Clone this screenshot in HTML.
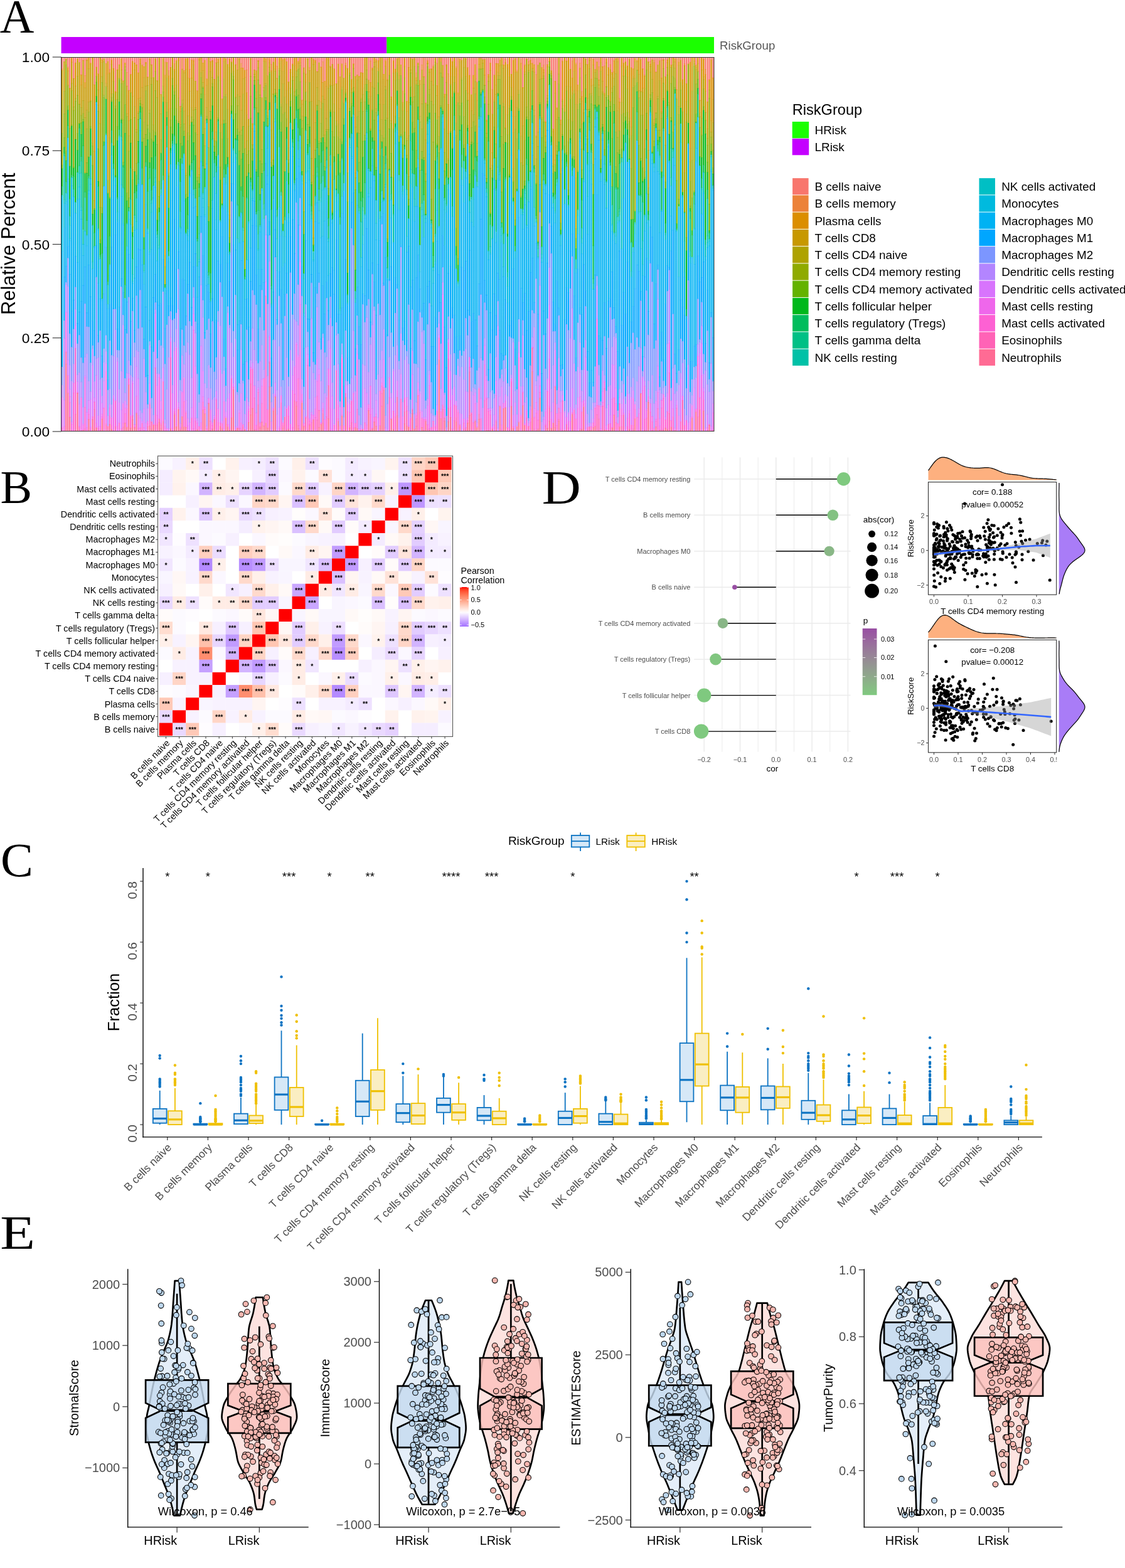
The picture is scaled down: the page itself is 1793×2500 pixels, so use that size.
<!DOCTYPE html>
<html><head><meta charset="utf-8"><title>Immune infiltration figure</title>
<style>html,body{margin:0;padding:0;background:#fff;} svg{display:block;}</style></head>
<body><svg width="1793" height="2500" viewBox="0 0 1793 2500" font-family="'Liberation Sans', Arial, Helvetica, sans-serif">
<rect width="1793" height="2500" fill="#fff"/>
<text transform="translate(-0.32 51.6) scale(1 1)" font-size="75.5" font-family="'Liberation Serif', 'Times New Roman', serif" fill="#000">A</text>
<rect x="97.6" y="59" width="518.68" height="26" fill="#C400FF"/>
<rect x="616.28" y="59" width="521.72" height="26" fill="#1BFF00"/>
<text x="1147" y="79.3" font-size="18.7" text-anchor="start" fill="#555">RiskGroup</text>
<path stroke="#F8766D" stroke-width="2.27" fill="none" d="M99 91.0v18.9M102.25 91.0v7.7M105.25 91.0v3.7M108.25 91.0v16.2M111.25 91.0v49.9M114.25 91.0v1.6M117.25 91.0v34.3M120.25 91.0v9.3M123.5 91.0v3.6M126.5 91.0v8.7M129.5 91.0v28.4M132.5 91.0v5.5M135.5 91.0v29.6M138.5 91.0v2.8M141.5 91.0v1.8M144.5 91.0v10.1M147.75 91.0v1.3M150.75 91.0v44.4M153.75 91.0v16.3M156.75 91.0v27.1M162.75 91.0v4.7M165.75 91.0v2.7M169 91.0v10.4M172 91.0v7.3M175 91.0v19.5M178 91.0v5.0M181 91.0v18.4M184 91.0v55.1M187 91.0v20.2M190 91.0v12.3M193.25 91.0v3.0M196.25 91.0v38.1M199.25 91.0v9.5M202.25 91.0v24.7M205.25 91.0v53.2M208.25 91.0v27.9M211.25 91.0v7.1M214.5 91.0v9.7M217.5 91.0v12.7M220.5 91.0v25.3M223.5 91.0v3.3M226.5 91.0v13.0M229.5 91.0v15.7M232.5 91.0v8.5M235.5 91.0v32.0M238.75 91.0v2.7M241.75 91.0v12.2M244.75 91.0v32.8M247.75 91.0v3.1M250.75 91.0v37.9M253.75 91.0v1.6M256.75 91.0v59.9M260 91.0v1.5M263 91.0v8.1M266 91.0v8.5M269 91.0v21.5M272 91.0v16.7M278 91.0v10.6M281 91.0v5.8M284.25 91.0v1.8M287.25 91.0v78.5M290.25 91.0v2.7M293.25 91.0v21.6M296.25 91.0v3.1M299.25 91.0v2.5M302.25 91.0v19.9M305.5 91.0v4.8M308.5 91.0v4.6M311.5 91.0v38.6M314.5 91.0v54.2M317.5 91.0v2.1M323.5 91.0v9.5M326.5 91.0v5.3M329.75 91.0v35.0M335.75 91.0v6.6M338.75 91.0v5.7M341.75 91.0v35.3M344.75 91.0v1.0M347.75 91.0v3.9M351 91.0v1.2M354 91.0v66.9M360 91.0v2.9M363 91.0v11.8M366 91.0v3.6M369 91.0v8.2M372 91.0v1.3M375.25 91.0v12.4M381.25 91.0v2.8M384.25 91.0v10.3M387.25 91.0v17.5M390.25 91.0v21.3M393.25 91.0v20.7M396.25 91.0v99.2M399.5 91.0v2.7M402.5 91.0v106.3M405.5 91.0v20.9M408.5 91.0v22.0M411.5 91.0v5.9M414.5 91.0v43.8M417.5 91.0v64.5M423.75 91.0v2.8M426.75 91.0v2.0M429.75 91.0v2.3M432.75 91.0v11.9M435.75 91.0v7.8M438.75 91.0v1.1M441.75 91.0v14.6M448 91.0v1.1M451 91.0v3.8M454 91.0v2.6M457 91.0v7.6M460 91.0v39.5M463 91.0v19.5M466.25 91.0v11.2M475.25 91.0v7.1M481.25 91.0v68.9M484.25 91.0v17.2M487.25 91.0v2.2M490.5 91.0v3.1M493.5 91.0v17.1M496.5 91.0v1.1M499.5 91.0v4.1M502.5 91.0v5.7M505.5 91.0v23.4M508.5 91.0v8.7M511.75 91.0v15.7M514.75 91.0v7.7M517.75 91.0v38.5M526.75 91.0v14.7M529.75 91.0v11.9M532.75 91.0v19.0M536 91.0v42.7M539 91.0v11.2M542 91.0v31.7M545 91.0v11.1M548 91.0v33.9M551 91.0v9.9M554 91.0v18.3M557.25 91.0v1.1M560.25 91.0v35.8M563.25 91.0v11.0M566.25 91.0v31.2M569.25 91.0v28.9M572.25 91.0v30.9M575.25 91.0v24.9M578.25 91.0v25.3M587.5 91.0v36.9M590.5 91.0v6.4M593.5 91.0v17.9M599.5 91.0v4.3M602.75 91.0v5.9M605.75 91.0v1.3M611.75 91.0v27.5M614.75 91.0v5.0M617.75 91.0v3.2M620.75 91.0v1.2M623.75 91.0v63.5M627 91.0v6.1M630 91.0v19.3M633 91.0v2.7M636 91.0v1.3M639 91.0v12.3M642 91.0v54.3M645 91.0v1.9M648.25 91.0v70.5M651.25 91.0v1.0M657.25 91.0v3.6M663.25 91.0v25.3M666.25 91.0v9.4M669.25 91.0v37.4M672.5 91.0v12.6M675.5 91.0v2.0M678.5 91.0v73.3M681.5 91.0v5.4M684.5 91.0v18.8M687.5 91.0v18.9M690.5 91.0v13.3M696.75 91.0v10.2M702.75 91.0v1.2M705.75 91.0v13.2M708.75 91.0v59.3M711.75 91.0v12.4M714.75 91.0v26.5M718 91.0v2.4M721 91.0v7.4M727 91.0v15.4M730 91.0v1.2M733 91.0v3.7M736 91.0v5.4M739.25 91.0v1.8M742.25 91.0v2.6M745.25 91.0v17.0M748.25 91.0v29.3M751.25 91.0v59.8M754.25 91.0v29.3M757.25 91.0v11.5M760.25 91.0v39.9M763.5 91.0v2.1M766.5 91.0v2.2M769.5 91.0v4.4M772.5 91.0v3.8M775.5 91.0v100.6M778.5 91.0v28.2M781.5 91.0v9.8M784.75 91.0v52.2M787.75 91.0v29.1M790.75 91.0v10.4M793.75 91.0v10.7M796.75 91.0v5.1M799.75 91.0v2.1M802.75 91.0v12.6M805.75 91.0v3.9M809 91.0v11.8M812 91.0v1.1M815 91.0v27.4M818 91.0v5.3M821 91.0v2.4M824 91.0v21.2M830.25 91.0v4.0M833.25 91.0v48.5M836.25 91.0v12.4M839.25 91.0v3.4M842.25 91.0v7.2M845.25 91.0v5.4M848.25 91.0v10.0M851.25 91.0v12.4M854.5 91.0v28.2M857.5 91.0v13.1M860.5 91.0v9.2M863.5 91.0v16.7M866.5 91.0v13.1M869.5 91.0v102.3M872.5 91.0v12.4M875.75 91.0v1.1M878.75 91.0v21.8M881.75 91.0v115.1M884.75 91.0v38.6M887.75 91.0v81.1M890.75 91.0v1.0M893.75 91.0v100.4M896.75 91.0v5.8M900 91.0v1.4M903 91.0v6.4M909 91.0v19.6M912 91.0v6.2M915 91.0v2.0M918 91.0v9.7M921 91.0v44.3M924.25 91.0v9.5M927.25 91.0v55.0M933.25 91.0v3.5M936.25 91.0v11.9M939.25 91.0v1.3M945.5 91.0v3.9M948.5 91.0v19.8M951.5 91.0v8.2M954.5 91.0v15.6M960.5 91.0v15.7M963.5 91.0v14.3M966.5 91.0v3.3M969.75 91.0v17.0M972.75 91.0v11.8M975.75 91.0v24.6M978.75 91.0v5.0M981.75 91.0v2.5M987.75 91.0v66.2M991 91.0v2.4M994 91.0v9.9M997 91.0v7.7M1000 91.0v14.3M1003 91.0v3.9M1006 91.0v17.1M1009 91.0v18.5M1012 91.0v2.3M1015.25 91.0v4.8M1018.25 91.0v1.2M1021.25 91.0v4.0M1024.25 91.0v18.5M1027.25 91.0v28.6M1030.25 91.0v0.9M1033.25 91.0v7.9M1036.5 91.0v7.2M1039.5 91.0v4.6M1042.5 91.0v5.6M1045.5 91.0v24.0M1048.5 91.0v12.7M1051.5 91.0v6.0M1054.5 91.0v5.2M1057.5 91.0v4.4M1060.75 91.0v31.3M1063.75 91.0v4.7M1069.75 91.0v12.8M1075.75 91.0v3.0M1078.75 91.0v3.3M1082 91.0v2.4M1085 91.0v5.4M1088 91.0v36.0M1091 91.0v10.6M1094 91.0v42.4M1097 91.0v11.2M1100 91.0v8.0M1103 91.0v1.5M1106.25 91.0v1.2M1109.25 91.0v13.0M1112.25 91.0v1.8M1115.25 91.0v69.0M1121.25 91.0v3.7M1124.25 91.0v19.6M1127.5 91.0v71.5M1130.5 91.0v36.4M1133.5 91.0v4.8M1136.5 91.0v33.2"/>
<path stroke="#EC8239" stroke-width="2.27" fill="none" d="M99 109.3v2.7M108.25 106.6v2.2M117.25 124.7v1.0M120.25 99.7v1.4M129.5 118.8v1.2M135.5 120.0v11.8M138.5 93.2v3.1M175 109.9v6.2M187 110.6v1.0M202.25 115.1v22.1M205.25 143.6v1.3M238.75 93.1v1.1M241.75 102.6v1.3M253.75 92.0v1.5M260 91.9v1.8M263 98.5v21.4M269 111.9v8.8M278 101.0v9.9M287.25 168.9v1.0M290.25 93.1v17.2M302.25 110.3v15.0M308.5 95.0v2.4M335.75 97.0v1.4M344.75 91.4v9.0M360 93.3v0.9M378.25 91.1v20.4M384.25 100.7v8.0M393.25 111.1v37.0M414.5 134.2v1.1M426.75 92.4v28.4M429.75 92.7v3.1M432.75 102.3v10.7M441.75 105.0v20.0M445 91.0v1.8M460 129.9v1.2M469.25 91.0v2.7M478.25 91.0v2.0M481.25 159.3v1.0M487.25 92.6v25.8M493.5 107.5v5.4M502.5 96.1v1.2M511.75 106.1v1.4M514.75 98.1v33.6M526.75 105.1v2.0M551 100.3v4.4M557.25 91.5v2.2M590.5 96.8v34.8M614.75 95.4v2.4M617.75 93.6v33.5M620.75 91.6v0.9M642 144.7v18.7M648.25 160.9v1.2M651.25 91.4v16.3M654.25 91.0v2.4M660.25 91.1v1.0M663.25 115.7v8.1M672.5 103.0v9.1M675.5 92.4v30.0M678.5 163.7v1.3M681.5 95.8v2.2M687.5 109.3v1.4M690.5 103.7v3.2M693.75 91.0v2.6M696.75 100.6v36.3M714.75 116.9v49.6M727 105.8v3.2M730 91.6v56.4M760.25 130.3v1.4M763.5 92.5v1.0M784.75 142.6v39.5M805.75 94.3v5.7M824 111.6v2.8M830.25 94.4v6.8M836.25 102.8v2.2M839.25 93.8v1.1M842.25 97.6v5.6M854.5 118.6v98.2M866.5 103.5v8.0M869.5 192.7v2.1M896.75 96.2v2.2M912 96.6v28.1M918 100.1v2.9M924.25 99.9v9.1M927.25 145.4v8.7M942.25 91.3v35.0M954.5 106.0v21.8M963.5 104.7v44.1M972.75 102.2v8.8M975.75 115.0v1.2M978.75 95.4v2.0M984.75 91.3v2.8M987.75 156.6v6.6M1009 108.9v1.2M1024.25 108.9v1.5M1027.25 119.0v2.7M1036.5 97.6v4.9M1042.5 96.0v4.0M1054.5 95.6v29.0M1060.75 121.7v1.3M1078.75 93.7v49.2M1082 92.8v6.6M1091 101.0v3.9M1100 98.4v1.2M1121.25 94.1v1.2M1124.25 110.0v9.0M1136.5 123.6v1.6"/>
<path stroke="#DB8E00" stroke-width="2.27" fill="none" d="M99 111.4v1.8M108.25 108.3v5.1M111.25 140.3v1.2M114.25 92.2v7.2M120.25 100.6v36.8M123.5 94.0v3.6M129.5 119.4v16.7M132.5 95.9v1.2M135.5 131.2v9.0M138.5 95.7v1.0M141.5 92.3v17.8M144.5 100.5v2.3M147.75 91.7v1.5M150.75 134.8v107.3M156.75 117.5v25.9M159.75 91.0v1.7M162.75 95.1v5.0M169 100.8v32.1M172 97.7v20.6M175 115.5v2.1M178 95.5v7.4M181 108.8v5.0M184 145.6v2.1M187 111.0v1.4M193.25 93.4v18.3M196.25 128.5v1.6M199.25 99.9v2.6M202.25 136.7v1.4M205.25 144.3v48.3M208.25 118.3v1.5M211.25 97.5v56.6M214.5 100.1v11.5M217.5 103.1v103.8M220.5 115.7v42.4M223.5 93.7v8.4M226.5 103.4v36.1M229.5 106.1v17.7M232.5 98.9v2.5M235.5 122.4v1.6M238.75 93.7v2.4M247.75 93.5v1.3M250.75 128.3v1.2M256.75 150.3v0.9M263 119.4v135.4M266 98.9v2.0M269 120.2v54.2M272 107.1v51.9M275 91.3v1.4M278 110.3v3.7M281 96.2v2.6M284.25 92.2v4.8M287.25 169.3v8.7M290.25 109.8v1.3M293.25 112.0v4.4M296.25 93.5v17.0M299.25 92.9v31.7M302.25 124.7v21.0M305.5 95.3v29.7M308.5 96.8v7.0M314.5 144.6v69.9M317.5 92.5v3.2M320.5 91.0v2.0M323.5 99.9v12.7M326.5 96.0v54.8M329.75 125.4v10.9M332.75 91.3v2.0M335.75 97.9v16.5M338.75 96.1v2.4M341.75 125.9v1.2M347.75 94.3v5.7M351 91.6v37.5M354 157.3v1.8M357 91.1v7.1M366 94.0v13.5M381.25 93.2v1.0M384.25 108.1v68.1M387.25 108.0v17.7M390.25 111.8v12.2M393.25 147.5v35.3M402.5 196.7v9.2M408.5 112.4v34.4M411.5 96.3v1.7M420.75 91.1v6.4M423.75 93.2v5.8M429.75 95.2v5.0M432.75 112.4v2.4M438.75 91.5v18.7M441.75 124.4v1.0M445 92.2v8.8M448 91.5v6.1M451 94.2v19.7M454 93.0v10.8M457 98.0v46.3M460 130.5v1.2M463 109.9v6.0M466.25 101.7v2.9M469.25 93.1v11.7M472.25 91.1v21.5M475.25 97.5v3.7M478.25 92.4v7.9M481.25 159.7v6.7M487.25 117.8v13.5M490.5 93.5v1.4M496.5 91.6v1.8M499.5 94.5v8.7M502.5 96.7v3.3M505.5 113.8v1.1M511.75 107.0v55.6M514.75 131.1v0.9M517.75 128.9v29.8M520.75 91.0v46.6M523.75 91.1v5.0M526.75 106.5v1.0M532.75 109.4v26.0M536 133.1v1.0M539 101.7v29.3M542 122.1v51.3M545 101.6v18.5M551 104.1v4.9M554 108.7v54.8M557.25 93.1v2.1M560.25 126.2v15.8M563.25 101.4v1.9M566.25 121.6v81.4M572.25 121.3v1.9M575.25 115.3v1.6M578.25 116.0v24.8M581.5 91.2v12.6M584.5 91.2v2.0M590.5 131.0v22.8M593.5 108.3v3.1M596.5 91.3v8.3M599.5 94.7v4.0M602.75 96.3v12.4M605.75 91.7v5.6M611.75 117.9v9.2M614.75 97.3v8.7M617.75 126.5v2.2M620.75 91.9v3.1M623.75 154.0v5.0M627 96.5v20.1M630 109.7v5.4M633 93.1v2.2M636 91.7v28.7M642 162.8v2.0M645 92.4v13.8M648.25 161.4v16.6M651.25 107.0v56.9M654.25 92.8v1.0M660.25 91.5v3.8M663.25 123.2v5.7M669.25 127.8v7.3M675.5 121.8v1.1M681.5 97.4v3.8M684.5 109.4v6.0M690.5 106.3v29.8M693.75 93.0v1.3M696.75 136.2v16.7M699.75 91.0v1.3M702.75 91.6v7.4M708.75 149.8v5.2M711.75 102.8v2.5M714.75 165.9v47.3M718 92.8v29.3M721 97.8v7.7M724 91.0v6.8M727 108.4v59.3M730 147.5v2.6M733 94.1v5.0M742.25 93.0v1.6M745.25 107.4v41.2M748.25 119.7v111.2M754.25 119.7v21.2M757.25 102.2v23.6M760.25 131.2v29.1M763.5 92.8v10.3M772.5 94.2v26.0M775.5 191.0v2.5M778.5 118.6v3.9M781.5 100.2v12.9M790.75 100.8v35.3M793.75 101.1v14.2M796.75 95.5v9.7M799.75 92.5v4.3M802.75 103.1v6.3M805.75 99.4v5.6M809 102.2v6.8M812 91.5v31.1M818 95.7v115.9M821 92.9v22.6M824 113.8v2.5M830.25 100.6v9.2M833.25 138.9v1.6M836.25 104.4v10.7M839.25 94.3v1.1M842.25 102.7v1.3M845.25 95.8v6.1M848.25 100.4v8.6M851.25 102.8v12.6M854.5 216.2v2.3M863.5 107.2v18.7M866.5 110.8v4.7M869.5 194.2v1.9M872.5 102.8v3.8M875.75 91.5v6.4M881.75 205.5v4.8M884.75 129.0v20.1M887.75 171.5v2.2M893.75 190.8v8.1M896.75 97.7v61.3M900 91.8v77.1M903 96.8v1.6M906 91.1v21.7M912 124.1v22.7M915 92.4v21.1M918 102.4v64.2M921 135.0v10.2M924.25 108.3v2.0M927.25 153.6v7.7M930.25 91.0v1.9M933.25 93.9v1.2M936.25 102.4v54.7M939.25 91.7v5.0M942.25 125.7v11.6M945.5 94.3v9.7M951.5 98.6v13.5M954.5 127.1v8.8M957.5 91.0v8.8M960.5 106.1v23.5M963.5 148.2v3.8M966.5 93.7v6.7M969.75 107.5v12.4M975.75 115.6v3.4M978.75 96.8v18.1M981.75 92.9v2.1M984.75 93.5v5.1M987.75 162.6v10.2M991 92.8v12.7M994 100.3v20.9M1000 104.7v17.9M1006 107.5v95.4M1009 109.5v11.3M1012 92.7v6.1M1015.25 95.4v3.5M1018.25 91.6v27.0M1021.25 94.4v51.2M1024.25 109.7v31.2M1027.25 121.1v20.7M1033.25 98.3v1.6M1036.5 102.0v4.2M1042.5 99.4v91.7M1045.5 114.4v1.2M1054.5 124.0v54.9M1057.5 94.8v1.4M1060.75 122.4v12.4M1063.75 95.1v5.2M1066.75 91.1v1.5M1069.75 103.2v4.3M1072.75 91.4v2.5M1075.75 93.4v5.8M1078.75 142.3v1.2M1082 98.8v5.6M1088 126.4v9.4M1091 104.3v1.0M1094 133.1v28.4M1100 99.0v137.5M1103 91.9v13.9M1106.25 91.6v5.9M1109.25 103.4v4.2M1112.25 92.2v9.4M1115.25 159.4v1.5M1118.25 91.1v20.6M1121.25 94.7v28.3M1124.25 118.4v27.6M1127.5 161.9v43.7M1130.5 126.8v3.0M1133.5 95.2v97.3M1136.5 124.6v34.4"/>
<path stroke="#C79800" stroke-width="2.27" fill="none" d="M99 112.6v47.4M102.25 98.1v47.4M105.25 94.1v1.6M108.25 112.7v23.5M111.25 140.9v63.5M114.25 98.8v34.4M117.25 125.1v45.6M120.25 136.8v20.4M123.5 96.9v25.2M126.5 99.2v67.2M129.5 135.4v36.1M132.5 96.6v64.1M135.5 139.7v48.0M138.5 96.0v80.0M141.5 109.5v53.5M144.5 102.2v58.9M147.75 92.6v135.2M150.75 241.6v78.7M153.75 106.7v15.0M156.75 142.8v25.2M159.75 92.1v105.4M162.75 99.5v22.9M165.75 93.2v5.5M169 132.3v5.6M172 117.7v169.6M175 117.1v103.1M178 102.3v47.4M181 113.2v17.0M184 147.1v12.2M187 111.8v35.7M190 102.7v21.9M193.25 111.1v16.3M196.25 129.4v3.4M199.25 101.9v4.8M202.25 137.4v44.0M205.25 192.0v25.0M208.25 119.2v28.6M211.25 153.6v117.3M214.5 111.0v58.8M217.5 206.3v4.9M220.5 157.4v20.9M223.5 101.5v54.7M226.5 138.9v28.3M229.5 123.2v71.6M232.5 100.8v36.6M235.5 123.4v13.5M238.75 95.5v80.0M241.75 103.3v21.3M244.75 123.3v75.9M247.75 94.2v20.0M250.75 128.9v27.0M253.75 92.9v195.8M256.75 150.7v31.1M260 93.2v44.0M263 254.2v153.1M266 100.3v24.3M269 173.8v101.7M272 158.4v14.7M275 92.1v13.2M278 113.4v27.1M281 98.2v37.9M284.25 96.4v59.9M287.25 177.4v21.1M290.25 110.4v49.6M293.25 115.7v61.5M296.25 109.9v166.3M299.25 124.0v61.2M302.25 145.0v55.2M305.5 124.3v47.5M308.5 103.2v72.8M311.5 129.0v42.5M314.5 213.9v68.6M317.5 95.1v173.2M320.5 92.5v23.3M323.5 112.0v19.9M326.5 150.2v55.2M329.75 135.7v35.8M332.75 92.7v142.1M335.75 113.8v63.8M338.75 97.8v26.1M341.75 126.4v95.6M344.75 99.8v110.7M347.75 99.3v21.4M351 128.6v70.7M354 158.6v39.5M357 97.6v27.2M360 93.6v56.9M363 102.2v72.3M366 106.9v236.3M369 98.6v2.5M372 91.7v21.9M375.25 102.8v52.3M378.25 110.9v40.4M381.25 93.6v60.6M384.25 175.6v32.1M387.25 125.0v25.3M390.25 123.4v113.3M393.25 182.2v42.4M396.25 189.7v11.5M399.5 93.1v29.1M402.5 205.4v25.8M405.5 111.3v7.4M408.5 146.2v11.0M411.5 97.3v11.0M414.5 135.0v16.7M417.5 155.2v69.6M420.75 97.0v42.8M423.75 98.5v34.9M426.75 120.2v59.1M429.75 99.7v7.7M432.75 114.2v93.1M435.75 98.4v51.2M438.75 109.7v4.2M441.75 124.8v23.9M445 100.4v9.3M448 97.0v68.8M451 113.3v20.6M454 103.2v51.9M457 143.8v22.4M460 131.1v104.5M463 115.3v25.2M466.25 104.0v18.7M469.25 104.2v42.2M472.25 112.0v2.0M475.25 100.6v9.2M478.25 99.8v5.3M481.25 165.8v19.5M484.25 107.7v8.8M487.25 130.8v16.2M490.5 94.3v94.5M493.5 112.2v19.6M496.5 92.8v69.3M499.5 102.6v177.2M502.5 99.4v96.1M505.5 114.3v25.7M508.5 99.4v61.2M511.75 162.0v11.6M514.75 131.5v21.9M517.75 158.1v57.3M520.75 137.0v52.2M523.75 95.5v45.1M526.75 106.9v28.8M529.75 102.3v34.6M532.75 134.7v31.4M536 133.5v59.6M539 130.4v67.7M542 172.8v38.2M545 119.5v19.6M548 124.3v39.7M551 108.4v34.5M554 162.9v112.5M557.25 94.6v22.4M560.25 141.4v6.3M563.25 102.8v6.6M566.25 202.4v73.8M569.25 119.3v8.8M572.25 122.6v55.5M575.25 116.4v40.8M578.25 140.2v11.1M581.5 103.2v31.5M584.5 92.6v19.5M587.5 127.6v19.1M590.5 153.2v52.2M593.5 110.8v28.2M596.5 99.0v8.0M599.5 98.1v75.4M602.75 108.2v5.5M605.75 96.8v69.6M608.75 91.2v99.4M611.75 126.5v40.6M614.75 105.4v32.9M617.75 128.1v60.9M620.75 94.4v25.9M623.75 158.4v34.3M627 116.0v88.6M630 114.5v13.8M633 94.6v9.5M636 119.8v6.8M639 102.9v17.7M642 164.2v13.0M645 105.6v18.7M648.25 177.5v43.6M651.25 163.3v53.3M654.25 93.2v18.7M657.25 94.1v60.7M660.25 94.7v11.6M663.25 128.3v5.8M666.25 99.9v2.8M669.25 134.5v51.0M672.5 111.6v54.1M678.5 164.5v58.8M681.5 100.6v1.1M684.5 114.7v27.9M687.5 110.1v19.5M690.5 135.5v31.8M693.75 93.7v5.7M696.75 152.3v38.3M699.75 91.8v94.6M705.75 103.7v19.3M708.75 154.4v51.8M711.75 104.7v27.3M714.75 212.5v40.8M718 121.6v13.1M721 105.0v49.8M724 97.2v25.3M727 167.1v29.2M730 149.5v14.1M733 98.5v54.3M736 95.8v28.7M739.25 92.3v15.8M742.25 94.0v28.1M745.25 148.0v12.0M748.25 230.3v3.1M751.25 150.5v26.1M754.25 140.3v42.6M757.25 125.2v5.2M760.25 159.7v68.8M763.5 102.5v7.1M766.5 92.6v16.7M769.5 94.8v6.4M772.5 119.6v15.9M775.5 192.9v19.8M778.5 121.9v7.6M781.5 112.5v155.8M784.75 181.7v62.0M787.75 119.5v40.3M790.75 135.6v15.1M793.75 114.7v6.4M796.75 104.6v16.0M799.75 96.2v7.8M802.75 108.8v56.0M805.75 104.4v99.8M809 108.5v74.6M812 122.0v46.6M815 117.9v21.7M818 211.0v57.5M821 114.9v71.2M824 115.7v55.7M827 91.0v53.0M830.25 109.2v108.1M833.25 139.9v60.5M836.25 114.5v4.1M839.25 94.8v1.0M842.25 103.4v9.0M845.25 101.3v72.6M848.25 108.4v1.7M851.25 114.8v61.4M854.5 217.9v35.7M857.5 103.5v107.1M860.5 99.7v2.3M863.5 125.3v62.8M866.5 114.9v6.5M869.5 195.5v21.7M872.5 106.0v46.6M875.75 97.3v1.2M878.75 112.3v5.1M881.75 209.7v51.1M884.75 148.5v106.9M887.75 173.1v17.6M890.75 91.4v26.9M893.75 198.3v39.5M896.75 158.4v3.0M900 168.3v9.7M903 97.8v39.7M906 112.2v78.7M909 110.0v28.9M912 146.2v5.6M915 112.9v31.4M918 165.9v118.2M921 144.6v21.2M924.25 109.7v14.6M927.25 160.7v36.9M930.25 92.3v82.8M933.25 94.5v8.7M936.25 156.5v18.4M939.25 96.1v13.3M942.25 136.6v12.6M945.5 103.4v32.5M948.5 110.2v5.9M954.5 135.3v5.5M957.5 99.2v14.5M960.5 129.0v18.2M963.5 151.4v57.1M966.5 99.8v38.7M969.75 119.3v33.1M972.75 110.7v51.2M975.75 118.4v22.2M978.75 114.3v11.0M981.75 94.4v23.3M984.75 97.9v79.2M987.75 172.2v36.9M991 104.8v58.6M994 120.6v1.1M997 98.2v9.9M1000 122.0v20.1M1003 94.3v94.1M1006 202.3v14.0M1009 120.2v5.2M1012 98.1v27.0M1015.25 98.2v13.7M1018.25 118.0v26.9M1021.25 145.0v1.7M1024.25 140.3v7.0M1027.25 141.2v96.6M1030.25 91.3v6.5M1033.25 99.3v140.6M1036.5 105.6v9.7M1039.5 95.0v32.1M1042.5 190.5v6.0M1045.5 115.0v65.0M1048.5 103.2v50.8M1051.5 96.4v32.3M1054.5 178.3v2.3M1057.5 95.6v13.9M1060.75 134.2v37.6M1063.75 99.6v8.1M1066.75 92.0v71.9M1069.75 107.0v1.1M1072.75 93.4v10.6M1075.75 98.6v10.0M1078.75 142.9v14.3M1082 103.8v65.9M1085 95.8v35.0M1088 135.2v41.7M1091 104.7v171.0M1094 160.9v20.6M1097 101.6v1.1M1100 235.9v22.3M1103 105.2v40.1M1106.25 96.9v5.2M1109.25 107.0v4.2M1112.25 101.0v13.1M1115.25 160.3v19.5M1118.25 111.1v77.5M1121.25 122.4v4.8M1124.25 145.4v33.9M1127.5 205.0v15.5M1130.5 129.2v14.4M1133.5 191.9v19.0M1136.5 158.4v37.6"/>
<path stroke="#AEA200" stroke-width="2.27" fill="none" d="M99 159.4v53.2M102.25 145.0v36.6M105.25 95.0v9.0M108.25 135.6v1.6M114.25 132.6v12.5M117.25 170.1v6.3M120.25 156.5v5.2M123.5 121.6v30.9M126.5 165.8v1.0M129.5 170.9v13.4M132.5 160.1v21.2M135.5 187.1v88.6M138.5 175.5v30.1M141.5 162.4v16.7M144.5 160.5v1.7M147.75 227.2v6.0M150.75 319.6v12.6M156.75 167.4v10.0M159.75 196.8v133.7M162.75 121.8v9.7M165.75 98.1v53.9M169 137.3v1.7M172 286.7v1.1M175 219.6v95.2M178 149.1v6.3M181 129.6v20.4M184 158.7v10.5M187 146.9v11.8M190 124.0v1.9M193.25 126.7v6.9M196.25 132.3v59.0M199.25 106.1v5.3M202.25 180.8v5.4M205.25 216.4v24.8M208.25 147.2v1.1M211.25 270.3v16.8M214.5 169.2v18.7M217.5 210.6v50.5M220.5 177.7v3.0M223.5 155.7v4.9M226.5 166.6v4.4M229.5 194.2v26.9M232.5 136.8v8.0M235.5 136.3v63.6M238.75 174.9v6.0M241.75 124.1v10.8M244.75 198.7v9.1M247.75 113.6v31.1M250.75 155.3v75.6M256.75 181.1v42.0M260 136.7v10.0M263 406.7v18.7M266 124.1v39.8M269 275.0v1.8M272 172.5v18.9M275 104.7v20.5M278 139.9v6.3M281 135.5v37.8M284.25 155.7v38.0M287.25 197.9v5.2M290.25 159.4v6.4M293.25 176.7v21.2M296.25 275.7v4.2M299.25 184.6v27.5M302.25 199.6v17.4M305.5 171.2v15.4M308.5 175.4v15.6M311.5 170.9v4.0M317.5 267.8v11.0M320.5 115.2v8.6M323.5 131.3v8.0M326.5 204.8v27.8M329.75 170.9v14.7M332.75 234.2v1.3M335.75 176.9v1.0M338.75 123.3v9.9M341.75 221.5v3.0M344.75 209.9v14.6M347.75 120.2v3.1M351 198.6v13.1M354 197.5v24.0M357 124.2v29.9M360 149.9v4.7M363 173.8v47.3M366 342.6v7.6M369 100.6v16.4M372 113.0v8.5M375.25 154.5v1.7M378.25 150.7v18.2M381.25 153.6v57.3M384.25 207.1v9.0M387.25 149.8v51.9M393.25 223.9v22.6M396.25 200.7v39.9M399.5 121.6v32.5M405.5 118.1v4.6M408.5 156.6v15.6M411.5 107.8v20.1M414.5 151.1v4.4M417.5 224.2v14.5M420.75 139.1v6.0M423.75 132.7v3.9M426.75 178.7v6.4M429.75 106.7v9.2M432.75 206.7v52.7M435.75 149.0v1.7M438.75 113.2v29.5M441.75 148.1v7.5M445 109.1v3.6M448 165.2v5.5M451 133.3v48.9M454 154.6v24.8M457 165.6v23.2M460 234.9v19.7M463 139.9v9.9M466.25 122.1v6.8M469.25 145.8v7.1M472.25 113.4v9.5M475.25 109.2v1.9M478.25 104.5v26.4M481.25 184.7v7.7M484.25 115.9v70.4M490.5 188.2v10.5M496.5 161.5v91.4M499.5 279.3v100.6M502.5 194.9v27.4M505.5 139.3v28.6M508.5 160.0v65.3M511.75 173.0v23.6M514.75 152.7v12.5M517.75 214.7v12.7M520.75 188.6v18.3M523.75 140.1v66.6M526.75 135.1v2.6M529.75 136.3v73.3M532.75 165.5v13.6M536 192.5v8.7M539 197.4v20.4M542 210.4v11.3M545 138.5v4.8M548 163.4v1.9M551 142.4v5.1M557.25 116.3v3.9M560.25 147.1v18.2M563.25 108.7v30.8M566.25 275.6v8.3M569.25 127.5v58.3M572.25 177.5v35.4M575.25 156.6v2.6M578.25 150.6v27.3M581.5 134.2v28.9M584.5 111.5v14.9M587.5 146.0v11.8M590.5 204.8v1.8M593.5 138.4v36.4M596.5 106.3v34.2M599.5 172.9v6.6M605.75 165.7v42.5M608.75 189.9v26.2M611.75 166.5v53.8M614.75 137.6v5.7M617.75 188.3v65.8M623.75 192.1v4.9M627 204.0v2.6M630 127.7v57.6M633 103.5v12.3M636 126.1v61.4M642 176.6v39.2M645 123.7v25.8M648.25 220.5v3.9M651.25 216.0v65.5M654.25 111.3v5.1M657.25 154.2v8.3M660.25 105.8v48.5M663.25 133.5v1.9M666.25 102.1v4.3M669.25 184.9v10.0M672.5 165.1v40.9M675.5 122.5v12.5M678.5 222.7v54.7M681.5 101.0v5.9M684.5 142.0v8.8M687.5 129.0v32.5M690.5 166.7v60.1M693.75 98.8v5.3M699.75 185.8v32.3M702.75 98.7v17.7M705.75 122.4v1.7M708.75 205.6v37.8M711.75 131.3v19.9M714.75 252.7v2.8M718 134.1v2.9M721 154.2v1.0M724 122.0v9.9M727 195.7v20.4M730 163.0v1.3M733 152.2v16.4M736 123.9v3.8M739.25 107.5v78.3M742.25 121.5v23.1M745.25 159.4v1.5M751.25 176.0v27.6M754.25 182.4v12.0M757.25 129.8v20.3M760.25 227.9v14.0M763.5 108.9v2.3M766.5 108.8v1.9M769.5 100.5v9.0M772.5 134.9v1.8M775.5 212.1v7.9M778.5 129.0v37.4M781.5 267.8v1.2M784.75 243.1v21.0M787.75 159.3v3.8M790.75 150.1v79.7M793.75 120.5v6.4M796.75 120.1v6.6M799.75 103.4v114.3M802.75 164.2v6.1M805.75 203.6v1.8M809 182.5v32.6M812 168.0v4.6M815 139.1v15.1M818 267.9v20.7M821 185.4v20.7M824 170.7v50.6M827 143.5v7.3M830.25 216.7v43.2M833.25 199.9v64.0M836.25 118.0v105.8M839.25 95.2v75.3M842.25 111.7v3.9M845.25 173.4v4.8M848.25 109.5v4.7M851.25 175.6v9.5M854.5 253.0v27.3M857.5 210.0v23.9M860.5 101.4v25.7M863.5 187.6v2.7M866.5 120.8v4.3M869.5 216.6v10.4M872.5 152.0v4.5M875.75 97.9v1.1M878.75 116.7v3.7M881.75 260.3v4.9M884.75 254.8v8.3M887.75 190.1v42.4M890.75 117.7v16.1M893.75 237.2v40.1M896.75 160.8v12.5M900 177.4v2.0M903 136.9v8.4M906 190.3v36.1M909 138.3v19.5M912 151.2v42.9M915 143.7v6.2M918 283.6v81.3M921 165.2v9.4M924.25 123.7v34.0M927.25 197.0v40.6M930.25 174.5v5.7M933.25 102.6v17.0M936.25 174.3v11.6M939.25 108.9v41.1M942.25 148.7v4.1M945.5 135.4v32.3M948.5 115.6v9.5M951.5 111.7v13.7M954.5 140.2v13.5M957.5 113.2v92.0M960.5 146.6v3.4M966.5 137.8v1.2M972.75 161.3v1.7M975.75 140.0v7.9M978.75 124.6v13.0M981.75 117.1v93.4M984.75 176.6v42.8M991 162.8v20.2M994 121.1v59.5M997 107.5v4.5M1000 141.5v37.9M1003 187.8v5.8M1006 215.7v52.8M1009 124.8v14.8M1012 124.6v12.5M1015.25 111.3v1.4M1018.25 144.3v11.9M1021.25 146.1v38.0M1024.25 146.8v37.3M1027.25 237.1v36.6M1030.25 97.3v14.8M1033.25 239.3v60.8M1036.5 114.7v36.7M1039.5 126.5v21.5M1042.5 195.9v4.0M1045.5 179.4v1.3M1048.5 153.5v4.5M1051.5 128.2v79.7M1054.5 180.0v9.1M1057.5 108.9v23.6M1060.75 171.2v60.7M1063.75 107.1v12.8M1066.75 163.3v4.8M1069.75 107.5v26.0M1072.75 103.3v18.5M1075.75 108.0v16.8M1078.75 156.6v1.8M1082 169.1v13.4M1085 130.2v13.4M1088 176.4v2.6M1091 275.1v28.8M1094 180.9v13.6M1097 102.1v2.2M1100 257.6v31.4M1103 144.7v110.8M1106.25 101.5v4.5M1109.25 110.6v23.6M1112.25 113.5v1.4M1115.25 179.2v7.2M1118.25 188.0v27.5M1121.25 126.6v15.4M1124.25 178.7v0.9M1127.5 219.9v12.1M1130.5 143.0v14.2M1133.5 210.3v8.3M1136.5 195.4v44.2"/>
<path stroke="#8FAA00" stroke-width="2.27" fill="none" d="M99 212.1v51.4M102.25 181.0v38.6M105.25 103.5v137.3M108.25 136.7v32.1M111.25 204.0v61.2M114.25 144.5v55.1M117.25 175.8v90.9M120.25 161.1v61.2M123.5 151.8v61.0M126.5 166.2v31.0M129.5 183.7v12.5M132.5 180.7v9.9M135.5 275.0v1.6M138.5 205.0v54.8M141.5 178.5v71.8M144.5 161.6v40.2M147.75 232.6v31.6M153.75 121.3v10.1M156.75 176.9v60.8M159.75 329.9v52.4M162.75 131.0v199.8M165.75 151.4v4.0M169 138.4v19.5M172 287.2v20.7M175 314.1v1.1M178 154.7v5.9M181 149.4v83.0M184 168.6v5.3M187 158.1v43.8M190 125.3v2.6M193.25 133.0v57.1M196.25 190.7v68.5M199.25 110.9v56.1M202.25 185.6v122.5M205.25 240.7v75.2M208.25 147.8v43.1M211.25 286.5v75.6M214.5 187.3v86.5M217.5 260.5v19.3M220.5 180.1v10.6M223.5 159.9v5.3M226.5 170.4v1.9M229.5 220.5v158.1M232.5 144.3v70.7M235.5 199.3v6.8M238.75 180.3v31.5M241.75 134.3v87.8M244.75 207.2v17.4M247.75 144.1v66.7M250.75 230.3v103.5M253.75 288.3v25.4M256.75 222.6v21.2M260 146.1v9.0M263 424.8v28.7M266 163.2v15.4M269 276.2v4.7M272 190.8v11.9M275 124.6v11.9M278 145.6v6.2M281 172.7v19.2M284.25 193.1v3.8M287.25 202.5v26.7M290.25 165.2v6.6M293.25 197.2v12.0M296.25 279.3v30.5M299.25 211.5v13.0M302.25 216.5v46.0M305.5 186.0v8.7M308.5 190.5v9.1M311.5 174.3v37.5M314.5 282.0v6.9M317.5 278.1v4.7M320.5 123.2v27.0M323.5 138.6v2.3M326.5 232.0v37.2M329.75 184.9v4.5M332.75 235.0v95.0M335.75 177.3v12.9M338.75 132.7v5.8M341.75 223.9v9.5M344.75 223.9v2.4M347.75 122.6v65.2M351 211.1v55.3M354 220.9v103.8M357 153.6v38.4M360 154.0v42.9M363 220.5v30.5M366 349.6v29.3M369 116.4v52.6M372 120.9v6.5M375.25 155.6v26.0M378.25 168.3v37.7M381.25 210.2v31.0M384.25 215.5v38.7M387.25 201.1v1.0M390.25 236.3v193.3M393.25 245.9v35.3M396.25 239.9v22.6M399.5 153.5v35.6M402.5 230.6v7.3M405.5 122.1v6.6M408.5 171.6v99.4M411.5 127.3v52.4M414.5 154.9v101.7M417.5 238.0v23.4M420.75 144.6v49.9M423.75 136.1v19.5M426.75 184.6v4.0M429.75 115.3v2.4M432.75 258.7v7.8M435.75 150.1v105.3M438.75 142.1v6.9M441.75 155.0v19.0M445 112.1v9.3M448 170.1v24.7M451 181.6v175.5M454 178.8v94.7M457 188.2v14.4M460 254.0v6.3M463 149.2v12.4M466.25 128.2v78.5M469.25 152.4v36.8M472.25 122.3v20.5M475.25 110.4v41.1M478.25 130.3v41.5M481.25 191.8v13.2M484.25 185.7v152.2M487.25 146.4v14.9M490.5 198.1v24.5M493.5 131.2v31.8M496.5 252.3v38.2M499.5 379.3v11.1M502.5 221.7v18.2M505.5 167.3v1.7M508.5 224.7v3.9M511.75 196.0v25.2M514.75 164.6v54.9M517.75 226.9v39.0M520.75 206.3v3.8M523.75 206.1v94.3M526.75 137.1v39.0M529.75 209.0v127.9M532.75 178.5v39.9M536 200.6v80.3M539 217.2v28.7M542 221.1v36.5M545 142.7v83.1M548 164.7v24.6M551 146.8v3.1M554 275.0v46.9M557.25 119.6v53.0M560.25 164.7v4.1M563.25 139.0v6.7M566.25 283.3v19.3M569.25 185.2v26.5M572.25 212.3v46.9M575.25 158.6v4.8M578.25 177.3v48.1M581.5 162.5v53.6M584.5 125.8v9.0M587.5 157.2v10.3M590.5 206.0v2.3M593.5 174.2v2.8M596.5 139.9v51.7M599.5 178.9v88.5M602.75 113.2v19.1M605.75 207.6v40.2M608.75 215.6v10.0M611.75 219.8v30.4M614.75 142.8v48.9M617.75 253.5v127.6M620.75 119.8v86.2M623.75 196.5v48.2M627 206.0v76.8M630 184.7v12.1M633 115.3v29.7M636 186.9v30.3M639 120.0v94.6M642 215.2v15.4M645 148.9v61.6M648.25 223.8v24.1M651.25 280.9v37.4M654.25 115.8v23.0M657.25 161.9v32.9M660.25 153.7v51.4M663.25 134.9v105.3M666.25 105.8v30.9M669.25 194.3v77.7M672.5 205.4v36.5M675.5 134.4v117.3M678.5 276.8v12.6M681.5 106.4v61.1M684.5 150.2v30.0M687.5 161.0v157.1M690.5 226.1v160.0M693.75 103.5v77.0M696.75 190.2v39.9M699.75 217.5v26.1M702.75 115.8v53.3M705.75 123.5v51.2M708.75 242.8v29.9M711.75 150.6v110.4M714.75 254.9v29.3M718 136.4v73.6M721 154.6v81.6M724 131.3v15.3M727 215.5v148.4M730 163.7v248.7M733 168.1v16.9M736 127.0v37.4M739.25 185.2v45.6M742.25 143.9v103.8M745.25 160.3v40.0M748.25 233.0v45.7M751.25 203.0v23.7M754.25 193.7v34.6M757.25 149.4v51.3M760.25 241.3v7.7M763.5 110.7v18.6M766.5 110.1v37.8M769.5 109.0v33.6M772.5 136.1v18.9M775.5 219.4v65.3M778.5 165.7v18.3M781.5 268.3v71.7M784.75 263.5v8.0M787.75 162.4v40.2M790.75 229.1v22.5M793.75 126.3v22.4M796.75 126.0v41.5M799.75 217.1v89.3M802.75 169.7v60.6M805.75 204.8v22.4M809 214.5v13.8M812 172.0v106.3M815 153.5v6.2M818 287.9v3.0M821 205.6v144.9M824 220.7v32.6M827 150.1v23.5M830.25 259.3v53.9M833.25 263.2v38.2M836.25 223.2v65.3M839.25 169.9v17.0M842.25 115.0v76.0M845.25 177.6v94.2M848.25 113.6v30.9M851.25 184.6v79.1M854.5 279.8v12.9M857.5 233.3v151.8M860.5 126.5v37.3M863.5 189.7v30.3M866.5 124.5v70.5M869.5 226.4v8.1M872.5 155.9v6.3M875.75 98.4v8.8M878.75 119.9v6.1M881.75 264.5v12.5M884.75 262.5v11.3M887.75 232.0v8.6M890.75 133.2v54.2M893.75 276.7v79.4M896.75 172.7v42.3M900 178.8v54.2M903 144.6v98.8M906 225.8v77.1M909 157.2v51.0M912 193.5v56.3M915 149.3v100.3M918 364.2v16.0M921 173.9v97.9M924.25 157.1v8.6M927.25 237.0v34.2M930.25 179.6v14.4M933.25 118.9v23.2M936.25 185.3v36.6M939.25 149.4v25.0M942.25 152.2v13.3M945.5 167.1v95.4M948.5 124.5v15.0M951.5 124.7v45.1M954.5 153.2v14.0M957.5 204.6v50.2M960.5 149.5v49.1M963.5 208.1v30.9M966.5 138.4v17.2M969.75 151.9v7.8M972.75 162.5v7.2M975.75 147.2v73.8M978.75 137.0v29.6M981.75 209.9v56.1M984.75 218.8v24.7M987.75 208.6v30.7M991 182.5v55.2M994 180.0v15.5M997 111.4v75.4M1000 178.8v19.1M1003 193.1v28.0M1006 267.9v81.8M1009 139.0v32.9M1012 136.5v199.6M1015.25 112.1v19.6M1018.25 155.6v76.5M1021.25 183.4v69.2M1024.25 183.5v84.3M1027.25 273.2v9.9M1030.25 111.5v69.4M1033.25 299.5v10.0M1036.5 150.8v6.8M1039.5 147.4v94.2M1042.5 199.3v25.9M1045.5 180.1v9.2M1048.5 157.3v50.5M1051.5 207.3v11.2M1054.5 188.4v85.1M1057.5 132.0v25.4M1060.75 231.3v59.0M1063.75 119.3v25.0M1066.75 167.4v46.6M1069.75 132.8v54.9M1072.75 121.2v89.8M1075.75 124.2v15.7M1078.75 157.9v130.3M1082 181.9v135.8M1085 143.0v29.5M1088 178.3v128.4M1091 303.3v34.6M1094 193.9v184.6M1097 103.7v92.9M1100 288.4v39.9M1103 255.0v60.9M1106.25 105.4v199.2M1109.25 133.6v48.2M1112.25 114.4v12.0M1115.25 185.8v17.6M1118.25 214.8v2.0M1121.25 141.4v28.9M1124.25 179.1v13.2M1127.5 231.4v27.1M1130.5 156.5v169.1M1133.5 218.0v12.0M1136.5 239.1v28.7"/>
<path stroke="#64B200" stroke-width="2.27" fill="none" d="M99 262.8v6.3M102.25 218.9v16.2M105.25 240.2v16.2M108.25 168.2v7.8M114.25 199.1v2.4M117.25 266.1v2.5M120.25 221.7v1.0M123.5 212.2v27.9M126.5 196.5v1.6M129.5 195.6v19.0M132.5 190.0v4.3M138.5 259.1v17.3M141.5 249.7v1.3M144.5 201.2v4.6M147.75 263.6v78.0M150.75 331.9v3.3M153.75 130.8v23.3M156.75 237.1v52.6M159.75 381.7v7.0M162.75 330.2v10.7M165.75 154.9v71.4M169 157.4v1.1M172 307.3v1.9M175 314.7v2.1M178 160.0v3.1M181 231.8v1.2M184 173.3v107.0M187 201.3v23.3M190 127.4v35.1M193.25 189.5v2.1M196.25 258.5v5.5M199.25 166.4v46.1M202.25 307.5v12.8M205.25 315.3v15.8M208.25 190.3v38.1M211.25 361.4v9.4M214.5 273.2v0.9M217.5 279.2v16.9M220.5 190.1v35.6M223.5 164.6v5.2M226.5 171.7v54.9M232.5 214.3v19.1M235.5 205.5v17.7M238.75 211.2v48.4M241.75 221.4v30.1M244.75 224.0v2.9M247.75 210.2v6.6M250.75 333.2v18.1M253.75 313.1v18.8M256.75 243.2v1.9M260 154.6v8.5M263 452.9v1.0M266 178.1v9.5M269 280.3v51.5M272 202.1v34.5M275 135.9v78.0M278 151.1v34.0M281 191.2v38.2M287.25 228.6v25.0M290.25 171.2v61.9M293.25 208.7v8.9M296.25 309.2v7.8M299.25 224.0v90.7M302.25 261.9v2.6M305.5 194.1v2.0M308.5 199.0v28.9M311.5 211.2v37.1M314.5 288.3v57.1M317.5 282.3v10.9M320.5 149.6v8.3M323.5 140.3v74.4M326.5 268.5v1.1M329.75 188.8v2.1M332.75 329.4v24.0M335.75 189.6v1.8M338.75 137.9v31.2M341.75 232.8v9.9M344.75 225.7v23.8M347.75 187.3v3.7M351 265.8v21.5M354 324.1v1.4M357 191.3v6.4M360 196.3v66.0M363 250.4v1.1M366 378.3v9.9M369 168.3v9.0M372 126.8v64.5M375.25 181.0v40.4M378.25 205.4v10.5M381.25 240.6v23.4M384.25 253.6v44.2M387.25 201.5v43.4M390.25 429.0v1.1M393.25 280.6v1.4M396.25 261.9v13.9M399.5 188.5v95.5M402.5 237.3v19.5M405.5 128.1v7.9M408.5 270.4v4.1M411.5 179.1v2.1M414.5 256.0v54.4M417.5 260.8v16.1M423.75 154.9v6.0M426.75 188.0v13.0M429.75 117.2v46.9M435.75 254.8v9.4M438.75 148.5v3.9M445 120.8v22.1M448 194.2v16.5M451 356.5v1.5M454 272.9v1.3M457 202.0v1.8M460 259.7v16.7M463 161.0v9.5M466.25 206.1v1.6M469.25 188.6v1.9M472.25 142.2v12.1M475.25 150.9v23.5M478.25 171.3v19.1M481.25 204.4v69.1M484.25 337.3v36.8M487.25 160.7v25.8M490.5 222.0v8.7M493.5 162.4v40.1M496.5 289.9v5.0M499.5 389.7v2.3M502.5 239.3v13.8M505.5 168.4v8.7M508.5 228.0v20.3M511.75 220.6v7.0M517.75 265.2v7.3M520.75 209.4v25.7M523.75 299.7v12.3M526.75 175.5v3.6M529.75 336.4v3.7M532.75 217.8v32.5M536 280.3v20.9M539 245.3v1.0M542 257.1v19.1M545 225.2v5.1M548 188.7v10.7M551 149.3v7.2M554 321.4v114.1M557.25 172.0v5.6M560.25 168.2v18.8M563.25 145.1v3.0M566.25 302.0v128.9M569.25 211.1v1.9M572.25 258.5v33.1M575.25 162.8v143.6M578.25 224.8v26.0M581.5 215.5v9.3M584.5 134.2v11.6M590.5 207.7v1.5M593.5 176.4v43.6M596.5 191.1v33.9M599.5 266.8v4.9M602.75 131.7v19.5M605.75 247.3v30.4M608.75 225.0v2.1M611.75 249.6v66.6M614.75 191.1v42.9M617.75 380.5v6.0M620.75 205.3v64.9M623.75 244.1v38.8M627 282.2v44.6M630 196.2v1.7M636 216.6v10.3M639 214.0v3.2M642 230.0v22.4M645 209.9v21.6M648.25 247.3v5.8M651.25 317.6v10.7M654.25 138.2v17.2M657.25 194.2v18.5M660.25 204.5v7.3M663.25 239.5v28.3M666.25 136.1v34.3M669.25 271.3v59.7M672.5 241.3v13.0M675.5 251.0v5.0M678.5 288.8v52.7M681.5 166.8v20.2M687.5 317.5v33.4M690.5 385.5v1.8M693.75 179.9v76.6M696.75 229.5v2.8M699.75 243.0v42.4M702.75 168.5v3.8M705.75 174.2v3.5M708.75 272.1v23.1M711.75 260.4v1.4M718 209.3v3.0M721 235.6v1.9M724 146.0v3.2M727 363.4v29.6M730 411.7v11.4M733 184.4v23.1M736 163.8v35.3M739.25 230.2v6.7M742.25 247.2v3.0M745.25 199.7v4.8M748.25 278.1v15.1M751.25 226.1v4.8M754.25 227.7v43.3M757.25 200.2v10.4M760.25 248.4v1.1M763.5 128.7v1.2M766.5 147.2v3.0M769.5 142.0v2.3M772.5 154.4v11.7M775.5 284.1v6.7M781.5 339.4v2.1M784.75 270.9v13.3M787.75 202.1v6.2M790.75 251.0v36.6M793.75 148.1v1.7M799.75 305.8v49.5M802.75 229.7v38.9M805.75 226.6v1.1M809 227.7v145.7M812 277.6v3.2M818 290.3v25.8M821 349.9v10.4M824 252.8v48.7M827 173.0v4.4M830.25 312.5v3.0M836.25 287.9v8.7M839.25 186.3v4.5M842.25 190.4v28.1M845.25 271.2v1.9M848.25 143.9v24.6M851.25 263.0v2.1M854.5 292.1v2.4M857.5 384.6v1.7M860.5 163.3v3.9M863.5 219.4v142.2M866.5 194.4v58.2M869.5 234.0v10.0M872.5 161.6v4.7M875.75 106.6v12.3M878.75 125.3v92.8M881.75 276.5v31.7M884.75 273.2v1.4M887.75 240.0v7.4M890.75 186.7v39.7M893.75 355.5v11.6M896.75 214.5v3.2M900 232.5v12.3M903 242.9v4.4M906 302.3v9.9M909 207.6v13.4M912 249.2v3.9M915 249.0v6.0M918 379.7v16.9M921 271.3v3.6M924.25 165.1v40.8M927.25 270.6v14.1M930.25 193.4v2.1M933.25 141.5v14.7M936.25 221.3v22.3M939.25 173.8v3.8M942.25 164.9v65.3M945.5 261.9v48.4M948.5 138.9v28.7M951.5 169.2v1.7M954.5 166.6v1.8M957.5 254.2v14.6M960.5 198.0v4.9M963.5 238.5v10.3M966.5 155.0v16.4M969.75 159.0v51.7M972.75 169.0v10.0M975.75 220.5v77.4M978.75 166.0v11.9M981.75 265.4v11.5M984.75 242.9v56.4M987.75 238.7v7.7M991 237.0v15.1M994 194.9v20.4M997 186.1v6.9M1000 197.3v9.5M1003 220.5v33.0M1006 349.1v1.5M1009 171.3v178.6M1012 335.4v2.1M1015.25 131.2v15.3M1018.25 231.5v60.2M1021.25 252.1v5.0M1024.25 267.2v22.2M1027.25 282.5v3.6M1030.25 180.3v26.9M1033.25 308.9v28.2M1036.5 156.9v3.7M1039.5 240.9v2.8M1042.5 224.6v9.5M1045.5 188.7v8.8M1048.5 207.2v17.0M1051.5 217.9v1.3M1054.5 273.0v2.3M1057.5 156.8v4.2M1060.75 289.7v11.1M1063.75 143.7v2.5M1066.75 213.5v1.4M1069.75 187.1v5.5M1072.75 210.4v26.3M1075.75 139.3v3.8M1078.75 287.5v69.5M1082 317.1v8.8M1091 337.3v1.5M1094 378.0v21.8M1100 327.7v4.8M1103 315.3v52.7M1106.25 304.0v3.4M1109.25 181.2v13.4M1112.25 125.8v15.4M1115.25 202.8v47.3M1118.25 216.2v35.4M1121.25 169.7v6.5M1124.25 191.6v22.3M1127.5 257.9v17.1M1130.5 325.0v43.2M1133.5 229.4v12.5M1136.5 267.2v10.5"/>
<path stroke="#00B81B" stroke-width="2.27" fill="none" d="M99 268.5v29.0M102.25 234.5v10.5M105.25 255.8v34.4M108.25 175.5v25.6M111.25 264.8v52.7M114.25 200.9v78.9M117.25 268.0v13.4M120.25 222.1v100.2M123.5 239.5v35.4M126.5 197.5v7.0M129.5 214.0v36.0M132.5 193.7v39.2M135.5 276.2v30.2M138.5 275.8v76.2M141.5 250.4v30.3M144.5 205.2v43.1M147.75 341.0v17.5M150.75 334.7v37.0M153.75 153.5v9.8M156.75 289.1v8.5M159.75 388.1v18.5M162.75 340.2v64.2M165.75 225.7v6.7M169 157.9v55.2M172 308.6v141.0M175 316.2v61.0M178 162.5v46.3M181 232.4v29.0M184 279.7v2.2M187 224.0v90.9M190 161.9v45.4M193.25 191.0v5.6M196.25 263.4v3.7M199.25 211.9v242.7M202.25 319.7v35.9M205.25 330.5v1.4M208.25 227.8v40.7M211.25 370.3v7.4M214.5 273.5v34.6M217.5 295.5v9.8M220.5 225.1v34.6M223.5 169.2v10.0M226.5 226.0v42.8M229.5 378.2v19.2M232.5 232.8v25.8M235.5 222.6v82.9M238.75 259.1v9.0M241.75 251.0v52.6M244.75 226.3v42.7M247.75 216.1v33.2M250.75 350.7v17.7M253.75 331.3v7.5M256.75 244.5v11.0M260 162.5v118.3M263 453.3v4.6M266 187.0v13.9M269 331.2v69.8M272 236.0v4.0M275 213.3v11.8M278 184.5v31.7M281 228.8v33.7M284.25 196.2v62.5M287.25 253.0v37.1M290.25 232.4v19.1M293.25 217.0v28.2M296.25 316.4v54.1M299.25 314.1v29.1M302.25 263.9v16.2M305.5 195.6v64.3M308.5 227.3v27.9M311.5 247.7v53.2M314.5 344.8v35.9M317.5 292.6v6.9M320.5 157.2v25.3M323.5 214.1v50.8M326.5 269.0v29.7M329.75 190.3v1.4M332.75 352.8v81.6M335.75 190.8v245.3M338.75 168.5v41.7M341.75 242.1v12.4M344.75 248.9v15.6M347.75 190.4v3.4M351 286.7v64.5M354 324.9v2.6M357 197.1v73.6M360 261.7v16.5M363 250.8v11.2M366 387.6v13.6M369 176.7v4.7M372 190.6v46.0M375.25 220.8v1.9M378.25 215.3v8.6M381.25 263.4v81.7M384.25 297.2v7.6M387.25 244.2v69.5M390.25 429.5v11.7M393.25 281.3v33.7M396.25 275.2v1.4M399.5 283.4v3.0M402.5 256.3v45.3M405.5 135.4v36.9M408.5 273.8v63.9M411.5 180.5v101.2M414.5 309.8v9.5M417.5 276.3v24.2M420.75 194.1v78.6M423.75 160.3v14.6M426.75 200.4v2.3M429.75 163.4v11.8M432.75 265.9v68.6M435.75 263.6v17.3M438.75 151.7v3.0M441.75 173.5v160.9M445 142.3v64.6M448 210.1v96.1M451 357.3v10.7M454 273.5v72.7M457 203.1v18.4M460 275.8v18.8M463 169.9v26.0M466.25 207.1v15.0M469.25 189.9v97.3M472.25 153.8v22.6M475.25 173.8v30.9M478.25 189.8v26.4M481.25 272.9v6.1M484.25 373.5v63.0M487.25 185.9v21.9M490.5 230.1v14.0M493.5 201.9v26.7M496.5 294.2v34.4M499.5 391.4v8.9M502.5 252.4v59.9M505.5 176.5v59.6M508.5 247.7v54.2M511.75 227.0v32.6M514.75 219.0v21.7M517.75 271.9v26.6M520.75 234.5v3.0M523.75 311.4v37.0M526.75 178.4v8.1M529.75 339.5v3.7M532.75 249.6v8.8M536 300.7v2.8M539 245.7v34.2M542 275.6v71.3M545 229.7v22.5M548 198.8v80.5M551 156.0v4.2M554 434.9v34.3M557.25 177.0v43.1M560.25 186.4v26.3M563.25 147.4v23.4M566.25 430.3v34.4M569.25 212.4v22.3M572.25 291.1v16.9M575.25 305.8v15.1M578.25 250.2v65.3M581.5 224.2v67.8M584.5 145.2v29.4M587.5 166.9v102.0M590.5 208.7v64.7M593.5 219.4v6.6M596.5 224.4v54.7M599.5 271.1v48.2M602.75 150.5v26.8M605.75 277.0v60.0M608.75 226.5v10.3M611.75 315.6v2.1M614.75 233.4v14.7M617.75 385.9v23.7M620.75 269.6v1.2M623.75 282.3v1.5M627 326.2v2.6M630 197.3v5.0M633 144.4v22.5M636 226.3v53.2M642 251.8v44.6M645 230.9v3.4M648.25 252.5v25.1M651.25 327.8v20.8M654.25 154.8v13.1M657.25 212.2v27.9M660.25 211.2v67.1M663.25 267.3v29.4M666.25 169.9v21.0M669.25 330.4v60.7M672.5 253.7v18.3M675.5 255.4v55.5M678.5 340.9v2.9M681.5 186.4v7.4M684.5 179.8v10.3M687.5 350.3v1.8M690.5 386.7v21.4M693.75 256.0v45.6M696.75 231.7v3.7M699.75 284.8v16.6M702.75 171.6v1.6M705.75 177.1v5.7M708.75 294.7v20.9M711.75 261.1v20.4M714.75 283.6v2.8M718 211.7v70.9M721 236.9v34.3M724 148.6v36.3M727 392.4v15.0M730 422.5v26.6M733 206.9v2.2M736 198.5v48.8M739.25 236.3v20.3M742.25 249.6v20.2M745.25 203.9v5.5M748.25 292.6v21.2M751.25 230.2v84.0M754.25 270.4v29.7M757.25 210.0v41.2M760.25 248.9v8.9M763.5 129.4v56.2M766.5 149.6v2.8M772.5 165.4v86.9M775.5 290.3v2.0M778.5 183.6v41.8M781.5 340.9v4.4M784.75 283.5v77.4M787.75 207.7v45.4M790.75 287.0v13.4M793.75 149.2v4.3M796.75 166.9v68.2M799.75 354.7v1.3M802.75 268.1v104.2M805.75 227.1v55.2M809 372.7v4.9M812 280.2v1.8M815 159.2v18.1M818 315.5v5.6M821 359.7v32.9M824 300.9v4.2M827 176.8v35.9M830.25 314.9v17.7M833.25 300.9v31.9M836.25 296.0v4.8M839.25 190.2v63.6M842.25 217.9v69.8M845.25 272.4v2.1M848.25 167.9v7.9M851.25 264.5v4.5M854.5 294.0v50.0M857.5 385.7v2.0M860.5 166.6v18.5M863.5 361.1v32.6M866.5 252.0v26.1M869.5 243.3v50.2M872.5 165.7v4.1M875.75 118.3v16.8M878.75 217.5v9.0M881.75 307.6v5.3M884.75 273.9v36.9M887.75 246.8v38.4M890.75 225.8v15.8M893.75 366.6v7.4M896.75 217.1v21.5M900 244.2v57.9M903 246.7v11.7M906 311.6v7.0M909 220.4v3.1M912 252.6v12.7M915 254.5v13.3M918 396.0v17.1M921 274.2v59.7M924.25 205.3v5.7M927.25 284.1v35.3M930.25 194.9v45.2M933.25 155.5v9.3M936.25 243.0v0.9M939.25 177.0v10.5M942.25 229.5v10.1M945.5 309.7v82.5M948.5 167.0v5.4M951.5 170.4v7.8M954.5 167.8v40.3M957.5 268.1v7.7M960.5 202.4v6.9M966.5 170.8v117.4M969.75 210.2v13.3M972.75 178.5v80.4M978.75 177.3v19.7M981.75 276.2v22.7M984.75 298.7v3.4M987.75 245.8v15.5M991 251.6v1.2M994 214.7v26.2M997 192.5v12.6M1000 206.2v9.3M1003 252.9v2.1M1006 350.0v36.4M1009 349.3v44.9M1012 337.0v17.6M1015.25 145.8v33.2M1018.25 291.1v20.3M1021.25 256.4v54.3M1024.25 288.8v2.8M1027.25 285.5v56.5M1030.25 206.6v17.0M1033.25 336.5v5.9M1036.5 160.0v10.2M1039.5 243.1v1.6M1042.5 233.5v26.9M1045.5 196.9v7.1M1048.5 223.6v7.6M1051.5 218.6v7.8M1054.5 274.6v9.0M1057.5 160.4v44.4M1060.75 300.2v56.0M1063.75 145.6v23.5M1066.75 214.3v41.6M1069.75 192.1v2.5M1072.75 236.1v1.5M1075.75 142.5v7.3M1078.75 356.5v8.0M1082 325.3v4.3M1085 172.1v25.6M1088 306.2v5.6M1091 338.2v1.2M1094 399.2v94.1M1097 196.1v32.6M1100 332.0v5.7M1103 367.4v8.1M1106.25 306.8v5.0M1109.25 194.1v2.4M1112.25 140.6v10.1M1115.25 249.5v14.9M1118.25 251.1v33.4M1121.25 175.7v88.1M1124.25 213.3v169.5M1127.5 274.4v28.1M1130.5 367.6v4.0M1133.5 241.3v5.8M1136.5 277.1v18.0"/>
<path stroke="#00BD5C" stroke-width="2.27" fill="none" d="M99 296.9v14.8M102.25 244.4v4.5M105.25 289.6v18.9M108.25 200.4v19.7M111.25 316.9v28.1M114.25 279.2v4.1M117.25 280.8v21.4M120.25 321.7v1.3M123.5 274.3v1.0M126.5 203.9v61.0M129.5 249.4v8.4M132.5 232.3v134.2M135.5 305.8v9.5M138.5 351.5v23.2M141.5 280.1v4.4M147.75 357.9v2.2M150.75 371.0v21.4M156.75 297.0v67.9M159.75 406.0v3.6M162.75 403.8v72.6M165.75 231.8v65.2M169 212.5v3.1M172 449.0v5.9M175 376.6v45.3M178 208.2v20.2M181 260.8v8.5M184 281.3v2.3M187 314.3v3.8M190 206.7v9.6M193.25 196.0v22.4M196.25 266.5v33.2M199.25 454.0v21.8M202.25 354.9v2.6M205.25 331.3v5.9M208.25 267.9v50.7M211.25 377.1v35.6M214.5 307.5v35.8M217.5 304.7v12.0M220.5 259.1v27.2M223.5 178.6v11.0M226.5 268.2v26.3M229.5 396.8v25.3M232.5 257.9v6.8M235.5 304.9v58.9M238.75 267.5v16.9M241.75 303.0v16.6M244.75 268.5v28.2M247.75 248.7v21.7M250.75 367.8v6.8M256.75 254.9v47.1M260 280.2v7.5M263 457.3v2.2M266 200.3v35.1M269 400.4v7.8M272 239.4v4.7M275 224.5v5.3M278 215.7v3.1M281 261.9v8.1M287.25 289.4v48.0M290.25 250.9v10.1M296.25 370.0v1.7M299.25 342.5v22.9M302.25 279.5v1.0M305.5 259.3v12.0M308.5 254.6v48.2M311.5 300.3v16.2M314.5 380.1v5.0M317.5 298.9v15.0M320.5 181.9v4.1M323.5 264.3v43.8M329.75 191.1v5.5M332.75 433.8v5.6M335.75 435.5v31.6M338.75 209.6v13.6M341.75 254.0v6.3M344.75 263.9v11.2M347.75 193.2v54.0M351 350.6v1.0M357 270.1v13.5M363 261.4v5.1M366 400.6v1.8M369 180.8v1.9M372 236.0v2.2M375.25 222.2v1.7M378.25 223.2v103.5M381.25 344.4v1.1M384.25 304.2v35.0M387.25 313.1v50.3M390.25 440.6v4.6M393.25 314.4v2.3M396.25 276.0v76.2M399.5 285.8v4.6M402.5 301.0v1.3M405.5 171.6v3.5M408.5 337.1v4.0M411.5 281.1v54.6M414.5 318.8v40.1M420.75 272.1v53.5M423.75 174.4v27.7M429.75 174.6v1.1M432.75 333.9v122.2M438.75 154.1v10.2M441.75 333.7v11.0M445 206.3v28.8M448 305.6v1.5M451 367.5v1.5M454 345.6v6.1M457 220.9v34.7M460 293.9v46.8M463 195.3v1.5M466.25 221.5v4.8M469.25 286.6v5.7M472.25 175.7v12.6M475.25 204.2v21.0M481.25 278.4v1.6M487.25 207.2v1.9M490.5 243.5v3.7M493.5 227.9v6.9M496.5 328.0v9.1M499.5 399.7v1.9M505.5 235.5v31.1M508.5 301.3v18.1M511.75 259.0v33.9M514.75 240.1v40.9M520.75 236.9v19.2M523.75 347.8v12.6M526.75 185.9v61.8M529.75 342.6v7.4M532.75 257.8v29.1M539 279.3v29.9M542 346.3v12.0M545 251.7v2.4M548 278.6v14.1M551 159.6v3.1M554 468.6v2.4M560.25 212.1v2.0M563.25 170.2v13.0M569.25 234.1v37.4M572.25 307.4v24.1M575.25 320.3v34.0M578.25 314.9v15.7M581.5 291.4v49.1M584.5 174.0v3.9M587.5 268.3v1.5M593.5 225.4v12.3M596.5 278.5v2.1M602.75 176.8v7.1M608.75 236.1v68.8M611.75 317.1v2.5M614.75 247.5v13.7M617.75 408.9v18.3M620.75 270.2v1.3M623.75 283.2v26.3M627 328.2v13.1M630 201.7v3.3M633 166.3v3.0M639 216.9v1.4M645 233.8v5.0M648.25 277.1v25.7M657.25 239.5v37.5M663.25 296.0v1.3M666.25 190.2v1.3M672.5 271.3v53.4M675.5 310.2v10.4M681.5 193.2v4.2M687.5 351.5v5.1M690.5 407.6v18.2M693.75 300.9v72.3M696.75 234.8v15.8M699.75 300.8v60.0M702.75 172.7v63.7M708.75 315.0v1.0M711.75 280.9v3.0M714.75 285.8v7.9M721 270.6v59.1M724 184.3v23.6M727 406.8v21.6M733 208.5v16.2M736 246.6v20.6M739.25 256.0v1.3M742.25 269.3v5.0M745.25 208.8v20.9M748.25 313.2v7.0M757.25 250.6v23.0M760.25 257.2v32.7M763.5 184.9v4.7M766.5 151.8v19.9M769.5 144.0v2.7M772.5 251.8v3.9M775.5 291.7v9.0M778.5 224.8v175.0M781.5 344.6v14.1M790.75 299.8v4.2M796.75 234.5v40.3M799.75 355.4v7.5M802.75 371.6v1.8M805.75 281.7v4.0M812 281.4v2.3M818 320.5v1.1M821 392.0v9.1M827 212.1v26.5M830.25 332.0v1.3M833.25 332.2v1.5M836.25 300.2v1.8M839.25 253.2v9.5M842.25 287.1v2.2M848.25 175.2v21.3M851.25 268.3v6.9M854.5 343.4v5.7M857.5 387.0v4.8M860.5 184.5v5.1M866.5 277.4v9.6M872.5 169.2v2.4M875.75 134.5v1.2M878.75 226.0v5.8M881.75 312.3v2.2M884.75 310.2v7.3M887.75 284.6v1.5M896.75 238.0v2.2M903 257.8v3.5M906 318.0v8.6M909 223.0v6.0M912 264.6v8.2M915 267.2v1.3M918 412.5v1.9M921 333.3v2.5M927.25 318.8v45.4M933.25 164.3v10.6M936.25 243.3v18.5M939.25 186.9v9.2M942.25 239.0v4.7M945.5 391.6v53.1M948.5 171.8v2.6M954.5 207.5v3.7M960.5 208.7v4.3M966.5 287.6v2.6M972.75 258.2v6.1M975.75 297.5v29.8M978.75 196.3v174.8M981.75 298.4v3.7M984.75 301.5v44.5M987.75 260.7v72.2M997 204.4v23.5M1000 215.0v43.6M1006 385.8v1.3M1009 393.6v1.1M1015.25 178.5v45.9M1018.25 310.8v1.2M1021.25 310.1v2.7M1024.25 291.0v32.1M1027.25 341.4v1.9M1030.25 223.1v30.0M1033.25 341.8v9.6M1036.5 169.6v8.9M1048.5 230.6v7.2M1051.5 225.8v22.3M1054.5 283.0v51.5M1057.5 204.2v1.0M1060.75 355.7v15.9M1063.75 168.5v2.9M1066.75 255.2v1.3M1069.75 193.9v43.1M1072.75 236.9v2.2M1078.75 363.9v3.4M1094 492.7v11.4M1097 228.1v1.2M1100 337.1v12.2M1103 374.9v35.1M1106.25 311.2v14.5M1112.25 150.2v37.0M1115.25 263.8v0.9M1118.25 283.9v16.2M1121.25 263.2v11.7M1127.5 301.9v15.2M1130.5 370.9v10.1M1136.5 294.6v1.1"/>
<path stroke="#00C085" stroke-width="2.27" fill="none" d="M129.5 257.2v19.1M159.75 409.0v3.7M181 268.7v1.2M190 215.7v1.0M211.25 412.1v1.7M214.5 342.7v1.3M220.5 285.6v7.2M223.5 189.0v1.1M232.5 264.2v1.3M235.5 363.2v2.4M238.75 283.8v1.6M253.75 338.2v15.5M272 243.5v19.0M278 218.2v12.4M287.25 336.9v25.5M296.25 371.1v1.9M302.25 279.9v1.8M335.75 466.5v11.1M354 326.9v1.7M360 277.7v5.6M366 401.7v1.0M372 237.6v2.9M375.25 223.2v21.7M378.25 326.1v2.1M393.25 316.1v98.4M396.25 351.6v1.8M402.5 301.7v2.8M405.5 174.5v25.1M408.5 340.5v1.8M411.5 335.1v38.7M420.75 324.9v9.1M432.75 455.4v5.5M441.75 344.1v2.5M448 306.5v6.0M466.25 225.7v2.4M475.25 224.5v14.8M496.5 336.5v6.1M502.5 311.9v1.8M505.5 266.0v9.3M517.75 298.1v2.7M523.75 359.9v20.1M545 253.5v3.1M557.25 219.6v2.3M569.25 270.9v2.0M572.25 330.8v6.2M575.25 353.6v1.0M581.5 339.8v2.7M584.5 177.3v34.8M614.75 260.6v9.5M617.75 426.6v1.3M623.75 308.9v9.5M627 340.7v2.6M630 204.4v6.7M639 217.7v2.3M654.25 167.4v58.4M690.5 425.1v1.3M696.75 250.0v4.2M708.75 315.4v4.2M711.75 283.3v42.0M718 282.1v1.1M730 448.6v3.0M757.25 273.0v5.8M763.5 189.1v1.4M784.75 360.3v2.2M790.75 303.4v64.2M793.75 153.0v21.1M796.75 274.2v4.5M802.75 372.8v16.5M809 377.1v57.7M833.25 333.1v1.2M836.25 301.4v2.8M839.25 262.1v56.4M857.5 391.2v5.3M863.5 393.2v1.0M866.5 286.4v1.9M872.5 171.0v1.7M878.75 231.2v0.9M887.75 285.6v6.2M900 301.7v1.5M903 260.7v5.2M906 325.9v1.5M909 228.3v17.9M912 272.3v8.4M930.25 239.4v47.0M933.25 174.2v1.4M936.25 261.3v1.9M939.25 195.5v11.7M945.5 444.1v8.2M948.5 173.8v16.0M969.75 222.8v7.0M987.75 332.3v5.5M991 252.3v6.6M1006 386.5v1.7M1012 353.9v2.4M1021.25 312.2v1.3M1048.5 237.2v4.6M1057.5 204.6v4.5M1063.75 170.8v15.4M1069.75 236.5v46.9M1072.75 238.5v3.1M1088 311.2v1.0M1091 338.9v1.5M1100 348.7v52.7M1106.25 325.0v38.6M1124.25 382.2v7.7M1136.5 295.1v2.0"/>
<path stroke="#00C1A7" stroke-width="2.27" fill="none" d="M102.25 248.3v70.7M111.25 344.5v15.1M114.25 282.7v1.0M117.25 301.8v11.8M123.5 274.8v42.7M126.5 264.3v12.7M129.5 275.7v55.1M132.5 366.2v23.7M135.5 315.0v53.7M138.5 374.1v2.2M141.5 283.9v19.4M144.5 247.6v37.8M147.75 359.4v58.9M150.75 391.9v0.9M159.75 412.1v1.5M162.75 475.9v1.1M172 454.3v31.2M178 227.8v20.2M181 269.3v10.0M184 283.2v1.1M187 317.6v20.9M190 216.1v3.0M193.25 217.9v5.5M196.25 299.1v2.3M202.25 357.0v36.1M208.25 318.0v40.7M211.25 413.2v24.5M214.5 343.4v4.1M217.5 316.2v37.8M220.5 292.3v1.2M223.5 189.5v1.1M229.5 421.5v10.5M232.5 264.9v1.1M238.75 284.8v113.0M241.75 319.0v5.7M247.75 269.9v14.1M250.75 373.9v5.0M253.75 353.2v38.2M256.75 301.5v7.3M269 407.6v2.0M275 229.3v4.0M278 229.9v1.4M284.25 258.3v5.9M287.25 361.7v1.5M293.25 244.7v3.1M299.25 364.9v4.4M302.25 281.1v1.8M314.5 384.5v40.5M317.5 313.3v60.0M323.5 307.4v2.7M326.5 298.3v2.8M332.75 438.8v3.9M335.75 477.0v3.6M338.75 222.6v97.3M341.75 259.7v23.2M344.75 274.4v34.5M347.75 246.6v2.2M351 351.0v2.9M354 328.0v3.4M357 283.0v1.0M360 282.7v9.3M363 265.9v2.2M366 402.1v3.8M369 182.2v5.8M375.25 244.3v1.1M378.25 327.6v53.1M381.25 344.9v2.0M384.25 338.6v1.0M387.25 362.8v5.2M390.25 444.7v1.4M393.25 413.9v1.2M399.5 289.9v6.6M411.5 373.2v24.2M414.5 358.3v3.2M420.75 333.5v15.4M426.75 202.1v35.0M429.75 175.1v23.0M432.75 460.3v24.3M438.75 163.7v26.5M441.75 346.0v35.2M457 255.0v34.8M463 196.2v9.9M466.25 227.5v7.2M469.25 291.7v3.2M472.25 187.8v3.4M478.25 215.8v1.2M484.25 436.1v9.2M487.25 208.5v65.9M493.5 234.2v34.4M496.5 342.0v7.2M502.5 313.1v11.4M505.5 274.8v6.4M508.5 318.7v1.2M511.75 292.3v23.2M514.75 280.6v8.6M520.75 255.4v12.3M523.75 379.4v1.8M526.75 247.1v17.7M529.75 349.5v0.9M532.75 286.3v17.5M536 303.1v10.2M542 357.7v134.8M545 255.9v57.6M551 162.1v2.7M554 470.6v11.6M557.25 221.3v10.7M560.25 213.5v6.8M566.25 464.3v12.2M569.25 272.3v1.0M575.25 354.0v56.6M578.25 330.0v6.4M584.5 211.5v0.9M587.5 269.3v2.9M599.5 318.9v1.0M602.75 183.2v1.2M605.75 336.8v12.3M611.75 319.0v1.9M614.75 269.5v25.4M617.75 427.3v16.5M620.75 270.9v2.1M627 342.7v43.7M630 210.5v19.4M633 168.9v39.1M636 278.9v9.6M639 219.4v1.1M642 295.8v9.9M648.25 302.1v9.0M651.25 348.1v1.1M654.25 225.2v45.6M657.25 276.3v0.9M660.25 277.8v40.1M663.25 296.8v1.2M666.25 191.0v63.1M672.5 324.1v10.8M675.5 320.3v22.9M681.5 196.8v17.6M684.5 189.7v0.9M687.5 356.2v1.5M690.5 425.9v1.0M693.75 372.6v4.6M696.75 253.6v6.7M699.75 360.2v1.2M702.75 235.8v1.7M705.75 182.2v4.8M711.75 324.6v4.2M718 282.5v1.8M721 329.1v17.1M724 207.3v1.4M727 427.8v1.7M730 451.0v1.1M736 266.7v20.3M739.25 256.9v12.2M745.25 229.0v1.1M748.25 319.6v1.9M751.25 313.9v4.6M757.25 278.2v2.3M760.25 289.4v8.3M766.5 171.2v15.2M769.5 146.1v1.5M775.5 300.1v7.6M778.5 399.2v1.8M781.5 358.3v35.4M784.75 362.0v18.3M787.75 252.4v33.9M790.75 367.0v3.5M793.75 173.5v30.3M796.75 278.1v9.6M799.75 362.3v3.4M805.75 285.2v1.9M809 434.2v8.6M815 176.8v9.1M818 321.0v1.9M824 304.5v1.2M827 238.0v1.9M833.25 333.7v5.2M836.25 303.6v5.1M839.25 317.9v41.2M842.25 288.7v3.5M845.25 273.9v1.2M851.25 274.7v56.7M854.5 348.5v5.1M857.5 396.0v13.9M863.5 393.6v12.0M869.5 293.0v1.9M872.5 172.1v3.7M875.75 135.1v7.9M881.75 313.9v10.9M884.75 317.0v19.6M890.75 241.1v1.2M893.75 373.5v2.0M896.75 239.6v15.9M900 302.6v23.0M912 280.1v1.2M918 413.9v15.2M921 335.2v9.3M924.25 210.4v10.0M927.25 363.6v17.0M933.25 175.0v42.9M939.25 206.5v2.6M942.25 243.1v17.9M945.5 451.7v9.7M948.5 189.3v1.3M951.5 177.6v1.4M954.5 210.6v2.9M960.5 212.3v1.8M963.5 248.3v14.0M966.5 289.6v1.5M975.75 326.7v31.3M978.75 370.6v2.0M981.75 301.5v69.4M984.75 345.4v0.9M987.75 337.1v5.9M994 240.3v2.7M1006 387.6v45.8M1012 355.7v2.0M1018.25 311.5v26.2M1021.25 312.9v25.1M1024.25 322.6v61.8M1027.25 342.7v0.9M1030.25 252.5v56.9M1036.5 177.9v2.4M1039.5 244.2v1.0M1042.5 259.8v2.0M1045.5 203.4v1.4M1051.5 247.4v3.1M1054.5 334.0v3.1M1057.5 208.5v71.7M1060.75 371.0v4.1M1063.75 185.5v3.5M1066.75 255.9v2.3M1069.75 282.8v13.9M1072.75 241.0v10.8M1075.75 149.3v50.1M1085 197.2v30.7M1088 311.6v2.3M1091 339.9v45.8M1100 400.8v8.4M1103 409.4v1.2M1106.25 363.1v2.0M1109.25 196.1v40.6M1118.25 299.4v3.3M1121.25 274.3v1.6M1124.25 389.4v8.9M1127.5 316.5v59.9M1130.5 380.5v1.5M1133.5 246.6v3.6M1136.5 296.5v3.9"/>
<path stroke="#00BFC4" stroke-width="2.27" fill="none" d="M99 311.1v3.7M102.25 318.4v6.2M105.25 307.8v13.8M111.25 359.0v21.5M117.25 313.1v1.5M120.25 322.4v17.2M123.5 316.9v2.7M126.5 276.5v21.9M129.5 330.2v5.5M132.5 389.3v0.9M135.5 368.2v1.0M141.5 302.7v2.4M147.75 417.8v11.3M150.75 392.2v1.2M156.75 364.3v2.6M169 215.1v1.2M175 421.6v2.7M178 247.4v1.4M181 278.7v9.9M187 337.8v13.2M193.25 222.8v72.4M196.25 300.8v55.8M211.25 437.1v11.9M214.5 346.9v20.8M217.5 353.4v12.0M229.5 431.4v3.4M232.5 265.4v1.4M235.5 365.0v4.8M238.75 397.2v5.1M241.75 324.1v15.2M247.75 283.4v7.4M250.75 378.3v37.5M253.75 390.8v4.9M256.75 308.2v3.5M260 287.3v1.2M263 458.9v1.1M272 262.0v8.1M278 230.7v13.6M281 269.5v1.1M287.25 362.6v2.1M290.25 260.4v1.7M299.25 368.6v7.6M302.25 282.4v26.2M308.5 302.2v8.4M317.5 372.7v40.9M320.5 185.5v71.8M323.5 309.5v7.4M326.5 300.5v42.8M329.75 196.0v65.9M332.75 442.0v11.3M344.75 308.4v42.2M360 291.4v2.8M363 267.4v70.8M369 187.3v2.1M372 240.0v19.6M375.25 244.8v6.6M381.25 346.3v41.3M384.25 339.0v1.4M387.25 367.3v18.1M396.25 352.9v2.0M399.5 295.8v55.0M402.5 303.9v12.7M411.5 396.8v3.3M417.5 300.2v1.2M426.75 236.6v43.7M429.75 197.5v2.5M432.75 484.0v2.7M435.75 280.3v38.3M438.75 189.6v4.7M441.75 380.6v28.8M445 234.5v96.2M451 368.3v1.3M454 351.2v26.7M460 340.2v7.7M466.25 234.1v0.9M469.25 294.3v8.8M472.25 190.6v6.4M475.25 238.9v15.0M481.25 279.4v9.3M484.25 444.7v54.8M487.25 273.9v2.7M490.5 246.6v26.0M493.5 268.0v19.3M499.5 401.4v13.3M502.5 323.9v3.3M505.5 280.6v1.9M508.5 319.3v17.0M511.75 314.9v7.4M514.75 288.6v14.8M517.75 300.2v2.0M520.75 267.1v2.7M523.75 380.5v5.4M532.75 303.2v43.6M536 312.8v9.5M539 308.6v1.4M542 491.9v4.2M545 312.9v1.0M548 292.2v12.6M551 164.2v61.8M554 481.7v2.7M557.25 231.4v3.5M560.25 219.7v30.2M563.25 182.6v5.4M566.25 475.9v7.2M569.25 272.7v1.5M572.25 336.4v3.5M575.25 410.0v1.2M578.25 335.8v39.5M581.5 341.9v1.9M587.5 271.6v36.9M590.5 272.7v1.2M593.5 237.3v27.3M599.5 319.2v37.2M602.75 183.8v1.4M608.75 304.3v5.7M611.75 320.3v1.4M614.75 294.3v4.4M620.75 272.3v6.6M623.75 317.8v1.7M630 229.3v50.0M636 287.9v46.4M642 305.1v5.9M645 238.2v10.4M648.25 310.6v66.7M654.25 270.1v23.6M657.25 276.6v23.2M660.25 317.3v12.1M663.25 297.4v31.1M675.5 342.6v36.1M678.5 343.6v5.1M681.5 213.7v13.5M684.5 190.0v4.7M687.5 357.1v6.8M690.5 426.3v5.4M693.75 376.6v40.3M696.75 259.7v34.0M708.75 319.0v16.1M714.75 293.1v2.0M718 283.8v17.5M730 451.6v3.2M742.25 273.6v9.9M748.25 320.8v18.2M754.25 299.8v18.5M763.5 189.9v13.2M769.5 147.0v1.2M772.5 255.2v5.9M781.5 393.1v10.4M784.75 379.7v1.2M787.75 285.8v1.8M793.75 203.2v63.7M799.75 365.1v10.4M802.75 388.7v37.2M805.75 286.4v3.4M809 442.2v14.9M815 185.3v62.9M818 322.3v5.5M833.25 338.2v4.7M836.25 308.1v8.0M839.25 358.5v1.4M842.25 291.5v30.4M845.25 274.5v23.0M848.25 195.9v33.3M854.5 353.0v2.2M857.5 409.2v1.3M860.5 189.0v2.0M863.5 405.0v6.9M866.5 287.7v6.4M869.5 294.3v2.1M872.5 175.2v32.5M884.75 336.0v4.1M887.75 291.4v3.3M890.75 241.7v7.4M893.75 374.9v1.2M896.75 254.9v14.1M903 265.3v1.2M906 326.8v2.4M921 343.9v29.6M924.25 219.9v6.1M927.25 380.0v8.2M930.25 286.1v3.1M933.25 217.3v4.9M936.25 262.7v51.3M942.25 260.4v25.1M945.5 460.8v1.0M948.5 190.0v13.0M954.5 212.9v2.7M957.5 275.2v1.4M960.5 213.5v7.9M963.5 261.7v24.7M966.5 290.4v41.8M975.75 357.3v2.4M978.75 372.0v1.8M981.75 370.3v6.7M984.75 345.7v7.1M987.75 342.5v9.6M991 258.4v138.8M994 242.4v73.9M997 227.3v1.4M1003 254.6v5.7M1006 432.8v8.2M1012 357.1v16.2M1015.25 224.1v1.0M1018.25 337.1v2.5M1024.25 383.8v38.5M1027.25 343.0v3.0M1036.5 179.7v2.0M1039.5 244.6v10.7M1042.5 261.2v5.8M1045.5 204.1v3.3M1051.5 249.9v27.8M1057.5 279.6v2.6M1060.75 374.5v8.2M1072.75 251.1v1.0M1075.75 198.8v8.4M1078.75 366.7v2.6M1085 227.2v25.8M1088 313.3v1.9M1091 385.1v49.4M1094 503.7v1.0M1097 228.7v1.8M1100 408.6v0.9M1106.25 364.5v1.5M1109.25 236.1v20.9M1112.25 186.8v1.0M1115.25 264.1v3.6M1118.25 302.1v39.1M1121.25 275.3v31.3M1124.25 397.7v11.5M1127.5 375.8v11.4M1130.5 381.4v3.3M1133.5 249.6v21.0"/>
<path stroke="#00BADE" stroke-width="2.27" fill="none" d="M99 314.3v86.6M102.25 324.1v39.7M105.25 321.0v5.7M108.25 219.7v66.2M111.25 379.8v4.5M114.25 283.1v13.3M120.25 339.1v1.5M123.5 318.9v99.6M126.5 297.8v20.3M129.5 335.1v14.9M132.5 389.7v18.1M138.5 376.0v16.3M141.5 304.4v4.8M144.5 284.8v9.4M147.75 428.5v1.3M150.75 392.8v2.4M153.75 162.8v3.7M156.75 366.3v85.8M159.75 413.2v1.0M162.75 476.3v3.3M165.75 296.4v1.7M169 215.8v11.9M172 485.0v7.4M175 423.7v16.2M178 248.3v70.6M181 288.0v17.7M184 283.7v12.9M187 350.4v4.4M190 218.5v3.1M193.25 294.6v18.9M196.25 356.0v3.2M202.25 392.5v6.0M205.25 336.8v13.4M208.25 358.1v13.2M211.25 448.4v4.0M214.5 367.1v76.8M220.5 292.9v2.5M223.5 190.2v18.3M226.5 293.9v1.0M229.5 434.3v19.5M232.5 266.2v60.6M235.5 369.3v2.9M238.75 401.7v3.8M241.75 338.7v59.5M244.75 296.1v19.8M247.75 290.1v8.6M250.75 415.2v1.2M253.75 395.1v2.2M260 287.9v5.3M263 459.4v9.5M266 235.0v13.0M269 409.3v8.8M272 269.5v50.6M275 232.9v6.8M281 270.0v27.7M287.25 364.1v7.5M290.25 261.5v9.6M293.25 247.2v73.5M296.25 372.6v2.0M299.25 375.7v8.6M305.5 270.8v1.9M308.5 310.0v21.6M311.5 316.1v13.3M314.5 424.4v49.9M317.5 413.1v4.8M320.5 256.7v1.8M323.5 316.3v14.7M326.5 342.6v3.0M329.75 261.3v96.5M332.75 452.7v1.3M335.75 480.1v2.2M338.75 319.3v13.8M344.75 349.9v17.2M347.75 248.2v19.0M351 353.4v1.6M354 331.0v1.4M357 283.5v10.2M360 293.6v35.4M363 337.6v5.7M366 405.3v2.0M369 188.8v0.9M372 259.0v34.9M375.25 250.8v3.1M378.25 380.0v138.2M384.25 339.8v2.6M387.25 384.9v1.2M390.25 445.5v32.6M396.25 354.3v2.8M399.5 350.3v45.3M402.5 316.0v4.2M405.5 199.0v10.5M408.5 342.0v18.6M411.5 399.6v30.2M414.5 360.8v9.4M417.5 300.8v2.9M426.75 279.7v14.2M429.75 199.3v16.4M432.75 486.1v3.3M438.75 193.7v1.4M441.75 408.8v23.1M445 330.1v1.6M448 311.9v64.6M451 369.0v56.8M454 377.3v42.6M457 289.2v13.8M460 347.3v7.9M463 205.5v34.3M466.25 234.4v15.7M469.25 302.5v2.1M472.25 196.4v2.6M475.25 253.3v12.1M478.25 216.5v19.8M481.25 288.1v5.9M484.25 498.9v5.9M487.25 276.0v15.7M490.5 272.0v2.3M493.5 286.7v39.8M496.5 348.8v4.0M499.5 414.1v2.9M502.5 326.6v27.5M508.5 335.7v20.5M511.75 321.7v57.7M514.75 302.8v74.5M517.75 301.7v51.2M520.75 269.2v28.2M523.75 385.3v54.1M526.75 264.2v13.8M529.75 349.9v6.0M532.75 346.3v85.0M536 321.7v15.7M539 309.5v26.6M542 495.5v6.5M545 313.4v27.5M548 304.2v1.6M551 225.4v16.7M554 483.8v3.0M557.25 234.3v1.4M560.25 249.3v3.6M569.25 273.5v54.1M572.25 339.4v1.1M575.25 410.6v15.4M578.25 374.7v15.6M581.5 343.2v5.6M584.5 211.9v9.2M587.5 307.9v6.3M590.5 273.3v26.3M593.5 264.1v15.0M596.5 280.1v8.3M599.5 355.8v27.1M602.75 184.6v9.0M605.75 348.7v3.8M608.75 309.4v13.7M611.75 321.2v19.8M614.75 298.1v0.9M617.75 443.2v3.2M620.75 278.4v42.0M623.75 318.9v29.2M627 386.1v2.4M630 278.7v2.3M633 207.5v4.0M636 333.6v2.0M639 219.9v24.9M642 310.5v5.3M645 247.9v54.5M648.25 376.6v25.8M654.25 293.2v164.3M660.25 328.8v24.7M663.25 327.9v1.8M666.25 253.5v14.1M669.25 390.5v43.6M672.5 334.4v10.1M678.5 348.1v7.2M681.5 226.7v2.4M684.5 194.1v52.1M687.5 363.4v124.9M690.5 431.1v21.1M693.75 416.4v5.2M696.75 293.2v42.9M699.75 360.8v1.9M702.75 236.9v2.0M705.75 186.4v9.6M708.75 334.5v57.3M711.75 328.2v11.6M714.75 294.5v8.1M718 300.7v9.4M721 345.6v21.0M724 208.1v11.9M730 454.2v3.9M733 224.3v40.2M736 286.4v9.5M739.25 268.5v55.3M742.25 282.9v2.4M745.25 229.7v1.8M748.25 338.4v1.7M751.25 318.2v36.6M754.25 317.8v43.8M757.25 279.9v1.1M760.25 297.0v1.4M766.5 185.8v22.0M769.5 147.6v2.5M772.5 260.4v19.5M775.5 307.3v6.9M778.5 400.5v13.9M781.5 402.9v3.1M784.75 380.3v2.0M787.75 286.9v15.0M790.75 370.2v17.2M793.75 266.3v19.8M796.75 287.1v158.9M799.75 374.9v12.9M802.75 425.3v16.1M805.75 289.2v12.4M809 456.5v26.7M812 283.3v40.8M815 247.6v36.2M818 327.3v15.0M821 400.5v11.8M824 305.0v2.0M827 239.3v1.1M830.25 332.9v9.6M833.25 342.3v23.7M836.25 315.4v11.3M839.25 359.3v4.1M842.25 321.4v1.0M845.25 296.9v5.3M848.25 228.6v18.8M851.25 330.8v30.1M857.5 409.9v2.7M860.5 190.5v15.1M863.5 411.4v7.1M866.5 293.5v9.0M869.5 295.8v13.5M872.5 207.1v1.4M875.75 142.5v53.9M878.75 231.8v16.8M881.75 324.3v7.4M884.75 339.5v16.5M887.75 294.2v1.9M890.75 248.5v7.0M893.75 375.4v16.8M896.75 268.4v3.0M900 325.0v1.3M903 265.9v27.8M906 328.7v1.9M909 245.8v2.8M915 268.0v1.4M918 428.5v7.4M924.25 225.4v13.0M927.25 387.6v17.6M930.25 288.6v1.8M933.25 221.6v8.6M936.25 313.4v60.1M939.25 208.6v64.0M942.25 284.9v9.3M948.5 202.3v51.6M951.5 178.5v9.8M954.5 215.0v8.8M957.5 276.0v13.6M960.5 220.9v2.9M963.5 285.8v9.3M966.5 331.6v1.2M969.75 229.5v4.9M972.75 263.7v41.4M975.75 359.1v10.4M978.75 373.2v10.6M981.75 376.4v12.5M984.75 352.2v3.8M987.75 351.5v1.9M991 396.6v1.4M994 315.7v1.8M997 228.1v6.2M1003 259.7v8.8M1006 440.4v2.6M1009 394.5v8.2M1012 372.7v12.2M1015.25 224.5v3.0M1018.25 338.9v3.8M1021.25 337.4v59.3M1024.25 421.7v18.3M1027.25 345.4v23.5M1030.25 308.8v47.2M1033.25 350.8v64.9M1036.5 181.2v2.2M1039.5 254.7v6.5M1042.5 266.4v7.9M1045.5 206.8v2.0M1048.5 241.2v32.5M1051.5 277.1v94.2M1054.5 336.5v1.0M1063.75 188.4v1.5M1066.75 257.6v2.1M1069.75 296.1v48.8M1075.75 206.6v57.6M1078.75 368.7v1.1M1082 329.5v112.4M1085 252.4v3.3M1088 314.6v16.2M1091 433.9v8.6M1094 504.1v4.4M1100 408.9v11.4M1103 410.0v2.4M1106.25 365.4v56.3M1109.25 256.4v2.2M1112.25 187.2v19.6M1115.25 267.1v3.2M1118.25 340.7v2.1M1121.25 306.0v3.1M1124.25 408.6v6.0M1127.5 386.6v8.6M1130.5 384.1v8.3M1133.5 270.0v3.4M1136.5 299.8v3.7"/>
<path stroke="#00B2F3" stroke-width="2.27" fill="none" d="M99 400.3v141.6M102.25 363.2v79.0M105.25 326.2v98.4M108.25 285.3v107.5M111.25 383.8v54.0M114.25 295.8v200.4M117.25 314.0v164.8M120.25 339.9v69.3M123.5 417.9v98.3M126.5 317.5v180.5M129.5 349.3v131.7M132.5 407.1v48.3M135.5 368.5v57.1M138.5 391.7v107.5M141.5 308.7v114.4M144.5 293.6v179.8M147.75 429.2v82.6M150.75 394.6v132.7M153.75 165.9v226.3M156.75 451.5v83.6M159.75 413.6v63.5M162.75 479.0v88.7M165.75 297.4v171.2M169 227.1v167.3M172 491.8v114.3M175 439.3v45.5M178 318.3v75.9M181 305.1v186.6M184 296.0v78.5M187 354.2v170.5M190 221.1v268.6M193.25 312.9v131.5M196.25 358.6v107.9M199.25 475.5v50.2M202.25 397.9v84.0M205.25 349.6v55.9M208.25 370.7v141.9M211.25 451.8v23.7M214.5 443.3v83.8M217.5 364.9v60.6M220.5 294.8v102.4M223.5 207.9v191.0M226.5 294.3v128.8M229.5 453.2v88.0M232.5 326.2v163.6M235.5 371.6v227.4M238.75 404.9v106.3M241.75 397.6v155.8M244.75 315.3v159.5M247.75 298.1v139.4M250.75 415.8v66.2M253.75 396.7v90.5M256.75 311.0v172.8M260 292.6v121.0M263 468.3v55.4M266 247.5v216.5M269 417.5v70.4M272 319.5v155.9M275 239.0v248.2M278 243.9v106.2M281 297.2v132.1M284.25 263.7v137.8M287.25 371.0v153.1M290.25 270.5v174.2M293.25 320.1v126.9M296.25 374.0v130.3M299.25 383.7v69.9M302.25 308.0v110.4M305.5 272.1v218.3M308.5 331.0v95.1M311.5 328.9v75.8M314.5 473.7v43.1M317.5 417.2v24.2M320.5 257.9v87.5M323.5 330.4v77.4M326.5 345.0v185.7M329.75 357.3v98.1M332.75 453.4v12.4M335.75 481.7v50.9M338.75 332.5v143.9M341.75 282.3v231.8M344.75 366.5v144.6M347.75 266.6v149.8M351 354.3v67.7M354 331.8v46.3M357 293.1v247.9M360 328.4v259.9M363 342.7v77.4M366 406.7v42.4M369 189.2v103.5M372 293.3v97.8M375.25 253.3v145.4M378.25 517.6v40.7M381.25 387.0v125.0M384.25 341.7v74.2M387.25 385.4v195.8M390.25 477.5v99.6M393.25 414.6v62.3M396.25 356.5v165.1M399.5 394.9v54.3M402.5 319.6v40.4M405.5 208.8v112.4M408.5 360.0v78.8M411.5 429.2v95.6M414.5 369.7v86.4M417.5 303.0v126.5M420.75 348.7v102.0M423.75 201.5v59.7M426.75 293.3v81.3M429.75 215.2v138.8M432.75 488.8v82.4M435.75 318.2v147.3M438.75 194.5v171.9M441.75 431.4v78.3M445 331.2v102.5M448 376.0v86.0M451 425.2v82.6M454 419.4v50.4M457 302.4v133.3M460 354.6v172.1M463 239.2v138.3M466.25 249.6v100.8M469.25 304.0v100.4M472.25 198.4v86.8M475.25 264.8v94.5M478.25 235.7v39.9M481.25 293.4v131.4M484.25 504.2v51.9M487.25 291.1v93.0M490.5 273.8v235.0M493.5 325.9v183.5M496.5 352.2v85.7M499.5 416.4v146.5M502.5 353.5v105.3M505.5 282.0v41.4M508.5 355.6v80.4M511.75 378.8v162.1M514.75 376.6v79.4M517.75 352.3v148.8M520.75 296.8v152.9M523.75 438.8v56.6M526.75 277.4v159.1M529.75 355.3v71.7M532.75 430.7v38.7M536 336.8v46.3M539 335.5v165.6M542 501.3v78.3M545 340.2v150.3M548 305.2v310.8M551 241.5v172.2M554 486.2v83.6M557.25 235.0v131.8M560.25 252.3v70.7M563.25 187.5v120.6M566.25 482.8v74.1M569.25 327.1v130.9M572.25 339.9v181.4M575.25 425.4v124.1M578.25 389.7v79.4M581.5 348.2v123.4M584.5 220.4v144.1M587.5 313.6v116.9M590.5 299.1v214.7M593.5 278.5v140.8M596.5 287.8v162.0M599.5 382.3v120.3M602.75 193.0v228.6M605.75 351.9v31.6M608.75 322.5v23.0M611.75 340.4v111.5M614.75 298.4v112.1M617.75 445.8v88.5M620.75 319.7v125.8M623.75 347.5v77.9M627 387.8v143.0M630 280.5v162.0M633 210.9v243.3M636 335.0v175.6M639 244.2v146.6M642 315.2v208.0M645 301.9v210.5M648.25 401.8v141.5M651.25 348.9v44.0M654.25 456.9v98.6M657.25 299.2v147.9M660.25 353.0v190.4M663.25 329.1v114.1M666.25 266.9v140.1M669.25 433.6v27.6M672.5 344.0v150.8M675.5 378.3v105.1M678.5 354.7v219.4M681.5 228.4v228.6M684.5 245.7v202.8M687.5 487.6v65.0M690.5 451.6v100.9M693.75 421.0v84.8M696.75 335.5v49.0M699.75 362.1v76.1M702.75 238.2v244.7M705.75 195.4v180.3M708.75 391.2v130.3M711.75 339.2v247.2M714.75 302.0v134.2M718 309.5v115.1M721 366.0v125.1M724 219.3v283.2M727 428.9v108.4M730 457.5v100.9M733 263.9v272.1M736 295.3v131.1M739.25 323.2v108.4M742.25 284.7v132.0M745.25 230.9v264.0M748.25 339.5v59.9M751.25 354.1v158.7M754.25 361.0v139.0M757.25 280.4v230.0M760.25 297.9v253.8M763.5 202.6v250.5M766.5 207.2v142.7M769.5 149.5v127.3M772.5 279.4v167.9M775.5 313.6v157.1M778.5 413.8v175.6M781.5 405.4v93.3M784.75 381.6v144.6M787.75 301.3v167.6M790.75 386.7v116.6M793.75 285.5v150.4M796.75 445.4v81.6M799.75 387.2v177.0M802.75 440.8v126.4M805.75 301.0v176.9M809 482.6v107.4M812 323.5v195.7M815 283.1v228.5M818 341.7v87.2M821 411.7v144.9M824 306.5v311.2M827 239.8v106.7M830.25 341.9v118.0M833.25 365.3v117.2M836.25 326.1v141.9M839.25 362.8v164.4M842.25 321.8v174.7M845.25 301.6v133.0M848.25 246.9v164.7M851.25 360.3v122.1M854.5 354.8v33.5M857.5 412.0v89.3M860.5 205.0v89.7M863.5 417.8v177.9M866.5 301.9v194.3M869.5 308.6v224.1M872.5 207.9v211.7M875.75 195.8v115.2M878.75 248.0v112.5M881.75 331.1v150.9M884.75 355.4v161.4M887.75 295.5v152.3M890.75 255.0v236.3M893.75 391.6v191.6M896.75 270.8v311.2M900 325.7v184.5M903 293.0v166.0M906 330.0v136.7M909 248.0v152.4M912 280.8v92.6M915 268.8v202.7M918 435.3v135.9M921 372.9v56.6M924.25 237.8v253.3M927.25 404.6v97.5M930.25 289.8v132.4M933.25 229.6v234.2M936.25 372.9v187.8M939.25 272.0v339.0M942.25 293.6v297.5M945.5 461.3v148.8M948.5 253.3v185.4M951.5 187.6v123.1M954.5 223.1v312.8M957.5 289.1v250.2M960.5 223.1v319.9M963.5 294.4v188.4M966.5 332.2v223.7M969.75 233.8v246.5M972.75 304.5v171.3M975.75 369.0v64.7M978.75 383.2v107.7M981.75 388.2v132.4M984.75 355.4v205.1M987.75 352.8v47.6M991 397.4v121.5M994 317.0v149.4M997 233.7v267.4M1000 258.0v160.2M1003 267.9v288.6M1006 442.4v71.0M1009 402.1v86.6M1012 384.4v76.0M1015.25 226.9v195.8M1018.25 342.2v90.4M1021.25 396.1v69.1M1024.25 439.4v129.5M1027.25 368.3v73.1M1030.25 355.3v56.9M1033.25 415.2v81.7M1036.5 182.7v179.5M1039.5 260.6v117.7M1042.5 273.8v243.3M1045.5 208.2v244.6M1048.5 273.1v149.7M1051.5 370.7v230.6M1054.5 336.9v192.9M1057.5 281.8v292.0M1060.75 382.2v102.6M1063.75 189.3v234.7M1066.75 259.1v167.5M1069.75 344.3v56.0M1072.75 251.9v115.5M1075.75 263.6v301.4M1078.75 369.2v226.3M1082 441.3v116.6M1085 255.1v223.3M1088 330.2v159.9M1091 441.8v60.9M1094 507.9v79.3M1097 230.1v137.7M1100 419.7v155.0M1103 411.8v164.5M1106.25 421.1v131.2M1109.25 257.9v291.5M1112.25 206.2v202.1M1115.25 269.6v180.0M1118.25 342.2v100.5M1121.25 308.5v109.2M1124.25 413.9v133.6M1127.5 394.6v68.2M1130.5 391.8v186.8M1133.5 272.8v225.7M1136.5 302.9v235.6"/>
<path stroke="#00A6FF" stroke-width="2.27" fill="none" d="M99 541.3v44.2M102.25 441.6v70.0M105.25 424.0v26.6M108.25 392.3v19.7M111.25 437.1v95.3M114.25 495.7v58.3M117.25 478.1v46.8M120.25 408.6v49.5M123.5 515.6v32.6M126.5 497.3v37.1M129.5 480.5v89.9M132.5 454.8v124.1M135.5 425.0v59.5M138.5 498.6v22.5M141.5 422.5v99.1M144.5 472.8v105.9M147.75 511.2v40.1M150.75 526.7v41.3M153.75 391.6v50.6M156.75 534.5v11.8M159.75 476.5v51.0M162.75 567.1v35.7M165.75 468.0v88.2M169 393.7v141.2M172 605.5v16.7M175 484.3v59.5M178 393.6v173.3M181 491.1v2.4M184 374.0v119.2M187 524.1v34.7M190 489.0v69.9M193.25 443.8v13.9M196.25 465.9v36.8M199.25 525.1v78.5M202.25 481.3v50.7M205.25 404.9v69.1M208.25 512.0v70.9M211.25 474.9v21.4M214.5 526.5v20.0M217.5 424.9v46.8M220.5 396.7v127.6M223.5 398.3v64.5M226.5 422.4v99.9M229.5 540.5v16.5M232.5 489.1v112.3M235.5 598.3v46.8M238.75 510.6v34.0M241.75 552.8v82.3M244.75 474.1v87.1M247.75 436.9v45.9M250.75 481.4v90.3M253.75 486.6v56.1M256.75 483.2v68.2M260 413.0v52.6M263 523.1v57.8M266 463.4v55.0M269 487.3v17.2M272 474.8v22.1M275 486.7v24.2M278 349.5v159.1M281 428.7v70.6M284.25 400.9v28.5M287.25 523.5v82.8M290.25 444.2v81.9M293.25 446.5v104.9M296.25 503.6v16.0M299.25 453.0v15.8M302.25 417.7v94.8M305.5 489.8v30.1M308.5 425.5v32.6M311.5 404.1v108.9M314.5 516.2v80.3M317.5 440.9v188.2M320.5 344.7v27.0M323.5 407.2v71.7M326.5 530.1v10.5M329.75 454.8v71.5M332.75 465.2v43.6M335.75 532.0v54.5M338.75 475.8v37.0M341.75 513.5v79.6M344.75 510.6v59.4M347.75 415.7v80.6M351 421.5v29.2M354 377.5v96.4M357 540.4v29.1M360 587.6v28.1M363 419.6v69.5M366 448.5v70.3M369 292.0v29.7M372 390.5v137.8M375.25 398.1v72.7M378.25 557.7v67.9M381.25 511.4v100.3M384.25 415.3v102.2M387.25 580.6v26.8M390.25 576.5v62.9M393.25 476.4v49.8M396.25 521.0v84.4M399.5 448.6v96.2M402.5 359.4v103.6M405.5 320.6v150.2M408.5 438.2v47.9M411.5 524.2v55.2M414.5 455.5v50.5M417.5 428.9v33.8M420.75 450.1v76.9M423.75 260.5v83.4M426.75 374.0v111.1M429.75 353.4v22.3M432.75 570.7v46.2M435.75 464.9v77.3M438.75 365.8v44.7M441.75 509.1v9.1M445 433.1v39.4M448 461.4v54.7M451 507.2v99.5M454 469.1v35.2M457 435.1v33.7M460 526.1v75.4M463 376.9v58.2M466.25 349.7v152.3M469.25 403.8v64.7M472.25 284.6v38.8M475.25 358.6v95.6M478.25 275.1v40.9M481.25 424.3v48.2M484.25 555.5v61.5M487.25 383.5v102.3M490.5 508.1v21.3M493.5 508.8v75.8M496.5 437.3v14.0M499.5 562.3v15.2M502.5 458.2v123.5M505.5 322.8v145.8M508.5 435.4v15.7M511.75 540.3v17.4M514.75 455.4v77.0M517.75 500.5v61.9M520.75 449.2v26.6M523.75 494.8v23.8M526.75 435.9v37.6M529.75 426.4v93.8M532.75 468.7v114.2M536 382.4v132.2M539 500.4v32.2M542 579.0v61.6M545 489.9v58.1M548 615.4v34.2M551 413.1v114.4M554 569.2v39.0M557.25 366.2v246.3M560.25 322.4v42.1M563.25 307.5v83.9M566.25 556.3v42.6M569.25 457.4v46.1M572.25 520.7v52.7M575.25 548.9v101.3M578.25 468.5v17.3M581.5 471.0v42.9M584.5 363.9v123.7M587.5 429.9v47.4M590.5 513.1v24.9M593.5 418.7v18.7M596.5 449.2v39.9M599.5 502.1v103.5M602.75 421.0v63.7M605.75 382.9v119.6M608.75 344.9v13.1M611.75 451.2v4.7M614.75 409.9v208.5M617.75 533.7v3.0M620.75 444.9v3.3M623.75 424.8v106.0M627 530.3v23.0M630 441.9v57.8M633 453.6v7.2M636 510.0v66.0M639 390.2v4.3M642 522.6v21.2M645 511.8v38.7M648.25 542.7v17.5M651.25 392.2v93.8M654.25 554.9v82.6M657.25 446.5v47.7M660.25 542.8v37.3M663.25 442.6v138.1M666.25 406.5v106.8M669.25 460.6v37.7M672.5 494.2v12.3M675.5 482.9v44.0M678.5 573.5v65.5M681.5 456.4v61.0M684.5 447.9v35.8M687.5 552.0v57.8M690.5 552.0v100.4M693.75 505.2v157.0M696.75 383.9v138.6M699.75 437.6v60.1M702.75 482.3v66.1M705.75 375.2v51.6M708.75 520.9v105.6M711.75 585.8v77.8M714.75 435.6v69.4M718 424.0v100.0M721 490.5v17.5M724 501.9v61.7M727 536.7v61.6M730 557.8v15.0M733 535.4v24.0M736 425.8v141.7M739.25 431.0v128.9M742.25 416.1v91.6M745.25 494.3v40.7M748.25 398.8v105.1M751.25 512.2v74.1M754.25 499.4v73.2M757.25 509.8v103.1M760.25 551.0v40.1M763.5 452.6v50.7M766.5 349.3v120.8M769.5 276.3v298.6M772.5 446.7v36.1M775.5 470.1v24.8M778.5 588.7v18.8M781.5 498.1v65.7M784.75 525.7v97.1M787.75 468.3v159.9M790.75 502.7v32.8M793.75 435.3v45.1M796.75 526.4v77.2M799.75 563.6v25.8M802.75 566.6v8.3M805.75 477.4v89.6M809 589.5v22.2M812 518.6v18.4M815 511.1v28.1M818 428.2v112.0M821 556.0v27.0M824 617.1v4.2M827 345.9v163.8M830.25 459.3v110.7M833.25 482.0v29.0M836.25 467.4v121.7M839.25 526.6v75.9M842.25 495.9v171.1M845.25 434.0v149.2M848.25 411.0v84.1M851.25 481.8v18.1M854.5 387.7v57.0M857.5 500.8v98.2M860.5 294.1v44.6M863.5 595.1v61.5M866.5 495.6v38.9M869.5 532.1v56.1M872.5 419.0v89.1M875.75 310.4v46.4M878.75 359.9v44.5M881.75 481.4v47.3M884.75 516.3v12.3M887.75 447.2v175.4M890.75 490.7v12.8M893.75 582.6v17.7M896.75 581.4v7.6M900 509.6v130.1M903 458.4v59.3M906 466.1v60.8M909 399.8v60.7M912 372.8v36.7M915 470.9v71.4M918 570.5v22.2M921 428.8v86.1M924.25 490.4v11.5M927.25 501.6v88.7M930.25 421.6v133.0M933.25 463.2v25.6M936.25 560.1v31.5M939.25 610.4v22.1M942.25 590.4v43.5M945.5 609.6v6.9M948.5 438.0v146.4M951.5 310.2v130.3M954.5 535.4v46.8M957.5 538.7v101.6M960.5 542.4v24.4M963.5 482.3v54.0M966.5 555.3v67.9M969.75 479.8v59.3M972.75 475.2v15.2M975.75 433.1v76.6M978.75 490.3v18.2M981.75 520.1v11.7M984.75 559.9v95.2M987.75 399.7v184.9M991 518.2v89.7M994 465.8v122.5M997 500.5v131.9M1000 417.6v135.7M1003 555.8v23.6M1006 512.8v34.5M1009 488.1v42.9M1012 459.8v97.8M1015.25 422.0v116.7M1018.25 431.9v121.9M1021.25 464.6v15.3M1024.25 568.3v23.9M1027.25 440.8v111.5M1030.25 411.7v52.1M1033.25 496.3v38.1M1036.5 361.7v58.5M1039.5 377.7v72.1M1042.5 516.5v39.8M1045.5 452.2v90.9M1048.5 422.2v8.0M1051.5 600.7v16.6M1054.5 529.2v47.4M1057.5 573.2v34.2M1060.75 484.2v131.3M1063.75 423.4v41.2M1066.75 426.0v5.0M1069.75 399.7v219.2M1072.75 366.7v134.3M1075.75 564.4v17.5M1078.75 594.8v16.1M1082 557.2v34.6M1085 477.8v62.9M1088 489.5v55.2M1091 502.1v71.5M1094 586.6v33.2M1097 367.2v80.4M1100 574.2v51.4M1103 575.7v29.7M1106.25 551.7v33.9M1109.25 548.9v35.1M1112.25 407.7v69.3M1115.25 449.0v92.7M1118.25 442.1v39.9M1121.25 417.1v147.8M1124.25 547.0v30.9M1127.5 462.2v65.4M1130.5 577.9v27.3M1133.5 497.9v8.0M1136.5 537.9v70.4"/>
<path stroke="#7C96FF" stroke-width="2.27" fill="none" d="M99 584.9v29.6M102.25 511.0v28.9M105.25 449.9v4.2M108.25 411.3v46.0M111.25 531.8v50.7M114.25 553.3v54.7M117.25 524.4v56.1M120.25 457.5v36.0M123.5 547.7v50.2M126.5 533.9v60.6M129.5 569.7v39.7M132.5 578.3v71.4M135.5 483.9v86.1M138.5 520.4v43.9M141.5 521.0v87.0M144.5 578.1v46.6M147.75 550.7v6.1M150.75 567.4v41.4M153.75 441.5v130.8M156.75 545.8v24.9M159.75 526.9v78.3M162.75 602.2v29.6M165.75 555.7v22.3M169 534.4v26.5M172 621.7v41.7M175 543.1v77.4M178 566.3v79.5M181 492.9v75.6M184 492.6v34.2M187 558.2v12.6M190 558.4v62.9M193.25 457.1v135.2M196.25 502.1v16.5M199.25 603.0v23.9M202.25 531.4v64.0M205.25 473.4v101.9M208.25 582.3v16.4M211.25 495.7v105.9M214.5 546.0v23.5M217.5 471.2v87.3M220.5 523.6v37.3M223.5 462.2v192.4M226.5 521.7v136.8M229.5 556.5v15.7M232.5 600.9v24.7M235.5 644.6v6.7M238.75 544.0v6.6M241.75 634.5v16.8M244.75 560.7v101.4M247.75 482.2v11.8M250.75 571.1v25.0M253.75 542.1v54.2M256.75 550.8v53.2M260 465.0v90.1M263 580.3v89.3M266 517.8v103.7M269 503.9v66.3M272 496.3v13.5M275 510.3v104.1M278 508.0v37.8M281 498.7v26.3M284.25 428.8v65.0M287.25 605.8v17.1M290.25 525.5v41.7M293.25 550.7v30.7M296.25 519.1v43.0M299.25 468.2v78.2M302.25 512.0v54.0M305.5 519.3v83.4M308.5 457.5v17.2M311.5 512.5v18.9M314.5 595.8v71.1M317.5 628.5v13.6M320.5 371.2v83.9M323.5 478.3v28.5M326.5 540.0v71.6M329.75 525.7v93.4M332.75 508.2v74.6M335.75 586.0v33.6M338.75 512.1v125.1M341.75 592.5v41.2M344.75 569.4v35.8M347.75 495.7v17.6M351 450.1v69.9M354 473.3v123.3M357 568.8v23.0M360 615.1v25.6M363 488.5v10.9M366 518.1v5.4M369 321.1v225.8M372 527.7v42.1M375.25 470.2v70.6M378.25 625.0v4.5M381.25 611.1v30.7M384.25 516.9v41.3M387.25 606.8v4.8M390.25 638.8v21.8M393.25 525.6v51.8M396.25 604.8v36.3M399.5 544.2v30.5M402.5 462.4v61.3M405.5 470.2v87.9M408.5 485.4v89.9M411.5 578.8v28.6M414.5 505.4v71.1M417.5 462.1v88.5M420.75 526.4v63.7M423.75 343.3v32.0M426.75 484.5v115.2M429.75 375.2v42.1M432.75 616.3v25.1M435.75 541.6v86.4M438.75 409.9v132.9M441.75 517.6v104.8M445 471.8v80.8M448 515.5v101.8M451 606.1v64.0M454 503.8v144.4M457 468.2v102.9M460 600.8v16.0M463 434.5v124.0M466.25 501.5v73.6M469.25 468.0v41.5M472.25 322.7v190.2M475.25 453.7v65.4M478.25 315.4v44.5M481.25 471.8v133.3M484.25 616.4v36.9M487.25 485.3v69.3M490.5 528.8v24.1M493.5 584.0v52.3M496.5 450.7v57.5M499.5 576.8v18.1M502.5 581.1v24.1M505.5 467.9v22.2M508.5 450.5v95.5M511.75 557.1v50.8M514.75 531.8v7.2M517.75 561.8v65.6M520.75 475.2v94.3M523.75 518.0v25.2M526.75 472.9v34.9M529.75 519.7v90.8M532.75 582.3v70.0M536 514.1v21.2M539 532.0v49.4M542 640.0v9.5M545 547.4v18.2M548 649.0v16.9M551 526.9v81.0M554 607.6v6.8M557.25 611.9v24.9M560.25 363.9v239.4M563.25 390.8v137.2M566.25 598.3v26.0M569.25 502.9v47.0M572.25 572.8v89.6M575.25 649.5v28.4M578.25 485.3v95.9M581.5 513.4v69.8M584.5 487.1v19.6M587.5 476.8v116.8M590.5 537.5v12.2M593.5 436.8v81.6M596.5 488.5v6.8M599.5 605.0v23.4M602.75 484.1v113.3M605.75 501.9v72.6M608.75 357.4v202.2M611.75 455.3v70.5M614.75 617.9v45.1M617.75 536.1v108.3M620.75 447.5v122.1M623.75 530.2v96.9M627 552.7v35.9M630 499.1v67.8M633 460.3v90.8M636 575.4v14.1M639 393.9v138.5M642 543.2v98.5M645 549.9v24.4M648.25 559.6v8.8M651.25 485.4v95.3M654.25 636.9v22.8M657.25 493.6v65.9M660.25 579.5v80.9M663.25 580.0v61.9M666.25 512.7v73.8M669.25 497.7v126.4M672.5 505.9v23.5M675.5 526.3v22.0M678.5 638.3v13.4M681.5 516.9v119.3M684.5 483.0v108.2M687.5 609.2v50.1M690.5 651.7v10.8M693.75 661.6v2.8M696.75 521.9v59.9M699.75 497.1v19.0M702.75 547.8v72.5M705.75 426.2v24.5M708.75 625.9v3.5M711.75 663.1v18.4M714.75 504.4v36.7M718 523.5v41.9M721 507.4v113.3M724 563.0v34.5M727 597.7v41.3M730 572.2v11.7M733 558.7v41.9M736 566.9v18.7M739.25 559.4v46.4M742.25 507.1v49.7M745.25 534.5v90.7M748.25 503.3v66.1M751.25 585.7v38.9M754.25 572.0v46.5M757.25 612.4v8.3M760.25 590.5v51.6M763.5 502.7v83.8M766.5 469.5v101.4M769.5 574.3v76.5M772.5 482.1v57.4M775.5 494.2v105.0M778.5 606.9v28.0M781.5 563.2v62.4M784.75 622.2v29.6M787.75 627.6v8.2M790.75 534.9v34.7M793.75 479.7v40.5M796.75 603.0v2.4M799.75 588.8v9.0M802.75 574.3v34.4M805.75 566.4v21.3M809 611.1v21.1M812 536.4v79.9M815 538.6v59.4M818 539.7v6.7M821 582.4v41.6M824 620.7v40.7M827 509.0v36.3M830.25 569.4v47.4M833.25 510.4v24.7M836.25 588.5v53.7M839.25 601.9v31.7M842.25 666.3v4.9M845.25 582.6v65.4M848.25 494.5v43.7M851.25 499.2v22.7M854.5 444.1v163.9M857.5 598.3v2.6M860.5 338.1v117.3M863.5 656.0v17.1M866.5 533.9v130.7M869.5 587.6v33.8M872.5 507.5v96.0M875.75 356.2v70.8M878.75 403.7v216.8M881.75 528.1v54.6M884.75 528.0v18.6M887.75 622.1v22.4M890.75 502.8v68.4M893.75 599.7v24.0M896.75 588.4v34.9M900 639.1v16.6M903 517.1v105.7M906 526.3v131.0M909 459.9v80.1M912 408.8v83.4M915 541.7v38.6M918 592.1v53.3M921 514.4v71.1M924.25 501.3v45.1M927.25 589.7v34.0M930.25 553.9v36.2M933.25 488.2v54.3M936.25 591.0v69.8M939.25 631.9v42.6M942.25 633.3v20.4M945.5 615.9v26.5M948.5 583.9v58.2M951.5 439.9v15.7M954.5 581.6v17.2M957.5 639.7v6.3M960.5 566.3v25.0M963.5 535.7v62.9M966.5 622.6v28.3M969.75 538.4v78.7M972.75 489.8v124.8M975.75 509.1v44.4M978.75 507.9v29.1M981.75 531.1v8.7M984.75 654.5v10.9M987.75 584.0v36.5M991 607.3v19.3M994 587.6v25.3M997 631.8v13.0M1000 552.7v47.6M1003 578.8v49.3M1006 546.7v71.0M1009 530.4v72.6M1012 557.0v83.5M1015.25 538.1v70.5M1018.25 553.2v31.2M1021.25 479.3v76.1M1024.25 591.6v8.6M1027.25 551.7v19.1M1030.25 463.2v177.8M1033.25 533.8v73.6M1036.5 419.5v216.5M1039.5 449.2v149.4M1042.5 555.6v88.1M1045.5 542.6v80.7M1048.5 429.6v48.1M1051.5 616.7v5.5M1054.5 576.0v51.8M1057.5 606.8v11.8M1060.75 614.9v18.1M1063.75 464.0v84.7M1066.75 430.4v32.1M1069.75 618.3v20.4M1072.75 500.5v86.9M1075.75 581.3v46.9M1078.75 610.4v13.8M1082 591.3v23.0M1085 540.1v55.3M1088 544.1v35.2M1091 573.0v79.8M1094 619.2v43.4M1097 447.0v135.2M1100 625.0v18.9M1103 604.8v26.3M1106.25 585.0v20.2M1109.25 583.4v19.4M1112.25 476.5v73.1M1115.25 541.1v5.2M1118.25 481.4v38.9M1121.25 564.3v32.3M1124.25 577.3v13.9M1127.5 527.0v86.3M1130.5 604.6v20.4M1133.5 505.4v74.4M1136.5 607.7v16.4"/>
<path stroke="#B385FF" stroke-width="2.27" fill="none" d="M99 613.9v20.1M102.25 539.3v99.1M105.25 453.5v44.6M108.25 456.7v117.6M111.25 582.0v38.9M114.25 607.4v65.8M117.25 579.9v30.7M120.25 492.9v26.4M123.5 597.3v11.7M126.5 593.9v50.7M129.5 608.8v25.3M132.5 649.2v26.4M135.5 569.4v30.3M138.5 563.8v93.9M141.5 607.4v31.5M144.5 624.1v13.2M147.75 556.2v26.4M150.75 608.2v26.2M153.75 571.8v27.1M156.75 570.0v93.0M159.75 604.6v16.3M162.75 631.2v11.8M165.75 577.4v30.7M169 560.3v19.9M172 662.8v16.9M175 620.0v25.3M178 645.2v20.6M181 567.8v63.0M184 526.2v112.7M187 570.2v7.0M190 620.7v21.6M193.25 591.7v62.5M196.25 518.0v124.9M199.25 626.3v13.2M202.25 594.8v51.3M205.25 574.7v21.4M208.25 598.1v63.5M211.25 601.0v6.9M214.5 568.9v108.4M217.5 557.9v27.1M220.5 560.3v43.9M223.5 654.0v12.7M226.5 657.9v13.7M229.5 571.6v80.7M232.5 625.0v49.6M235.5 650.6v20.7M238.75 550.0v61.4M241.75 650.8v21.3M244.75 661.5v14.6M247.75 493.4v6.7M250.75 595.5v19.4M253.75 595.7v1.8M256.75 603.3v36.2M260 554.5v32.5M263 668.9v6.6M266 620.8v62.4M269 569.7v114.0M272 509.1v29.8M275 613.8v13.8M278 545.1v15.2M281 524.4v28.6M284.25 493.2v148.7M287.25 622.3v53.1M290.25 566.6v58.3M293.25 580.8v21.8M296.25 561.4v77.2M299.25 545.9v121.5M302.25 565.4v108.6M305.5 602.1v48.3M308.5 474.1v26.4M311.5 530.8v53.5M314.5 666.4v4.4M317.5 641.5v38.1M320.5 454.4v97.8M323.5 506.2v85.3M326.5 611.0v37.5M329.75 618.5v61.2M332.75 582.3v52.9M335.75 619.0v33.6M338.75 636.7v36.9M341.75 633.1v29.9M344.75 604.6v19.5M347.75 512.7v139.2M351 519.4v70.8M354 596.0v75.4M357 591.2v26.6M360 640.2v16.7M363 498.8v137.1M366 523.0v104.6M369 546.3v52.8M372 569.2v42.6M375.25 540.2v140.5M378.25 628.9v50.7M381.25 641.2v13.1M384.25 557.6v69.9M387.25 611.0v65.5M390.25 660.0v21.6M393.25 576.8v57.9M396.25 640.5v7.1M399.5 574.1v11.3M402.5 523.1v55.9M405.5 557.5v57.6M408.5 574.8v84.1M411.5 606.8v11.5M414.5 575.9v98.3M417.5 550.0v55.2M420.75 589.5v14.1M423.75 374.7v75.2M426.75 599.1v53.9M429.75 416.6v118.9M432.75 640.8v31.8M435.75 627.3v22.2M438.75 542.2v68.3M441.75 621.8v40.0M445 552.1v98.2M448 616.6v13.9M451 669.5v4.5M454 647.6v16.7M457 570.5v79.9M460 616.2v31.0M463 557.9v118.4M466.25 574.5v24.6M469.25 508.9v74.7M472.25 512.3v34.2M475.25 518.5v48.1M478.25 359.3v58.4M481.25 604.5v16.3M484.25 652.7v22.2M487.25 553.9v109.7M490.5 552.3v13.1M493.5 635.7v31.5M496.5 507.6v150.0M499.5 594.4v66.9M502.5 604.6v29.0M505.5 489.5v83.3M508.5 545.5v43.6M511.75 607.2v66.7M514.75 538.4v104.2M517.75 626.7v42.2M520.75 568.8v63.0M523.75 542.6v45.4M526.75 507.2v48.5M529.75 609.9v22.4M532.75 651.7v24.4M536 534.7v54.8M539 580.8v57.7M542 648.9v30.0M545 565.0v4.9M548 665.3v13.4M551 607.3v7.0M554 613.7v27.7M557.25 636.2v8.4M560.25 602.6v36.1M563.25 527.3v98.8M566.25 623.7v51.3M569.25 549.3v15.2M572.25 661.8v22.1M575.25 677.3v4.5M578.25 580.6v103.4M581.5 582.6v36.9M584.5 506.0v121.0M587.5 593.0v52.0M590.5 549.1v66.7M593.5 517.7v133.9M596.5 494.6v170.6M599.5 627.8v10.6M602.75 596.8v69.7M605.75 573.9v49.6M608.75 559.1v43.7M611.75 525.2v48.7M614.75 662.4v19.8M617.75 643.7v42.1M620.75 569.1v32.7M623.75 626.5v8.5M627 588.0v4.2M630 566.3v76.3M633 550.5v57.1M636 588.9v77.3M639 531.8v65.4M642 641.1v23.2M645 573.7v48.3M648.25 567.8v65.8M651.25 580.1v75.3M654.25 659.1v6.5M657.25 558.9v38.8M660.25 659.8v23.5M663.25 641.3v17.6M666.25 585.9v24.4M669.25 623.5v4.1M672.5 528.8v127.2M675.5 547.7v118.1M678.5 651.2v14.1M681.5 635.6v10.9M684.5 590.6v7.2M687.5 658.7v22.6M690.5 661.9v9.3M693.75 663.8v13.2M696.75 581.1v64.6M699.75 515.4v18.9M702.75 619.7v33.2M705.75 450.0v20.0M708.75 628.9v20.8M711.75 680.9v5.7M714.75 540.4v1.9M718 564.8v27.3M721 620.1v10.7M724 596.9v20.3M727 638.4v1.7M730 583.3v70.5M733 600.1v59.4M736 585.0v75.5M739.25 605.2v62.9M742.25 556.2v68.3M745.25 624.6v41.9M748.25 568.9v1.0M751.25 624.0v34.1M754.25 617.9v12.7M757.25 620.1v6.5M760.25 641.5v32.7M763.5 585.8v32.2M766.5 570.3v65.1M769.5 650.2v37.8M772.5 539.0v12.3M775.5 598.6v7.8M778.5 634.3v17.6M781.5 625.0v25.9M784.75 651.2v28.9M787.75 635.3v26.7M790.75 569.0v38.5M793.75 519.6v163.4M796.75 604.8v27.8M799.75 597.2v19.9M802.75 608.1v34.5M805.75 587.1v42.4M809 631.6v49.9M812 615.7v33.9M815 597.4v6.1M818 545.8v116.2M821 623.5v18.7M824 660.8v18.5M827 544.7v18.5M830.25 616.2v45.1M833.25 534.4v81.7M836.25 641.6v33.4M839.25 633.0v20.5M842.25 670.6v4.4M845.25 647.4v6.1M848.25 537.6v16.0M851.25 521.4v130.3M854.5 607.5v7.6M857.5 600.3v54.5M860.5 454.7v135.1M863.5 672.5v15.4M866.5 664.0v5.4M869.5 620.8v31.8M872.5 602.9v2.7M875.75 426.4v59.9M878.75 620.0v37.3M881.75 582.1v60.2M884.75 545.9v12.8M887.75 643.8v15.9M890.75 570.6v47.7M893.75 623.1v18.2M896.75 622.7v7.8M900 655.1v3.1M903 622.3v42.9M906 656.7v2.7M909 539.4v110.4M912 491.6v128.0M915 579.6v71.9M918 644.9v15.9M921 584.9v49.5M924.25 545.8v48.8M927.25 623.1v18.1M930.25 589.5v48.8M933.25 542.0v27.9M936.25 660.2v16.3M939.25 673.9v6.4M942.25 653.1v21.9M945.5 641.8v26.0M948.5 641.4v6.7M951.5 455.0v54.3M954.5 598.2v48.0M957.5 645.4v3.3M960.5 590.7v33.8M963.5 598.0v9.5M966.5 650.2v28.6M969.75 616.6v29.4M972.75 614.0v48.3M975.75 552.9v28.4M978.75 536.4v46.0M981.75 539.2v80.0M984.75 664.7v10.6M987.75 619.9v14.7M991 626.0v18.8M994 612.3v24.1M997 644.2v36.0M1000 599.6v29.0M1003 627.5v10.5M1006 617.1v16.4M1009 602.4v20.9M1012 639.9v5.2M1015.25 608.0v57.3M1018.25 583.8v67.7M1021.25 554.8v72.7M1024.25 599.7v2.9M1027.25 570.1v37.8M1030.25 640.3v11.3M1033.25 606.7v14.3M1036.5 635.4v8.1M1039.5 598.0v66.2M1042.5 643.1v40.0M1045.5 622.7v16.9M1048.5 477.1v107.1M1051.5 621.5v46.1M1054.5 627.1v11.1M1057.5 618.0v11.2M1060.75 632.3v32.7M1063.75 548.1v79.2M1066.75 461.9v81.1M1069.75 638.1v1.5M1072.75 586.8v19.2M1075.75 627.6v54.8M1078.75 623.5v15.1M1082 613.7v49.5M1085 594.8v9.2M1088 578.7v52.8M1091 652.3v17.3M1094 662.0v8.6M1097 581.6v92.7M1100 643.2v22.0M1103 630.5v15.6M1106.25 604.5v13.9M1109.25 602.2v49.9M1112.25 549.0v18.1M1115.25 545.7v17.9M1118.25 519.6v28.8M1121.25 596.0v23.1M1124.25 590.6v91.9M1127.5 612.7v48.3M1130.5 624.4v52.4M1133.5 579.1v101.0M1136.5 623.5v20.0"/>
<path stroke="#D874FD" stroke-width="2.27" fill="none" d="M99 633.5v48.2M102.25 637.8v42.4M105.25 497.5v1.6M108.25 573.7v25.4M111.25 620.3v12.1M114.25 672.6v4.1M117.25 609.9v1.4M120.25 518.7v36.9M123.5 608.4v16.9M126.5 644.0v36.2M132.5 675.0v3.1M135.5 599.1v3.3M138.5 657.1v24.4M141.5 638.3v14.3M144.5 636.7v44.7M147.75 582.1v82.4M150.75 633.8v6.9M153.75 598.3v76.8M156.75 662.4v18.1M159.75 620.3v59.6M162.75 642.4v17.9M165.75 607.6v43.1M169 579.6v13.5M175 644.6v6.1M178 665.2v1.5M181 630.2v6.2M184 638.3v1.1M187 576.5v102.8M190 641.7v32.7M193.25 653.6v30.4M196.25 642.3v2.5M199.25 639.0v12.1M202.25 645.5v6.3M205.25 595.5v8.6M208.25 661.0v2.8M211.25 607.3v4.4M214.5 676.6v1.1M217.5 584.4v47.7M220.5 603.6v59.2M223.5 666.1v16.3M226.5 671.1v4.1M229.5 651.7v29.8M232.5 674.0v12.9M235.5 670.8v1.7M238.75 610.8v32.4M247.75 499.5v87.1M250.75 614.4v48.0M253.75 596.9v5.2M256.75 638.9v14.4M260 586.3v22.6M263 674.9v5.5M269 683.1v4.7M272 538.3v7.0M275 626.9v55.5M278 559.8v92.3M281 552.4v3.0M284.25 641.3v8.9M287.25 674.8v6.7M290.25 624.3v2.0M296.25 638.1v18.0M299.25 666.7v12.3M302.25 673.3v12.9M305.5 649.7v16.1M308.5 499.9v27.0M311.5 583.7v83.3M314.5 670.2v4.8M317.5 678.9v1.6M320.5 551.6v122.7M323.5 590.9v42.2M326.5 647.9v2.3M329.75 679.1v4.2M332.75 634.6v1.4M335.75 652.0v2.3M338.75 673.0v2.3M341.75 662.3v4.1M344.75 623.5v12.9M347.75 651.3v2.5M351 589.6v84.3M354 670.8v4.6M357 617.2v23.5M360 656.3v8.2M363 635.3v41.6M366 627.0v55.7M369 598.5v5.4M372 611.2v5.8M375.25 680.1v4.7M378.25 679.0v3.7M381.25 653.7v5.0M384.25 626.9v47.7M387.25 675.9v1.8M390.25 681.0v3.9M393.25 634.1v53.2M396.25 647.0v5.4M399.5 584.8v1.9M402.5 578.4v10.5M405.5 614.5v1.6M408.5 658.3v20.0M411.5 617.7v4.0M417.5 604.6v11.5M423.75 449.2v22.6M426.75 652.4v1.6M429.75 534.9v2.5M432.75 672.0v15.3M435.75 648.9v2.7M438.75 609.9v19.7M441.75 661.2v25.9M445 649.7v30.8M448 630.0v2.1M451 673.3v1.1M454 663.7v1.1M457 649.8v2.0M460 646.6v1.4M463 675.7v1.1M466.25 598.5v24.6M469.25 583.0v2.9M472.25 546.0v3.8M475.25 566.0v3.8M478.25 417.1v68.8M481.25 620.3v8.5M484.25 674.3v1.7M487.25 663.0v1.6M490.5 564.8v8.0M493.5 666.6v2.3M496.5 657.0v4.4M499.5 660.7v1.9M502.5 632.9v19.4M505.5 572.2v36.0M508.5 588.5v9.6M511.75 673.3v1.3M514.75 642.0v9.5M520.75 631.2v3.5M523.75 587.5v2.0M526.75 555.1v95.7M529.75 631.6v53.1M532.75 675.5v2.9M536 588.8v2.5M539 637.9v7.9M542 678.3v1.6M545 569.3v2.9M548 678.1v1.5M551 613.7v13.8M554 640.8v5.0M557.25 643.9v13.8M563.25 625.5v2.0M569.25 563.9v10.9M572.25 683.3v3.0M575.25 681.2v4.2M581.5 618.9v55.2M584.5 626.4v51.7M593.5 651.0v31.5M599.5 637.8v22.5M602.75 665.8v19.7M608.75 602.1v8.8M611.75 573.4v44.9M614.75 681.6v6.0M617.75 685.2v2.8M620.75 601.2v1.3M623.75 634.4v33.3M627 591.6v64.1M630 641.9v17.3M633 606.9v15.8M636 665.7v21.9M639 596.6v40.0M642 663.7v21.8M645 621.4v13.8M651.25 654.8v24.3M654.25 665.0v2.4M657.25 597.1v54.3M663.25 658.3v3.7M666.25 609.7v11.6M669.25 627.0v27.3M672.5 655.4v11.5M675.5 665.2v3.8M678.5 664.7v4.1M681.5 645.9v30.9M684.5 597.2v17.9M693.75 676.4v2.6M696.75 645.1v11.0M699.75 533.7v5.6M702.75 652.3v4.3M705.75 469.5v176.1M708.75 649.1v4.1M714.75 541.7v5.3M718 591.5v47.0M721 630.2v53.9M724 616.6v29.0M727 639.4v7.9M733 658.8v18.2M736 660.0v28.0M742.25 623.9v58.1M745.25 665.8v4.7M748.25 569.2v1.1M754.25 630.0v43.8M757.25 626.1v17.6M760.25 673.6v7.3M763.5 617.5v2.2M766.5 634.8v33.0M772.5 550.7v31.1M775.5 605.8v28.5M778.5 651.3v0.9M781.5 650.3v4.7M784.75 679.5v2.1M787.75 661.3v16.6M790.75 606.9v23.8M793.75 682.4v5.6M796.75 632.0v15.0M799.75 616.6v61.0M802.75 642.0v1.6M805.75 628.9v10.7M809 680.9v1.0M812 648.9v19.9M818 661.4v18.8M821 641.5v46.3M824 678.7v1.4M827 562.6v8.1M830.25 660.7v1.8M833.25 615.5v9.6M836.25 674.3v2.6M839.25 652.9v3.1M842.25 674.4v5.3M845.25 652.9v14.9M848.25 553.0v1.3M851.25 651.1v14.1M854.5 614.5v27.1M860.5 589.3v26.1M866.5 668.8v18.7M869.5 652.0v4.8M872.5 605.0v18.6M875.75 485.7v87.0M878.75 656.6v11.9M881.75 641.7v33.1M884.75 558.2v57.8M890.75 617.7v33.0M893.75 640.8v17.5M896.75 629.9v9.5M900 657.6v27.1M903 664.6v1.4M906 658.8v13.5M909 649.2v23.0M912 619.0v39.0M915 651.0v3.1M918 660.1v8.0M921 633.7v17.4M924.25 594.0v39.1M927.25 640.6v16.4M930.25 637.7v1.6M933.25 569.3v116.5M936.25 676.0v5.8M942.25 674.4v5.4M945.5 667.2v7.0M948.5 647.6v2.9M957.5 648.1v35.9M960.5 623.9v17.8M963.5 606.9v2.5M966.5 678.2v6.2M969.75 645.3v31.3M972.75 661.7v14.0M975.75 580.7v56.0M978.75 581.8v52.4M981.75 618.6v25.4M984.75 674.7v1.2M987.75 634.0v9.6M991 644.2v7.9M994 635.8v22.7M997 679.7v8.3M1000 628.1v39.1M1003 637.5v17.4M1006 632.9v44.9M1009 622.7v13.1M1015.25 664.6v1.0M1018.25 650.9v8.6M1024.25 601.9v20.7M1027.25 607.4v8.5M1030.25 651.1v3.5M1033.25 620.5v12.8M1039.5 663.6v1.0M1045.5 639.0v29.9M1048.5 583.6v41.9M1051.5 667.0v12.3M1054.5 637.6v1.1M1060.75 664.4v5.1M1063.75 626.8v29.7M1066.75 542.4v5.0M1069.75 639.0v31.2M1072.75 605.4v46.6M1075.75 681.8v4.8M1078.75 638.0v8.4M1082 662.6v25.2M1085 603.4v69.1M1088 631.0v1.3M1091 669.0v9.5M1097 673.8v13.1M1100 664.7v8.5M1103 645.5v2.3M1106.25 617.9v69.2M1109.25 651.4v1.9M1112.25 566.5v2.4M1115.25 563.1v71.3M1118.25 547.8v50.6M1121.25 618.5v6.7M1124.25 681.9v4.6M1127.5 660.4v21.8M1133.5 679.5v6.8M1136.5 642.9v15.6"/>
<path stroke="#EF67EB" stroke-width="2.27" fill="none" d="M99 681.1v1.5M102.25 679.6v5.7M105.25 498.5v62.7M111.25 631.8v10.5M114.25 676.1v9.4M117.25 610.7v15.8M123.5 624.7v1.7M126.5 679.6v2.5M129.5 633.8v53.2M132.5 677.5v7.7M135.5 601.8v47.7M138.5 680.9v4.4M141.5 652.0v9.1M144.5 680.8v3.6M150.75 640.1v1.5M153.75 674.5v7.8M156.75 679.9v3.8M159.75 679.3v6.3M162.75 659.7v5.2M165.75 650.0v1.4M169 592.4v83.1M175 650.1v13.0M178 666.1v12.2M181 635.8v50.5M184 638.8v1.4M187 678.7v8.8M190 673.7v1.5M196.25 644.2v30.8M199.25 650.4v9.0M202.25 651.3v29.8M205.25 603.5v1.0M211.25 611.1v51.6M214.5 677.1v3.8M217.5 631.6v26.6M220.5 662.2v21.0M229.5 680.9v6.0M235.5 671.9v4.2M238.75 642.7v2.9M244.75 675.5v2.5M247.75 586.0v0.9M250.75 661.8v13.5M253.75 601.5v66.8M256.75 652.7v22.5M263 679.8v6.7M266 682.8v3.8M269 687.2v0.8M272 544.8v26.0M275 681.8v4.6M278 651.5v5.0M281 554.9v125.6M284.25 649.6v3.1M287.25 680.8v2.1M290.25 625.7v38.8M293.25 602.3v38.4M296.25 655.5v3.1M299.25 678.4v8.5M302.25 685.6v2.3M305.5 665.2v2.2M308.5 526.3v157.8M311.5 666.4v5.7M314.5 674.3v10.6M320.5 673.7v14.3M323.5 632.4v8.9M326.5 649.6v3.3M329.75 682.7v1.7M332.75 635.5v7.3M335.75 653.7v18.1M338.75 674.7v4.2M341.75 665.8v2.8M344.75 635.8v2.5M347.75 653.2v20.6M351 673.4v1.6M357 640.1v46.9M360 663.9v2.9M363 676.2v1.2M366 682.1v3.3M372 616.4v1.3M375.25 684.2v2.1M381.25 658.1v24.6M384.25 674.0v10.9M393.25 686.7v1.0M396.25 651.7v4.4M399.5 586.1v3.8M405.5 615.6v18.9M411.5 621.1v4.4M414.5 673.6v1.4M417.5 615.5v27.8M420.75 603.0v1.1M423.75 471.2v1.0M429.75 536.8v39.8M432.75 686.7v1.2M438.75 629.0v3.2M445 679.9v4.1M448 631.5v10.3M451 673.8v1.8M457 651.2v1.4M460 647.4v16.3M463 676.2v10.2M466.25 622.4v59.8M469.25 585.4v43.3M472.25 549.1v91.5M475.25 569.2v34.9M478.25 485.3v199.3M481.25 628.2v11.5M484.25 675.4v4.0M487.25 664.0v2.2M490.5 572.2v10.7M493.5 668.3v3.1M496.5 660.8v13.2M499.5 661.9v7.4M502.5 651.7v14.0M505.5 607.6v24.4M508.5 597.5v56.9M511.75 674.0v2.2M514.75 650.9v3.5M517.75 668.4v19.3M520.75 634.1v30.6M523.75 588.8v26.2M526.75 650.2v35.9M529.75 684.1v3.4M539 645.2v22.8M542 679.3v7.9M545 571.6v90.3M548 679.0v7.2M554 645.2v11.3M557.25 657.1v21.3M560.25 638.3v2.2M563.25 626.9v55.5M569.25 574.2v78.6M572.25 685.7v1.0M578.25 683.7v1.3M581.5 673.4v1.6M584.5 677.5v9.2M587.5 644.4v7.2M590.5 615.1v46.0M596.5 664.6v1.2M599.5 659.7v4.8M602.75 685.0v3.0M608.75 610.4v5.3M611.75 617.7v1.0M614.75 687.0v1.0M620.75 601.9v32.2M630 658.7v5.9M633 622.2v11.4M645 634.6v3.7M648.25 633.0v15.1M651.25 678.6v2.8M657.25 650.9v2.5M660.25 682.9v1.2M663.25 661.4v1.9M666.25 620.7v9.8M669.25 653.8v3.8M681.5 676.2v1.8M684.5 614.5v69.4M690.5 670.9v1.1M693.75 678.5v2.7M705.75 645.0v1.8M708.75 652.5v14.0M714.75 546.5v26.1M718 637.9v10.8M721 683.4v1.0M724 644.9v1.4M727 646.7v1.2M730 653.2v4.8M733 676.4v1.0M739.25 667.7v6.9M742.25 681.4v1.0M748.25 569.7v16.2M754.25 673.1v1.5M757.25 643.0v27.1M760.25 680.3v1.0M772.5 581.2v57.9M775.5 633.7v2.5M778.5 651.6v4.6M781.5 654.3v7.6M784.75 681.0v2.6M787.75 677.3v10.2M790.75 630.1v40.3M796.75 646.4v1.2M799.75 677.0v7.5M802.75 643.0v8.5M805.75 639.0v10.8M809 681.3v1.3M812 668.3v16.4M815 603.2v5.9M818 679.6v1.5M827 570.1v102.6M830.25 661.9v2.9M833.25 624.5v1.9M836.25 676.3v2.1M839.25 655.5v11.1M845.25 667.2v6.1M848.25 553.7v1.0M851.25 664.6v2.0M854.5 640.9v18.2M857.5 654.3v15.9M860.5 614.8v11.1M866.5 686.9v0.9M869.5 656.2v21.1M872.5 623.0v2.1M875.75 572.0v76.0M878.75 668.0v15.1M887.75 659.1v19.6M890.75 650.1v1.2M893.75 657.6v27.3M900 684.0v2.4M903 665.4v11.6M906 671.7v10.7M909 671.6v15.9M921 650.6v37.4M924.25 632.5v51.4M930.25 638.7v5.1M933.25 685.2v2.8M942.25 679.2v1.3M951.5 508.8v137.7M954.5 645.7v1.8M957.5 683.4v3.1M960.5 641.0v6.5M963.5 608.8v10.7M966.5 683.8v2.4M975.75 636.1v45.1M978.75 633.7v1.6M981.75 643.4v30.2M987.75 643.0v1.2M991 651.6v11.2M994 657.9v3.9M1000 666.6v13.9M1003 654.2v5.2M1009 635.2v43.5M1012 644.5v8.4M1018.25 658.9v26.6M1024.25 622.0v65.5M1027.25 615.2v53.3M1030.25 654.0v12.6M1033.25 632.6v5.9M1036.5 643.0v14.3M1039.5 664.0v9.1M1042.5 682.5v2.6M1045.5 668.3v3.6M1048.5 624.9v26.6M1051.5 678.7v6.9M1054.5 638.0v12.4M1057.5 628.8v6.6M1063.75 655.8v1.0M1066.75 546.8v47.8M1069.75 669.7v1.5M1072.75 651.4v13.3M1078.75 645.9v5.3M1082 687.2v0.8M1088 631.6v6.7M1100 672.6v11.4M1103 647.2v17.7M1112.25 568.3v12.4M1118.25 597.9v90.0M1121.25 624.6v13.2M1124.25 685.9v2.1M1127.5 681.6v4.6M1136.5 658.0v28.9"/>
<path stroke="#FD61D3" stroke-width="2.27" fill="none" d="M99 681.9v6.1M102.25 684.7v2.5M105.25 560.6v1.8M108.25 598.5v28.0M111.25 641.6v23.8M114.25 684.9v3.1M117.25 625.9v62.1M120.25 555.1v105.5M126.5 681.5v3.3M132.5 684.5v2.1M135.5 648.9v35.3M138.5 684.6v3.4M141.5 660.5v8.8M144.5 683.8v4.2M147.75 663.9v4.6M150.75 641.0v12.2M156.75 683.1v4.9M162.75 664.3v4.1M165.75 650.8v36.5M169 674.9v3.1M172 679.3v1.3M175 662.6v14.2M178 677.7v6.8M181 685.6v2.4M184 639.7v41.2M190 674.6v13.1M193.25 683.4v4.6M196.25 674.4v6.9M199.25 658.9v15.7M202.25 680.4v1.4M205.25 603.9v10.1M208.25 663.3v19.3M211.25 662.0v2.2M214.5 680.4v1.6M217.5 657.6v1.7M220.5 682.7v5.3M223.5 681.8v5.2M226.5 674.7v13.3M232.5 686.5v1.5M235.5 675.5v5.0M238.75 645.0v34.3M241.75 672.0v1.4M247.75 586.3v91.9M250.75 674.7v3.5M256.75 674.6v3.1M260 608.3v63.5M263 686.0v2.0M266 686.0v2.0M272 570.1v113.9M275 685.8v1.7M278 655.9v4.3M287.25 682.3v2.8M293.25 640.1v40.6M296.25 658.0v23.7M305.5 666.9v21.0M308.5 683.5v4.4M311.5 671.5v15.0M317.5 680.0v8.0M323.5 640.7v13.4M326.5 652.3v7.8M329.75 683.8v4.2M332.75 642.1v1.5M335.75 671.1v15.8M338.75 678.3v5.9M341.75 668.0v1.9M344.75 637.7v50.3M347.75 673.2v12.9M351 674.3v5.5M354 675.0v7.5M357 686.4v1.6M363 676.8v4.0M366 684.8v1.0M369 603.3v63.1M372 617.1v4.4M375.25 685.6v0.9M378.25 682.1v1.1M381.25 682.1v1.9M384.25 684.3v2.1M387.25 677.1v3.9M390.25 684.3v1.1M393.25 687.1v0.9M396.25 655.5v18.1M399.5 589.2v23.0M402.5 588.5v62.9M405.5 633.9v51.5M408.5 677.8v7.5M411.5 624.9v20.8M414.5 674.4v6.5M417.5 642.7v29.8M420.75 603.5v75.8M423.75 471.7v203.1M426.75 653.4v29.2M429.75 576.1v2.6M432.75 687.2v0.8M435.75 651.1v4.2M438.75 631.6v1.7M441.75 686.5v1.5M445 683.4v4.6M448 641.2v46.8M451 675.1v4.1M457 651.9v33.3M460 663.1v21.2M463 685.8v1.0M466.25 681.6v6.4M469.25 628.1v11.2M472.25 640.0v1.0M475.25 603.5v75.2M478.25 684.0v4.0M481.25 639.1v3.7M487.25 665.6v0.9M490.5 582.3v103.7M493.5 670.8v6.1M496.5 673.4v13.8M502.5 665.1v22.9M505.5 631.4v38.8M508.5 653.8v1.1M511.75 675.6v1.2M514.75 653.8v6.0M520.75 664.1v23.9M526.75 685.5v2.5M532.75 678.0v10.0M536 590.7v97.1M539 667.3v4.9M545 661.3v2.5M548 685.6v1.5M551 627.0v6.9M554 656.0v32.0M557.25 677.9v4.5M560.25 639.9v34.3M563.25 681.7v5.2M566.25 674.6v7.4M569.25 652.1v31.5M572.25 686.1v1.9M575.25 684.8v1.8M581.5 674.5v13.5M584.5 686.1v1.9M587.5 650.9v3.7M590.5 660.6v25.3M593.5 682.1v2.3M596.5 665.3v7.3M599.5 663.9v15.6M605.75 623.0v56.1M608.75 615.0v12.4M611.75 618.1v4.1M620.75 633.6v52.7M623.75 667.1v1.8M627 655.1v29.6M630 664.0v24.0M639 636.0v52.0M642 685.0v3.0M645 637.7v19.3M648.25 647.5v7.9M654.25 666.9v20.0M660.25 683.4v1.4M663.25 662.8v5.3M666.25 629.9v1.3M669.25 656.9v31.1M672.5 666.5v15.2M675.5 668.4v17.9M678.5 668.2v3.9M681.5 677.4v7.7M684.5 683.3v3.0M687.5 680.9v7.1M690.5 671.4v15.7M693.75 680.5v7.5M696.75 655.5v31.2M699.75 538.8v35.0M702.75 656.1v11.5M705.75 646.2v6.4M711.75 686.1v1.9M714.75 572.0v79.1M718 648.2v17.5M721 683.8v4.2M724 645.7v25.0M727 647.3v18.5M730 657.3v29.1M739.25 673.9v10.4M742.25 681.8v3.2M745.25 670.0v4.7M748.25 585.3v8.0M751.25 657.7v2.8M754.25 674.1v13.9M757.25 669.5v2.1M760.25 680.7v2.1M763.5 619.2v41.5M766.5 667.2v20.8M772.5 638.4v49.6M775.5 635.6v50.8M778.5 655.6v31.1M781.5 661.4v25.1M784.75 683.0v2.1M787.75 686.9v1.1M790.75 669.8v3.1M796.75 647.0v1.6M799.75 683.9v4.1M805.75 649.2v1.3M809 681.9v6.1M815 608.5v39.5M818 680.5v3.2M821 687.3v0.7M824 679.5v1.3M827 672.0v2.1M830.25 664.2v23.8M833.25 625.8v21.2M839.25 666.0v21.0M842.25 679.3v1.0M845.25 672.7v15.3M848.25 554.1v2.1M851.25 666.0v18.3M854.5 658.6v28.5M857.5 669.6v14.2M860.5 625.3v9.7M866.5 687.2v0.8M869.5 676.7v2.7M872.5 624.5v58.7M875.75 647.4v3.7M884.75 615.4v2.1M887.75 678.1v9.4M890.75 650.7v18.3M893.75 684.3v3.7M896.75 638.8v47.5M906 681.8v5.4M909 687.0v1.0M912 657.4v3.7M915 653.6v33.5M918 667.5v20.5M921 687.5v0.5M924.25 683.3v2.7M927.25 656.5v28.1M930.25 643.2v5.4M936.25 681.2v5.1M939.25 680.1v1.0M942.25 679.9v6.1M945.5 673.7v8.3M948.5 649.9v29.8M951.5 645.9v15.5M954.5 646.9v21.4M960.5 646.9v1.1M963.5 618.9v66.7M969.75 676.0v10.6M972.75 675.1v12.1M975.75 680.7v2.0M978.75 634.6v27.3M981.75 673.0v15.0M984.75 675.3v12.4M987.75 643.6v37.2M991 662.1v18.3M1000 679.8v8.2M1003 658.9v25.8M1006 677.2v10.4M1009 678.1v6.1M1012 652.4v15.8M1015.25 665.0v23.0M1018.25 684.9v3.1M1021.25 626.9v1.0M1024.25 686.9v1.1M1027.25 668.0v17.4M1030.25 666.0v20.1M1033.25 638.0v3.8M1036.5 656.7v31.3M1039.5 672.6v14.3M1042.5 684.5v3.5M1045.5 671.3v9.6M1048.5 650.9v37.1M1054.5 649.9v36.0M1057.5 634.8v50.3M1060.75 669.0v13.5M1063.75 656.2v28.8M1066.75 594.0v65.7M1069.75 670.5v10.5M1072.75 664.2v23.6M1078.75 650.6v37.4M1085 671.9v14.7M1088 637.8v1.1M1091 678.0v8.8M1094 670.0v17.1M1100 683.4v2.7M1103 664.3v2.3M1106.25 686.6v1.4M1109.25 652.7v4.4M1112.25 580.2v84.8M1115.25 633.7v20.1M1118.25 687.3v0.7M1121.25 637.2v18.1M1130.5 676.3v1.3M1133.5 685.8v2.2"/>
<path stroke="#FF63B6" stroke-width="2.27" fill="none" d="M105.25 561.8v19.1M108.25 625.9v1.9M120.25 660.0v26.9M123.5 626.1v1.9M126.5 684.2v3.3M135.5 683.7v4.3M147.75 667.9v1.7M150.75 652.5v32.2M159.75 685.1v2.9M169 677.5v9.3M172 680.0v7.9M184 680.2v7.8M190 687.1v0.9M196.25 680.7v7.3M199.25 674.0v1.2M211.25 663.7v5.7M214.5 681.3v2.0M223.5 686.3v1.7M235.5 679.9v8.1M241.75 672.8v11.5M247.75 677.5v10.5M250.75 677.6v10.1M253.75 667.7v5.8M256.75 677.1v6.2M260 671.2v16.8M278 659.6v2.9M284.25 652.3v1.2M302.25 687.3v0.7M308.5 687.3v0.7M311.5 685.9v2.1M332.75 643.0v1.0M338.75 683.6v1.3M354 681.9v2.7M381.25 683.5v4.5M384.25 685.9v2.1M387.25 680.4v7.6M399.5 611.7v49.9M408.5 684.6v3.4M411.5 645.2v42.8M414.5 680.3v2.6M417.5 671.9v2.1M420.75 678.6v1.0M429.75 578.1v39.1M451 678.6v3.9M454 664.6v23.4M457 684.6v1.6M463 686.2v1.8M469.25 638.7v49.3M472.25 640.4v7.7M475.25 678.1v5.5M484.25 678.8v2.2M487.25 666.0v22.0M493.5 676.3v2.3M505.5 669.6v17.4M508.5 654.3v27.6M511.75 676.2v1.1M514.75 659.2v15.8M517.75 687.1v0.9M523.75 614.5v53.4M536 687.2v0.8M548 686.6v1.4M560.25 673.6v14.4M587.5 654.0v1.1M596.5 671.9v1.4M608.75 626.8v21.1M620.75 685.6v2.4M633 633.0v30.1M645 656.4v19.6M648.25 654.8v24.7M657.25 652.9v7.3M663.25 667.5v12.4M666.25 630.6v56.9M681.5 684.5v3.0M690.5 686.6v1.4M696.75 686.1v1.9M705.75 652.0v36.0M708.75 666.0v5.9M714.75 650.5v22.4M724 670.1v17.9M727 665.3v7.9M730 685.8v2.2M733 676.9v3.6M739.25 683.7v4.3M742.25 684.4v2.6M748.25 592.7v70.2M751.25 659.9v28.1M757.25 671.0v1.3M763.5 660.2v8.5M781.5 685.9v2.1M790.75 672.2v14.4M812 684.3v3.7M830.25 687.4v0.6M839.25 686.4v1.6M842.25 679.7v8.2M845.25 687.7v0.3M848.25 555.6v37.4M851.25 683.7v4.3M857.5 683.2v1.6M866.5 687.6v0.4M869.5 678.7v9.3M872.5 682.6v1.0M875.75 650.5v21.7M884.75 616.8v65.2M887.75 686.9v1.1M890.75 668.3v3.4M896.75 685.7v2.3M903 676.5v11.5M915 686.4v1.6M936.25 685.7v2.3M939.25 680.4v6.1M951.5 660.8v27.2M954.5 667.7v18.9M957.5 685.9v2.1M960.5 647.4v40.6M978.75 661.3v1.0M991 679.8v8.0M994 661.3v26.7M1006 687.0v1.0M1009 683.5v3.5M1027.25 684.8v2.3M1030.25 685.4v2.6M1051.5 685.0v1.1M1054.5 685.3v2.7M1057.5 684.5v2.4M1066.75 659.1v28.9M1088 638.2v49.8M1103 666.1v2.1M1112.25 664.4v23.6M1127.5 685.6v2.4M1130.5 677.1v1.6M1136.5 686.3v0.9"/>
<path stroke="#FF6B94" stroke-width="2.27" fill="none" d="M102.25 686.7v1.3M105.25 580.3v107.7M108.25 627.2v60.8M111.25 664.8v23.2M120.25 686.3v1.7M123.5 627.3v60.7M126.5 686.9v1.1M129.5 686.4v1.6M132.5 686.0v2.0M141.5 668.6v19.4M147.75 669.0v19.0M150.75 684.1v3.9M153.75 681.7v6.3M162.75 667.8v20.2M165.75 686.7v1.3M169 686.2v1.8M172 687.4v0.6M175 676.1v11.9M178 684.0v4.0M187 687.2v0.8M199.25 674.6v13.4M202.25 681.2v6.8M205.25 613.4v74.6M208.25 682.1v5.9M211.25 668.8v19.2M214.5 682.7v5.3M217.5 658.9v29.1M229.5 686.3v1.7M238.75 678.7v9.3M241.75 683.8v4.2M244.75 677.5v10.5M250.75 687.1v0.9M253.75 672.9v15.1M256.75 682.7v5.3M263 687.6v0.4M272 683.4v4.6M275 686.9v1.1M278 662.0v26.0M281 679.9v8.1M284.25 652.9v35.1M287.25 684.6v3.4M290.25 663.9v24.1M293.25 680.2v7.8M296.25 681.1v6.9M299.25 686.2v1.8M305.5 687.3v0.7M314.5 684.4v3.6M323.5 653.6v34.4M326.5 659.6v28.4M332.75 643.4v44.6M335.75 686.3v1.7M338.75 684.3v3.7M341.75 669.3v18.7M347.75 685.5v2.5M351 679.2v8.8M354 684.0v4.0M360 666.2v21.8M363 680.2v7.8M366 685.2v2.8M369 665.8v22.2M372 620.9v67.1M375.25 686.0v2.0M378.25 682.6v5.4M381.25 687.4v0.6M390.25 684.8v3.2M393.25 687.5v0.5M396.25 673.0v15.0M399.5 660.9v27.1M402.5 650.8v37.2M405.5 684.8v3.2M414.5 682.3v5.7M417.5 673.4v14.6M420.75 679.1v8.9M423.75 674.2v13.8M426.75 682.0v6.0M429.75 616.6v71.4M435.75 654.7v33.3M438.75 632.7v55.3M448 687.7v0.3M451 681.9v6.1M457 685.6v2.4M460 683.7v4.3M463 687.6v0.4M472.25 647.6v40.4M475.25 683.1v4.9M478.25 687.4v0.6M481.25 642.2v45.8M484.25 680.4v7.6M490.5 685.4v2.6M493.5 678.0v10.0M496.5 686.7v1.3M499.5 668.7v19.3M505.5 686.4v1.6M508.5 681.3v6.7M511.75 676.8v11.2M514.75 674.4v13.6M517.75 687.5v0.5M523.75 667.3v20.7M529.75 687.1v0.9M536 687.6v0.4M539 671.6v16.4M542 686.7v1.3M545 663.1v24.9M548 687.5v0.5M551 633.4v54.6M557.25 681.8v6.2M560.25 687.4v0.6M563.25 686.4v1.6M566.25 681.5v6.5M569.25 683.0v5.0M575.25 686.0v2.0M578.25 684.4v3.6M581.5 687.7v0.3M584.5 687.7v0.3M587.5 654.6v33.4M590.5 685.4v2.6M593.5 683.8v4.2M596.5 672.7v15.3M599.5 678.9v9.1M605.75 678.5v9.5M608.75 647.3v40.7M611.75 621.6v66.4M623.75 668.3v19.7M627 684.1v3.9M633 662.5v25.5M636 687.1v0.9M645 675.3v12.7M648.25 678.9v9.1M651.25 680.8v7.2M654.25 686.3v1.7M657.25 659.5v28.5M660.25 684.2v3.8M663.25 679.2v8.8M666.25 686.9v1.1M672.5 681.1v6.9M675.5 685.8v2.2M678.5 671.5v16.5M681.5 686.9v1.1M684.5 685.6v2.4M696.75 687.3v0.7M699.75 573.2v114.8M702.75 667.0v21.0M708.75 671.3v16.7M714.75 672.3v15.7M718 665.1v22.9M727 672.6v15.4M733 679.9v8.1M742.25 686.4v1.6M745.25 674.1v13.9M748.25 662.3v25.7M757.25 671.7v16.3M760.25 682.2v5.8M763.5 668.1v19.9M775.5 686.0v2.0M778.5 686.1v1.9M781.5 687.5v0.5M784.75 684.6v3.4M787.75 687.4v0.6M790.75 686.1v1.9M796.75 648.0v40.0M802.75 651.1v36.9M805.75 649.8v38.2M815 647.4v40.6M818 683.0v5.0M824 680.2v7.8M827 673.6v14.4M833.25 646.5v41.5M836.25 678.1v9.9M842.25 687.3v0.7M848.25 592.4v95.6M854.5 686.5v1.5M857.5 684.2v3.8M860.5 634.5v53.5M863.5 687.5v0.5M872.5 683.0v5.0M875.75 671.6v16.4M878.75 682.6v5.4M881.75 674.2v13.8M884.75 681.4v6.6M887.75 687.7v0.3M890.75 671.1v16.9M896.75 687.7v0.3M900 686.0v2.0M903 687.5v0.5M906 686.7v1.3M912 660.5v27.5M915 687.6v0.4M924.25 685.4v2.6M927.25 684.0v4.0M930.25 648.2v39.8M939.25 686.0v2.0M942.25 685.5v2.5M945.5 681.4v6.6M948.5 679.3v8.7M954.5 686.0v2.0M957.5 687.7v0.3M963.5 685.0v3.0M966.5 685.8v2.2M969.75 686.0v2.0M972.75 686.6v1.4M975.75 682.1v5.9M978.75 661.7v26.3M984.75 687.2v0.8M987.75 680.3v7.7M991 687.2v0.8M1003 684.0v4.0M1009 686.5v1.5M1012 667.5v20.5M1021.25 627.3v60.7M1027.25 686.5v1.5M1033.25 641.1v46.9M1039.5 686.3v1.7M1042.5 687.4v0.6M1045.5 680.3v7.7M1051.5 685.5v2.5M1057.5 686.3v1.7M1060.75 681.9v6.1M1063.75 684.4v3.6M1066.75 687.7v0.3M1069.75 680.7v7.3M1072.75 687.2v0.8M1075.75 686.0v2.0M1078.75 687.6v0.4M1085 686.0v2.0M1091 686.2v1.8M1094 686.5v1.5M1097 686.3v1.7M1100 685.5v2.5M1103 667.6v20.4M1109.25 656.5v31.5M1112.25 687.5v0.5M1115.25 653.3v34.7M1121.25 654.7v33.3M1130.5 678.0v10.0M1133.5 687.5v0.5M1136.5 686.6v1.4"/>
<rect x="97.5" y="91.5" width="1040.5" height="596" fill="none" stroke="#333" stroke-width="1"/>
<line x1="83.7" y1="91" x2="97.6" y2="91" stroke="#333" stroke-width="1.1"/>
<text x="79.1" y="99.2" font-size="22.8" text-anchor="end" fill="#000">1.00</text>
<line x1="83.7" y1="240.25" x2="97.6" y2="240.25" stroke="#333" stroke-width="1.1"/>
<text x="79.1" y="248.45" font-size="22.8" text-anchor="end" fill="#000">0.75</text>
<line x1="83.7" y1="389.5" x2="97.6" y2="389.5" stroke="#333" stroke-width="1.1"/>
<text x="79.1" y="397.7" font-size="22.8" text-anchor="end" fill="#000">0.50</text>
<line x1="83.7" y1="538.75" x2="97.6" y2="538.75" stroke="#333" stroke-width="1.1"/>
<text x="79.1" y="546.95" font-size="22.8" text-anchor="end" fill="#000">0.25</text>
<line x1="83.7" y1="688" x2="97.6" y2="688" stroke="#333" stroke-width="1.1"/>
<text x="79.1" y="696.2" font-size="22.8" text-anchor="end" fill="#000">0.00</text>
<text transform="translate(23.8 388.7) rotate(-90)" font-size="30.9" text-anchor="middle" fill="#000">Relative Percent</text>
<text x="1262.7" y="182.5" font-size="23.6" text-anchor="start" fill="#000">RiskGroup</text>
<rect x="1262.7" y="194" width="26.5" height="26.3" fill="#1BFF00"/>
<rect x="1262.7" y="221" width="26.5" height="26.3" fill="#C400FF"/>
<text x="1298.5" y="214.2" font-size="18.9" text-anchor="start" fill="#000">HRisk</text>
<text x="1298.5" y="241.2" font-size="18.9" text-anchor="start" fill="#000">LRisk</text>
<rect x="1263.1" y="284.1" width="25.5" height="26.26" fill="#F8766D"/>
<text x="1298.5" y="304.03" font-size="18.9" text-anchor="start" fill="#000">B cells naive</text>
<rect x="1263.1" y="311.36" width="25.5" height="26.26" fill="#EC8239"/>
<text x="1298.5" y="331.29" font-size="18.9" text-anchor="start" fill="#000">B cells memory</text>
<rect x="1263.1" y="338.62" width="25.5" height="26.26" fill="#DB8E00"/>
<text x="1298.5" y="358.55" font-size="18.9" text-anchor="start" fill="#000">Plasma cells</text>
<rect x="1263.1" y="365.88" width="25.5" height="26.26" fill="#C79800"/>
<text x="1298.5" y="385.81" font-size="18.9" text-anchor="start" fill="#000">T cells CD8</text>
<rect x="1263.1" y="393.14" width="25.5" height="26.26" fill="#AEA200"/>
<text x="1298.5" y="413.07" font-size="18.9" text-anchor="start" fill="#000">T cells CD4 naive</text>
<rect x="1263.1" y="420.4" width="25.5" height="26.26" fill="#8FAA00"/>
<text x="1298.5" y="440.33" font-size="18.9" text-anchor="start" fill="#000">T cells CD4 memory resting</text>
<rect x="1263.1" y="447.66" width="25.5" height="26.26" fill="#64B200"/>
<text x="1298.5" y="467.59" font-size="18.9" text-anchor="start" fill="#000">T cells CD4 memory activated</text>
<rect x="1263.1" y="474.92" width="25.5" height="26.26" fill="#00B81B"/>
<text x="1298.5" y="494.85" font-size="18.9" text-anchor="start" fill="#000">T cells follicular helper</text>
<rect x="1263.1" y="502.18" width="25.5" height="26.26" fill="#00BD5C"/>
<text x="1298.5" y="522.11" font-size="18.9" text-anchor="start" fill="#000">T cells regulatory (Tregs)</text>
<rect x="1263.1" y="529.44" width="25.5" height="26.26" fill="#00C085"/>
<text x="1298.5" y="549.37" font-size="18.9" text-anchor="start" fill="#000">T cells gamma delta</text>
<rect x="1263.1" y="556.7" width="25.5" height="26.26" fill="#00C1A7"/>
<text x="1298.5" y="576.63" font-size="18.9" text-anchor="start" fill="#000">NK cells resting</text>
<rect x="1560.5" y="284.1" width="25.5" height="26.26" fill="#00BFC4"/>
<text x="1596.2" y="304.03" font-size="18.9" text-anchor="start" fill="#000">NK cells activated</text>
<rect x="1560.5" y="311.36" width="25.5" height="26.26" fill="#00BADE"/>
<text x="1596.2" y="331.29" font-size="18.9" text-anchor="start" fill="#000">Monocytes</text>
<rect x="1560.5" y="338.62" width="25.5" height="26.26" fill="#00B2F3"/>
<text x="1596.2" y="358.55" font-size="18.9" text-anchor="start" fill="#000">Macrophages M0</text>
<rect x="1560.5" y="365.88" width="25.5" height="26.26" fill="#00A6FF"/>
<text x="1596.2" y="385.81" font-size="18.9" text-anchor="start" fill="#000">Macrophages M1</text>
<rect x="1560.5" y="393.14" width="25.5" height="26.26" fill="#7C96FF"/>
<text x="1596.2" y="413.07" font-size="18.9" text-anchor="start" fill="#000">Macrophages M2</text>
<rect x="1560.5" y="420.4" width="25.5" height="26.26" fill="#B385FF"/>
<text x="1596.2" y="440.33" font-size="18.9" text-anchor="start" fill="#000">Dendritic cells resting</text>
<rect x="1560.5" y="447.66" width="25.5" height="26.26" fill="#D874FD"/>
<text x="1596.2" y="467.59" font-size="18.9" text-anchor="start" fill="#000">Dendritic cells activated</text>
<rect x="1560.5" y="474.92" width="25.5" height="26.26" fill="#EF67EB"/>
<text x="1596.2" y="494.85" font-size="18.9" text-anchor="start" fill="#000">Mast cells resting</text>
<rect x="1560.5" y="502.18" width="25.5" height="26.26" fill="#FD61D3"/>
<text x="1596.2" y="522.11" font-size="18.9" text-anchor="start" fill="#000">Mast cells activated</text>
<rect x="1560.5" y="529.44" width="25.5" height="26.26" fill="#FF63B6"/>
<text x="1596.2" y="549.37" font-size="18.9" text-anchor="start" fill="#000">Eosinophils</text>
<rect x="1560.5" y="556.7" width="25.5" height="26.26" fill="#FF6B94"/>
<text x="1596.2" y="576.63" font-size="18.9" text-anchor="start" fill="#000">Neutrophils</text>
<text transform="translate(0.45 802.2) scale(1.04 1)" font-size="73" font-family="'Liberation Serif', 'Times New Roman', serif" fill="#000">B</text>
<g transform="translate(253.9 729.1) scale(21.17 20.17)">
<rect x="-0.003" y="-0.003" width="1.006" height="1.006" fill="#FCFAFF"/>
<rect x="0.997" y="-0.003" width="1.006" height="1.006" fill="#F8F2FF"/>
<rect x="1.997" y="-0.003" width="1.006" height="1.006" fill="#FFF0EA"/>
<rect x="2.997" y="-0.003" width="1.006" height="1.006" fill="#EEE1FF"/>
<rect x="4.997" y="-0.003" width="1.006" height="1.006" fill="#FFF2ED"/>
<rect x="5.997" y="-0.003" width="1.006" height="1.006" fill="#F7F0FF"/>
<rect x="6.997" y="-0.003" width="1.006" height="1.006" fill="#F5EDFF"/>
<rect x="7.997" y="-0.003" width="1.006" height="1.006" fill="#EEE1FF"/>
<rect x="8.997" y="-0.003" width="1.006" height="1.006" fill="#FCFAFF"/>
<rect x="9.997" y="-0.003" width="1.006" height="1.006" fill="#FFF0EA"/>
<rect x="10.997" y="-0.003" width="1.006" height="1.006" fill="#EEE1FF"/>
<rect x="11.997" y="-0.003" width="1.006" height="1.006" fill="#FEFCFF"/>
<rect x="12.997" y="-0.003" width="1.006" height="1.006" fill="#FCFAFF"/>
<rect x="13.997" y="-0.003" width="1.006" height="1.006" fill="#F4EBFF"/>
<rect x="14.997" y="-0.003" width="1.006" height="1.006" fill="#F8F2FF"/>
<rect x="15.997" y="-0.003" width="1.006" height="1.006" fill="#F9F5FF"/>
<rect x="16.997" y="-0.003" width="1.006" height="1.006" fill="#FFF4EF"/>
<rect x="17.997" y="-0.003" width="1.006" height="1.006" fill="#EEE1FF"/>
<rect x="18.997" y="-0.003" width="1.006" height="1.006" fill="#FFD5C6"/>
<rect x="19.997" y="-0.003" width="1.006" height="1.006" fill="#FFC9B7"/>
<rect x="20.997" y="-0.003" width="1.006" height="1.006" fill="#FF0000"/>
<rect x="-0.003" y="0.997" width="1.006" height="1.006" fill="#F5EDFF"/>
<rect x="0.997" y="0.997" width="1.006" height="1.006" fill="#FFF4EF"/>
<rect x="1.997" y="0.997" width="1.006" height="1.006" fill="#FFF9F7"/>
<rect x="2.997" y="0.997" width="1.006" height="1.006" fill="#F5EDFF"/>
<rect x="3.997" y="0.997" width="1.006" height="1.006" fill="#FFEEE8"/>
<rect x="4.997" y="0.997" width="1.006" height="1.006" fill="#FFF5F2"/>
<rect x="6.997" y="0.997" width="1.006" height="1.006" fill="#F7F0FF"/>
<rect x="7.997" y="0.997" width="1.006" height="1.006" fill="#E8D6FF"/>
<rect x="8.997" y="0.997" width="1.006" height="1.006" fill="#FBF7FF"/>
<rect x="9.997" y="0.997" width="1.006" height="1.006" fill="#FFF2ED"/>
<rect x="10.997" y="0.997" width="1.006" height="1.006" fill="#FCFAFF"/>
<rect x="11.997" y="0.997" width="1.006" height="1.006" fill="#FFE2D8"/>
<rect x="12.997" y="0.997" width="1.006" height="1.006" fill="#FCFAFF"/>
<rect x="13.997" y="0.997" width="1.006" height="1.006" fill="#F4EBFF"/>
<rect x="14.997" y="0.997" width="1.006" height="1.006" fill="#F4EBFF"/>
<rect x="15.997" y="0.997" width="1.006" height="1.006" fill="#FFF7F5"/>
<rect x="17.997" y="0.997" width="1.006" height="1.006" fill="#EEE1FF"/>
<rect x="18.997" y="0.997" width="1.006" height="1.006" fill="#FFC6B2"/>
<rect x="19.997" y="0.997" width="1.006" height="1.006" fill="#FF0000"/>
<rect x="20.997" y="0.997" width="1.006" height="1.006" fill="#FFC9B7"/>
<rect x="-0.003" y="1.997" width="1.006" height="1.006" fill="#F5EDFF"/>
<rect x="0.997" y="1.997" width="1.006" height="1.006" fill="#FFF2ED"/>
<rect x="1.997" y="1.997" width="1.006" height="1.006" fill="#FBF7FF"/>
<rect x="2.997" y="1.997" width="1.006" height="1.006" fill="#D2B4FF"/>
<rect x="3.997" y="1.997" width="1.006" height="1.006" fill="#FFECE5"/>
<rect x="4.997" y="1.997" width="1.006" height="1.006" fill="#FFF0EA"/>
<rect x="5.997" y="1.997" width="1.006" height="1.006" fill="#E7D4FF"/>
<rect x="6.997" y="1.997" width="1.006" height="1.006" fill="#D2B4FF"/>
<rect x="7.997" y="1.997" width="1.006" height="1.006" fill="#E2CCFF"/>
<rect x="8.997" y="1.997" width="1.006" height="1.006" fill="#FCFAFF"/>
<rect x="9.997" y="1.997" width="1.006" height="1.006" fill="#FFD9CB"/>
<rect x="10.997" y="1.997" width="1.006" height="1.006" fill="#E2CCFF"/>
<rect x="11.997" y="1.997" width="1.006" height="1.006" fill="#F8F2FF"/>
<rect x="12.997" y="1.997" width="1.006" height="1.006" fill="#FFD5C6"/>
<rect x="13.997" y="1.997" width="1.006" height="1.006" fill="#D2B4FF"/>
<rect x="14.997" y="1.997" width="1.006" height="1.006" fill="#E2CCFF"/>
<rect x="15.997" y="1.997" width="1.006" height="1.006" fill="#E5D1FF"/>
<rect x="16.997" y="1.997" width="1.006" height="1.006" fill="#FFF0EA"/>
<rect x="17.997" y="1.997" width="1.006" height="1.006" fill="#BE96FF"/>
<rect x="18.997" y="1.997" width="1.006" height="1.006" fill="#FF0000"/>
<rect x="19.997" y="1.997" width="1.006" height="1.006" fill="#FFC6B2"/>
<rect x="20.997" y="1.997" width="1.006" height="1.006" fill="#FFD5C6"/>
<rect x="1.997" y="2.997" width="1.006" height="1.006" fill="#F7F0FF"/>
<rect x="2.997" y="2.997" width="1.006" height="1.006" fill="#FFF5F2"/>
<rect x="3.997" y="2.997" width="1.006" height="1.006" fill="#FBF7FF"/>
<rect x="4.997" y="2.997" width="1.006" height="1.006" fill="#EEE1FF"/>
<rect x="5.997" y="2.997" width="1.006" height="1.006" fill="#FBF7FF"/>
<rect x="6.997" y="2.997" width="1.006" height="1.006" fill="#FFD5C6"/>
<rect x="7.997" y="2.997" width="1.006" height="1.006" fill="#FFD9CB"/>
<rect x="8.997" y="2.997" width="1.006" height="1.006" fill="#FFF5F2"/>
<rect x="9.997" y="2.997" width="1.006" height="1.006" fill="#DAC0FF"/>
<rect x="10.997" y="2.997" width="1.006" height="1.006" fill="#FFC9B7"/>
<rect x="11.997" y="2.997" width="1.006" height="1.006" fill="#FFF9F7"/>
<rect x="12.997" y="2.997" width="1.006" height="1.006" fill="#E2CCFF"/>
<rect x="13.997" y="2.997" width="1.006" height="1.006" fill="#FFE4DB"/>
<rect x="14.997" y="2.997" width="1.006" height="1.006" fill="#FFF2ED"/>
<rect x="15.997" y="2.997" width="1.006" height="1.006" fill="#FFD9CB"/>
<rect x="16.997" y="2.997" width="1.006" height="1.006" fill="#F8F2FF"/>
<rect x="17.997" y="2.997" width="1.006" height="1.006" fill="#FF0000"/>
<rect x="18.997" y="2.997" width="1.006" height="1.006" fill="#BE96FF"/>
<rect x="19.997" y="2.997" width="1.006" height="1.006" fill="#EEE1FF"/>
<rect x="20.997" y="2.997" width="1.006" height="1.006" fill="#EEE1FF"/>
<rect x="-0.003" y="3.997" width="1.006" height="1.006" fill="#E5D1FF"/>
<rect x="0.997" y="3.997" width="1.006" height="1.006" fill="#FFF2ED"/>
<rect x="1.997" y="3.997" width="1.006" height="1.006" fill="#FBF7FF"/>
<rect x="2.997" y="3.997" width="1.006" height="1.006" fill="#DFC7FF"/>
<rect x="3.997" y="3.997" width="1.006" height="1.006" fill="#FFF0EA"/>
<rect x="4.997" y="3.997" width="1.006" height="1.006" fill="#FFF5F2"/>
<rect x="5.997" y="3.997" width="1.006" height="1.006" fill="#EAD9FF"/>
<rect x="6.997" y="3.997" width="1.006" height="1.006" fill="#EEE1FF"/>
<rect x="7.997" y="3.997" width="1.006" height="1.006" fill="#F7F0FF"/>
<rect x="8.997" y="3.997" width="1.006" height="1.006" fill="#F8F2FF"/>
<rect x="9.997" y="3.997" width="1.006" height="1.006" fill="#FFFDFC"/>
<rect x="10.997" y="3.997" width="1.006" height="1.006" fill="#FBF7FF"/>
<rect x="11.997" y="3.997" width="1.006" height="1.006" fill="#FFE2D8"/>
<rect x="12.997" y="3.997" width="1.006" height="1.006" fill="#FFFBFA"/>
<rect x="13.997" y="3.997" width="1.006" height="1.006" fill="#E2CCFF"/>
<rect x="14.997" y="3.997" width="1.006" height="1.006" fill="#FFF9F7"/>
<rect x="15.997" y="3.997" width="1.006" height="1.006" fill="#F9F5FF"/>
<rect x="16.997" y="3.997" width="1.006" height="1.006" fill="#FF0000"/>
<rect x="17.997" y="3.997" width="1.006" height="1.006" fill="#F8F2FF"/>
<rect x="18.997" y="3.997" width="1.006" height="1.006" fill="#FFF0EA"/>
<rect x="20.997" y="3.997" width="1.006" height="1.006" fill="#FFF4EF"/>
<rect x="-0.003" y="4.997" width="1.006" height="1.006" fill="#EAD9FF"/>
<rect x="2.997" y="4.997" width="1.006" height="1.006" fill="#FBF7FF"/>
<rect x="3.997" y="4.997" width="1.006" height="1.006" fill="#FBF7FF"/>
<rect x="4.997" y="4.997" width="1.006" height="1.006" fill="#FBF7FF"/>
<rect x="5.997" y="4.997" width="1.006" height="1.006" fill="#F5EDFF"/>
<rect x="6.997" y="4.997" width="1.006" height="1.006" fill="#FFF2ED"/>
<rect x="7.997" y="4.997" width="1.006" height="1.006" fill="#FFF5F2"/>
<rect x="8.997" y="4.997" width="1.006" height="1.006" fill="#FFF9F7"/>
<rect x="9.997" y="4.997" width="1.006" height="1.006" fill="#DAC0FF"/>
<rect x="10.997" y="4.997" width="1.006" height="1.006" fill="#FFD9CB"/>
<rect x="11.997" y="4.997" width="1.006" height="1.006" fill="#FFF9F7"/>
<rect x="12.997" y="4.997" width="1.006" height="1.006" fill="#E2CCFF"/>
<rect x="13.997" y="4.997" width="1.006" height="1.006" fill="#FFFBFA"/>
<rect x="14.997" y="4.997" width="1.006" height="1.006" fill="#F4EBFF"/>
<rect x="15.997" y="4.997" width="1.006" height="1.006" fill="#FF0000"/>
<rect x="16.997" y="4.997" width="1.006" height="1.006" fill="#F9F5FF"/>
<rect x="17.997" y="4.997" width="1.006" height="1.006" fill="#FFD9CB"/>
<rect x="18.997" y="4.997" width="1.006" height="1.006" fill="#E5D1FF"/>
<rect x="19.997" y="4.997" width="1.006" height="1.006" fill="#FFF7F5"/>
<rect x="20.997" y="4.997" width="1.006" height="1.006" fill="#F9F5FF"/>
<rect x="-0.003" y="5.997" width="1.006" height="1.006" fill="#F1E6FF"/>
<rect x="0.997" y="5.997" width="1.006" height="1.006" fill="#FEFCFF"/>
<rect x="1.997" y="5.997" width="1.006" height="1.006" fill="#EEE1FF"/>
<rect x="2.997" y="5.997" width="1.006" height="1.006" fill="#FBF7FF"/>
<rect x="3.997" y="5.997" width="1.006" height="1.006" fill="#FCFAFF"/>
<rect x="4.997" y="5.997" width="1.006" height="1.006" fill="#F7F0FF"/>
<rect x="6.997" y="5.997" width="1.006" height="1.006" fill="#FBF7FF"/>
<rect x="7.997" y="5.997" width="1.006" height="1.006" fill="#FFFBFA"/>
<rect x="8.997" y="5.997" width="1.006" height="1.006" fill="#FFFDFC"/>
<rect x="9.997" y="5.997" width="1.006" height="1.006" fill="#FCFAFF"/>
<rect x="10.997" y="5.997" width="1.006" height="1.006" fill="#F9F5FF"/>
<rect x="11.997" y="5.997" width="1.006" height="1.006" fill="#F8F2FF"/>
<rect x="12.997" y="5.997" width="1.006" height="1.006" fill="#F7F0FF"/>
<rect x="14.997" y="5.997" width="1.006" height="1.006" fill="#FF0000"/>
<rect x="15.997" y="5.997" width="1.006" height="1.006" fill="#F4EBFF"/>
<rect x="16.997" y="5.997" width="1.006" height="1.006" fill="#FFF9F7"/>
<rect x="17.997" y="5.997" width="1.006" height="1.006" fill="#FFF2ED"/>
<rect x="18.997" y="5.997" width="1.006" height="1.006" fill="#E2CCFF"/>
<rect x="19.997" y="5.997" width="1.006" height="1.006" fill="#F4EBFF"/>
<rect x="20.997" y="5.997" width="1.006" height="1.006" fill="#F8F2FF"/>
<rect x="-0.003" y="6.997" width="1.006" height="1.006" fill="#F8F2FF"/>
<rect x="0.997" y="6.997" width="1.006" height="1.006" fill="#FBF7FF"/>
<rect x="1.997" y="6.997" width="1.006" height="1.006" fill="#F4EBFF"/>
<rect x="2.997" y="6.997" width="1.006" height="1.006" fill="#FFCFBF"/>
<rect x="3.997" y="6.997" width="1.006" height="1.006" fill="#EBDCFF"/>
<rect x="5.997" y="6.997" width="1.006" height="1.006" fill="#FFCFBF"/>
<rect x="6.997" y="6.997" width="1.006" height="1.006" fill="#FFD9CB"/>
<rect x="8.997" y="6.997" width="1.006" height="1.006" fill="#FFF9F7"/>
<rect x="9.997" y="6.997" width="1.006" height="1.006" fill="#FBF7FF"/>
<rect x="10.997" y="6.997" width="1.006" height="1.006" fill="#FFECE5"/>
<rect x="11.997" y="6.997" width="1.006" height="1.006" fill="#FFF5F2"/>
<rect x="12.997" y="6.997" width="1.006" height="1.006" fill="#C19BFF"/>
<rect x="13.997" y="6.997" width="1.006" height="1.006" fill="#FF0000"/>
<rect x="15.997" y="6.997" width="1.006" height="1.006" fill="#FFFBFA"/>
<rect x="16.997" y="6.997" width="1.006" height="1.006" fill="#E2CCFF"/>
<rect x="17.997" y="6.997" width="1.006" height="1.006" fill="#FFE4DB"/>
<rect x="18.997" y="6.997" width="1.006" height="1.006" fill="#D2B4FF"/>
<rect x="19.997" y="6.997" width="1.006" height="1.006" fill="#F4EBFF"/>
<rect x="20.997" y="6.997" width="1.006" height="1.006" fill="#F4EBFF"/>
<rect x="-0.003" y="7.997" width="1.006" height="1.006" fill="#F1E6FF"/>
<rect x="0.997" y="7.997" width="1.006" height="1.006" fill="#FCFAFF"/>
<rect x="1.997" y="7.997" width="1.006" height="1.006" fill="#F8F2FF"/>
<rect x="2.997" y="7.997" width="1.006" height="1.006" fill="#B48AFF"/>
<rect x="3.997" y="7.997" width="1.006" height="1.006" fill="#FFF0EA"/>
<rect x="5.997" y="7.997" width="1.006" height="1.006" fill="#B88EFF"/>
<rect x="6.997" y="7.997" width="1.006" height="1.006" fill="#C19BFF"/>
<rect x="7.997" y="7.997" width="1.006" height="1.006" fill="#EDDEFF"/>
<rect x="8.997" y="7.997" width="1.006" height="1.006" fill="#F9F5FF"/>
<rect x="9.997" y="7.997" width="1.006" height="1.006" fill="#F9F5FF"/>
<rect x="10.997" y="7.997" width="1.006" height="1.006" fill="#F1E6FF"/>
<rect x="11.997" y="7.997" width="1.006" height="1.006" fill="#DAC0FF"/>
<rect x="12.997" y="7.997" width="1.006" height="1.006" fill="#FF0000"/>
<rect x="13.997" y="7.997" width="1.006" height="1.006" fill="#C19BFF"/>
<rect x="14.997" y="7.997" width="1.006" height="1.006" fill="#F7F0FF"/>
<rect x="15.997" y="7.997" width="1.006" height="1.006" fill="#E2CCFF"/>
<rect x="16.997" y="7.997" width="1.006" height="1.006" fill="#FFFBFA"/>
<rect x="17.997" y="7.997" width="1.006" height="1.006" fill="#E2CCFF"/>
<rect x="18.997" y="7.997" width="1.006" height="1.006" fill="#FFD5C6"/>
<rect x="19.997" y="7.997" width="1.006" height="1.006" fill="#FCFAFF"/>
<rect x="20.997" y="7.997" width="1.006" height="1.006" fill="#FCFAFF"/>
<rect x="-0.003" y="8.997" width="1.006" height="1.006" fill="#F9F5FF"/>
<rect x="0.997" y="8.997" width="1.006" height="1.006" fill="#FFF7F5"/>
<rect x="1.997" y="8.997" width="1.006" height="1.006" fill="#F8F2FF"/>
<rect x="2.997" y="8.997" width="1.006" height="1.006" fill="#FFD9CB"/>
<rect x="3.997" y="8.997" width="1.006" height="1.006" fill="#FBF7FF"/>
<rect x="5.997" y="8.997" width="1.006" height="1.006" fill="#FFD9CB"/>
<rect x="6.997" y="8.997" width="1.006" height="1.006" fill="#FFF0EA"/>
<rect x="7.997" y="8.997" width="1.006" height="1.006" fill="#F8F2FF"/>
<rect x="8.997" y="8.997" width="1.006" height="1.006" fill="#F9F5FF"/>
<rect x="10.997" y="8.997" width="1.006" height="1.006" fill="#FFECE5"/>
<rect x="11.997" y="8.997" width="1.006" height="1.006" fill="#FF0000"/>
<rect x="12.997" y="8.997" width="1.006" height="1.006" fill="#DAC0FF"/>
<rect x="13.997" y="8.997" width="1.006" height="1.006" fill="#FFF5F2"/>
<rect x="14.997" y="8.997" width="1.006" height="1.006" fill="#F8F2FF"/>
<rect x="15.997" y="8.997" width="1.006" height="1.006" fill="#FFF9F7"/>
<rect x="16.997" y="8.997" width="1.006" height="1.006" fill="#FFE2D8"/>
<rect x="17.997" y="8.997" width="1.006" height="1.006" fill="#FFF9F7"/>
<rect x="18.997" y="8.997" width="1.006" height="1.006" fill="#F8F2FF"/>
<rect x="19.997" y="8.997" width="1.006" height="1.006" fill="#FFE2D8"/>
<rect x="20.997" y="8.997" width="1.006" height="1.006" fill="#FEFCFF"/>
<rect x="-0.003" y="9.997" width="1.006" height="1.006" fill="#F7F0FF"/>
<rect x="0.997" y="9.997" width="1.006" height="1.006" fill="#FFF9F7"/>
<rect x="2.997" y="9.997" width="1.006" height="1.006" fill="#FFF0EA"/>
<rect x="4.997" y="9.997" width="1.006" height="1.006" fill="#F1E6FF"/>
<rect x="5.997" y="9.997" width="1.006" height="1.006" fill="#F7F0FF"/>
<rect x="6.997" y="9.997" width="1.006" height="1.006" fill="#FFD9CB"/>
<rect x="7.997" y="9.997" width="1.006" height="1.006" fill="#FFF0EA"/>
<rect x="8.997" y="9.997" width="1.006" height="1.006" fill="#FFF9F7"/>
<rect x="9.997" y="9.997" width="1.006" height="1.006" fill="#CAA7FF"/>
<rect x="10.997" y="9.997" width="1.006" height="1.006" fill="#FF0000"/>
<rect x="11.997" y="9.997" width="1.006" height="1.006" fill="#FFECE5"/>
<rect x="12.997" y="9.997" width="1.006" height="1.006" fill="#F1E6FF"/>
<rect x="13.997" y="9.997" width="1.006" height="1.006" fill="#FFECE5"/>
<rect x="14.997" y="9.997" width="1.006" height="1.006" fill="#F9F5FF"/>
<rect x="15.997" y="9.997" width="1.006" height="1.006" fill="#FFD9CB"/>
<rect x="16.997" y="9.997" width="1.006" height="1.006" fill="#FBF7FF"/>
<rect x="17.997" y="9.997" width="1.006" height="1.006" fill="#FFC9B7"/>
<rect x="18.997" y="9.997" width="1.006" height="1.006" fill="#E2CCFF"/>
<rect x="19.997" y="9.997" width="1.006" height="1.006" fill="#FCFAFF"/>
<rect x="20.997" y="9.997" width="1.006" height="1.006" fill="#EEE1FF"/>
<rect x="-0.003" y="10.997" width="1.006" height="1.006" fill="#EAD9FF"/>
<rect x="0.997" y="10.997" width="1.006" height="1.006" fill="#FFECE5"/>
<rect x="1.997" y="10.997" width="1.006" height="1.006" fill="#EEE1FF"/>
<rect x="2.997" y="10.997" width="1.006" height="1.006" fill="#FFFBFA"/>
<rect x="3.997" y="10.997" width="1.006" height="1.006" fill="#FFECE5"/>
<rect x="4.997" y="10.997" width="1.006" height="1.006" fill="#FFECE5"/>
<rect x="5.997" y="10.997" width="1.006" height="1.006" fill="#FFD9CB"/>
<rect x="6.997" y="10.997" width="1.006" height="1.006" fill="#E2CCFF"/>
<rect x="7.997" y="10.997" width="1.006" height="1.006" fill="#E2CCFF"/>
<rect x="8.997" y="10.997" width="1.006" height="1.006" fill="#F9F5FF"/>
<rect x="9.997" y="10.997" width="1.006" height="1.006" fill="#FF0000"/>
<rect x="10.997" y="10.997" width="1.006" height="1.006" fill="#CAA7FF"/>
<rect x="12.997" y="10.997" width="1.006" height="1.006" fill="#F9F5FF"/>
<rect x="13.997" y="10.997" width="1.006" height="1.006" fill="#FBF7FF"/>
<rect x="14.997" y="10.997" width="1.006" height="1.006" fill="#FCFAFF"/>
<rect x="15.997" y="10.997" width="1.006" height="1.006" fill="#DAC0FF"/>
<rect x="16.997" y="10.997" width="1.006" height="1.006" fill="#FFFDFC"/>
<rect x="17.997" y="10.997" width="1.006" height="1.006" fill="#DAC0FF"/>
<rect x="18.997" y="10.997" width="1.006" height="1.006" fill="#FFD9CB"/>
<rect x="19.997" y="10.997" width="1.006" height="1.006" fill="#FFF2ED"/>
<rect x="20.997" y="10.997" width="1.006" height="1.006" fill="#FFF0EA"/>
<rect x="-0.003" y="11.997" width="1.006" height="1.006" fill="#FFFBFA"/>
<rect x="0.997" y="11.997" width="1.006" height="1.006" fill="#FCFAFF"/>
<rect x="1.997" y="11.997" width="1.006" height="1.006" fill="#FEFCFF"/>
<rect x="3.997" y="11.997" width="1.006" height="1.006" fill="#FCFAFF"/>
<rect x="4.997" y="11.997" width="1.006" height="1.006" fill="#FBF7FF"/>
<rect x="5.997" y="11.997" width="1.006" height="1.006" fill="#FFFBFA"/>
<rect x="6.997" y="11.997" width="1.006" height="1.006" fill="#FFE6DD"/>
<rect x="7.997" y="11.997" width="1.006" height="1.006" fill="#FFF7F5"/>
<rect x="8.997" y="11.997" width="1.006" height="1.006" fill="#FF0000"/>
<rect x="9.997" y="11.997" width="1.006" height="1.006" fill="#F9F5FF"/>
<rect x="10.997" y="11.997" width="1.006" height="1.006" fill="#FFF9F7"/>
<rect x="11.997" y="11.997" width="1.006" height="1.006" fill="#F9F5FF"/>
<rect x="12.997" y="11.997" width="1.006" height="1.006" fill="#F9F5FF"/>
<rect x="13.997" y="11.997" width="1.006" height="1.006" fill="#FFF9F7"/>
<rect x="14.997" y="11.997" width="1.006" height="1.006" fill="#FFFDFC"/>
<rect x="15.997" y="11.997" width="1.006" height="1.006" fill="#FFF9F7"/>
<rect x="16.997" y="11.997" width="1.006" height="1.006" fill="#F8F2FF"/>
<rect x="17.997" y="11.997" width="1.006" height="1.006" fill="#FFF5F2"/>
<rect x="18.997" y="11.997" width="1.006" height="1.006" fill="#FCFAFF"/>
<rect x="19.997" y="11.997" width="1.006" height="1.006" fill="#FBF7FF"/>
<rect x="20.997" y="11.997" width="1.006" height="1.006" fill="#FCFAFF"/>
<rect x="-0.003" y="12.997" width="1.006" height="1.006" fill="#FFDDD0"/>
<rect x="0.997" y="12.997" width="1.006" height="1.006" fill="#FCFAFF"/>
<rect x="2.997" y="12.997" width="1.006" height="1.006" fill="#FFE8E0"/>
<rect x="3.997" y="12.997" width="1.006" height="1.006" fill="#F7F0FF"/>
<rect x="4.997" y="12.997" width="1.006" height="1.006" fill="#DFC7FF"/>
<rect x="5.997" y="12.997" width="1.006" height="1.006" fill="#F7F0FF"/>
<rect x="6.997" y="12.997" width="1.006" height="1.006" fill="#FFC6B2"/>
<rect x="7.997" y="12.997" width="1.006" height="1.006" fill="#FF0000"/>
<rect x="8.997" y="12.997" width="1.006" height="1.006" fill="#FFF7F5"/>
<rect x="9.997" y="12.997" width="1.006" height="1.006" fill="#E2CCFF"/>
<rect x="10.997" y="12.997" width="1.006" height="1.006" fill="#FFF0EA"/>
<rect x="11.997" y="12.997" width="1.006" height="1.006" fill="#F8F2FF"/>
<rect x="12.997" y="12.997" width="1.006" height="1.006" fill="#EDDEFF"/>
<rect x="14.997" y="12.997" width="1.006" height="1.006" fill="#FFFBFA"/>
<rect x="15.997" y="12.997" width="1.006" height="1.006" fill="#FFF5F2"/>
<rect x="16.997" y="12.997" width="1.006" height="1.006" fill="#F7F0FF"/>
<rect x="17.997" y="12.997" width="1.006" height="1.006" fill="#FFD9CB"/>
<rect x="18.997" y="12.997" width="1.006" height="1.006" fill="#E2CCFF"/>
<rect x="19.997" y="12.997" width="1.006" height="1.006" fill="#E8D6FF"/>
<rect x="20.997" y="12.997" width="1.006" height="1.006" fill="#EEE1FF"/>
<rect x="-0.003" y="13.997" width="1.006" height="1.006" fill="#FFF0EA"/>
<rect x="0.997" y="13.997" width="1.006" height="1.006" fill="#F8F2FF"/>
<rect x="1.997" y="13.997" width="1.006" height="1.006" fill="#FFF5F2"/>
<rect x="2.997" y="13.997" width="1.006" height="1.006" fill="#FFC0AB"/>
<rect x="3.997" y="13.997" width="1.006" height="1.006" fill="#E8D6FF"/>
<rect x="4.997" y="13.997" width="1.006" height="1.006" fill="#C19BFF"/>
<rect x="5.997" y="13.997" width="1.006" height="1.006" fill="#FFD5C6"/>
<rect x="6.997" y="13.997" width="1.006" height="1.006" fill="#FF0000"/>
<rect x="7.997" y="13.997" width="1.006" height="1.006" fill="#FFC6B2"/>
<rect x="8.997" y="13.997" width="1.006" height="1.006" fill="#FFE6DD"/>
<rect x="9.997" y="13.997" width="1.006" height="1.006" fill="#E2CCFF"/>
<rect x="10.997" y="13.997" width="1.006" height="1.006" fill="#FFD9CB"/>
<rect x="11.997" y="13.997" width="1.006" height="1.006" fill="#FFF0EA"/>
<rect x="12.997" y="13.997" width="1.006" height="1.006" fill="#C19BFF"/>
<rect x="13.997" y="13.997" width="1.006" height="1.006" fill="#FFD9CB"/>
<rect x="14.997" y="13.997" width="1.006" height="1.006" fill="#FBF7FF"/>
<rect x="15.997" y="13.997" width="1.006" height="1.006" fill="#FFF2ED"/>
<rect x="16.997" y="13.997" width="1.006" height="1.006" fill="#EEE1FF"/>
<rect x="17.997" y="13.997" width="1.006" height="1.006" fill="#FFD5C6"/>
<rect x="18.997" y="13.997" width="1.006" height="1.006" fill="#D2B4FF"/>
<rect x="19.997" y="13.997" width="1.006" height="1.006" fill="#F7F0FF"/>
<rect x="20.997" y="13.997" width="1.006" height="1.006" fill="#F5EDFF"/>
<rect x="-0.003" y="14.997" width="1.006" height="1.006" fill="#FCFAFF"/>
<rect x="0.997" y="14.997" width="1.006" height="1.006" fill="#FFECE5"/>
<rect x="1.997" y="14.997" width="1.006" height="1.006" fill="#F8F2FF"/>
<rect x="2.997" y="14.997" width="1.006" height="1.006" fill="#FF8D6E"/>
<rect x="3.997" y="14.997" width="1.006" height="1.006" fill="#FBF7FF"/>
<rect x="4.997" y="14.997" width="1.006" height="1.006" fill="#D2B4FF"/>
<rect x="5.997" y="14.997" width="1.006" height="1.006" fill="#FF0000"/>
<rect x="6.997" y="14.997" width="1.006" height="1.006" fill="#FFD5C6"/>
<rect x="7.997" y="14.997" width="1.006" height="1.006" fill="#F7F0FF"/>
<rect x="8.997" y="14.997" width="1.006" height="1.006" fill="#FFFBFA"/>
<rect x="9.997" y="14.997" width="1.006" height="1.006" fill="#FFD9CB"/>
<rect x="10.997" y="14.997" width="1.006" height="1.006" fill="#F7F0FF"/>
<rect x="11.997" y="14.997" width="1.006" height="1.006" fill="#FFD9CB"/>
<rect x="12.997" y="14.997" width="1.006" height="1.006" fill="#B88EFF"/>
<rect x="13.997" y="14.997" width="1.006" height="1.006" fill="#FFCFBF"/>
<rect x="15.997" y="14.997" width="1.006" height="1.006" fill="#F5EDFF"/>
<rect x="16.997" y="14.997" width="1.006" height="1.006" fill="#EAD9FF"/>
<rect x="17.997" y="14.997" width="1.006" height="1.006" fill="#FBF7FF"/>
<rect x="18.997" y="14.997" width="1.006" height="1.006" fill="#E7D4FF"/>
<rect x="20.997" y="14.997" width="1.006" height="1.006" fill="#F7F0FF"/>
<rect x="0.997" y="15.997" width="1.006" height="1.006" fill="#F8F2FF"/>
<rect x="1.997" y="15.997" width="1.006" height="1.006" fill="#F8F2FF"/>
<rect x="2.997" y="15.997" width="1.006" height="1.006" fill="#C5A0FF"/>
<rect x="4.997" y="15.997" width="1.006" height="1.006" fill="#FF0000"/>
<rect x="5.997" y="15.997" width="1.006" height="1.006" fill="#D2B4FF"/>
<rect x="6.997" y="15.997" width="1.006" height="1.006" fill="#C19BFF"/>
<rect x="7.997" y="15.997" width="1.006" height="1.006" fill="#DFC7FF"/>
<rect x="8.997" y="15.997" width="1.006" height="1.006" fill="#FBF7FF"/>
<rect x="9.997" y="15.997" width="1.006" height="1.006" fill="#FFECE5"/>
<rect x="10.997" y="15.997" width="1.006" height="1.006" fill="#F1E6FF"/>
<rect x="14.997" y="15.997" width="1.006" height="1.006" fill="#F7F0FF"/>
<rect x="15.997" y="15.997" width="1.006" height="1.006" fill="#FBF7FF"/>
<rect x="16.997" y="15.997" width="1.006" height="1.006" fill="#FFF5F2"/>
<rect x="17.997" y="15.997" width="1.006" height="1.006" fill="#EEE1FF"/>
<rect x="18.997" y="15.997" width="1.006" height="1.006" fill="#FFF0EA"/>
<rect x="19.997" y="15.997" width="1.006" height="1.006" fill="#FFF5F2"/>
<rect x="20.997" y="15.997" width="1.006" height="1.006" fill="#FFF2ED"/>
<rect x="-0.003" y="16.997" width="1.006" height="1.006" fill="#F7F0FF"/>
<rect x="0.997" y="16.997" width="1.006" height="1.006" fill="#FFD5C6"/>
<rect x="1.997" y="16.997" width="1.006" height="1.006" fill="#F8F2FF"/>
<rect x="2.997" y="16.997" width="1.006" height="1.006" fill="#F7F0FF"/>
<rect x="3.997" y="16.997" width="1.006" height="1.006" fill="#FF0000"/>
<rect x="5.997" y="16.997" width="1.006" height="1.006" fill="#FBF7FF"/>
<rect x="6.997" y="16.997" width="1.006" height="1.006" fill="#E8D6FF"/>
<rect x="7.997" y="16.997" width="1.006" height="1.006" fill="#F7F0FF"/>
<rect x="8.997" y="16.997" width="1.006" height="1.006" fill="#FCFAFF"/>
<rect x="9.997" y="16.997" width="1.006" height="1.006" fill="#FFECE5"/>
<rect x="11.997" y="16.997" width="1.006" height="1.006" fill="#FBF7FF"/>
<rect x="12.997" y="16.997" width="1.006" height="1.006" fill="#FFF0EA"/>
<rect x="13.997" y="16.997" width="1.006" height="1.006" fill="#EBDCFF"/>
<rect x="14.997" y="16.997" width="1.006" height="1.006" fill="#FCFAFF"/>
<rect x="15.997" y="16.997" width="1.006" height="1.006" fill="#FBF7FF"/>
<rect x="16.997" y="16.997" width="1.006" height="1.006" fill="#FFF0EA"/>
<rect x="17.997" y="16.997" width="1.006" height="1.006" fill="#FBF7FF"/>
<rect x="18.997" y="16.997" width="1.006" height="1.006" fill="#FFECE5"/>
<rect x="19.997" y="16.997" width="1.006" height="1.006" fill="#FFEEE8"/>
<rect x="-0.003" y="17.997" width="1.006" height="1.006" fill="#FEFCFF"/>
<rect x="0.997" y="17.997" width="1.006" height="1.006" fill="#FCFAFF"/>
<rect x="1.997" y="17.997" width="1.006" height="1.006" fill="#F9F5FF"/>
<rect x="2.997" y="17.997" width="1.006" height="1.006" fill="#FF0000"/>
<rect x="3.997" y="17.997" width="1.006" height="1.006" fill="#F7F0FF"/>
<rect x="4.997" y="17.997" width="1.006" height="1.006" fill="#C5A0FF"/>
<rect x="5.997" y="17.997" width="1.006" height="1.006" fill="#FF8D6E"/>
<rect x="6.997" y="17.997" width="1.006" height="1.006" fill="#FFC0AB"/>
<rect x="7.997" y="17.997" width="1.006" height="1.006" fill="#FFE8E0"/>
<rect x="9.997" y="17.997" width="1.006" height="1.006" fill="#FFFBFA"/>
<rect x="10.997" y="17.997" width="1.006" height="1.006" fill="#FFF0EA"/>
<rect x="11.997" y="17.997" width="1.006" height="1.006" fill="#FFD9CB"/>
<rect x="12.997" y="17.997" width="1.006" height="1.006" fill="#B48AFF"/>
<rect x="13.997" y="17.997" width="1.006" height="1.006" fill="#FFCFBF"/>
<rect x="14.997" y="17.997" width="1.006" height="1.006" fill="#FBF7FF"/>
<rect x="15.997" y="17.997" width="1.006" height="1.006" fill="#FBF7FF"/>
<rect x="16.997" y="17.997" width="1.006" height="1.006" fill="#DFC7FF"/>
<rect x="17.997" y="17.997" width="1.006" height="1.006" fill="#FFF5F2"/>
<rect x="18.997" y="17.997" width="1.006" height="1.006" fill="#D2B4FF"/>
<rect x="19.997" y="17.997" width="1.006" height="1.006" fill="#F5EDFF"/>
<rect x="20.997" y="17.997" width="1.006" height="1.006" fill="#EEE1FF"/>
<rect x="-0.003" y="18.997" width="1.006" height="1.006" fill="#FFC9B7"/>
<rect x="0.997" y="18.997" width="1.006" height="1.006" fill="#F8F2FF"/>
<rect x="1.997" y="18.997" width="1.006" height="1.006" fill="#FF0000"/>
<rect x="2.997" y="18.997" width="1.006" height="1.006" fill="#F9F5FF"/>
<rect x="3.997" y="18.997" width="1.006" height="1.006" fill="#F8F2FF"/>
<rect x="4.997" y="18.997" width="1.006" height="1.006" fill="#F8F2FF"/>
<rect x="5.997" y="18.997" width="1.006" height="1.006" fill="#F8F2FF"/>
<rect x="6.997" y="18.997" width="1.006" height="1.006" fill="#FFF5F2"/>
<rect x="8.997" y="18.997" width="1.006" height="1.006" fill="#FEFCFF"/>
<rect x="9.997" y="18.997" width="1.006" height="1.006" fill="#EEE1FF"/>
<rect x="11.997" y="18.997" width="1.006" height="1.006" fill="#F8F2FF"/>
<rect x="12.997" y="18.997" width="1.006" height="1.006" fill="#F8F2FF"/>
<rect x="13.997" y="18.997" width="1.006" height="1.006" fill="#F4EBFF"/>
<rect x="14.997" y="18.997" width="1.006" height="1.006" fill="#EEE1FF"/>
<rect x="16.997" y="18.997" width="1.006" height="1.006" fill="#FBF7FF"/>
<rect x="17.997" y="18.997" width="1.006" height="1.006" fill="#F7F0FF"/>
<rect x="18.997" y="18.997" width="1.006" height="1.006" fill="#FBF7FF"/>
<rect x="19.997" y="18.997" width="1.006" height="1.006" fill="#FFF9F7"/>
<rect x="20.997" y="18.997" width="1.006" height="1.006" fill="#FFF0EA"/>
<rect x="-0.003" y="19.997" width="1.006" height="1.006" fill="#EAD9FF"/>
<rect x="0.997" y="19.997" width="1.006" height="1.006" fill="#FF0000"/>
<rect x="1.997" y="19.997" width="1.006" height="1.006" fill="#F8F2FF"/>
<rect x="2.997" y="19.997" width="1.006" height="1.006" fill="#FCFAFF"/>
<rect x="3.997" y="19.997" width="1.006" height="1.006" fill="#FFD5C6"/>
<rect x="4.997" y="19.997" width="1.006" height="1.006" fill="#F8F2FF"/>
<rect x="5.997" y="19.997" width="1.006" height="1.006" fill="#FFECE5"/>
<rect x="6.997" y="19.997" width="1.006" height="1.006" fill="#F8F2FF"/>
<rect x="7.997" y="19.997" width="1.006" height="1.006" fill="#FCFAFF"/>
<rect x="8.997" y="19.997" width="1.006" height="1.006" fill="#FCFAFF"/>
<rect x="9.997" y="19.997" width="1.006" height="1.006" fill="#FFECE5"/>
<rect x="10.997" y="19.997" width="1.006" height="1.006" fill="#FFF9F7"/>
<rect x="11.997" y="19.997" width="1.006" height="1.006" fill="#FFF7F5"/>
<rect x="12.997" y="19.997" width="1.006" height="1.006" fill="#FCFAFF"/>
<rect x="13.997" y="19.997" width="1.006" height="1.006" fill="#FBF7FF"/>
<rect x="14.997" y="19.997" width="1.006" height="1.006" fill="#FEFCFF"/>
<rect x="16.997" y="19.997" width="1.006" height="1.006" fill="#FFF2ED"/>
<rect x="18.997" y="19.997" width="1.006" height="1.006" fill="#FFF2ED"/>
<rect x="19.997" y="19.997" width="1.006" height="1.006" fill="#FFF4EF"/>
<rect x="20.997" y="19.997" width="1.006" height="1.006" fill="#F8F2FF"/>
<rect x="-0.003" y="20.997" width="1.006" height="1.006" fill="#FF0000"/>
<rect x="0.997" y="20.997" width="1.006" height="1.006" fill="#EAD9FF"/>
<rect x="1.997" y="20.997" width="1.006" height="1.006" fill="#FFC9B7"/>
<rect x="2.997" y="20.997" width="1.006" height="1.006" fill="#FEFCFF"/>
<rect x="3.997" y="20.997" width="1.006" height="1.006" fill="#F7F0FF"/>
<rect x="5.997" y="20.997" width="1.006" height="1.006" fill="#FCFAFF"/>
<rect x="6.997" y="20.997" width="1.006" height="1.006" fill="#FFF0EA"/>
<rect x="7.997" y="20.997" width="1.006" height="1.006" fill="#FFDDD0"/>
<rect x="8.997" y="20.997" width="1.006" height="1.006" fill="#FFFBFA"/>
<rect x="9.997" y="20.997" width="1.006" height="1.006" fill="#EAD9FF"/>
<rect x="10.997" y="20.997" width="1.006" height="1.006" fill="#F7F0FF"/>
<rect x="11.997" y="20.997" width="1.006" height="1.006" fill="#F9F5FF"/>
<rect x="12.997" y="20.997" width="1.006" height="1.006" fill="#F1E6FF"/>
<rect x="13.997" y="20.997" width="1.006" height="1.006" fill="#F8F2FF"/>
<rect x="14.997" y="20.997" width="1.006" height="1.006" fill="#F1E6FF"/>
<rect x="15.997" y="20.997" width="1.006" height="1.006" fill="#EAD9FF"/>
<rect x="16.997" y="20.997" width="1.006" height="1.006" fill="#E5D1FF"/>
<rect x="18.997" y="20.997" width="1.006" height="1.006" fill="#F5EDFF"/>
<rect x="19.997" y="20.997" width="1.006" height="1.006" fill="#F5EDFF"/>
<rect x="20.997" y="20.997" width="1.006" height="1.006" fill="#FCFAFF"/>
</g>
<g font-size="10.5" font-weight="bold" text-anchor="middle" fill="#000">
<text x="306.8" y="743.2">*</text>
<text x="328.0" y="743.2">**</text>
<text x="412.7" y="743.2">*</text>
<text x="433.8" y="743.2">**</text>
<text x="497.4" y="743.2">**</text>
<text x="560.9" y="743.2">*</text>
<text x="645.5" y="743.2">**</text>
<text x="666.7" y="743.2">***</text>
<text x="687.9" y="743.2">***</text>
<text x="328.0" y="763.4">*</text>
<text x="349.2" y="763.4">*</text>
<text x="433.8" y="763.4">***</text>
<text x="518.5" y="763.4">**</text>
<text x="560.9" y="763.4">*</text>
<text x="582.0" y="763.4">*</text>
<text x="645.5" y="763.4">**</text>
<text x="666.7" y="763.4">***</text>
<text x="709.1" y="763.4">***</text>
<text x="328.0" y="783.5">***</text>
<text x="349.2" y="783.5">**</text>
<text x="370.3" y="783.5">*</text>
<text x="391.5" y="783.5">***</text>
<text x="412.7" y="783.5">***</text>
<text x="433.8" y="783.5">***</text>
<text x="476.2" y="783.5">***</text>
<text x="497.4" y="783.5">***</text>
<text x="539.7" y="783.5">***</text>
<text x="560.9" y="783.5">***</text>
<text x="582.0" y="783.5">***</text>
<text x="603.2" y="783.5">***</text>
<text x="624.4" y="783.5">*</text>
<text x="645.5" y="783.5">***</text>
<text x="687.9" y="783.5">***</text>
<text x="709.1" y="783.5">***</text>
<text x="370.3" y="803.7">**</text>
<text x="412.7" y="803.7">***</text>
<text x="433.8" y="803.7">***</text>
<text x="476.2" y="803.7">***</text>
<text x="497.4" y="803.7">***</text>
<text x="539.7" y="803.7">***</text>
<text x="560.9" y="803.7">**</text>
<text x="603.2" y="803.7">***</text>
<text x="666.7" y="803.7">***</text>
<text x="687.9" y="803.7">**</text>
<text x="709.1" y="803.7">**</text>
<text x="264.5" y="823.9">**</text>
<text x="328.0" y="823.9">***</text>
<text x="349.2" y="823.9">*</text>
<text x="391.5" y="823.9">***</text>
<text x="412.7" y="823.9">**</text>
<text x="518.5" y="823.9">**</text>
<text x="560.9" y="823.9">***</text>
<text x="666.7" y="823.9">*</text>
<text x="264.5" y="844.0">**</text>
<text x="412.7" y="844.0">*</text>
<text x="476.2" y="844.0">***</text>
<text x="497.4" y="844.0">***</text>
<text x="539.7" y="844.0">***</text>
<text x="582.0" y="844.0">*</text>
<text x="645.5" y="844.0">***</text>
<text x="666.7" y="844.0">***</text>
<text x="264.5" y="864.2">*</text>
<text x="306.8" y="864.2">**</text>
<text x="603.2" y="864.2">*</text>
<text x="666.7" y="864.2">***</text>
<text x="687.9" y="864.2">*</text>
<text x="306.8" y="884.4">*</text>
<text x="328.0" y="884.4">***</text>
<text x="349.2" y="884.4">**</text>
<text x="391.5" y="884.4">***</text>
<text x="412.7" y="884.4">***</text>
<text x="497.4" y="884.4">**</text>
<text x="539.7" y="884.4">***</text>
<text x="624.4" y="884.4">***</text>
<text x="645.5" y="884.4">**</text>
<text x="666.7" y="884.4">***</text>
<text x="687.9" y="884.4">*</text>
<text x="709.1" y="884.4">*</text>
<text x="264.5" y="904.5">*</text>
<text x="328.0" y="904.5">***</text>
<text x="349.2" y="904.5">*</text>
<text x="391.5" y="904.5">***</text>
<text x="412.7" y="904.5">***</text>
<text x="433.8" y="904.5">**</text>
<text x="497.4" y="904.5">**</text>
<text x="518.5" y="904.5">***</text>
<text x="560.9" y="904.5">***</text>
<text x="603.2" y="904.5">***</text>
<text x="645.5" y="904.5">***</text>
<text x="666.7" y="904.5">***</text>
<text x="328.0" y="924.7">***</text>
<text x="391.5" y="924.7">***</text>
<text x="497.4" y="924.7">*</text>
<text x="539.7" y="924.7">***</text>
<text x="624.4" y="924.7">**</text>
<text x="687.9" y="924.7">**</text>
<text x="370.3" y="944.9">*</text>
<text x="412.7" y="944.9">***</text>
<text x="476.2" y="944.9">***</text>
<text x="518.5" y="944.9">*</text>
<text x="539.7" y="944.9">**</text>
<text x="560.9" y="944.9">**</text>
<text x="603.2" y="944.9">***</text>
<text x="645.5" y="944.9">***</text>
<text x="666.7" y="944.9">***</text>
<text x="709.1" y="944.9">**</text>
<text x="264.5" y="965.1">***</text>
<text x="285.7" y="965.1">**</text>
<text x="306.8" y="965.1">**</text>
<text x="349.2" y="965.1">*</text>
<text x="370.3" y="965.1">**</text>
<text x="391.5" y="965.1">***</text>
<text x="412.7" y="965.1">***</text>
<text x="433.8" y="965.1">***</text>
<text x="497.4" y="965.1">***</text>
<text x="603.2" y="965.1">***</text>
<text x="645.5" y="965.1">***</text>
<text x="666.7" y="965.1">***</text>
<text x="412.7" y="985.2">**</text>
<text x="264.5" y="1005.4">***</text>
<text x="328.0" y="1005.4">**</text>
<text x="370.3" y="1005.4">***</text>
<text x="412.7" y="1005.4">***</text>
<text x="476.2" y="1005.4">***</text>
<text x="539.7" y="1005.4">**</text>
<text x="645.5" y="1005.4">***</text>
<text x="666.7" y="1005.4">***</text>
<text x="687.9" y="1005.4">***</text>
<text x="709.1" y="1005.4">**</text>
<text x="264.5" y="1025.6">*</text>
<text x="328.0" y="1025.6">***</text>
<text x="349.2" y="1025.6">***</text>
<text x="370.3" y="1025.6">***</text>
<text x="391.5" y="1025.6">***</text>
<text x="433.8" y="1025.6">***</text>
<text x="455.0" y="1025.6">**</text>
<text x="476.2" y="1025.6">***</text>
<text x="497.4" y="1025.6">***</text>
<text x="539.7" y="1025.6">***</text>
<text x="560.9" y="1025.6">***</text>
<text x="603.2" y="1025.6">*</text>
<text x="624.4" y="1025.6">**</text>
<text x="645.5" y="1025.6">***</text>
<text x="666.7" y="1025.6">***</text>
<text x="709.1" y="1025.6">*</text>
<text x="285.7" y="1045.7">*</text>
<text x="328.0" y="1045.7">***</text>
<text x="370.3" y="1045.7">***</text>
<text x="412.7" y="1045.7">***</text>
<text x="476.2" y="1045.7">***</text>
<text x="518.5" y="1045.7">***</text>
<text x="539.7" y="1045.7">***</text>
<text x="560.9" y="1045.7">***</text>
<text x="624.4" y="1045.7">***</text>
<text x="666.7" y="1045.7">***</text>
<text x="328.0" y="1065.9">***</text>
<text x="391.5" y="1065.9">***</text>
<text x="412.7" y="1065.9">***</text>
<text x="433.8" y="1065.9">***</text>
<text x="476.2" y="1065.9">**</text>
<text x="497.4" y="1065.9">*</text>
<text x="645.5" y="1065.9">**</text>
<text x="666.7" y="1065.9">*</text>
<text x="285.7" y="1086.1">***</text>
<text x="412.7" y="1086.1">***</text>
<text x="476.2" y="1086.1">*</text>
<text x="539.7" y="1086.1">*</text>
<text x="560.9" y="1086.1">**</text>
<text x="624.4" y="1086.1">*</text>
<text x="666.7" y="1086.1">**</text>
<text x="687.9" y="1086.1">*</text>
<text x="370.3" y="1106.2">***</text>
<text x="391.5" y="1106.2">***</text>
<text x="412.7" y="1106.2">***</text>
<text x="433.8" y="1106.2">**</text>
<text x="518.5" y="1106.2">***</text>
<text x="539.7" y="1106.2">***</text>
<text x="560.9" y="1106.2">***</text>
<text x="624.4" y="1106.2">***</text>
<text x="666.7" y="1106.2">***</text>
<text x="687.9" y="1106.2">*</text>
<text x="709.1" y="1106.2">**</text>
<text x="264.5" y="1126.4">***</text>
<text x="476.2" y="1126.4">**</text>
<text x="560.9" y="1126.4">*</text>
<text x="582.0" y="1126.4">**</text>
<text x="709.1" y="1126.4">*</text>
<text x="264.5" y="1146.6">***</text>
<text x="349.2" y="1146.6">***</text>
<text x="391.5" y="1146.6">*</text>
<text x="476.2" y="1146.6">**</text>
<text x="285.7" y="1166.8">***</text>
<text x="306.8" y="1166.8">***</text>
<text x="412.7" y="1166.8">*</text>
<text x="433.8" y="1166.8">***</text>
<text x="476.2" y="1166.8">***</text>
<text x="539.7" y="1166.8">*</text>
<text x="582.0" y="1166.8">*</text>
<text x="603.2" y="1166.8">**</text>
<text x="624.4" y="1166.8">**</text>
</g>
<rect x="251.5" y="727" width="470" height="447.4" fill="none" stroke="#555" stroke-width="1.1"/>
<line x1="248.3" y1="739.19" x2="251.5" y2="739.19" stroke="#333" stroke-width="1"/>
<text x="247" y="744.29" font-size="14.3" text-anchor="end" fill="#000">Neutrophils</text>
<line x1="248.3" y1="759.36" x2="251.5" y2="759.36" stroke="#333" stroke-width="1"/>
<text x="247" y="764.46" font-size="14.3" text-anchor="end" fill="#000">Eosinophils</text>
<line x1="248.3" y1="779.53" x2="251.5" y2="779.53" stroke="#333" stroke-width="1"/>
<text x="247" y="784.63" font-size="14.3" text-anchor="end" fill="#000">Mast cells activated</text>
<line x1="248.3" y1="799.7" x2="251.5" y2="799.7" stroke="#333" stroke-width="1"/>
<text x="247" y="804.8" font-size="14.3" text-anchor="end" fill="#000">Mast cells resting</text>
<line x1="248.3" y1="819.87" x2="251.5" y2="819.87" stroke="#333" stroke-width="1"/>
<text x="247" y="824.97" font-size="14.3" text-anchor="end" fill="#000">Dendritic cells activated</text>
<line x1="248.3" y1="840.04" x2="251.5" y2="840.04" stroke="#333" stroke-width="1"/>
<text x="247" y="845.14" font-size="14.3" text-anchor="end" fill="#000">Dendritic cells resting</text>
<line x1="248.3" y1="860.21" x2="251.5" y2="860.21" stroke="#333" stroke-width="1"/>
<text x="247" y="865.31" font-size="14.3" text-anchor="end" fill="#000">Macrophages M2</text>
<line x1="248.3" y1="880.38" x2="251.5" y2="880.38" stroke="#333" stroke-width="1"/>
<text x="247" y="885.48" font-size="14.3" text-anchor="end" fill="#000">Macrophages M1</text>
<line x1="248.3" y1="900.55" x2="251.5" y2="900.55" stroke="#333" stroke-width="1"/>
<text x="247" y="905.65" font-size="14.3" text-anchor="end" fill="#000">Macrophages M0</text>
<line x1="248.3" y1="920.72" x2="251.5" y2="920.72" stroke="#333" stroke-width="1"/>
<text x="247" y="925.82" font-size="14.3" text-anchor="end" fill="#000">Monocytes</text>
<line x1="248.3" y1="940.89" x2="251.5" y2="940.89" stroke="#333" stroke-width="1"/>
<text x="247" y="945.99" font-size="14.3" text-anchor="end" fill="#000">NK cells activated</text>
<line x1="248.3" y1="961.06" x2="251.5" y2="961.06" stroke="#333" stroke-width="1"/>
<text x="247" y="966.16" font-size="14.3" text-anchor="end" fill="#000">NK cells resting</text>
<line x1="248.3" y1="981.23" x2="251.5" y2="981.23" stroke="#333" stroke-width="1"/>
<text x="247" y="986.33" font-size="14.3" text-anchor="end" fill="#000">T cells gamma delta</text>
<line x1="248.3" y1="1001.4" x2="251.5" y2="1001.4" stroke="#333" stroke-width="1"/>
<text x="247" y="1006.5" font-size="14.3" text-anchor="end" fill="#000">T cells regulatory (Tregs)</text>
<line x1="248.3" y1="1021.57" x2="251.5" y2="1021.57" stroke="#333" stroke-width="1"/>
<text x="247" y="1026.66" font-size="14.3" text-anchor="end" fill="#000">T cells follicular helper</text>
<line x1="248.3" y1="1041.74" x2="251.5" y2="1041.74" stroke="#333" stroke-width="1"/>
<text x="247" y="1046.84" font-size="14.3" text-anchor="end" fill="#000">T cells CD4 memory activated</text>
<line x1="248.3" y1="1061.91" x2="251.5" y2="1061.91" stroke="#333" stroke-width="1"/>
<text x="247" y="1067.01" font-size="14.3" text-anchor="end" fill="#000">T cells CD4 memory resting</text>
<line x1="248.3" y1="1082.08" x2="251.5" y2="1082.08" stroke="#333" stroke-width="1"/>
<text x="247" y="1087.17" font-size="14.3" text-anchor="end" fill="#000">T cells CD4 naive</text>
<line x1="248.3" y1="1102.25" x2="251.5" y2="1102.25" stroke="#333" stroke-width="1"/>
<text x="247" y="1107.35" font-size="14.3" text-anchor="end" fill="#000">T cells CD8</text>
<line x1="248.3" y1="1122.41" x2="251.5" y2="1122.41" stroke="#333" stroke-width="1"/>
<text x="247" y="1127.51" font-size="14.3" text-anchor="end" fill="#000">Plasma cells</text>
<line x1="248.3" y1="1142.59" x2="251.5" y2="1142.59" stroke="#333" stroke-width="1"/>
<text x="247" y="1147.68" font-size="14.3" text-anchor="end" fill="#000">B cells memory</text>
<line x1="248.3" y1="1162.76" x2="251.5" y2="1162.76" stroke="#333" stroke-width="1"/>
<text x="247" y="1167.86" font-size="14.3" text-anchor="end" fill="#000">B cells naive</text>
<line x1="264.49" y1="1174.4" x2="264.49" y2="1177.6" stroke="#333" stroke-width="1"/>
<text transform="translate(271.49 1185.5) rotate(-45)" font-size="14.5" text-anchor="end" fill="#000">B cells naive</text>
<line x1="285.65" y1="1174.4" x2="285.65" y2="1177.6" stroke="#333" stroke-width="1"/>
<text transform="translate(292.65 1185.5) rotate(-45)" font-size="14.5" text-anchor="end" fill="#000">B cells memory</text>
<line x1="306.82" y1="1174.4" x2="306.82" y2="1177.6" stroke="#333" stroke-width="1"/>
<text transform="translate(313.82 1185.5) rotate(-45)" font-size="14.5" text-anchor="end" fill="#000">Plasma cells</text>
<line x1="328" y1="1174.4" x2="328" y2="1177.6" stroke="#333" stroke-width="1"/>
<text transform="translate(335 1185.5) rotate(-45)" font-size="14.5" text-anchor="end" fill="#000">T cells CD8</text>
<line x1="349.17" y1="1174.4" x2="349.17" y2="1177.6" stroke="#333" stroke-width="1"/>
<text transform="translate(356.17 1185.5) rotate(-45)" font-size="14.5" text-anchor="end" fill="#000">T cells CD4 naive</text>
<line x1="370.33" y1="1174.4" x2="370.33" y2="1177.6" stroke="#333" stroke-width="1"/>
<text transform="translate(377.33 1185.5) rotate(-45)" font-size="14.5" text-anchor="end" fill="#000">T cells CD4 memory resting</text>
<line x1="391.5" y1="1174.4" x2="391.5" y2="1177.6" stroke="#333" stroke-width="1"/>
<text transform="translate(398.5 1185.5) rotate(-45)" font-size="14.5" text-anchor="end" fill="#000">T cells CD4 memory activated</text>
<line x1="412.68" y1="1174.4" x2="412.68" y2="1177.6" stroke="#333" stroke-width="1"/>
<text transform="translate(419.68 1185.5) rotate(-45)" font-size="14.5" text-anchor="end" fill="#000">T cells follicular helper</text>
<line x1="433.84" y1="1174.4" x2="433.84" y2="1177.6" stroke="#333" stroke-width="1"/>
<text transform="translate(440.84 1185.5) rotate(-45)" font-size="14.5" text-anchor="end" fill="#000">T cells regulatory (Tregs)</text>
<line x1="455.02" y1="1174.4" x2="455.02" y2="1177.6" stroke="#333" stroke-width="1"/>
<text transform="translate(462.02 1185.5) rotate(-45)" font-size="14.5" text-anchor="end" fill="#000">T cells gamma delta</text>
<line x1="476.19" y1="1174.4" x2="476.19" y2="1177.6" stroke="#333" stroke-width="1"/>
<text transform="translate(483.19 1185.5) rotate(-45)" font-size="14.5" text-anchor="end" fill="#000">NK cells resting</text>
<line x1="497.35" y1="1174.4" x2="497.35" y2="1177.6" stroke="#333" stroke-width="1"/>
<text transform="translate(504.35 1185.5) rotate(-45)" font-size="14.5" text-anchor="end" fill="#000">NK cells activated</text>
<line x1="518.53" y1="1174.4" x2="518.53" y2="1177.6" stroke="#333" stroke-width="1"/>
<text transform="translate(525.53 1185.5) rotate(-45)" font-size="14.5" text-anchor="end" fill="#000">Monocytes</text>
<line x1="539.7" y1="1174.4" x2="539.7" y2="1177.6" stroke="#333" stroke-width="1"/>
<text transform="translate(546.7 1185.5) rotate(-45)" font-size="14.5" text-anchor="end" fill="#000">Macrophages M0</text>
<line x1="560.87" y1="1174.4" x2="560.87" y2="1177.6" stroke="#333" stroke-width="1"/>
<text transform="translate(567.87 1185.5) rotate(-45)" font-size="14.5" text-anchor="end" fill="#000">Macrophages M1</text>
<line x1="582.04" y1="1174.4" x2="582.04" y2="1177.6" stroke="#333" stroke-width="1"/>
<text transform="translate(589.04 1185.5) rotate(-45)" font-size="14.5" text-anchor="end" fill="#000">Macrophages M2</text>
<line x1="603.21" y1="1174.4" x2="603.21" y2="1177.6" stroke="#333" stroke-width="1"/>
<text transform="translate(610.21 1185.5) rotate(-45)" font-size="14.5" text-anchor="end" fill="#000">Dendritic cells resting</text>
<line x1="624.38" y1="1174.4" x2="624.38" y2="1177.6" stroke="#333" stroke-width="1"/>
<text transform="translate(631.38 1185.5) rotate(-45)" font-size="14.5" text-anchor="end" fill="#000">Dendritic cells activated</text>
<line x1="645.55" y1="1174.4" x2="645.55" y2="1177.6" stroke="#333" stroke-width="1"/>
<text transform="translate(652.55 1185.5) rotate(-45)" font-size="14.5" text-anchor="end" fill="#000">Mast cells resting</text>
<line x1="666.72" y1="1174.4" x2="666.72" y2="1177.6" stroke="#333" stroke-width="1"/>
<text transform="translate(673.72 1185.5) rotate(-45)" font-size="14.5" text-anchor="end" fill="#000">Mast cells activated</text>
<line x1="687.89" y1="1174.4" x2="687.89" y2="1177.6" stroke="#333" stroke-width="1"/>
<text transform="translate(694.89 1185.5) rotate(-45)" font-size="14.5" text-anchor="end" fill="#000">Eosinophils</text>
<line x1="709.06" y1="1174.4" x2="709.06" y2="1177.6" stroke="#333" stroke-width="1"/>
<text transform="translate(716.06 1185.5) rotate(-45)" font-size="14.5" text-anchor="end" fill="#000">Neutrophils</text>
<text x="734.4" y="914.8" font-size="14.3" text-anchor="start" fill="#000">Pearson</text>
<text x="734.4" y="930.4" font-size="14.3" text-anchor="start" fill="#000">Correlation</text>
<defs><linearGradient id="cbar" x1="0" y1="0" x2="0" y2="1"><stop offset="0" stop-color="#FF0000"/><stop offset="0.05" stop-color="#FF361C"/><stop offset="0.1" stop-color="#FF4F30"/><stop offset="0.15" stop-color="#FF6443"/><stop offset="0.2" stop-color="#FF7755"/><stop offset="0.25" stop-color="#FF8868"/><stop offset="0.3" stop-color="#FF987A"/><stop offset="0.35" stop-color="#FFA88D"/><stop offset="0.4" stop-color="#FFB8A1"/><stop offset="0.45" stop-color="#FFC7B4"/><stop offset="0.5" stop-color="#FFD6C8"/><stop offset="0.55" stop-color="#FFE5DC"/><stop offset="0.6" stop-color="#FFF4F0"/><stop offset="0.65" stop-color="#FCF9FF"/><stop offset="0.7" stop-color="#F1E5FF"/><stop offset="0.75" stop-color="#E5D2FF"/><stop offset="0.8" stop-color="#D9BEFF"/><stop offset="0.85" stop-color="#CCAAFF"/><stop offset="0.9" stop-color="#BE97FF"/><stop offset="0.95" stop-color="#B084FF"/><stop offset="1" stop-color="#A070FF"/></linearGradient></defs>
<rect x="732.9" y="936" width="14" height="63" fill="url(#cbar)"/>
<line x1="732.9" y1="936.7" x2="735.7" y2="936.7" stroke="#fff" stroke-width="0.8"/>
<line x1="744.1" y1="936.7" x2="746.9" y2="936.7" stroke="#fff" stroke-width="0.8"/>
<text x="750.5" y="940.6" font-size="11" text-anchor="start" fill="#000">1.0</text>
<line x1="732.9" y1="956.5" x2="735.7" y2="956.5" stroke="#fff" stroke-width="0.8"/>
<line x1="744.1" y1="956.5" x2="746.9" y2="956.5" stroke="#fff" stroke-width="0.8"/>
<text x="750.5" y="960.4" font-size="11" text-anchor="start" fill="#000">0.5</text>
<line x1="732.9" y1="976.3" x2="735.7" y2="976.3" stroke="#fff" stroke-width="0.8"/>
<line x1="744.1" y1="976.3" x2="746.9" y2="976.3" stroke="#fff" stroke-width="0.8"/>
<text x="750.5" y="980.2" font-size="11" text-anchor="start" fill="#000">0.0</text>
<line x1="732.9" y1="996.1" x2="735.7" y2="996.1" stroke="#fff" stroke-width="0.8"/>
<line x1="744.1" y1="996.1" x2="746.9" y2="996.1" stroke="#fff" stroke-width="0.8"/>
<text x="750.5" y="1000" font-size="11" text-anchor="start" fill="#000">−0.5</text>
<text transform="translate(1.05 1397) scale(1.03 1)" font-size="75.5" font-family="'Liberation Serif', 'Times New Roman', serif" fill="#000">C</text>
<text x="809.9" y="1347.4" font-size="19" text-anchor="start" fill="#000">RiskGroup</text>
<line x1="925.1" y1="1327.5" x2="925.1" y2="1357" stroke="#0C73C2" stroke-width="1.8"/>
<rect x="910.8" y="1332" width="28.5" height="18.5" fill="#D6E8F7" stroke="#0C73C2" stroke-width="1.8"/>
<line x1="910.8" y1="1341.2" x2="939.3" y2="1341.2" stroke="#0C73C2" stroke-width="1.8"/>
<text x="949.5" y="1347.2" font-size="15.3" text-anchor="start" fill="#000">LRisk</text>
<line x1="1013.6" y1="1327.5" x2="1013.6" y2="1357" stroke="#EFC000" stroke-width="1.8"/>
<rect x="999.3" y="1332" width="28.5" height="18.5" fill="#FAEEC2" stroke="#EFC000" stroke-width="1.8"/>
<line x1="999.3" y1="1341.2" x2="1027.8" y2="1341.2" stroke="#EFC000" stroke-width="1.8"/>
<text x="1038.3" y="1347.2" font-size="15.3" text-anchor="start" fill="#000">HRisk</text>
<line x1="254.7" y1="1767.88" x2="254.7" y2="1738.78" stroke="#0C73C2" stroke-width="1.8"/>
<line x1="254.7" y1="1790.67" x2="254.7" y2="1793.1" stroke="#0C73C2" stroke-width="1.8"/>
<rect x="243.8" y="1767.88" width="21.8" height="22.8" fill="#D6E8F7" stroke="#0C73C2" stroke-width="1.8"/>
<line x1="243.8" y1="1783.4" x2="265.6" y2="1783.4" stroke="#0C73C2" stroke-width="3.1"/>
<circle cx="254.7" cy="1683" r="2.2" fill="#0C73C2"/>
<circle cx="254.7" cy="1687.37" r="2.2" fill="#0C73C2"/>
<circle cx="254.7" cy="1720.35" r="2.2" fill="#0C73C2"/>
<circle cx="254.7" cy="1722.77" r="2.2" fill="#0C73C2"/>
<circle cx="254.7" cy="1725.2" r="2.2" fill="#0C73C2"/>
<circle cx="254.7" cy="1727.62" r="2.2" fill="#0C73C2"/>
<circle cx="254.7" cy="1730.05" r="2.2" fill="#0C73C2"/>
<circle cx="254.7" cy="1732.47" r="2.2" fill="#0C73C2"/>
<line x1="278.9" y1="1771.27" x2="278.9" y2="1734.9" stroke="#EFC000" stroke-width="1.8"/>
<line x1="278.9" y1="1793.1" x2="278.9" y2="1793.1" stroke="#EFC000" stroke-width="1.8"/>
<rect x="268" y="1771.27" width="21.8" height="21.83" fill="#FAEEC2" stroke="#EFC000" stroke-width="1.8"/>
<line x1="268" y1="1784.86" x2="289.8" y2="1784.86" stroke="#EFC000" stroke-width="3.1"/>
<circle cx="278.9" cy="1698.52" r="2.2" fill="#EFC000"/>
<circle cx="278.9" cy="1710.65" r="2.2" fill="#EFC000"/>
<circle cx="278.9" cy="1713.07" r="2.2" fill="#EFC000"/>
<circle cx="278.9" cy="1720.35" r="2.2" fill="#EFC000"/>
<circle cx="278.9" cy="1722.77" r="2.2" fill="#EFC000"/>
<circle cx="278.9" cy="1725.2" r="2.2" fill="#EFC000"/>
<circle cx="278.9" cy="1727.62" r="2.2" fill="#EFC000"/>
<circle cx="278.9" cy="1730.05" r="2.2" fill="#EFC000"/>
<text x="266.8" y="1403.9" font-size="18.5" text-anchor="middle" fill="#000">*</text>
<line x1="266.8" y1="1812.9" x2="266.8" y2="1818" stroke="#333" stroke-width="1.2"/>
<text transform="translate(274.3 1830.5) rotate(-45)" font-size="17.5" text-anchor="end" fill="#4D4D4D">B cells naive</text>
<line x1="319.3" y1="1791.64" x2="319.3" y2="1789.7" stroke="#0C73C2" stroke-width="1.8"/>
<line x1="319.3" y1="1793.1" x2="319.3" y2="1793.1" stroke="#0C73C2" stroke-width="1.8"/>
<rect x="308.4" y="1791.64" width="21.8" height="1.45" fill="#D6E8F7" stroke="#0C73C2" stroke-width="1.8"/>
<line x1="308.4" y1="1793.1" x2="330.2" y2="1793.1" stroke="#0C73C2" stroke-width="3.1"/>
<circle cx="319.3" cy="1759.15" r="2.2" fill="#0C73C2"/>
<circle cx="319.3" cy="1780.97" r="2.2" fill="#0C73C2"/>
<circle cx="319.3" cy="1782.43" r="2.2" fill="#0C73C2"/>
<circle cx="319.3" cy="1783.4" r="2.2" fill="#0C73C2"/>
<circle cx="319.3" cy="1784.37" r="2.2" fill="#0C73C2"/>
<circle cx="319.3" cy="1785.82" r="2.2" fill="#0C73C2"/>
<circle cx="319.3" cy="1787.28" r="2.2" fill="#0C73C2"/>
<circle cx="319.3" cy="1788.25" r="2.2" fill="#0C73C2"/>
<circle cx="319.3" cy="1788.73" r="2.2" fill="#0C73C2"/>
<line x1="343.5" y1="1791.16" x2="343.5" y2="1788.73" stroke="#EFC000" stroke-width="1.8"/>
<line x1="343.5" y1="1793.1" x2="343.5" y2="1793.1" stroke="#EFC000" stroke-width="1.8"/>
<rect x="332.6" y="1791.16" width="21.8" height="1.94" fill="#FAEEC2" stroke="#EFC000" stroke-width="1.8"/>
<line x1="332.6" y1="1793.1" x2="354.4" y2="1793.1" stroke="#EFC000" stroke-width="3.1"/>
<circle cx="343.5" cy="1747.02" r="2.2" fill="#EFC000"/>
<circle cx="343.5" cy="1768.85" r="2.2" fill="#EFC000"/>
<circle cx="343.5" cy="1771.27" r="2.2" fill="#EFC000"/>
<circle cx="343.5" cy="1773.7" r="2.2" fill="#EFC000"/>
<circle cx="343.5" cy="1776.12" r="2.2" fill="#EFC000"/>
<circle cx="343.5" cy="1778.55" r="2.2" fill="#EFC000"/>
<circle cx="343.5" cy="1780.97" r="2.2" fill="#EFC000"/>
<circle cx="343.5" cy="1783.4" r="2.2" fill="#EFC000"/>
<circle cx="343.5" cy="1784.37" r="2.2" fill="#EFC000"/>
<circle cx="343.5" cy="1785.82" r="2.2" fill="#EFC000"/>
<circle cx="343.5" cy="1787.28" r="2.2" fill="#EFC000"/>
<circle cx="343.5" cy="1788.25" r="2.2" fill="#EFC000"/>
<text x="331.4" y="1403.9" font-size="18.5" text-anchor="middle" fill="#000">*</text>
<line x1="331.4" y1="1812.9" x2="331.4" y2="1818" stroke="#333" stroke-width="1.2"/>
<text transform="translate(338.9 1830.5) rotate(-45)" font-size="17.5" text-anchor="end" fill="#4D4D4D">B cells memory</text>
<line x1="383.9" y1="1775.64" x2="383.9" y2="1749.93" stroke="#0C73C2" stroke-width="1.8"/>
<line x1="383.9" y1="1792.13" x2="383.9" y2="1793.1" stroke="#0C73C2" stroke-width="1.8"/>
<rect x="373" y="1775.64" width="21.8" height="16.49" fill="#D6E8F7" stroke="#0C73C2" stroke-width="1.8"/>
<line x1="373" y1="1786.31" x2="394.8" y2="1786.31" stroke="#0C73C2" stroke-width="3.1"/>
<circle cx="383.9" cy="1683.97" r="2.2" fill="#0C73C2"/>
<circle cx="383.9" cy="1691.25" r="2.2" fill="#0C73C2"/>
<circle cx="383.9" cy="1696.1" r="2.2" fill="#0C73C2"/>
<circle cx="383.9" cy="1717.92" r="2.2" fill="#0C73C2"/>
<circle cx="383.9" cy="1720.35" r="2.2" fill="#0C73C2"/>
<circle cx="383.9" cy="1722.77" r="2.2" fill="#0C73C2"/>
<circle cx="383.9" cy="1725.2" r="2.2" fill="#0C73C2"/>
<circle cx="383.9" cy="1730.05" r="2.2" fill="#0C73C2"/>
<circle cx="383.9" cy="1734.9" r="2.2" fill="#0C73C2"/>
<circle cx="383.9" cy="1737.32" r="2.2" fill="#0C73C2"/>
<circle cx="383.9" cy="1739.75" r="2.2" fill="#0C73C2"/>
<circle cx="383.9" cy="1744.6" r="2.2" fill="#0C73C2"/>
<circle cx="383.9" cy="1747.02" r="2.2" fill="#0C73C2"/>
<line x1="408.1" y1="1778.55" x2="408.1" y2="1761.09" stroke="#EFC000" stroke-width="1.8"/>
<line x1="408.1" y1="1791.16" x2="408.1" y2="1793.1" stroke="#EFC000" stroke-width="1.8"/>
<rect x="397.2" y="1778.55" width="21.8" height="12.61" fill="#FAEEC2" stroke="#EFC000" stroke-width="1.8"/>
<line x1="397.2" y1="1786.79" x2="419" y2="1786.79" stroke="#EFC000" stroke-width="3.1"/>
<circle cx="408.1" cy="1708.22" r="2.2" fill="#EFC000"/>
<circle cx="408.1" cy="1710.65" r="2.2" fill="#EFC000"/>
<circle cx="408.1" cy="1727.62" r="2.2" fill="#EFC000"/>
<circle cx="408.1" cy="1730.05" r="2.2" fill="#EFC000"/>
<circle cx="408.1" cy="1732.47" r="2.2" fill="#EFC000"/>
<circle cx="408.1" cy="1734.9" r="2.2" fill="#EFC000"/>
<circle cx="408.1" cy="1737.32" r="2.2" fill="#EFC000"/>
<circle cx="408.1" cy="1739.75" r="2.2" fill="#EFC000"/>
<circle cx="408.1" cy="1744.6" r="2.2" fill="#EFC000"/>
<circle cx="408.1" cy="1747.02" r="2.2" fill="#EFC000"/>
<circle cx="408.1" cy="1749.45" r="2.2" fill="#EFC000"/>
<circle cx="408.1" cy="1751.88" r="2.2" fill="#EFC000"/>
<circle cx="408.1" cy="1754.3" r="2.2" fill="#EFC000"/>
<circle cx="408.1" cy="1756.72" r="2.2" fill="#EFC000"/>
<circle cx="408.1" cy="1759.15" r="2.2" fill="#EFC000"/>
<line x1="396" y1="1812.9" x2="396" y2="1818" stroke="#333" stroke-width="1.2"/>
<text transform="translate(403.5 1830.5) rotate(-45)" font-size="17.5" text-anchor="end" fill="#4D4D4D">Plasma cells</text>
<line x1="448.5" y1="1717.44" x2="448.5" y2="1643.23" stroke="#0C73C2" stroke-width="1.8"/>
<line x1="448.5" y1="1769.82" x2="448.5" y2="1793.1" stroke="#0C73C2" stroke-width="1.8"/>
<rect x="437.6" y="1717.44" width="21.8" height="52.38" fill="#D6E8F7" stroke="#0C73C2" stroke-width="1.8"/>
<line x1="437.6" y1="1745.08" x2="459.4" y2="1745.08" stroke="#0C73C2" stroke-width="3.1"/>
<circle cx="448.5" cy="1557.39" r="2.2" fill="#0C73C2"/>
<circle cx="448.5" cy="1603.95" r="2.2" fill="#0C73C2"/>
<circle cx="448.5" cy="1610.74" r="2.2" fill="#0C73C2"/>
<circle cx="448.5" cy="1618.98" r="2.2" fill="#0C73C2"/>
<circle cx="448.5" cy="1623.84" r="2.2" fill="#0C73C2"/>
<circle cx="448.5" cy="1630.14" r="2.2" fill="#0C73C2"/>
<circle cx="448.5" cy="1634.5" r="2.2" fill="#0C73C2"/>
<line x1="472.7" y1="1733.93" x2="472.7" y2="1666.51" stroke="#EFC000" stroke-width="1.8"/>
<line x1="472.7" y1="1780" x2="472.7" y2="1793.1" stroke="#EFC000" stroke-width="1.8"/>
<rect x="461.8" y="1733.93" width="21.8" height="46.08" fill="#FAEEC2" stroke="#EFC000" stroke-width="1.8"/>
<line x1="461.8" y1="1764.97" x2="483.6" y2="1764.97" stroke="#EFC000" stroke-width="3.1"/>
<circle cx="472.7" cy="1618.5" r="2.2" fill="#EFC000"/>
<circle cx="472.7" cy="1628.68" r="2.2" fill="#EFC000"/>
<circle cx="472.7" cy="1644.2" r="2.2" fill="#EFC000"/>
<circle cx="472.7" cy="1650.99" r="2.2" fill="#EFC000"/>
<circle cx="472.7" cy="1655.36" r="2.2" fill="#EFC000"/>
<text x="460.6" y="1403.9" font-size="18.5" text-anchor="middle" fill="#000">***</text>
<line x1="460.6" y1="1812.9" x2="460.6" y2="1818" stroke="#333" stroke-width="1.2"/>
<text transform="translate(468.1 1830.5) rotate(-45)" font-size="17.5" text-anchor="end" fill="#4D4D4D">T cells CD8</text>
<line x1="513.1" y1="1792.13" x2="513.1" y2="1791.16" stroke="#0C73C2" stroke-width="1.8"/>
<line x1="513.1" y1="1793.1" x2="513.1" y2="1793.1" stroke="#0C73C2" stroke-width="1.8"/>
<rect x="502.2" y="1792.13" width="21.8" height="0.97" fill="#D6E8F7" stroke="#0C73C2" stroke-width="1.8"/>
<line x1="502.2" y1="1793.1" x2="524" y2="1793.1" stroke="#0C73C2" stroke-width="3.1"/>
<circle cx="513.1" cy="1786.79" r="2.2" fill="#0C73C2"/>
<line x1="537.3" y1="1791.64" x2="537.3" y2="1790.19" stroke="#EFC000" stroke-width="1.8"/>
<line x1="537.3" y1="1793.1" x2="537.3" y2="1793.1" stroke="#EFC000" stroke-width="1.8"/>
<rect x="526.4" y="1791.64" width="21.8" height="1.45" fill="#FAEEC2" stroke="#EFC000" stroke-width="1.8"/>
<line x1="526.4" y1="1793.1" x2="548.2" y2="1793.1" stroke="#EFC000" stroke-width="3.1"/>
<circle cx="537.3" cy="1766.42" r="2.2" fill="#EFC000"/>
<circle cx="537.3" cy="1771.27" r="2.2" fill="#EFC000"/>
<circle cx="537.3" cy="1776.12" r="2.2" fill="#EFC000"/>
<circle cx="537.3" cy="1780.97" r="2.2" fill="#EFC000"/>
<circle cx="537.3" cy="1783.4" r="2.2" fill="#EFC000"/>
<circle cx="537.3" cy="1785.82" r="2.2" fill="#EFC000"/>
<circle cx="537.3" cy="1788.25" r="2.2" fill="#EFC000"/>
<text x="525.2" y="1403.9" font-size="18.5" text-anchor="middle" fill="#000">*</text>
<line x1="525.2" y1="1812.9" x2="525.2" y2="1818" stroke="#333" stroke-width="1.2"/>
<text transform="translate(532.7 1830.5) rotate(-45)" font-size="17.5" text-anchor="end" fill="#4D4D4D">T cells CD4 naive</text>
<line x1="577.7" y1="1722.77" x2="577.7" y2="1647.6" stroke="#0C73C2" stroke-width="1.8"/>
<line x1="577.7" y1="1780" x2="577.7" y2="1793.1" stroke="#0C73C2" stroke-width="1.8"/>
<rect x="566.8" y="1722.77" width="21.8" height="57.23" fill="#D6E8F7" stroke="#0C73C2" stroke-width="1.8"/>
<line x1="566.8" y1="1756.24" x2="588.6" y2="1756.24" stroke="#0C73C2" stroke-width="3.1"/>
<line x1="601.9" y1="1705.8" x2="601.9" y2="1623.35" stroke="#EFC000" stroke-width="1.8"/>
<line x1="601.9" y1="1769.82" x2="601.9" y2="1793.1" stroke="#EFC000" stroke-width="1.8"/>
<rect x="591" y="1705.8" width="21.8" height="64.02" fill="#FAEEC2" stroke="#EFC000" stroke-width="1.8"/>
<line x1="591" y1="1739.75" x2="612.8" y2="1739.75" stroke="#EFC000" stroke-width="3.1"/>
<text x="589.8" y="1403.9" font-size="18.5" text-anchor="middle" fill="#000">**</text>
<line x1="589.8" y1="1812.9" x2="589.8" y2="1818" stroke="#333" stroke-width="1.2"/>
<text transform="translate(597.3 1830.5) rotate(-45)" font-size="17.5" text-anchor="end" fill="#4D4D4D">T cells CD4 memory resting</text>
<line x1="642.3" y1="1760.12" x2="642.3" y2="1715.5" stroke="#0C73C2" stroke-width="1.8"/>
<line x1="642.3" y1="1789.22" x2="642.3" y2="1793.1" stroke="#0C73C2" stroke-width="1.8"/>
<rect x="631.4" y="1760.12" width="21.8" height="29.1" fill="#D6E8F7" stroke="#0C73C2" stroke-width="1.8"/>
<line x1="631.4" y1="1774.67" x2="653.2" y2="1774.67" stroke="#0C73C2" stroke-width="3.1"/>
<circle cx="642.3" cy="1696.1" r="2.2" fill="#0C73C2"/>
<circle cx="642.3" cy="1710.65" r="2.2" fill="#0C73C2"/>
<line x1="666.5" y1="1759.15" x2="666.5" y2="1713.07" stroke="#EFC000" stroke-width="1.8"/>
<line x1="666.5" y1="1792.13" x2="666.5" y2="1793.1" stroke="#EFC000" stroke-width="1.8"/>
<rect x="655.6" y="1759.15" width="21.8" height="32.98" fill="#FAEEC2" stroke="#EFC000" stroke-width="1.8"/>
<line x1="655.6" y1="1778.55" x2="677.4" y2="1778.55" stroke="#EFC000" stroke-width="3.1"/>
<circle cx="666.5" cy="1704.34" r="2.2" fill="#EFC000"/>
<line x1="654.4" y1="1812.9" x2="654.4" y2="1818" stroke="#333" stroke-width="1.2"/>
<text transform="translate(661.9 1830.5) rotate(-45)" font-size="17.5" text-anchor="end" fill="#4D4D4D">T cells CD4 memory activated</text>
<line x1="706.9" y1="1750.9" x2="706.9" y2="1714.04" stroke="#0C73C2" stroke-width="1.8"/>
<line x1="706.9" y1="1773.7" x2="706.9" y2="1793.1" stroke="#0C73C2" stroke-width="1.8"/>
<rect x="696" y="1750.9" width="21.8" height="22.79" fill="#D6E8F7" stroke="#0C73C2" stroke-width="1.8"/>
<line x1="696" y1="1761.57" x2="717.8" y2="1761.57" stroke="#0C73C2" stroke-width="3.1"/>
<circle cx="706.9" cy="1713.07" r="2.2" fill="#0C73C2"/>
<circle cx="706.9" cy="1715.5" r="2.2" fill="#0C73C2"/>
<line x1="731.1" y1="1760.12" x2="731.1" y2="1726.17" stroke="#EFC000" stroke-width="1.8"/>
<line x1="731.1" y1="1785.82" x2="731.1" y2="1793.1" stroke="#EFC000" stroke-width="1.8"/>
<rect x="720.2" y="1760.12" width="21.8" height="25.7" fill="#FAEEC2" stroke="#EFC000" stroke-width="1.8"/>
<line x1="720.2" y1="1773.7" x2="742" y2="1773.7" stroke="#EFC000" stroke-width="3.1"/>
<circle cx="731.1" cy="1717.92" r="2.2" fill="#EFC000"/>
<text x="719" y="1403.9" font-size="18.5" text-anchor="middle" fill="#000">****</text>
<line x1="719" y1="1812.9" x2="719" y2="1818" stroke="#333" stroke-width="1.2"/>
<text transform="translate(726.5 1830.5) rotate(-45)" font-size="17.5" text-anchor="end" fill="#4D4D4D">T cells follicular helper</text>
<line x1="771.5" y1="1765.94" x2="771.5" y2="1746.05" stroke="#0C73C2" stroke-width="1.8"/>
<line x1="771.5" y1="1786.31" x2="771.5" y2="1793.1" stroke="#0C73C2" stroke-width="1.8"/>
<rect x="760.6" y="1765.94" width="21.8" height="20.37" fill="#D6E8F7" stroke="#0C73C2" stroke-width="1.8"/>
<line x1="760.6" y1="1779.03" x2="782.4" y2="1779.03" stroke="#0C73C2" stroke-width="3.1"/>
<circle cx="771.5" cy="1714.04" r="2.2" fill="#0C73C2"/>
<circle cx="771.5" cy="1720.35" r="2.2" fill="#0C73C2"/>
<circle cx="771.5" cy="1722.77" r="2.2" fill="#0C73C2"/>
<line x1="795.7" y1="1771.76" x2="795.7" y2="1750.9" stroke="#EFC000" stroke-width="1.8"/>
<line x1="795.7" y1="1793.1" x2="795.7" y2="1793.1" stroke="#EFC000" stroke-width="1.8"/>
<rect x="784.8" y="1771.76" width="21.8" height="21.34" fill="#FAEEC2" stroke="#EFC000" stroke-width="1.8"/>
<line x1="784.8" y1="1782.91" x2="806.6" y2="1782.91" stroke="#EFC000" stroke-width="3.1"/>
<circle cx="795.7" cy="1710.65" r="2.2" fill="#EFC000"/>
<circle cx="795.7" cy="1717.92" r="2.2" fill="#EFC000"/>
<circle cx="795.7" cy="1722.77" r="2.2" fill="#EFC000"/>
<circle cx="795.7" cy="1731.02" r="2.2" fill="#EFC000"/>
<text x="783.6" y="1403.9" font-size="18.5" text-anchor="middle" fill="#000">***</text>
<line x1="783.6" y1="1812.9" x2="783.6" y2="1818" stroke="#333" stroke-width="1.2"/>
<text transform="translate(791.1 1830.5) rotate(-45)" font-size="17.5" text-anchor="end" fill="#4D4D4D">T cells regulatory (Tregs)</text>
<line x1="836.1" y1="1792.13" x2="836.1" y2="1791.16" stroke="#0C73C2" stroke-width="1.8"/>
<line x1="836.1" y1="1793.1" x2="836.1" y2="1793.1" stroke="#0C73C2" stroke-width="1.8"/>
<rect x="825.2" y="1792.13" width="21.8" height="0.97" fill="#D6E8F7" stroke="#0C73C2" stroke-width="1.8"/>
<line x1="825.2" y1="1793.1" x2="847" y2="1793.1" stroke="#0C73C2" stroke-width="3.1"/>
<circle cx="836.1" cy="1783.4" r="2.2" fill="#0C73C2"/>
<circle cx="836.1" cy="1785.82" r="2.2" fill="#0C73C2"/>
<circle cx="836.1" cy="1787.28" r="2.2" fill="#0C73C2"/>
<circle cx="836.1" cy="1788.25" r="2.2" fill="#0C73C2"/>
<line x1="860.3" y1="1792.13" x2="860.3" y2="1791.16" stroke="#EFC000" stroke-width="1.8"/>
<line x1="860.3" y1="1793.1" x2="860.3" y2="1793.1" stroke="#EFC000" stroke-width="1.8"/>
<rect x="849.4" y="1792.13" width="21.8" height="0.97" fill="#FAEEC2" stroke="#EFC000" stroke-width="1.8"/>
<line x1="849.4" y1="1793.1" x2="871.2" y2="1793.1" stroke="#EFC000" stroke-width="3.1"/>
<circle cx="860.3" cy="1778.55" r="2.2" fill="#EFC000"/>
<circle cx="860.3" cy="1780.97" r="2.2" fill="#EFC000"/>
<circle cx="860.3" cy="1783.4" r="2.2" fill="#EFC000"/>
<circle cx="860.3" cy="1785.82" r="2.2" fill="#EFC000"/>
<circle cx="860.3" cy="1788.25" r="2.2" fill="#EFC000"/>
<line x1="848.2" y1="1812.9" x2="848.2" y2="1818" stroke="#333" stroke-width="1.2"/>
<text transform="translate(855.7 1830.5) rotate(-45)" font-size="17.5" text-anchor="end" fill="#4D4D4D">T cells gamma delta</text>
<line x1="900.7" y1="1771.76" x2="900.7" y2="1742.17" stroke="#0C73C2" stroke-width="1.8"/>
<line x1="900.7" y1="1793.1" x2="900.7" y2="1793.1" stroke="#0C73C2" stroke-width="1.8"/>
<rect x="889.8" y="1771.76" width="21.8" height="21.34" fill="#D6E8F7" stroke="#0C73C2" stroke-width="1.8"/>
<line x1="889.8" y1="1782.43" x2="911.6" y2="1782.43" stroke="#0C73C2" stroke-width="3.1"/>
<circle cx="900.7" cy="1720.35" r="2.2" fill="#0C73C2"/>
<circle cx="900.7" cy="1725.2" r="2.2" fill="#0C73C2"/>
<circle cx="900.7" cy="1732.47" r="2.2" fill="#0C73C2"/>
<line x1="924.9" y1="1767.88" x2="924.9" y2="1731.5" stroke="#EFC000" stroke-width="1.8"/>
<line x1="924.9" y1="1790.67" x2="924.9" y2="1793.1" stroke="#EFC000" stroke-width="1.8"/>
<rect x="914" y="1767.88" width="21.8" height="22.8" fill="#FAEEC2" stroke="#EFC000" stroke-width="1.8"/>
<line x1="914" y1="1779.52" x2="935.8" y2="1779.52" stroke="#EFC000" stroke-width="3.1"/>
<circle cx="924.9" cy="1715.5" r="2.2" fill="#EFC000"/>
<circle cx="924.9" cy="1717.92" r="2.2" fill="#EFC000"/>
<circle cx="924.9" cy="1720.35" r="2.2" fill="#EFC000"/>
<circle cx="924.9" cy="1722.77" r="2.2" fill="#EFC000"/>
<circle cx="924.9" cy="1725.2" r="2.2" fill="#EFC000"/>
<circle cx="924.9" cy="1727.62" r="2.2" fill="#EFC000"/>
<text x="912.8" y="1403.9" font-size="18.5" text-anchor="middle" fill="#000">*</text>
<line x1="912.8" y1="1812.9" x2="912.8" y2="1818" stroke="#333" stroke-width="1.2"/>
<text transform="translate(920.3 1830.5) rotate(-45)" font-size="17.5" text-anchor="end" fill="#4D4D4D">NK cells resting</text>
<line x1="965.3" y1="1775.64" x2="965.3" y2="1751.88" stroke="#0C73C2" stroke-width="1.8"/>
<line x1="965.3" y1="1793.1" x2="965.3" y2="1793.1" stroke="#0C73C2" stroke-width="1.8"/>
<rect x="954.4" y="1775.64" width="21.8" height="17.46" fill="#D6E8F7" stroke="#0C73C2" stroke-width="1.8"/>
<line x1="954.4" y1="1788.73" x2="976.2" y2="1788.73" stroke="#0C73C2" stroke-width="3.1"/>
<circle cx="965.3" cy="1749.45" r="2.2" fill="#0C73C2"/>
<circle cx="965.3" cy="1751.88" r="2.2" fill="#0C73C2"/>
<circle cx="965.3" cy="1752.84" r="2.2" fill="#0C73C2"/>
<circle cx="965.3" cy="1754.3" r="2.2" fill="#0C73C2"/>
<line x1="989.5" y1="1776.61" x2="989.5" y2="1759.15" stroke="#EFC000" stroke-width="1.8"/>
<line x1="989.5" y1="1793.1" x2="989.5" y2="1793.1" stroke="#EFC000" stroke-width="1.8"/>
<rect x="978.6" y="1776.61" width="21.8" height="16.49" fill="#FAEEC2" stroke="#EFC000" stroke-width="1.8"/>
<line x1="978.6" y1="1791.16" x2="1000.4" y2="1791.16" stroke="#EFC000" stroke-width="3.1"/>
<circle cx="989.5" cy="1744.6" r="2.2" fill="#EFC000"/>
<circle cx="989.5" cy="1749.45" r="2.2" fill="#EFC000"/>
<circle cx="989.5" cy="1751.88" r="2.2" fill="#EFC000"/>
<circle cx="989.5" cy="1754.3" r="2.2" fill="#EFC000"/>
<circle cx="989.5" cy="1755.27" r="2.2" fill="#EFC000"/>
<circle cx="989.5" cy="1756.72" r="2.2" fill="#EFC000"/>
<line x1="977.4" y1="1812.9" x2="977.4" y2="1818" stroke="#333" stroke-width="1.2"/>
<text transform="translate(984.9 1830.5) rotate(-45)" font-size="17.5" text-anchor="end" fill="#4D4D4D">NK cells activated</text>
<line x1="1029.9" y1="1789.7" x2="1029.9" y2="1785.82" stroke="#0C73C2" stroke-width="1.8"/>
<line x1="1029.9" y1="1793.1" x2="1029.9" y2="1793.1" stroke="#0C73C2" stroke-width="1.8"/>
<rect x="1019" y="1789.7" width="21.8" height="3.39" fill="#D6E8F7" stroke="#0C73C2" stroke-width="1.8"/>
<line x1="1019" y1="1792.13" x2="1040.8" y2="1792.13" stroke="#0C73C2" stroke-width="3.1"/>
<circle cx="1029.9" cy="1749.45" r="2.2" fill="#0C73C2"/>
<circle cx="1029.9" cy="1754.3" r="2.2" fill="#0C73C2"/>
<circle cx="1029.9" cy="1768.85" r="2.2" fill="#0C73C2"/>
<circle cx="1029.9" cy="1771.27" r="2.2" fill="#0C73C2"/>
<circle cx="1029.9" cy="1773.7" r="2.2" fill="#0C73C2"/>
<circle cx="1029.9" cy="1776.12" r="2.2" fill="#0C73C2"/>
<circle cx="1029.9" cy="1778.55" r="2.2" fill="#0C73C2"/>
<circle cx="1029.9" cy="1779.52" r="2.2" fill="#0C73C2"/>
<circle cx="1029.9" cy="1780.97" r="2.2" fill="#0C73C2"/>
<circle cx="1029.9" cy="1782.43" r="2.2" fill="#0C73C2"/>
<circle cx="1029.9" cy="1783.4" r="2.2" fill="#0C73C2"/>
<line x1="1054.1" y1="1790.19" x2="1054.1" y2="1786.31" stroke="#EFC000" stroke-width="1.8"/>
<line x1="1054.1" y1="1793.1" x2="1054.1" y2="1793.1" stroke="#EFC000" stroke-width="1.8"/>
<rect x="1043.2" y="1790.19" width="21.8" height="2.91" fill="#FAEEC2" stroke="#EFC000" stroke-width="1.8"/>
<line x1="1043.2" y1="1792.13" x2="1065" y2="1792.13" stroke="#EFC000" stroke-width="3.1"/>
<circle cx="1054.1" cy="1756.72" r="2.2" fill="#EFC000"/>
<circle cx="1054.1" cy="1761.57" r="2.2" fill="#EFC000"/>
<circle cx="1054.1" cy="1766.42" r="2.2" fill="#EFC000"/>
<circle cx="1054.1" cy="1771.27" r="2.2" fill="#EFC000"/>
<circle cx="1054.1" cy="1773.7" r="2.2" fill="#EFC000"/>
<circle cx="1054.1" cy="1776.12" r="2.2" fill="#EFC000"/>
<circle cx="1054.1" cy="1778.55" r="2.2" fill="#EFC000"/>
<circle cx="1054.1" cy="1779.52" r="2.2" fill="#EFC000"/>
<circle cx="1054.1" cy="1780.97" r="2.2" fill="#EFC000"/>
<circle cx="1054.1" cy="1782.43" r="2.2" fill="#EFC000"/>
<circle cx="1054.1" cy="1783.4" r="2.2" fill="#EFC000"/>
<circle cx="1054.1" cy="1784.37" r="2.2" fill="#EFC000"/>
<line x1="1042" y1="1812.9" x2="1042" y2="1818" stroke="#333" stroke-width="1.2"/>
<text transform="translate(1049.5 1830.5) rotate(-45)" font-size="17.5" text-anchor="end" fill="#4D4D4D">Monocytes</text>
<line x1="1094.5" y1="1663.12" x2="1094.5" y2="1527.32" stroke="#0C73C2" stroke-width="1.8"/>
<line x1="1094.5" y1="1756.24" x2="1094.5" y2="1789.22" stroke="#0C73C2" stroke-width="1.8"/>
<rect x="1083.6" y="1663.12" width="21.8" height="93.12" fill="#D6E8F7" stroke="#0C73C2" stroke-width="1.8"/>
<line x1="1083.6" y1="1721.8" x2="1105.4" y2="1721.8" stroke="#0C73C2" stroke-width="3.1"/>
<circle cx="1094.5" cy="1405.1" r="2.2" fill="#0C73C2"/>
<circle cx="1094.5" cy="1434.2" r="2.2" fill="#0C73C2"/>
<circle cx="1094.5" cy="1487.55" r="2.2" fill="#0C73C2"/>
<circle cx="1094.5" cy="1502.1" r="2.2" fill="#0C73C2"/>
<line x1="1118.7" y1="1647.6" x2="1118.7" y2="1526.35" stroke="#EFC000" stroke-width="1.8"/>
<line x1="1118.7" y1="1731.5" x2="1118.7" y2="1793.1" stroke="#EFC000" stroke-width="1.8"/>
<rect x="1107.8" y="1647.6" width="21.8" height="83.9" fill="#FAEEC2" stroke="#EFC000" stroke-width="1.8"/>
<line x1="1107.8" y1="1697.07" x2="1129.6" y2="1697.07" stroke="#EFC000" stroke-width="3.1"/>
<circle cx="1118.7" cy="1468.15" r="2.2" fill="#EFC000"/>
<circle cx="1118.7" cy="1487.55" r="2.2" fill="#EFC000"/>
<circle cx="1118.7" cy="1509.38" r="2.2" fill="#EFC000"/>
<circle cx="1118.7" cy="1511.8" r="2.2" fill="#EFC000"/>
<circle cx="1118.7" cy="1521.5" r="2.2" fill="#EFC000"/>
<text x="1106.6" y="1403.9" font-size="18.5" text-anchor="middle" fill="#000">**</text>
<line x1="1106.6" y1="1812.9" x2="1106.6" y2="1818" stroke="#333" stroke-width="1.2"/>
<text transform="translate(1114.1 1830.5) rotate(-45)" font-size="17.5" text-anchor="end" fill="#4D4D4D">Macrophages M0</text>
<line x1="1159.1" y1="1730.53" x2="1159.1" y2="1676.7" stroke="#0C73C2" stroke-width="1.8"/>
<line x1="1159.1" y1="1770.3" x2="1159.1" y2="1793.1" stroke="#0C73C2" stroke-width="1.8"/>
<rect x="1148.2" y="1730.53" width="21.8" height="39.77" fill="#D6E8F7" stroke="#0C73C2" stroke-width="1.8"/>
<line x1="1148.2" y1="1749.93" x2="1170" y2="1749.93" stroke="#0C73C2" stroke-width="3.1"/>
<circle cx="1159.1" cy="1647.6" r="2.2" fill="#0C73C2"/>
<circle cx="1159.1" cy="1668.45" r="2.2" fill="#0C73C2"/>
<line x1="1183.3" y1="1732.96" x2="1183.3" y2="1678.15" stroke="#EFC000" stroke-width="1.8"/>
<line x1="1183.3" y1="1773.7" x2="1183.3" y2="1793.1" stroke="#EFC000" stroke-width="1.8"/>
<rect x="1172.4" y="1732.96" width="21.8" height="40.74" fill="#FAEEC2" stroke="#EFC000" stroke-width="1.8"/>
<line x1="1172.4" y1="1749.93" x2="1194.2" y2="1749.93" stroke="#EFC000" stroke-width="3.1"/>
<circle cx="1183.3" cy="1649.05" r="2.2" fill="#EFC000"/>
<line x1="1171.2" y1="1812.9" x2="1171.2" y2="1818" stroke="#333" stroke-width="1.2"/>
<text transform="translate(1178.7 1830.5) rotate(-45)" font-size="17.5" text-anchor="end" fill="#4D4D4D">Macrophages M1</text>
<line x1="1223.7" y1="1731.5" x2="1223.7" y2="1687.37" stroke="#0C73C2" stroke-width="1.8"/>
<line x1="1223.7" y1="1769.33" x2="1223.7" y2="1793.1" stroke="#0C73C2" stroke-width="1.8"/>
<rect x="1212.8" y="1731.5" width="21.8" height="37.83" fill="#D6E8F7" stroke="#0C73C2" stroke-width="1.8"/>
<line x1="1212.8" y1="1750.42" x2="1234.6" y2="1750.42" stroke="#0C73C2" stroke-width="3.1"/>
<circle cx="1223.7" cy="1639.84" r="2.2" fill="#0C73C2"/>
<circle cx="1223.7" cy="1672.82" r="2.2" fill="#0C73C2"/>
<line x1="1247.9" y1="1732.47" x2="1247.9" y2="1696.1" stroke="#EFC000" stroke-width="1.8"/>
<line x1="1247.9" y1="1766.91" x2="1247.9" y2="1793.1" stroke="#EFC000" stroke-width="1.8"/>
<rect x="1237" y="1732.47" width="21.8" height="34.43" fill="#FAEEC2" stroke="#EFC000" stroke-width="1.8"/>
<line x1="1237" y1="1749.45" x2="1258.8" y2="1749.45" stroke="#EFC000" stroke-width="3.1"/>
<circle cx="1247.9" cy="1642.75" r="2.2" fill="#EFC000"/>
<circle cx="1247.9" cy="1668.94" r="2.2" fill="#EFC000"/>
<circle cx="1247.9" cy="1679.12" r="2.2" fill="#EFC000"/>
<line x1="1235.8" y1="1812.9" x2="1235.8" y2="1818" stroke="#333" stroke-width="1.2"/>
<text transform="translate(1243.3 1830.5) rotate(-45)" font-size="17.5" text-anchor="end" fill="#4D4D4D">Macrophages M2</text>
<line x1="1288.3" y1="1754.78" x2="1288.3" y2="1710.65" stroke="#0C73C2" stroke-width="1.8"/>
<line x1="1288.3" y1="1784.86" x2="1288.3" y2="1793.1" stroke="#0C73C2" stroke-width="1.8"/>
<rect x="1277.4" y="1754.78" width="21.8" height="30.07" fill="#D6E8F7" stroke="#0C73C2" stroke-width="1.8"/>
<line x1="1277.4" y1="1774.18" x2="1299.2" y2="1774.18" stroke="#0C73C2" stroke-width="3.1"/>
<circle cx="1288.3" cy="1576.3" r="2.2" fill="#0C73C2"/>
<circle cx="1288.3" cy="1679.12" r="2.2" fill="#0C73C2"/>
<circle cx="1288.3" cy="1683.97" r="2.2" fill="#0C73C2"/>
<circle cx="1288.3" cy="1686.4" r="2.2" fill="#0C73C2"/>
<circle cx="1288.3" cy="1691.25" r="2.2" fill="#0C73C2"/>
<circle cx="1288.3" cy="1696.1" r="2.2" fill="#0C73C2"/>
<circle cx="1288.3" cy="1698.52" r="2.2" fill="#0C73C2"/>
<circle cx="1288.3" cy="1700.95" r="2.2" fill="#0C73C2"/>
<circle cx="1288.3" cy="1703.38" r="2.2" fill="#0C73C2"/>
<circle cx="1288.3" cy="1706.77" r="2.2" fill="#0C73C2"/>
<line x1="1312.5" y1="1761.57" x2="1312.5" y2="1721.32" stroke="#EFC000" stroke-width="1.8"/>
<line x1="1312.5" y1="1787.76" x2="1312.5" y2="1793.1" stroke="#EFC000" stroke-width="1.8"/>
<rect x="1301.6" y="1761.57" width="21.8" height="26.19" fill="#FAEEC2" stroke="#EFC000" stroke-width="1.8"/>
<line x1="1301.6" y1="1778.06" x2="1323.4" y2="1778.06" stroke="#EFC000" stroke-width="3.1"/>
<circle cx="1312.5" cy="1620.44" r="2.2" fill="#EFC000"/>
<circle cx="1312.5" cy="1681.55" r="2.2" fill="#EFC000"/>
<circle cx="1312.5" cy="1683.97" r="2.2" fill="#EFC000"/>
<circle cx="1312.5" cy="1691.25" r="2.2" fill="#EFC000"/>
<circle cx="1312.5" cy="1696.1" r="2.2" fill="#EFC000"/>
<circle cx="1312.5" cy="1698.52" r="2.2" fill="#EFC000"/>
<circle cx="1312.5" cy="1700.95" r="2.2" fill="#EFC000"/>
<circle cx="1312.5" cy="1703.38" r="2.2" fill="#EFC000"/>
<circle cx="1312.5" cy="1708.22" r="2.2" fill="#EFC000"/>
<circle cx="1312.5" cy="1710.65" r="2.2" fill="#EFC000"/>
<circle cx="1312.5" cy="1713.07" r="2.2" fill="#EFC000"/>
<circle cx="1312.5" cy="1715.5" r="2.2" fill="#EFC000"/>
<circle cx="1312.5" cy="1717.92" r="2.2" fill="#EFC000"/>
<line x1="1300.4" y1="1812.9" x2="1300.4" y2="1818" stroke="#333" stroke-width="1.2"/>
<text transform="translate(1307.9 1830.5) rotate(-45)" font-size="17.5" text-anchor="end" fill="#4D4D4D">Dendritic cells resting</text>
<line x1="1352.9" y1="1770.3" x2="1352.9" y2="1744.6" stroke="#0C73C2" stroke-width="1.8"/>
<line x1="1352.9" y1="1793.1" x2="1352.9" y2="1793.1" stroke="#0C73C2" stroke-width="1.8"/>
<rect x="1342" y="1770.3" width="21.8" height="22.8" fill="#D6E8F7" stroke="#0C73C2" stroke-width="1.8"/>
<line x1="1342" y1="1784.86" x2="1363.8" y2="1784.86" stroke="#0C73C2" stroke-width="3.1"/>
<circle cx="1352.9" cy="1681.55" r="2.2" fill="#0C73C2"/>
<circle cx="1352.9" cy="1699.49" r="2.2" fill="#0C73C2"/>
<circle cx="1352.9" cy="1711.62" r="2.2" fill="#0C73C2"/>
<circle cx="1352.9" cy="1715.5" r="2.2" fill="#0C73C2"/>
<circle cx="1352.9" cy="1717.92" r="2.2" fill="#0C73C2"/>
<circle cx="1352.9" cy="1720.35" r="2.2" fill="#0C73C2"/>
<circle cx="1352.9" cy="1722.77" r="2.2" fill="#0C73C2"/>
<circle cx="1352.9" cy="1725.2" r="2.2" fill="#0C73C2"/>
<circle cx="1352.9" cy="1730.05" r="2.2" fill="#0C73C2"/>
<line x1="1377.1" y1="1765.45" x2="1377.1" y2="1739.75" stroke="#EFC000" stroke-width="1.8"/>
<line x1="1377.1" y1="1791.16" x2="1377.1" y2="1793.1" stroke="#EFC000" stroke-width="1.8"/>
<rect x="1366.2" y="1765.45" width="21.8" height="25.7" fill="#FAEEC2" stroke="#EFC000" stroke-width="1.8"/>
<line x1="1366.2" y1="1778.55" x2="1388" y2="1778.55" stroke="#EFC000" stroke-width="3.1"/>
<circle cx="1377.1" cy="1623.35" r="2.2" fill="#EFC000"/>
<circle cx="1377.1" cy="1679.61" r="2.2" fill="#EFC000"/>
<circle cx="1377.1" cy="1688.34" r="2.2" fill="#EFC000"/>
<circle cx="1377.1" cy="1708.22" r="2.2" fill="#EFC000"/>
<circle cx="1377.1" cy="1731.02" r="2.2" fill="#EFC000"/>
<text x="1365" y="1403.9" font-size="18.5" text-anchor="middle" fill="#000">*</text>
<line x1="1365" y1="1812.9" x2="1365" y2="1818" stroke="#333" stroke-width="1.2"/>
<text transform="translate(1372.5 1830.5) rotate(-45)" font-size="17.5" text-anchor="end" fill="#4D4D4D">Dendritic cells activated</text>
<line x1="1417.5" y1="1767.39" x2="1417.5" y2="1744.6" stroke="#0C73C2" stroke-width="1.8"/>
<line x1="1417.5" y1="1793.1" x2="1417.5" y2="1793.1" stroke="#0C73C2" stroke-width="1.8"/>
<rect x="1406.6" y="1767.39" width="21.8" height="25.7" fill="#D6E8F7" stroke="#0C73C2" stroke-width="1.8"/>
<line x1="1406.6" y1="1782.43" x2="1428.4" y2="1782.43" stroke="#0C73C2" stroke-width="3.1"/>
<circle cx="1417.5" cy="1710.65" r="2.2" fill="#0C73C2"/>
<circle cx="1417.5" cy="1726.17" r="2.2" fill="#0C73C2"/>
<line x1="1441.7" y1="1778.06" x2="1441.7" y2="1756.72" stroke="#EFC000" stroke-width="1.8"/>
<line x1="1441.7" y1="1793.1" x2="1441.7" y2="1793.1" stroke="#EFC000" stroke-width="1.8"/>
<rect x="1430.8" y="1778.06" width="21.8" height="15.04" fill="#FAEEC2" stroke="#EFC000" stroke-width="1.8"/>
<line x1="1430.8" y1="1791.16" x2="1452.6" y2="1791.16" stroke="#EFC000" stroke-width="3.1"/>
<circle cx="1441.7" cy="1725.2" r="2.2" fill="#EFC000"/>
<circle cx="1441.7" cy="1730.05" r="2.2" fill="#EFC000"/>
<circle cx="1441.7" cy="1732.47" r="2.2" fill="#EFC000"/>
<circle cx="1441.7" cy="1734.9" r="2.2" fill="#EFC000"/>
<circle cx="1441.7" cy="1739.75" r="2.2" fill="#EFC000"/>
<circle cx="1441.7" cy="1744.6" r="2.2" fill="#EFC000"/>
<circle cx="1441.7" cy="1747.02" r="2.2" fill="#EFC000"/>
<circle cx="1441.7" cy="1749.45" r="2.2" fill="#EFC000"/>
<circle cx="1441.7" cy="1751.88" r="2.2" fill="#EFC000"/>
<circle cx="1441.7" cy="1754.3" r="2.2" fill="#EFC000"/>
<text x="1429.6" y="1403.9" font-size="18.5" text-anchor="middle" fill="#000">***</text>
<line x1="1429.6" y1="1812.9" x2="1429.6" y2="1818" stroke="#333" stroke-width="1.2"/>
<text transform="translate(1437.1 1830.5) rotate(-45)" font-size="17.5" text-anchor="end" fill="#4D4D4D">Mast cells resting</text>
<line x1="1482.1" y1="1779.03" x2="1482.1" y2="1758.18" stroke="#0C73C2" stroke-width="1.8"/>
<line x1="1482.1" y1="1793.1" x2="1482.1" y2="1793.1" stroke="#0C73C2" stroke-width="1.8"/>
<rect x="1471.2" y="1779.03" width="21.8" height="14.07" fill="#D6E8F7" stroke="#0C73C2" stroke-width="1.8"/>
<line x1="1471.2" y1="1792.13" x2="1493" y2="1792.13" stroke="#0C73C2" stroke-width="3.1"/>
<circle cx="1482.1" cy="1654.39" r="2.2" fill="#0C73C2"/>
<circle cx="1482.1" cy="1670.88" r="2.2" fill="#0C73C2"/>
<circle cx="1482.1" cy="1685.43" r="2.2" fill="#0C73C2"/>
<circle cx="1482.1" cy="1693.67" r="2.2" fill="#0C73C2"/>
<circle cx="1482.1" cy="1696.1" r="2.2" fill="#0C73C2"/>
<circle cx="1482.1" cy="1700.95" r="2.2" fill="#0C73C2"/>
<circle cx="1482.1" cy="1708.22" r="2.2" fill="#0C73C2"/>
<circle cx="1482.1" cy="1713.07" r="2.2" fill="#0C73C2"/>
<circle cx="1482.1" cy="1715.5" r="2.2" fill="#0C73C2"/>
<circle cx="1482.1" cy="1720.35" r="2.2" fill="#0C73C2"/>
<circle cx="1482.1" cy="1722.77" r="2.2" fill="#0C73C2"/>
<circle cx="1482.1" cy="1725.2" r="2.2" fill="#0C73C2"/>
<circle cx="1482.1" cy="1730.05" r="2.2" fill="#0C73C2"/>
<circle cx="1482.1" cy="1734.9" r="2.2" fill="#0C73C2"/>
<circle cx="1482.1" cy="1739.75" r="2.2" fill="#0C73C2"/>
<circle cx="1482.1" cy="1742.17" r="2.2" fill="#0C73C2"/>
<circle cx="1482.1" cy="1744.6" r="2.2" fill="#0C73C2"/>
<circle cx="1482.1" cy="1747.02" r="2.2" fill="#0C73C2"/>
<circle cx="1482.1" cy="1749.45" r="2.2" fill="#0C73C2"/>
<circle cx="1482.1" cy="1751.88" r="2.2" fill="#0C73C2"/>
<circle cx="1482.1" cy="1754.3" r="2.2" fill="#0C73C2"/>
<line x1="1506.3" y1="1765.94" x2="1506.3" y2="1730.05" stroke="#EFC000" stroke-width="1.8"/>
<line x1="1506.3" y1="1793.1" x2="1506.3" y2="1793.1" stroke="#EFC000" stroke-width="1.8"/>
<rect x="1495.4" y="1765.94" width="21.8" height="27.16" fill="#FAEEC2" stroke="#EFC000" stroke-width="1.8"/>
<line x1="1495.4" y1="1791.16" x2="1517.2" y2="1791.16" stroke="#EFC000" stroke-width="3.1"/>
<circle cx="1506.3" cy="1667" r="2.2" fill="#EFC000"/>
<circle cx="1506.3" cy="1669.42" r="2.2" fill="#EFC000"/>
<circle cx="1506.3" cy="1676.7" r="2.2" fill="#EFC000"/>
<circle cx="1506.3" cy="1683.97" r="2.2" fill="#EFC000"/>
<circle cx="1506.3" cy="1688.82" r="2.2" fill="#EFC000"/>
<circle cx="1506.3" cy="1696.1" r="2.2" fill="#EFC000"/>
<circle cx="1506.3" cy="1700.95" r="2.2" fill="#EFC000"/>
<circle cx="1506.3" cy="1703.38" r="2.2" fill="#EFC000"/>
<circle cx="1506.3" cy="1705.8" r="2.2" fill="#EFC000"/>
<circle cx="1506.3" cy="1708.22" r="2.2" fill="#EFC000"/>
<circle cx="1506.3" cy="1710.65" r="2.2" fill="#EFC000"/>
<circle cx="1506.3" cy="1713.07" r="2.2" fill="#EFC000"/>
<circle cx="1506.3" cy="1715.5" r="2.2" fill="#EFC000"/>
<circle cx="1506.3" cy="1717.92" r="2.2" fill="#EFC000"/>
<circle cx="1506.3" cy="1720.35" r="2.2" fill="#EFC000"/>
<text x="1494.2" y="1403.9" font-size="18.5" text-anchor="middle" fill="#000">*</text>
<line x1="1494.2" y1="1812.9" x2="1494.2" y2="1818" stroke="#333" stroke-width="1.2"/>
<text transform="translate(1501.7 1830.5) rotate(-45)" font-size="17.5" text-anchor="end" fill="#4D4D4D">Mast cells activated</text>
<line x1="1546.7" y1="1792.13" x2="1546.7" y2="1791.16" stroke="#0C73C2" stroke-width="1.8"/>
<line x1="1546.7" y1="1793.1" x2="1546.7" y2="1793.1" stroke="#0C73C2" stroke-width="1.8"/>
<rect x="1535.8" y="1792.13" width="21.8" height="0.97" fill="#D6E8F7" stroke="#0C73C2" stroke-width="1.8"/>
<line x1="1535.8" y1="1793.1" x2="1557.6" y2="1793.1" stroke="#0C73C2" stroke-width="3.1"/>
<circle cx="1546.7" cy="1779.52" r="2.2" fill="#0C73C2"/>
<circle cx="1546.7" cy="1780.97" r="2.2" fill="#0C73C2"/>
<circle cx="1546.7" cy="1782.43" r="2.2" fill="#0C73C2"/>
<circle cx="1546.7" cy="1783.4" r="2.2" fill="#0C73C2"/>
<circle cx="1546.7" cy="1784.37" r="2.2" fill="#0C73C2"/>
<circle cx="1546.7" cy="1785.82" r="2.2" fill="#0C73C2"/>
<circle cx="1546.7" cy="1787.28" r="2.2" fill="#0C73C2"/>
<circle cx="1546.7" cy="1788.25" r="2.2" fill="#0C73C2"/>
<line x1="1570.9" y1="1792.13" x2="1570.9" y2="1791.16" stroke="#EFC000" stroke-width="1.8"/>
<line x1="1570.9" y1="1793.1" x2="1570.9" y2="1793.1" stroke="#EFC000" stroke-width="1.8"/>
<rect x="1560" y="1792.13" width="21.8" height="0.97" fill="#FAEEC2" stroke="#EFC000" stroke-width="1.8"/>
<line x1="1560" y1="1793.1" x2="1581.8" y2="1793.1" stroke="#EFC000" stroke-width="3.1"/>
<circle cx="1570.9" cy="1768.85" r="2.2" fill="#EFC000"/>
<circle cx="1570.9" cy="1771.27" r="2.2" fill="#EFC000"/>
<circle cx="1570.9" cy="1773.7" r="2.2" fill="#EFC000"/>
<circle cx="1570.9" cy="1776.12" r="2.2" fill="#EFC000"/>
<circle cx="1570.9" cy="1778.55" r="2.2" fill="#EFC000"/>
<circle cx="1570.9" cy="1780.97" r="2.2" fill="#EFC000"/>
<circle cx="1570.9" cy="1783.4" r="2.2" fill="#EFC000"/>
<circle cx="1570.9" cy="1784.37" r="2.2" fill="#EFC000"/>
<circle cx="1570.9" cy="1785.82" r="2.2" fill="#EFC000"/>
<circle cx="1570.9" cy="1787.28" r="2.2" fill="#EFC000"/>
<circle cx="1570.9" cy="1788.25" r="2.2" fill="#EFC000"/>
<line x1="1558.8" y1="1812.9" x2="1558.8" y2="1818" stroke="#333" stroke-width="1.2"/>
<text transform="translate(1566.3 1830.5) rotate(-45)" font-size="17.5" text-anchor="end" fill="#4D4D4D">Eosinophils</text>
<line x1="1611.3" y1="1786.31" x2="1611.3" y2="1778.55" stroke="#0C73C2" stroke-width="1.8"/>
<line x1="1611.3" y1="1793.1" x2="1611.3" y2="1793.1" stroke="#0C73C2" stroke-width="1.8"/>
<rect x="1600.4" y="1786.31" width="21.8" height="6.79" fill="#D6E8F7" stroke="#0C73C2" stroke-width="1.8"/>
<line x1="1600.4" y1="1789.7" x2="1622.2" y2="1789.7" stroke="#0C73C2" stroke-width="3.1"/>
<circle cx="1611.3" cy="1732.47" r="2.2" fill="#0C73C2"/>
<circle cx="1611.3" cy="1751.88" r="2.2" fill="#0C73C2"/>
<circle cx="1611.3" cy="1754.3" r="2.2" fill="#0C73C2"/>
<circle cx="1611.3" cy="1756.72" r="2.2" fill="#0C73C2"/>
<circle cx="1611.3" cy="1761.57" r="2.2" fill="#0C73C2"/>
<circle cx="1611.3" cy="1768.85" r="2.2" fill="#0C73C2"/>
<circle cx="1611.3" cy="1771.27" r="2.2" fill="#0C73C2"/>
<circle cx="1611.3" cy="1773.7" r="2.2" fill="#0C73C2"/>
<circle cx="1611.3" cy="1776.12" r="2.2" fill="#0C73C2"/>
<line x1="1635.5" y1="1786.31" x2="1635.5" y2="1780.97" stroke="#EFC000" stroke-width="1.8"/>
<line x1="1635.5" y1="1793.1" x2="1635.5" y2="1793.1" stroke="#EFC000" stroke-width="1.8"/>
<rect x="1624.6" y="1786.31" width="21.8" height="6.79" fill="#FAEEC2" stroke="#EFC000" stroke-width="1.8"/>
<line x1="1624.6" y1="1791.16" x2="1646.4" y2="1791.16" stroke="#EFC000" stroke-width="3.1"/>
<circle cx="1635.5" cy="1698.04" r="2.2" fill="#EFC000"/>
<circle cx="1635.5" cy="1736.84" r="2.2" fill="#EFC000"/>
<circle cx="1635.5" cy="1747.02" r="2.2" fill="#EFC000"/>
<circle cx="1635.5" cy="1749.45" r="2.2" fill="#EFC000"/>
<circle cx="1635.5" cy="1751.88" r="2.2" fill="#EFC000"/>
<circle cx="1635.5" cy="1756.72" r="2.2" fill="#EFC000"/>
<circle cx="1635.5" cy="1759.15" r="2.2" fill="#EFC000"/>
<circle cx="1635.5" cy="1764" r="2.2" fill="#EFC000"/>
<circle cx="1635.5" cy="1766.42" r="2.2" fill="#EFC000"/>
<circle cx="1635.5" cy="1768.85" r="2.2" fill="#EFC000"/>
<circle cx="1635.5" cy="1771.27" r="2.2" fill="#EFC000"/>
<circle cx="1635.5" cy="1773.7" r="2.2" fill="#EFC000"/>
<circle cx="1635.5" cy="1776.12" r="2.2" fill="#EFC000"/>
<circle cx="1635.5" cy="1778.55" r="2.2" fill="#EFC000"/>
<line x1="1623.4" y1="1812.9" x2="1623.4" y2="1818" stroke="#333" stroke-width="1.2"/>
<text transform="translate(1630.9 1830.5) rotate(-45)" font-size="17.5" text-anchor="end" fill="#4D4D4D">Neutrophils</text>
<line x1="228" y1="1384" x2="228" y2="1813.6" stroke="#000" stroke-width="1.4"/>
<line x1="227.3" y1="1812.9" x2="1660.9" y2="1812.9" stroke="#000" stroke-width="1.4"/>
<line x1="223.3" y1="1793.1" x2="228" y2="1793.1" stroke="#333" stroke-width="1.2"/>
<text transform="translate(217.8 1793.1) rotate(-90)" font-size="20.4" text-anchor="end" fill="#4D4D4D">0.0</text>
<line x1="223.3" y1="1696.1" x2="228" y2="1696.1" stroke="#333" stroke-width="1.2"/>
<text transform="translate(217.8 1696.1) rotate(-90)" font-size="20.4" text-anchor="end" fill="#4D4D4D">0.2</text>
<line x1="223.3" y1="1599.1" x2="228" y2="1599.1" stroke="#333" stroke-width="1.2"/>
<text transform="translate(217.8 1599.1) rotate(-90)" font-size="20.4" text-anchor="end" fill="#4D4D4D">0.4</text>
<line x1="223.3" y1="1502.1" x2="228" y2="1502.1" stroke="#333" stroke-width="1.2"/>
<text transform="translate(217.8 1502.1) rotate(-90)" font-size="20.4" text-anchor="end" fill="#4D4D4D">0.6</text>
<line x1="223.3" y1="1405.1" x2="228" y2="1405.1" stroke="#333" stroke-width="1.2"/>
<text transform="translate(217.8 1405.1) rotate(-90)" font-size="20.4" text-anchor="end" fill="#4D4D4D">0.8</text>
<text transform="translate(190.2 1598) rotate(-90)" font-size="25.6" text-anchor="middle" fill="#000">Fraction</text>
<text transform="translate(863.78 802.7) scale(1.13 1)" font-size="76" font-family="'Liberation Serif', 'Times New Roman', serif" fill="#000">D</text>
<line x1="1122.2" y1="729.2" x2="1122.2" y2="1198.6" stroke="#EBEBEB" stroke-width="1.5"/>
<line x1="1150.85" y1="729.2" x2="1150.85" y2="1198.6" stroke="#EBEBEB" stroke-width="1"/>
<line x1="1179.5" y1="729.2" x2="1179.5" y2="1198.6" stroke="#EBEBEB" stroke-width="1.5"/>
<line x1="1208.15" y1="729.2" x2="1208.15" y2="1198.6" stroke="#EBEBEB" stroke-width="1"/>
<line x1="1236.8" y1="729.2" x2="1236.8" y2="1198.6" stroke="#EBEBEB" stroke-width="1.5"/>
<line x1="1265.45" y1="729.2" x2="1265.45" y2="1198.6" stroke="#EBEBEB" stroke-width="1"/>
<line x1="1294.1" y1="729.2" x2="1294.1" y2="1198.6" stroke="#EBEBEB" stroke-width="1.5"/>
<line x1="1322.75" y1="729.2" x2="1322.75" y2="1198.6" stroke="#EBEBEB" stroke-width="1"/>
<line x1="1351.4" y1="729.2" x2="1351.4" y2="1198.6" stroke="#EBEBEB" stroke-width="1.5"/>
<line x1="1106.2" y1="763.8" x2="1355.5" y2="763.8" stroke="#EBEBEB" stroke-width="1.5"/>
<line x1="1106.2" y1="821.27" x2="1355.5" y2="821.27" stroke="#EBEBEB" stroke-width="1.5"/>
<line x1="1106.2" y1="878.74" x2="1355.5" y2="878.74" stroke="#EBEBEB" stroke-width="1.5"/>
<line x1="1106.2" y1="936.21" x2="1355.5" y2="936.21" stroke="#EBEBEB" stroke-width="1.5"/>
<line x1="1106.2" y1="993.68" x2="1355.5" y2="993.68" stroke="#EBEBEB" stroke-width="1.5"/>
<line x1="1106.2" y1="1051.15" x2="1355.5" y2="1051.15" stroke="#EBEBEB" stroke-width="1.5"/>
<line x1="1106.2" y1="1108.62" x2="1355.5" y2="1108.62" stroke="#EBEBEB" stroke-width="1.5"/>
<line x1="1106.2" y1="1166.09" x2="1355.5" y2="1166.09" stroke="#EBEBEB" stroke-width="1.5"/>
<line x1="1236.8" y1="763.8" x2="1344.52" y2="763.8" stroke="#000" stroke-width="1.4"/>
<circle cx="1344.52" cy="763.8" r="10.7" fill="#7FC97F"/>
<text x="1100.3" y="767.8" font-size="11" text-anchor="end" fill="#4D4D4D">T cells CD4 memory resting</text>
<line x1="1236.8" y1="821.27" x2="1327.33" y2="821.27" stroke="#000" stroke-width="1.4"/>
<circle cx="1327.33" cy="821.27" r="8.8" fill="#83C282"/>
<text x="1100.3" y="825.27" font-size="11" text-anchor="end" fill="#4D4D4D">B cells memory</text>
<line x1="1236.8" y1="878.74" x2="1321.6" y2="878.74" stroke="#000" stroke-width="1.4"/>
<circle cx="1321.6" cy="878.74" r="8.1" fill="#89B786"/>
<text x="1100.3" y="882.74" font-size="11" text-anchor="end" fill="#4D4D4D">Macrophages M0</text>
<line x1="1236.8" y1="936.21" x2="1170.9" y2="936.21" stroke="#000" stroke-width="1.4"/>
<circle cx="1170.9" cy="936.21" r="3.8" fill="#984EA3"/>
<text x="1100.3" y="940.21" font-size="11" text-anchor="end" fill="#4D4D4D">B cells naive</text>
<line x1="1236.8" y1="993.68" x2="1152" y2="993.68" stroke="#000" stroke-width="1.4"/>
<circle cx="1152" cy="993.68" r="8.25" fill="#89B687"/>
<text x="1100.3" y="997.68" font-size="11" text-anchor="end" fill="#4D4D4D">T cells CD4 memory activated</text>
<line x1="1236.8" y1="1051.15" x2="1140.54" y2="1051.15" stroke="#000" stroke-width="1.4"/>
<circle cx="1140.54" cy="1051.15" r="9.3" fill="#81C680"/>
<text x="1100.3" y="1055.15" font-size="11" text-anchor="end" fill="#4D4D4D">T cells regulatory (Tregs)</text>
<line x1="1236.8" y1="1108.62" x2="1122.2" y2="1108.62" stroke="#000" stroke-width="1.4"/>
<circle cx="1122.2" cy="1108.62" r="11.2" fill="#7FC97F"/>
<text x="1100.3" y="1112.62" font-size="11" text-anchor="end" fill="#4D4D4D">T cells follicular helper</text>
<line x1="1236.8" y1="1166.09" x2="1117.62" y2="1166.09" stroke="#000" stroke-width="1.4"/>
<circle cx="1117.62" cy="1166.09" r="11.7" fill="#7FC97F"/>
<text x="1100.3" y="1170.09" font-size="11" text-anchor="end" fill="#4D4D4D">T cells CD8</text>
<text x="1122.2" y="1214.6" font-size="10.8" text-anchor="middle" fill="#4D4D4D">−0.2</text>
<text x="1179.5" y="1214.6" font-size="10.8" text-anchor="middle" fill="#4D4D4D">−0.1</text>
<text x="1236.8" y="1214.6" font-size="10.8" text-anchor="middle" fill="#4D4D4D">0.0</text>
<text x="1294.1" y="1214.6" font-size="10.8" text-anchor="middle" fill="#4D4D4D">0.1</text>
<text x="1351.4" y="1214.6" font-size="10.8" text-anchor="middle" fill="#4D4D4D">0.2</text>
<text x="1230.9" y="1229.8" font-size="13.5" text-anchor="middle" fill="#000">cor</text>
<text x="1375.8" y="832.8" font-size="13.5" text-anchor="start" fill="#000">abs(cor)</text>
<circle cx="1389.6" cy="851.3" r="5.45" fill="#000"/>
<text x="1409.7" y="855.2" font-size="11" text-anchor="start" fill="#000">0.12</text>
<circle cx="1389.6" cy="872.3" r="7.6" fill="#000"/>
<text x="1409.7" y="876.2" font-size="11" text-anchor="start" fill="#000">0.14</text>
<circle cx="1389.6" cy="893.6" r="9.15" fill="#000"/>
<text x="1409.7" y="897.5" font-size="11" text-anchor="start" fill="#000">0.16</text>
<circle cx="1389.6" cy="916.8" r="10.1" fill="#000"/>
<text x="1409.7" y="920.7" font-size="11" text-anchor="start" fill="#000">0.18</text>
<circle cx="1389.6" cy="942.2" r="11.4" fill="#000"/>
<text x="1409.7" y="946.1" font-size="11" text-anchor="start" fill="#000">0.20</text>
<text x="1375.8" y="994" font-size="13.5" text-anchor="start" fill="#000">p</text>
<defs><linearGradient id="pbar" x1="0" y1="1" x2="0" y2="0"><stop offset="0" stop-color="#7FC97F"/><stop offset="0.1" stop-color="#86BE84"/><stop offset="0.2" stop-color="#8BB288"/><stop offset="0.3" stop-color="#8FA68C"/><stop offset="0.4" stop-color="#929B90"/><stop offset="0.5" stop-color="#958F93"/><stop offset="0.6" stop-color="#978397"/><stop offset="0.7" stop-color="#98779A"/><stop offset="0.8" stop-color="#996A9D"/><stop offset="0.9" stop-color="#995CA0"/><stop offset="1" stop-color="#984EA3"/></linearGradient></defs>
<rect x="1374.7" y="1002" width="22.8" height="106.2" fill="url(#pbar)"/>
<line x1="1374.7" y1="1019" x2="1379.2" y2="1019" stroke="#fff" stroke-width="0.8"/>
<line x1="1393" y1="1019" x2="1397.5" y2="1019" stroke="#fff" stroke-width="0.8"/>
<text x="1404" y="1022.9" font-size="11" text-anchor="start" fill="#000">0.03</text>
<line x1="1374.7" y1="1048.5" x2="1379.2" y2="1048.5" stroke="#fff" stroke-width="0.8"/>
<line x1="1393" y1="1048.5" x2="1397.5" y2="1048.5" stroke="#fff" stroke-width="0.8"/>
<text x="1404" y="1052.4" font-size="11" text-anchor="start" fill="#000">0.02</text>
<line x1="1374.7" y1="1078.7" x2="1379.2" y2="1078.7" stroke="#fff" stroke-width="0.8"/>
<line x1="1393" y1="1078.7" x2="1397.5" y2="1078.7" stroke="#fff" stroke-width="0.8"/>
<text x="1404" y="1082.6" font-size="11" text-anchor="start" fill="#000">0.01</text>
<path d="M1479.5 765.6 L1479.5 750.13 L1480.97 748.08 L1482.44 745.99 L1483.91 743.9 L1485.38 741.85 L1486.85 739.87 L1488.31 738 L1489.78 736.27 L1491.25 734.72 L1492.72 733.35 L1494.19 732.17 L1495.66 731.2 L1497.13 730.42 L1498.6 729.84 L1500.07 729.43 L1501.54 729.19 L1503.01 729.1 L1504.47 729.14 L1505.94 729.3 L1507.41 729.57 L1508.88 729.93 L1510.35 730.38 L1511.82 730.91 L1513.29 731.51 L1514.76 732.17 L1516.23 732.89 L1517.7 733.67 L1519.16 734.49 L1520.63 735.34 L1522.1 736.21 L1523.57 737.09 L1525.04 737.97 L1526.51 738.84 L1527.98 739.68 L1529.45 740.48 L1530.92 741.24 L1532.39 741.94 L1533.86 742.58 L1535.32 743.16 L1536.79 743.68 L1538.26 744.13 L1539.73 744.53 L1541.2 744.88 L1542.67 745.18 L1544.14 745.44 L1545.61 745.66 L1547.08 745.85 L1548.55 746.02 L1550.02 746.16 L1551.48 746.27 L1552.95 746.36 L1554.42 746.42 L1555.89 746.45 L1557.36 746.45 L1558.83 746.42 L1560.3 746.36 L1561.77 746.28 L1563.24 746.17 L1564.71 746.05 L1566.17 745.91 L1567.64 745.79 L1569.11 745.68 L1570.58 745.59 L1572.05 745.55 L1573.52 745.56 L1574.99 745.63 L1576.46 745.77 L1577.93 745.98 L1579.4 746.27 L1580.87 746.63 L1582.33 747.06 L1583.8 747.55 L1585.27 748.09 L1586.74 748.67 L1588.21 749.29 L1589.68 749.92 L1591.15 750.55 L1592.62 751.19 L1594.09 751.8 L1595.56 752.39 L1597.03 752.95 L1598.49 753.48 L1599.96 753.96 L1601.43 754.4 L1602.9 754.79 L1604.37 755.14 L1605.84 755.44 L1607.31 755.7 L1608.78 755.92 L1610.25 756.11 L1611.72 756.27 L1613.18 756.41 L1614.65 756.55 L1616.12 756.68 L1617.59 756.81 L1619.06 756.96 L1620.53 757.12 L1622 757.32 L1623.47 757.53 L1624.94 757.78 L1626.41 758.06 L1627.88 758.37 L1629.34 758.7 L1630.81 759.05 L1632.28 759.42 L1633.75 759.79 L1635.22 760.17 L1636.69 760.54 L1638.16 760.89 L1639.63 761.23 L1641.1 761.54 L1642.57 761.83 L1644.04 762.08 L1645.5 762.3 L1646.97 762.48 L1648.44 762.64 L1649.91 762.76 L1651.38 762.86 L1652.85 762.93 L1654.32 762.99 L1655.79 763.03 L1657.26 763.07 L1658.73 763.1 L1660.19 763.14 L1661.66 763.18 L1663.13 763.23 L1664.6 763.29 L1666.07 763.36 L1667.54 763.45 L1669.01 763.55 L1670.48 763.67 L1671.95 763.8 L1673.42 763.93 L1674.89 764.07 L1676.35 764.22 L1677.82 764.36 L1679.29 764.51 L1680.76 764.64 L1682.23 764.77 L1683.7 764.9 L1683.7 765.6Z" fill="#FDB07F"/>
<path d="M1479.5 750.13 L1480.97 748.08 L1482.44 745.99 L1483.91 743.9 L1485.38 741.85 L1486.85 739.87 L1488.31 738 L1489.78 736.27 L1491.25 734.72 L1492.72 733.35 L1494.19 732.17 L1495.66 731.2 L1497.13 730.42 L1498.6 729.84 L1500.07 729.43 L1501.54 729.19 L1503.01 729.1 L1504.47 729.14 L1505.94 729.3 L1507.41 729.57 L1508.88 729.93 L1510.35 730.38 L1511.82 730.91 L1513.29 731.51 L1514.76 732.17 L1516.23 732.89 L1517.7 733.67 L1519.16 734.49 L1520.63 735.34 L1522.1 736.21 L1523.57 737.09 L1525.04 737.97 L1526.51 738.84 L1527.98 739.68 L1529.45 740.48 L1530.92 741.24 L1532.39 741.94 L1533.86 742.58 L1535.32 743.16 L1536.79 743.68 L1538.26 744.13 L1539.73 744.53 L1541.2 744.88 L1542.67 745.18 L1544.14 745.44 L1545.61 745.66 L1547.08 745.85 L1548.55 746.02 L1550.02 746.16 L1551.48 746.27 L1552.95 746.36 L1554.42 746.42 L1555.89 746.45 L1557.36 746.45 L1558.83 746.42 L1560.3 746.36 L1561.77 746.28 L1563.24 746.17 L1564.71 746.05 L1566.17 745.91 L1567.64 745.79 L1569.11 745.68 L1570.58 745.59 L1572.05 745.55 L1573.52 745.56 L1574.99 745.63 L1576.46 745.77 L1577.93 745.98 L1579.4 746.27 L1580.87 746.63 L1582.33 747.06 L1583.8 747.55 L1585.27 748.09 L1586.74 748.67 L1588.21 749.29 L1589.68 749.92 L1591.15 750.55 L1592.62 751.19 L1594.09 751.8 L1595.56 752.39 L1597.03 752.95 L1598.49 753.48 L1599.96 753.96 L1601.43 754.4 L1602.9 754.79 L1604.37 755.14 L1605.84 755.44 L1607.31 755.7 L1608.78 755.92 L1610.25 756.11 L1611.72 756.27 L1613.18 756.41 L1614.65 756.55 L1616.12 756.68 L1617.59 756.81 L1619.06 756.96 L1620.53 757.12 L1622 757.32 L1623.47 757.53 L1624.94 757.78 L1626.41 758.06 L1627.88 758.37 L1629.34 758.7 L1630.81 759.05 L1632.28 759.42 L1633.75 759.79 L1635.22 760.17 L1636.69 760.54 L1638.16 760.89 L1639.63 761.23 L1641.1 761.54 L1642.57 761.83 L1644.04 762.08 L1645.5 762.3 L1646.97 762.48 L1648.44 762.64 L1649.91 762.76 L1651.38 762.86 L1652.85 762.93 L1654.32 762.99 L1655.79 763.03 L1657.26 763.07 L1658.73 763.1 L1660.19 763.14 L1661.66 763.18 L1663.13 763.23 L1664.6 763.29 L1666.07 763.36 L1667.54 763.45 L1669.01 763.55 L1670.48 763.67 L1671.95 763.8 L1673.42 763.93 L1674.89 764.07 L1676.35 764.22 L1677.82 764.36 L1679.29 764.51 L1680.76 764.64 L1682.23 764.77 L1683.7 764.9" fill="none" stroke="#000" stroke-width="1.2"/>
<path d="M1687.7 947.25 L1688.2 947.25 L1688.34 946.12 L1688.5 945 L1688.7 943.87 L1688.92 942.74 L1689.16 941.61 L1689.43 940.48 L1689.71 939.35 L1690.01 938.22 L1690.32 937.09 L1690.63 935.96 L1690.95 934.83 L1691.26 933.7 L1691.56 932.58 L1691.86 931.45 L1692.15 930.32 L1692.43 929.19 L1692.7 928.06 L1692.98 926.93 L1693.25 925.8 L1693.53 924.67 L1693.82 923.54 L1694.13 922.41 L1694.45 921.28 L1694.79 920.15 L1695.16 919.03 L1695.54 917.9 L1695.95 916.77 L1696.38 915.64 L1696.83 914.51 L1697.3 913.38 L1697.78 912.25 L1698.29 911.12 L1698.82 909.99 L1699.37 908.86 L1699.95 907.73 L1700.56 906.61 L1701.21 905.48 L1701.91 904.35 L1702.68 903.22 L1703.5 902.09 L1704.41 900.96 L1705.4 899.83 L1706.48 898.7 L1707.65 897.57 L1708.92 896.44 L1710.28 895.31 L1711.73 894.19 L1713.25 893.06 L1714.84 891.93 L1716.46 890.8 L1718.09 889.67 L1719.72 888.54 L1721.29 887.41 L1722.79 886.28 L1724.19 885.15 L1725.44 884.02 L1726.53 882.89 L1727.44 881.76 L1728.14 880.64 L1728.64 879.51 L1728.92 878.38 L1729 877.25 L1728.89 876.12 L1728.6 874.99 L1728.17 873.86 L1727.6 872.73 L1726.94 871.6 L1726.2 870.47 L1725.41 869.34 L1724.6 868.22 L1723.78 867.09 L1722.96 865.96 L1722.16 864.83 L1721.37 863.7 L1720.6 862.57 L1719.85 861.44 L1719.09 860.31 L1718.32 859.18 L1717.53 858.05 L1716.72 856.92 L1715.86 855.8 L1714.96 854.67 L1714.02 853.54 L1713.03 852.41 L1712.02 851.28 L1710.97 850.15 L1709.92 849.02 L1708.86 847.89 L1707.81 846.76 L1706.77 845.63 L1705.75 844.5 L1704.75 843.37 L1703.77 842.25 L1702.8 841.12 L1701.84 839.99 L1700.89 838.86 L1699.94 837.73 L1699 836.6 L1698.05 835.47 L1697.12 834.34 L1696.19 833.21 L1695.29 832.08 L1694.41 830.95 L1693.58 829.83 L1692.79 828.7 L1692.06 827.57 L1691.39 826.44 L1690.78 825.31 L1690.25 824.18 L1689.78 823.05 L1689.38 821.92 L1689.04 820.79 L1688.76 819.66 L1688.54 818.53 L1688.37 817.41 L1688.23 816.28 L1688.14 815.15 L1688.07 814.02 L1688.03 812.89 L1688.01 811.76 L1688 810.63 L1688 809.5 L1688.01 808.37 L1688.02 807.24 L1688.03 806.11 L1688.04 804.98 L1688.05 803.86 L1688.05 802.73 L1688.04 801.6 L1688.03 800.47 L1688.01 799.34 L1687.98 798.21 L1687.96 797.08 L1687.93 795.95 L1687.9 794.82 L1687.87 793.69 L1687.85 792.56 L1687.83 791.44 L1687.81 790.31 L1687.8 789.18 L1687.8 788.05 L1687.8 786.92 L1687.81 785.79 L1687.82 784.66 L1687.84 783.53 L1687.87 782.4 L1687.89 781.27 L1687.92 780.14 L1687.95 779.01 L1687.98 777.89 L1688 776.76 L1688.02 775.63 L1688.03 774.5 L1688.04 773.37 L1688.04 772.24 L1688.04 771.11 L1688.02 769.98 L1687.7 769.98Z" fill="#A97CF7"/>
<path d="M1688.2 947.25 L1688.34 946.12 L1688.5 945 L1688.7 943.87 L1688.92 942.74 L1689.16 941.61 L1689.43 940.48 L1689.71 939.35 L1690.01 938.22 L1690.32 937.09 L1690.63 935.96 L1690.95 934.83 L1691.26 933.7 L1691.56 932.58 L1691.86 931.45 L1692.15 930.32 L1692.43 929.19 L1692.7 928.06 L1692.98 926.93 L1693.25 925.8 L1693.53 924.67 L1693.82 923.54 L1694.13 922.41 L1694.45 921.28 L1694.79 920.15 L1695.16 919.03 L1695.54 917.9 L1695.95 916.77 L1696.38 915.64 L1696.83 914.51 L1697.3 913.38 L1697.78 912.25 L1698.29 911.12 L1698.82 909.99 L1699.37 908.86 L1699.95 907.73 L1700.56 906.61 L1701.21 905.48 L1701.91 904.35 L1702.68 903.22 L1703.5 902.09 L1704.41 900.96 L1705.4 899.83 L1706.48 898.7 L1707.65 897.57 L1708.92 896.44 L1710.28 895.31 L1711.73 894.19 L1713.25 893.06 L1714.84 891.93 L1716.46 890.8 L1718.09 889.67 L1719.72 888.54 L1721.29 887.41 L1722.79 886.28 L1724.19 885.15 L1725.44 884.02 L1726.53 882.89 L1727.44 881.76 L1728.14 880.64 L1728.64 879.51 L1728.92 878.38 L1729 877.25 L1728.89 876.12 L1728.6 874.99 L1728.17 873.86 L1727.6 872.73 L1726.94 871.6 L1726.2 870.47 L1725.41 869.34 L1724.6 868.22 L1723.78 867.09 L1722.96 865.96 L1722.16 864.83 L1721.37 863.7 L1720.6 862.57 L1719.85 861.44 L1719.09 860.31 L1718.32 859.18 L1717.53 858.05 L1716.72 856.92 L1715.86 855.8 L1714.96 854.67 L1714.02 853.54 L1713.03 852.41 L1712.02 851.28 L1710.97 850.15 L1709.92 849.02 L1708.86 847.89 L1707.81 846.76 L1706.77 845.63 L1705.75 844.5 L1704.75 843.37 L1703.77 842.25 L1702.8 841.12 L1701.84 839.99 L1700.89 838.86 L1699.94 837.73 L1699 836.6 L1698.05 835.47 L1697.12 834.34 L1696.19 833.21 L1695.29 832.08 L1694.41 830.95 L1693.58 829.83 L1692.79 828.7 L1692.06 827.57 L1691.39 826.44 L1690.78 825.31 L1690.25 824.18 L1689.78 823.05 L1689.38 821.92 L1689.04 820.79 L1688.76 819.66 L1688.54 818.53 L1688.37 817.41 L1688.23 816.28 L1688.14 815.15 L1688.07 814.02 L1688.03 812.89 L1688.01 811.76 L1688 810.63 L1688 809.5 L1688.01 808.37 L1688.02 807.24 L1688.03 806.11 L1688.04 804.98 L1688.05 803.86 L1688.05 802.73 L1688.04 801.6 L1688.03 800.47 L1688.01 799.34 L1687.98 798.21 L1687.96 797.08 L1687.93 795.95 L1687.9 794.82 L1687.87 793.69 L1687.85 792.56 L1687.83 791.44 L1687.81 790.31 L1687.8 789.18 L1687.8 788.05 L1687.8 786.92 L1687.81 785.79 L1687.82 784.66 L1687.84 783.53 L1687.87 782.4 L1687.89 781.27 L1687.92 780.14 L1687.95 779.01 L1687.98 777.89 L1688 776.76 L1688.02 775.63 L1688.03 774.5 L1688.04 773.37 L1688.04 772.24 L1688.04 771.11 L1688.02 769.98" fill="none" stroke="#000" stroke-width="1.2"/>
<clipPath id="clipS1"><rect x="1479.5" y="768.6" width="204.2" height="179.6"/></clipPath>
<g clip-path="url(#clipS1)">
<g fill="#000">
<circle cx="1597.5" cy="772.7" r="2.5"/>
<circle cx="1537.5" cy="803.1" r="2.5"/>
<circle cx="1497.1" cy="899.5" r="2.5"/>
<circle cx="1578.5" cy="843.7" r="2.5"/>
<circle cx="1501.1" cy="872.2" r="2.5"/>
<circle cx="1570.8" cy="896.4" r="2.5"/>
<circle cx="1508.0" cy="855.3" r="2.5"/>
<circle cx="1528.9" cy="881.4" r="2.5"/>
<circle cx="1589.3" cy="853.8" r="2.5"/>
<circle cx="1493.0" cy="893.3" r="2.5"/>
<circle cx="1538.9" cy="867.8" r="2.5"/>
<circle cx="1542.1" cy="914.7" r="2.5"/>
<circle cx="1505.0" cy="870.3" r="2.5"/>
<circle cx="1555.0" cy="911.2" r="2.5"/>
<circle cx="1493.3" cy="876.2" r="2.5"/>
<circle cx="1586.2" cy="932.7" r="2.5"/>
<circle cx="1510.1" cy="880.3" r="2.5"/>
<circle cx="1562.4" cy="857.4" r="2.5"/>
<circle cx="1488.5" cy="869.0" r="2.5"/>
<circle cx="1492.9" cy="851.8" r="2.5"/>
<circle cx="1647.0" cy="893.1" r="2.5"/>
<circle cx="1515.5" cy="841.1" r="2.5"/>
<circle cx="1495.4" cy="841.9" r="2.5"/>
<circle cx="1512.8" cy="907.0" r="2.5"/>
<circle cx="1490.6" cy="899.2" r="2.5"/>
<circle cx="1539.6" cy="889.9" r="2.5"/>
<circle cx="1500.5" cy="880.1" r="2.5"/>
<circle cx="1605.0" cy="866.7" r="2.5"/>
<circle cx="1619.5" cy="928.4" r="2.5"/>
<circle cx="1518.5" cy="864.0" r="2.5"/>
<circle cx="1545.9" cy="881.9" r="2.5"/>
<circle cx="1518.7" cy="902.2" r="2.5"/>
<circle cx="1525.7" cy="855.0" r="2.5"/>
<circle cx="1598.1" cy="879.8" r="2.5"/>
<circle cx="1526.7" cy="850.5" r="2.5"/>
<circle cx="1491.0" cy="867.7" r="2.5"/>
<circle cx="1490.1" cy="888.0" r="2.5"/>
<circle cx="1577.7" cy="845.5" r="2.5"/>
<circle cx="1598.0" cy="852.6" r="2.5"/>
<circle cx="1515.1" cy="890.4" r="2.5"/>
<circle cx="1555.1" cy="913.3" r="2.5"/>
<circle cx="1575.1" cy="886.5" r="2.5"/>
<circle cx="1517.5" cy="863.6" r="2.5"/>
<circle cx="1525.4" cy="883.2" r="2.5"/>
<circle cx="1625.4" cy="827.7" r="2.5"/>
<circle cx="1544.1" cy="869.9" r="2.5"/>
<circle cx="1548.7" cy="871.1" r="2.5"/>
<circle cx="1506.1" cy="869.6" r="2.5"/>
<circle cx="1506.2" cy="900.0" r="2.5"/>
<circle cx="1666.9" cy="869.0" r="2.5"/>
<circle cx="1557.8" cy="890.6" r="2.5"/>
<circle cx="1491.5" cy="935.9" r="2.5"/>
<circle cx="1565.0" cy="916.5" r="2.5"/>
<circle cx="1529.8" cy="859.8" r="2.5"/>
<circle cx="1598.3" cy="882.2" r="2.5"/>
<circle cx="1491.1" cy="883.3" r="2.5"/>
<circle cx="1556.7" cy="910.0" r="2.5"/>
<circle cx="1545.0" cy="889.9" r="2.5"/>
<circle cx="1555.4" cy="856.6" r="2.5"/>
<circle cx="1526.3" cy="875.2" r="2.5"/>
<circle cx="1522.2" cy="890.1" r="2.5"/>
<circle cx="1607.6" cy="834.7" r="2.5"/>
<circle cx="1488.5" cy="882.0" r="2.5"/>
<circle cx="1558.0" cy="883.2" r="2.5"/>
<circle cx="1530.0" cy="850.1" r="2.5"/>
<circle cx="1571.6" cy="914.9" r="2.5"/>
<circle cx="1526.5" cy="864.5" r="2.5"/>
<circle cx="1488.5" cy="907.0" r="2.5"/>
<circle cx="1613.2" cy="889.1" r="2.5"/>
<circle cx="1527.2" cy="893.6" r="2.5"/>
<circle cx="1488.5" cy="877.5" r="2.5"/>
<circle cx="1497.6" cy="877.3" r="2.5"/>
<circle cx="1532.8" cy="869.8" r="2.5"/>
<circle cx="1539.1" cy="871.6" r="2.5"/>
<circle cx="1567.8" cy="841.0" r="2.5"/>
<circle cx="1492.8" cy="840.2" r="2.5"/>
<circle cx="1503.5" cy="862.6" r="2.5"/>
<circle cx="1597.3" cy="853.9" r="2.5"/>
<circle cx="1550.2" cy="884.5" r="2.5"/>
<circle cx="1503.4" cy="905.4" r="2.5"/>
<circle cx="1570.3" cy="860.0" r="2.5"/>
<circle cx="1653.3" cy="866.4" r="2.5"/>
<circle cx="1611.9" cy="850.3" r="2.5"/>
<circle cx="1506.8" cy="922.3" r="2.5"/>
<circle cx="1488.5" cy="852.3" r="2.5"/>
<circle cx="1520.2" cy="908.1" r="2.5"/>
<circle cx="1525.2" cy="876.8" r="2.5"/>
<circle cx="1548.2" cy="852.3" r="2.5"/>
<circle cx="1538.8" cy="909.2" r="2.5"/>
<circle cx="1520.4" cy="891.1" r="2.5"/>
<circle cx="1537.9" cy="924.3" r="2.5"/>
<circle cx="1618.0" cy="903.9" r="2.5"/>
<circle cx="1489.3" cy="926.3" r="2.5"/>
<circle cx="1489.3" cy="878.0" r="2.5"/>
<circle cx="1503.0" cy="872.4" r="2.5"/>
<circle cx="1507.2" cy="886.5" r="2.5"/>
<circle cx="1488.5" cy="850.6" r="2.5"/>
<circle cx="1575.6" cy="840.6" r="2.5"/>
<circle cx="1519.3" cy="878.2" r="2.5"/>
<circle cx="1512.4" cy="883.8" r="2.5"/>
<circle cx="1546.8" cy="882.3" r="2.5"/>
<circle cx="1584.7" cy="883.4" r="2.5"/>
<circle cx="1599.9" cy="840.6" r="2.5"/>
<circle cx="1618.3" cy="864.4" r="2.5"/>
<circle cx="1488.5" cy="888.3" r="2.5"/>
<circle cx="1544.2" cy="881.3" r="2.5"/>
<circle cx="1558.0" cy="861.9" r="2.5"/>
<circle cx="1559.4" cy="884.2" r="2.5"/>
<circle cx="1634.5" cy="861.2" r="2.5"/>
<circle cx="1550.7" cy="876.3" r="2.5"/>
<circle cx="1510.9" cy="846.6" r="2.5"/>
<circle cx="1490.6" cy="852.9" r="2.5"/>
<circle cx="1554.9" cy="908.6" r="2.5"/>
<circle cx="1590.8" cy="876.0" r="2.5"/>
<circle cx="1584.5" cy="855.8" r="2.5"/>
<circle cx="1514.4" cy="889.0" r="2.5"/>
<circle cx="1568.7" cy="854.8" r="2.5"/>
<circle cx="1585.3" cy="864.7" r="2.5"/>
<circle cx="1490.4" cy="866.3" r="2.5"/>
<circle cx="1583.1" cy="874.2" r="2.5"/>
<circle cx="1504.1" cy="872.0" r="2.5"/>
<circle cx="1504.7" cy="866.7" r="2.5"/>
<circle cx="1521.3" cy="912.5" r="2.5"/>
<circle cx="1509.4" cy="900.4" r="2.5"/>
<circle cx="1499.8" cy="903.6" r="2.5"/>
<circle cx="1504.0" cy="839.4" r="2.5"/>
<circle cx="1490.3" cy="873.1" r="2.5"/>
<circle cx="1580.1" cy="864.2" r="2.5"/>
<circle cx="1523.9" cy="873.4" r="2.5"/>
<circle cx="1549.9" cy="887.7" r="2.5"/>
<circle cx="1604.0" cy="888.6" r="2.5"/>
<circle cx="1561.4" cy="854.4" r="2.5"/>
<circle cx="1567.6" cy="882.8" r="2.5"/>
<circle cx="1504.3" cy="841.8" r="2.5"/>
<circle cx="1661.7" cy="861.7" r="2.5"/>
<circle cx="1592.9" cy="869.7" r="2.5"/>
<circle cx="1517.0" cy="883.2" r="2.5"/>
<circle cx="1510.4" cy="880.3" r="2.5"/>
<circle cx="1573.4" cy="872.7" r="2.5"/>
<circle cx="1509.9" cy="842.7" r="2.5"/>
<circle cx="1544.9" cy="882.5" r="2.5"/>
<circle cx="1521.1" cy="904.9" r="2.5"/>
<circle cx="1520.6" cy="871.7" r="2.5"/>
<circle cx="1576.5" cy="856.5" r="2.5"/>
<circle cx="1494.1" cy="901.2" r="2.5"/>
<circle cx="1629.0" cy="883.9" r="2.5"/>
<circle cx="1619.6" cy="880.5" r="2.5"/>
<circle cx="1573.4" cy="930.2" r="2.5"/>
<circle cx="1626.6" cy="853.8" r="2.5"/>
<circle cx="1559.9" cy="875.6" r="2.5"/>
<circle cx="1582.4" cy="874.9" r="2.5"/>
<circle cx="1509.9" cy="876.6" r="2.5"/>
<circle cx="1578.8" cy="867.1" r="2.5"/>
<circle cx="1512.3" cy="880.5" r="2.5"/>
<circle cx="1488.5" cy="876.0" r="2.5"/>
<circle cx="1510.3" cy="858.8" r="2.5"/>
<circle cx="1566.7" cy="886.2" r="2.5"/>
<circle cx="1495.4" cy="871.4" r="2.5"/>
<circle cx="1535.3" cy="883.9" r="2.5"/>
<circle cx="1493.1" cy="883.4" r="2.5"/>
<circle cx="1516.7" cy="899.2" r="2.5"/>
<circle cx="1576.3" cy="892.3" r="2.5"/>
<circle cx="1577.3" cy="862.3" r="2.5"/>
<circle cx="1497.9" cy="861.9" r="2.5"/>
<circle cx="1513.2" cy="867.3" r="2.5"/>
<circle cx="1509.6" cy="894.3" r="2.5"/>
<circle cx="1521.1" cy="870.1" r="2.5"/>
<circle cx="1673.2" cy="924.9" r="2.5"/>
<circle cx="1532.5" cy="854.4" r="2.5"/>
<circle cx="1488.5" cy="881.0" r="2.5"/>
<circle cx="1488.5" cy="873.8" r="2.5"/>
<circle cx="1546.7" cy="848.0" r="2.5"/>
<circle cx="1556.5" cy="884.5" r="2.5"/>
<circle cx="1595.0" cy="848.9" r="2.5"/>
<circle cx="1619.3" cy="879.8" r="2.5"/>
<circle cx="1525.4" cy="864.2" r="2.5"/>
<circle cx="1571.4" cy="882.9" r="2.5"/>
<circle cx="1583.4" cy="865.2" r="2.5"/>
<circle cx="1584.2" cy="838.1" r="2.5"/>
<circle cx="1491.3" cy="895.1" r="2.5"/>
<circle cx="1568.0" cy="887.9" r="2.5"/>
<circle cx="1490.1" cy="887.5" r="2.5"/>
<circle cx="1576.4" cy="865.7" r="2.5"/>
<circle cx="1531.3" cy="863.1" r="2.5"/>
<circle cx="1609.0" cy="883.8" r="2.5"/>
<circle cx="1506.4" cy="926.5" r="2.5"/>
<circle cx="1488.5" cy="895.3" r="2.5"/>
<circle cx="1488.7" cy="917.1" r="2.5"/>
<circle cx="1619.5" cy="882.4" r="2.5"/>
<circle cx="1549.3" cy="874.5" r="2.5"/>
<circle cx="1506.1" cy="901.0" r="2.5"/>
<circle cx="1488.5" cy="895.8" r="2.5"/>
<circle cx="1553.3" cy="918.5" r="2.5"/>
<circle cx="1595.1" cy="866.9" r="2.5"/>
<circle cx="1509.3" cy="895.7" r="2.5"/>
<circle cx="1488.5" cy="854.2" r="2.5"/>
<circle cx="1518.9" cy="852.6" r="2.5"/>
<circle cx="1594.3" cy="891.6" r="2.5"/>
<circle cx="1532.5" cy="884.9" r="2.5"/>
<circle cx="1601.8" cy="869.3" r="2.5"/>
<circle cx="1534.4" cy="858.1" r="2.5"/>
<circle cx="1549.3" cy="914.1" r="2.5"/>
<circle cx="1506.5" cy="879.9" r="2.5"/>
<circle cx="1574.9" cy="828.8" r="2.5"/>
<circle cx="1516.8" cy="879.4" r="2.5"/>
<circle cx="1628.0" cy="863.1" r="2.5"/>
<circle cx="1522.7" cy="876.8" r="2.5"/>
<circle cx="1516.1" cy="905.4" r="2.5"/>
<circle cx="1504.1" cy="855.9" r="2.5"/>
<circle cx="1488.5" cy="873.2" r="2.5"/>
<circle cx="1579.4" cy="868.3" r="2.5"/>
<circle cx="1522.6" cy="859.7" r="2.5"/>
<circle cx="1492.3" cy="860.7" r="2.5"/>
<circle cx="1584.9" cy="916.3" r="2.5"/>
<circle cx="1575.7" cy="861.1" r="2.5"/>
<circle cx="1511.8" cy="891.3" r="2.5"/>
<circle cx="1506.2" cy="874.3" r="2.5"/>
<circle cx="1561.3" cy="890.4" r="2.5"/>
<circle cx="1662.5" cy="885.7" r="2.5"/>
<circle cx="1582.6" cy="849.4" r="2.5"/>
<circle cx="1660.5" cy="865.6" r="2.5"/>
<circle cx="1507.8" cy="884.5" r="2.5"/>
<circle cx="1585.3" cy="878.3" r="2.5"/>
<circle cx="1542.7" cy="873.0" r="2.5"/>
<circle cx="1502.7" cy="878.5" r="2.5"/>
<circle cx="1488.5" cy="935.0" r="2.5"/>
<circle cx="1584.4" cy="892.0" r="2.5"/>
<circle cx="1488.5" cy="884.8" r="2.5"/>
<circle cx="1537.6" cy="857.6" r="2.5"/>
<circle cx="1604.3" cy="837.7" r="2.5"/>
<circle cx="1597.2" cy="892.3" r="2.5"/>
<circle cx="1488.5" cy="833.5" r="2.5"/>
<circle cx="1547.0" cy="872.1" r="2.5"/>
<circle cx="1497.1" cy="866.8" r="2.5"/>
<circle cx="1638.8" cy="879.3" r="2.5"/>
<circle cx="1568.8" cy="886.6" r="2.5"/>
<circle cx="1580.8" cy="837.6" r="2.5"/>
<circle cx="1550.9" cy="878.9" r="2.5"/>
<circle cx="1520.9" cy="878.6" r="2.5"/>
<circle cx="1546.1" cy="846.8" r="2.5"/>
<circle cx="1496.5" cy="837.5" r="2.5"/>
<circle cx="1494.6" cy="913.5" r="2.5"/>
<circle cx="1563.1" cy="877.0" r="2.5"/>
<circle cx="1488.9" cy="878.8" r="2.5"/>
<circle cx="1493.7" cy="835.5" r="2.5"/>
<circle cx="1534.0" cy="847.7" r="2.5"/>
<circle cx="1489.2" cy="879.6" r="2.5"/>
<circle cx="1543.6" cy="865.2" r="2.5"/>
<circle cx="1625.2" cy="847.0" r="2.5"/>
<circle cx="1611.5" cy="841.3" r="2.5"/>
<circle cx="1514.1" cy="883.8" r="2.5"/>
<circle cx="1629.6" cy="846.7" r="2.5"/>
<circle cx="1618.0" cy="884.2" r="2.5"/>
<circle cx="1557.8" cy="935.6" r="2.5"/>
<circle cx="1509.5" cy="909.0" r="2.5"/>
<circle cx="1488.5" cy="873.1" r="2.5"/>
<circle cx="1548.0" cy="854.9" r="2.5"/>
<circle cx="1497.8" cy="930.5" r="2.5"/>
<circle cx="1499.8" cy="919.7" r="2.5"/>
<circle cx="1491.7" cy="878.5" r="2.5"/>
<circle cx="1619.3" cy="869.7" r="2.5"/>
<circle cx="1583.5" cy="857.1" r="2.5"/>
<circle cx="1504.5" cy="852.3" r="2.5"/>
<circle cx="1496.0" cy="872.4" r="2.5"/>
<circle cx="1578.0" cy="852.5" r="2.5"/>
<circle cx="1488.5" cy="882.3" r="2.5"/>
<circle cx="1626.8" cy="833.1" r="2.5"/>
<circle cx="1496.8" cy="870.4" r="2.5"/>
<circle cx="1516.1" cy="881.0" r="2.5"/>
<circle cx="1505.0" cy="873.4" r="2.5"/>
<circle cx="1497.8" cy="854.7" r="2.5"/>
<circle cx="1514.3" cy="870.9" r="2.5"/>
<circle cx="1519.5" cy="874.0" r="2.5"/>
<circle cx="1535.7" cy="907.5" r="2.5"/>
<circle cx="1495.6" cy="865.4" r="2.5"/>
<circle cx="1511.7" cy="874.7" r="2.5"/>
<circle cx="1508.4" cy="832.4" r="2.5"/>
<circle cx="1668.8" cy="863.0" r="2.5"/>
<circle cx="1495.1" cy="878.8" r="2.5"/>
<circle cx="1531.3" cy="888.5" r="2.5"/>
<circle cx="1524.2" cy="857.3" r="2.5"/>
<circle cx="1589.3" cy="873.8" r="2.5"/>
<circle cx="1496.7" cy="893.1" r="2.5"/>
<circle cx="1513.5" cy="837.4" r="2.5"/>
<circle cx="1488.5" cy="835.2" r="2.5"/>
<circle cx="1537.6" cy="883.8" r="2.5"/>
<circle cx="1539.2" cy="897.1" r="2.5"/>
<circle cx="1577.0" cy="843.3" r="2.5"/>
<circle cx="1499.6" cy="895.8" r="2.5"/>
<circle cx="1507.7" cy="874.1" r="2.5"/>
<circle cx="1488.7" cy="880.2" r="2.5"/>
<circle cx="1508.1" cy="852.7" r="2.5"/>
<circle cx="1614.0" cy="897.4" r="2.5"/>
<circle cx="1629.7" cy="866.4" r="2.5"/>
<circle cx="1590.9" cy="842.9" r="2.5"/>
<circle cx="1597.0" cy="857.8" r="2.5"/>
<circle cx="1556.9" cy="884.1" r="2.5"/>
<circle cx="1493.0" cy="858.8" r="2.5"/>
<circle cx="1547.6" cy="854.7" r="2.5"/>
<circle cx="1518.5" cy="879.9" r="2.5"/>
<circle cx="1523.7" cy="888.3" r="2.5"/>
<circle cx="1623.8" cy="872.3" r="2.5"/>
<circle cx="1489.3" cy="845.0" r="2.5"/>
<circle cx="1572.2" cy="888.3" r="2.5"/>
<circle cx="1488.5" cy="876.1" r="2.5"/>
<circle cx="1499.9" cy="895.3" r="2.5"/>
<circle cx="1516.8" cy="845.0" r="2.5"/>
<circle cx="1529.4" cy="877.4" r="2.5"/>
<circle cx="1521.1" cy="853.9" r="2.5"/>
<circle cx="1547.6" cy="858.7" r="2.5"/>
<circle cx="1570.8" cy="883.9" r="2.5"/>
<circle cx="1525.9" cy="857.3" r="2.5"/>
<circle cx="1498.5" cy="853.9" r="2.5"/>
<circle cx="1629.0" cy="892.5" r="2.5"/>
<circle cx="1557.3" cy="854.7" r="2.5"/>
<circle cx="1573.1" cy="834.6" r="2.5"/>
<circle cx="1488.5" cy="883.8" r="2.5"/>
<circle cx="1499.3" cy="860.9" r="2.5"/>
<circle cx="1517.7" cy="906.0" r="2.5"/>
<circle cx="1541.7" cy="861.6" r="2.5"/>
<circle cx="1522.5" cy="887.9" r="2.5"/>
<circle cx="1522.8" cy="855.9" r="2.5"/>
<circle cx="1488.5" cy="878.0" r="2.5"/>
<circle cx="1535.7" cy="900.8" r="2.5"/>
<circle cx="1506.7" cy="849.3" r="2.5"/>
<circle cx="1582.3" cy="874.3" r="2.5"/>
<circle cx="1488.5" cy="900.8" r="2.5"/>
<circle cx="1571.6" cy="868.5" r="2.5"/>
<circle cx="1508.1" cy="898.1" r="2.5"/>
<circle cx="1525.1" cy="864.5" r="2.5"/>
<circle cx="1573.9" cy="871.4" r="2.5"/>
<circle cx="1574.2" cy="878.6" r="2.5"/>
<circle cx="1509.9" cy="859.3" r="2.5"/>
<circle cx="1515.4" cy="904.9" r="2.5"/>
<circle cx="1570.2" cy="847.2" r="2.5"/>
<circle cx="1514.3" cy="922.2" r="2.5"/>
<circle cx="1496.0" cy="838.1" r="2.5"/>
<circle cx="1641.1" cy="860.1" r="2.5"/>
<circle cx="1560.1" cy="877.2" r="2.5"/>
<circle cx="1497.5" cy="893.5" r="2.5"/>
<circle cx="1509.5" cy="862.1" r="2.5"/>
<circle cx="1573.5" cy="873.7" r="2.5"/>
<circle cx="1577.8" cy="873.8" r="2.5"/>
</g>
<path d="M1488.5 880.46 L1491.64 880.24 L1494.78 880.02 L1497.92 879.79 L1501.06 879.57 L1504.2 879.35 L1507.34 879.13 L1510.48 878.9 L1513.63 878.68 L1516.77 878.43 L1519.91 878.11 L1523.05 877.79 L1526.19 877.47 L1529.33 877.15 L1532.47 876.83 L1535.61 876.52 L1538.75 876.2 L1541.89 875.88 L1545.03 875.7 L1548.17 875.61 L1551.31 875.51 L1554.45 875.42 L1557.59 875.32 L1560.74 875.23 L1563.88 875.13 L1567.02 875.04 L1570.16 874.94 L1573.3 874.57 L1576.44 874.19 L1579.58 873.8 L1582.72 873.42 L1585.86 873.04 L1589 872.66 L1592.14 872.28 L1595.28 871.89 L1598.42 871.44 L1601.56 870.8 L1604.71 870.16 L1607.85 869.53 L1610.99 868.89 L1614.13 868.25 L1617.27 867.62 L1620.41 866.98 L1623.55 866.34 L1626.69 865.59 L1629.83 864.76 L1632.97 863.93 L1636.11 863.11 L1639.25 862.28 L1642.39 861.45 L1645.53 860.62 L1648.67 859.79 L1651.82 858.97 L1654.96 857.79 L1658.1 856.6 L1661.24 855.41 L1664.38 854.21 L1667.52 853.02 L1670.66 851.83 L1673.8 850.63 L1673.8 889.3 L1670.66 888.11 L1667.52 886.91 L1664.38 885.72 L1661.24 884.53 L1658.1 883.33 L1654.96 882.14 L1651.82 880.99 L1648.67 880.54 L1645.53 880.1 L1642.39 879.65 L1639.25 879.21 L1636.11 878.76 L1632.97 878.31 L1629.83 877.87 L1626.69 877.42 L1623.55 877.15 L1620.41 877.15 L1617.27 877.15 L1614.13 877.15 L1610.99 877.15 L1607.85 877.15 L1604.71 877.15 L1601.56 877.15 L1598.42 877.15 L1595.28 877.33 L1592.14 877.58 L1589 877.84 L1585.86 878.09 L1582.72 878.35 L1579.58 878.6 L1576.44 878.86 L1573.3 879.11 L1570.16 879.36 L1567.02 879.39 L1563.88 879.42 L1560.74 879.45 L1557.59 879.49 L1554.45 879.52 L1551.31 879.55 L1548.17 879.58 L1545.03 879.61 L1541.89 879.75 L1538.75 880.06 L1535.61 880.38 L1532.47 880.7 L1529.33 881.02 L1526.19 881.34 L1523.05 881.66 L1519.91 881.97 L1516.77 882.29 L1513.63 882.76 L1510.48 883.3 L1507.34 883.84 L1504.2 884.38 L1501.06 884.93 L1497.92 885.47 L1494.78 886.01 L1491.64 886.55 L1488.5 887.09Z" fill="#999999" fill-opacity="0.4"/>
<path d="M1488.5 883.78 L1491.64 883.39 L1494.78 883.01 L1497.92 882.63 L1501.06 882.25 L1504.2 881.87 L1507.34 881.48 L1510.48 881.1 L1513.63 880.72 L1516.77 880.36 L1519.91 880.04 L1523.05 879.72 L1526.19 879.4 L1529.33 879.09 L1532.47 878.77 L1535.61 878.45 L1538.75 878.13 L1541.89 877.81 L1545.03 877.66 L1548.17 877.6 L1551.31 877.53 L1554.45 877.47 L1557.59 877.4 L1560.74 877.34 L1563.88 877.28 L1567.02 877.21 L1570.16 877.15 L1573.3 876.84 L1576.44 876.52 L1579.58 876.2 L1582.72 875.88 L1585.86 875.57 L1589 875.25 L1592.14 874.93 L1595.28 874.61 L1598.42 874.29 L1601.56 873.97 L1604.71 873.66 L1607.85 873.34 L1610.99 873.02 L1614.13 872.7 L1617.27 872.38 L1620.41 872.06 L1623.55 871.75 L1626.69 871.51 L1629.83 871.31 L1632.97 871.12 L1636.11 870.93 L1639.25 870.74 L1642.39 870.55 L1645.53 870.36 L1648.67 870.17 L1651.82 869.98 L1654.96 869.97 L1658.1 869.97 L1661.24 869.97 L1664.38 869.97 L1667.52 869.97 L1670.66 869.97 L1673.8 869.97" fill="none" stroke="#3366FF" stroke-width="2.6" stroke-linejoin="round"/>
</g>
<rect x="1479.5" y="768.6" width="204.2" height="179.6" fill="none" stroke="#333" stroke-width="1.1"/>
<text x="1581.7" y="789.1" font-size="13.3" text-anchor="middle" fill="#000">cor= 0.188</text>
<text x="1581.7" y="808.5" font-size="13.3" text-anchor="middle" fill="#000">pvalue= 0.00052</text>
<line x1="1476" y1="822.46" x2="1479.5" y2="822.46" stroke="#333" stroke-width="1"/>
<text x="1473.5" y="826.36" font-size="10.8" text-anchor="end" fill="#4D4D4D">2</text>
<line x1="1476" y1="877.7" x2="1479.5" y2="877.7" stroke="#333" stroke-width="1"/>
<text x="1473.5" y="881.6" font-size="10.8" text-anchor="end" fill="#4D4D4D">0</text>
<line x1="1476" y1="932.94" x2="1479.5" y2="932.94" stroke="#333" stroke-width="1"/>
<text x="1473.5" y="936.84" font-size="10.8" text-anchor="end" fill="#4D4D4D">−2</text>
<g clip-path="url(#clipS1x)">
<clipPath id="clipS1x"><rect x="1440" y="948.2" width="244.2" height="40"/></clipPath>
<line x1="1488.5" y1="948.2" x2="1488.5" y2="951.7" stroke="#333" stroke-width="1"/>
<text x="1488.5" y="963.1" font-size="10.8" text-anchor="middle" fill="#4D4D4D">0.0</text>
<line x1="1543" y1="948.2" x2="1543" y2="951.7" stroke="#333" stroke-width="1"/>
<text x="1543" y="963.1" font-size="10.8" text-anchor="middle" fill="#4D4D4D">0.1</text>
<line x1="1597.5" y1="948.2" x2="1597.5" y2="951.7" stroke="#333" stroke-width="1"/>
<text x="1597.5" y="963.1" font-size="10.8" text-anchor="middle" fill="#4D4D4D">0.2</text>
<line x1="1652" y1="948.2" x2="1652" y2="951.7" stroke="#333" stroke-width="1"/>
<text x="1652" y="963.1" font-size="10.8" text-anchor="middle" fill="#4D4D4D">0.3</text>
</g>
<text transform="translate(1455.7 858.2) rotate(-90)" font-size="13.2" text-anchor="middle" fill="#000">RiskScore</text>
<text x="1581.7" y="978.5" font-size="13.4" text-anchor="middle" fill="#000">T cells CD4 memory resting</text>
<path d="M1479.5 1017.2 L1479.5 1008.05 L1480.97 1006.36 L1482.44 1004.52 L1483.91 1002.56 L1485.38 1000.5 L1486.85 998.38 L1488.31 996.23 L1489.78 994.09 L1491.25 992 L1492.72 990 L1494.19 988.13 L1495.66 986.42 L1497.13 984.9 L1498.6 983.59 L1500.07 982.51 L1501.54 981.68 L1503.01 981.11 L1504.47 980.78 L1505.94 980.7 L1507.41 980.85 L1508.88 981.22 L1510.35 981.77 L1511.82 982.49 L1513.29 983.35 L1514.76 984.3 L1516.23 985.34 L1517.7 986.42 L1519.16 987.52 L1520.63 988.62 L1522.1 989.7 L1523.57 990.75 L1525.04 991.76 L1526.51 992.72 L1527.98 993.64 L1529.45 994.51 L1530.92 995.34 L1532.39 996.13 L1533.86 996.89 L1535.32 997.63 L1536.79 998.36 L1538.26 999.07 L1539.73 999.77 L1541.2 1000.47 L1542.67 1001.16 L1544.14 1001.84 L1545.61 1002.52 L1547.08 1003.19 L1548.55 1003.85 L1550.02 1004.49 L1551.48 1005.1 L1552.95 1005.69 L1554.42 1006.25 L1555.89 1006.77 L1557.36 1007.25 L1558.83 1007.69 L1560.3 1008.09 L1561.77 1008.44 L1563.24 1008.75 L1564.71 1009.02 L1566.17 1009.24 L1567.64 1009.43 L1569.11 1009.58 L1570.58 1009.7 L1572.05 1009.79 L1573.52 1009.86 L1574.99 1009.91 L1576.46 1009.94 L1577.93 1009.96 L1579.4 1009.96 L1580.87 1009.96 L1582.33 1009.96 L1583.8 1009.96 L1585.27 1009.96 L1586.74 1009.97 L1588.21 1009.99 L1589.68 1010.02 L1591.15 1010.07 L1592.62 1010.13 L1594.09 1010.21 L1595.56 1010.3 L1597.03 1010.41 L1598.49 1010.52 L1599.96 1010.65 L1601.43 1010.78 L1602.9 1010.91 L1604.37 1011.04 L1605.84 1011.18 L1607.31 1011.31 L1608.78 1011.44 L1610.25 1011.58 L1611.72 1011.72 L1613.18 1011.87 L1614.65 1012.03 L1616.12 1012.22 L1617.59 1012.42 L1619.06 1012.64 L1620.53 1012.88 L1622 1013.15 L1623.47 1013.43 L1624.94 1013.72 L1626.41 1014.03 L1627.88 1014.34 L1629.34 1014.64 L1630.81 1014.94 L1632.28 1015.23 L1633.75 1015.5 L1635.22 1015.75 L1636.69 1015.98 L1638.16 1016.19 L1639.63 1016.37 L1641.1 1016.53 L1642.57 1016.66 L1644.04 1016.77 L1645.5 1016.87 L1646.97 1016.94 L1648.44 1017 L1649.91 1017.04 L1651.38 1017.07 L1652.85 1017.1 L1654.32 1017.11 L1655.79 1017.11 L1657.26 1017.11 L1658.73 1017.1 L1660.19 1017.09 L1661.66 1017.08 L1663.13 1017.06 L1664.6 1017.04 L1666.07 1017.02 L1667.54 1017 L1669.01 1016.98 L1670.48 1016.97 L1671.95 1016.95 L1673.42 1016.95 L1674.89 1016.94 L1676.35 1016.94 L1677.82 1016.95 L1679.29 1016.96 L1680.76 1016.97 L1682.23 1016.99 L1683.7 1017.01 L1683.7 1017.2Z" fill="#FDB07F"/>
<path d="M1479.5 1008.05 L1480.97 1006.36 L1482.44 1004.52 L1483.91 1002.56 L1485.38 1000.5 L1486.85 998.38 L1488.31 996.23 L1489.78 994.09 L1491.25 992 L1492.72 990 L1494.19 988.13 L1495.66 986.42 L1497.13 984.9 L1498.6 983.59 L1500.07 982.51 L1501.54 981.68 L1503.01 981.11 L1504.47 980.78 L1505.94 980.7 L1507.41 980.85 L1508.88 981.22 L1510.35 981.77 L1511.82 982.49 L1513.29 983.35 L1514.76 984.3 L1516.23 985.34 L1517.7 986.42 L1519.16 987.52 L1520.63 988.62 L1522.1 989.7 L1523.57 990.75 L1525.04 991.76 L1526.51 992.72 L1527.98 993.64 L1529.45 994.51 L1530.92 995.34 L1532.39 996.13 L1533.86 996.89 L1535.32 997.63 L1536.79 998.36 L1538.26 999.07 L1539.73 999.77 L1541.2 1000.47 L1542.67 1001.16 L1544.14 1001.84 L1545.61 1002.52 L1547.08 1003.19 L1548.55 1003.85 L1550.02 1004.49 L1551.48 1005.1 L1552.95 1005.69 L1554.42 1006.25 L1555.89 1006.77 L1557.36 1007.25 L1558.83 1007.69 L1560.3 1008.09 L1561.77 1008.44 L1563.24 1008.75 L1564.71 1009.02 L1566.17 1009.24 L1567.64 1009.43 L1569.11 1009.58 L1570.58 1009.7 L1572.05 1009.79 L1573.52 1009.86 L1574.99 1009.91 L1576.46 1009.94 L1577.93 1009.96 L1579.4 1009.96 L1580.87 1009.96 L1582.33 1009.96 L1583.8 1009.96 L1585.27 1009.96 L1586.74 1009.97 L1588.21 1009.99 L1589.68 1010.02 L1591.15 1010.07 L1592.62 1010.13 L1594.09 1010.21 L1595.56 1010.3 L1597.03 1010.41 L1598.49 1010.52 L1599.96 1010.65 L1601.43 1010.78 L1602.9 1010.91 L1604.37 1011.04 L1605.84 1011.18 L1607.31 1011.31 L1608.78 1011.44 L1610.25 1011.58 L1611.72 1011.72 L1613.18 1011.87 L1614.65 1012.03 L1616.12 1012.22 L1617.59 1012.42 L1619.06 1012.64 L1620.53 1012.88 L1622 1013.15 L1623.47 1013.43 L1624.94 1013.72 L1626.41 1014.03 L1627.88 1014.34 L1629.34 1014.64 L1630.81 1014.94 L1632.28 1015.23 L1633.75 1015.5 L1635.22 1015.75 L1636.69 1015.98 L1638.16 1016.19 L1639.63 1016.37 L1641.1 1016.53 L1642.57 1016.66 L1644.04 1016.77 L1645.5 1016.87 L1646.97 1016.94 L1648.44 1017 L1649.91 1017.04 L1651.38 1017.07 L1652.85 1017.1 L1654.32 1017.11 L1655.79 1017.11 L1657.26 1017.11 L1658.73 1017.1 L1660.19 1017.09 L1661.66 1017.08 L1663.13 1017.06 L1664.6 1017.04 L1666.07 1017.02 L1667.54 1017 L1669.01 1016.98 L1670.48 1016.97 L1671.95 1016.95 L1673.42 1016.95 L1674.89 1016.94 L1676.35 1016.94 L1677.82 1016.95 L1679.29 1016.96 L1680.76 1016.97 L1682.23 1016.99 L1683.7 1017.01" fill="none" stroke="#000" stroke-width="1.2"/>
<path d="M1687.7 1198.85 L1687.92 1198.85 L1688 1197.72 L1688.09 1196.6 L1688.2 1195.47 L1688.33 1194.34 L1688.5 1193.21 L1688.69 1192.08 L1688.91 1190.95 L1689.16 1189.82 L1689.44 1188.69 L1689.76 1187.56 L1690.1 1186.43 L1690.47 1185.3 L1690.87 1184.18 L1691.3 1183.05 L1691.74 1181.92 L1692.22 1180.79 L1692.71 1179.66 L1693.23 1178.53 L1693.78 1177.4 L1694.36 1176.27 L1694.98 1175.14 L1695.64 1174.01 L1696.34 1172.88 L1697.08 1171.75 L1697.86 1170.63 L1698.68 1169.5 L1699.54 1168.37 L1700.43 1167.24 L1701.35 1166.11 L1702.28 1164.98 L1703.23 1163.85 L1704.19 1162.72 L1705.16 1161.59 L1706.15 1160.46 L1707.14 1159.33 L1708.14 1158.21 L1709.16 1157.08 L1710.19 1155.95 L1711.23 1154.82 L1712.27 1153.69 L1713.31 1152.56 L1714.33 1151.43 L1715.33 1150.3 L1716.3 1149.17 L1717.22 1148.04 L1718.11 1146.91 L1718.95 1145.79 L1719.75 1144.66 L1720.52 1143.53 L1721.27 1142.4 L1722 1141.27 L1722.73 1140.14 L1723.46 1139.01 L1724.19 1137.88 L1724.93 1136.75 L1725.66 1135.62 L1726.38 1134.49 L1727.05 1133.36 L1727.66 1132.24 L1728.18 1131.11 L1728.59 1129.98 L1728.87 1128.85 L1729 1127.72 L1728.97 1126.59 L1728.78 1125.46 L1728.43 1124.33 L1727.93 1123.2 L1727.31 1122.07 L1726.58 1120.94 L1725.77 1119.82 L1724.9 1118.69 L1723.99 1117.56 L1723.05 1116.43 L1722.12 1115.3 L1721.19 1114.17 L1720.28 1113.04 L1719.39 1111.91 L1718.51 1110.78 L1717.65 1109.65 L1716.79 1108.52 L1715.92 1107.4 L1715.04 1106.27 L1714.14 1105.14 L1713.2 1104.01 L1712.23 1102.88 L1711.21 1101.75 L1710.15 1100.62 L1709.06 1099.49 L1707.94 1098.36 L1706.8 1097.23 L1705.65 1096.1 L1704.52 1094.97 L1703.41 1093.85 L1702.33 1092.72 L1701.3 1091.59 L1700.32 1090.46 L1699.39 1089.33 L1698.51 1088.2 L1697.67 1087.07 L1696.89 1085.94 L1696.13 1084.81 L1695.41 1083.68 L1694.71 1082.55 L1694.03 1081.43 L1693.38 1080.3 L1692.74 1079.17 L1692.13 1078.04 L1691.55 1076.91 L1691.01 1075.78 L1690.51 1074.65 L1690.05 1073.52 L1689.65 1072.39 L1689.29 1071.26 L1688.99 1070.13 L1688.74 1069.01 L1688.53 1067.88 L1688.38 1066.75 L1688.26 1065.62 L1688.18 1064.49 L1688.12 1063.36 L1688.09 1062.23 L1688.08 1061.1 L1688.07 1059.97 L1688.08 1058.84 L1688.08 1057.71 L1688.09 1056.58 L1688.09 1055.46 L1688.09 1054.33 L1688.08 1053.2 L1688.06 1052.07 L1688.05 1050.94 L1688.02 1049.81 L1688 1048.68 L1687.97 1047.55 L1687.95 1046.42 L1687.93 1045.29 L1687.92 1044.16 L1687.91 1043.04 L1687.91 1041.91 L1687.91 1040.78 L1687.93 1039.65 L1687.94 1038.52 L1687.97 1037.39 L1687.99 1036.26 L1688.01 1035.13 L1688.04 1034 L1688.06 1032.87 L1688.07 1031.74 L1688.08 1030.61 L1688.08 1029.49 L1688.07 1028.36 L1688.06 1027.23 L1688.04 1026.1 L1688.01 1024.97 L1687.98 1023.84 L1687.95 1022.71 L1687.91 1021.58 L1687.7 1021.58Z" fill="#A97CF7"/>
<path d="M1687.92 1198.85 L1688 1197.72 L1688.09 1196.6 L1688.2 1195.47 L1688.33 1194.34 L1688.5 1193.21 L1688.69 1192.08 L1688.91 1190.95 L1689.16 1189.82 L1689.44 1188.69 L1689.76 1187.56 L1690.1 1186.43 L1690.47 1185.3 L1690.87 1184.18 L1691.3 1183.05 L1691.74 1181.92 L1692.22 1180.79 L1692.71 1179.66 L1693.23 1178.53 L1693.78 1177.4 L1694.36 1176.27 L1694.98 1175.14 L1695.64 1174.01 L1696.34 1172.88 L1697.08 1171.75 L1697.86 1170.63 L1698.68 1169.5 L1699.54 1168.37 L1700.43 1167.24 L1701.35 1166.11 L1702.28 1164.98 L1703.23 1163.85 L1704.19 1162.72 L1705.16 1161.59 L1706.15 1160.46 L1707.14 1159.33 L1708.14 1158.21 L1709.16 1157.08 L1710.19 1155.95 L1711.23 1154.82 L1712.27 1153.69 L1713.31 1152.56 L1714.33 1151.43 L1715.33 1150.3 L1716.3 1149.17 L1717.22 1148.04 L1718.11 1146.91 L1718.95 1145.79 L1719.75 1144.66 L1720.52 1143.53 L1721.27 1142.4 L1722 1141.27 L1722.73 1140.14 L1723.46 1139.01 L1724.19 1137.88 L1724.93 1136.75 L1725.66 1135.62 L1726.38 1134.49 L1727.05 1133.36 L1727.66 1132.24 L1728.18 1131.11 L1728.59 1129.98 L1728.87 1128.85 L1729 1127.72 L1728.97 1126.59 L1728.78 1125.46 L1728.43 1124.33 L1727.93 1123.2 L1727.31 1122.07 L1726.58 1120.94 L1725.77 1119.82 L1724.9 1118.69 L1723.99 1117.56 L1723.05 1116.43 L1722.12 1115.3 L1721.19 1114.17 L1720.28 1113.04 L1719.39 1111.91 L1718.51 1110.78 L1717.65 1109.65 L1716.79 1108.52 L1715.92 1107.4 L1715.04 1106.27 L1714.14 1105.14 L1713.2 1104.01 L1712.23 1102.88 L1711.21 1101.75 L1710.15 1100.62 L1709.06 1099.49 L1707.94 1098.36 L1706.8 1097.23 L1705.65 1096.1 L1704.52 1094.97 L1703.41 1093.85 L1702.33 1092.72 L1701.3 1091.59 L1700.32 1090.46 L1699.39 1089.33 L1698.51 1088.2 L1697.67 1087.07 L1696.89 1085.94 L1696.13 1084.81 L1695.41 1083.68 L1694.71 1082.55 L1694.03 1081.43 L1693.38 1080.3 L1692.74 1079.17 L1692.13 1078.04 L1691.55 1076.91 L1691.01 1075.78 L1690.51 1074.65 L1690.05 1073.52 L1689.65 1072.39 L1689.29 1071.26 L1688.99 1070.13 L1688.74 1069.01 L1688.53 1067.88 L1688.38 1066.75 L1688.26 1065.62 L1688.18 1064.49 L1688.12 1063.36 L1688.09 1062.23 L1688.08 1061.1 L1688.07 1059.97 L1688.08 1058.84 L1688.08 1057.71 L1688.09 1056.58 L1688.09 1055.46 L1688.09 1054.33 L1688.08 1053.2 L1688.06 1052.07 L1688.05 1050.94 L1688.02 1049.81 L1688 1048.68 L1687.97 1047.55 L1687.95 1046.42 L1687.93 1045.29 L1687.92 1044.16 L1687.91 1043.04 L1687.91 1041.91 L1687.91 1040.78 L1687.93 1039.65 L1687.94 1038.52 L1687.97 1037.39 L1687.99 1036.26 L1688.01 1035.13 L1688.04 1034 L1688.06 1032.87 L1688.07 1031.74 L1688.08 1030.61 L1688.08 1029.49 L1688.07 1028.36 L1688.06 1027.23 L1688.04 1026.1 L1688.01 1024.97 L1687.98 1023.84 L1687.95 1022.71 L1687.91 1021.58" fill="none" stroke="#000" stroke-width="1.2"/>
<clipPath id="clipS2"><rect x="1479.5" y="1020.2" width="204.2" height="179.6"/></clipPath>
<g clip-path="url(#clipS2)">
<g fill="#000">
<circle cx="1490.4" cy="1029.9" r="2.5"/>
<circle cx="1507.8" cy="1054.7" r="2.5"/>
<circle cx="1675.2" cy="1150.0" r="2.5"/>
<circle cx="1555.3" cy="1177.5" r="2.5"/>
<circle cx="1601.3" cy="1134.9" r="2.5"/>
<circle cx="1534.9" cy="1143.5" r="2.5"/>
<circle cx="1507.5" cy="1155.3" r="2.5"/>
<circle cx="1505.7" cy="1108.7" r="2.5"/>
<circle cx="1505.3" cy="1144.4" r="2.5"/>
<circle cx="1541.5" cy="1101.5" r="2.5"/>
<circle cx="1551.7" cy="1135.2" r="2.5"/>
<circle cx="1518.8" cy="1119.4" r="2.5"/>
<circle cx="1490.7" cy="1127.1" r="2.5"/>
<circle cx="1532.7" cy="1113.6" r="2.5"/>
<circle cx="1619.0" cy="1116.7" r="2.5"/>
<circle cx="1496.6" cy="1135.3" r="2.5"/>
<circle cx="1563.4" cy="1132.6" r="2.5"/>
<circle cx="1502.3" cy="1084.0" r="2.5"/>
<circle cx="1488.5" cy="1137.3" r="2.5"/>
<circle cx="1500.4" cy="1082.6" r="2.5"/>
<circle cx="1539.7" cy="1138.9" r="2.5"/>
<circle cx="1583.5" cy="1147.8" r="2.5"/>
<circle cx="1550.3" cy="1170.5" r="2.5"/>
<circle cx="1499.4" cy="1144.9" r="2.5"/>
<circle cx="1518.2" cy="1168.1" r="2.5"/>
<circle cx="1504.5" cy="1139.0" r="2.5"/>
<circle cx="1588.5" cy="1119.0" r="2.5"/>
<circle cx="1536.9" cy="1130.8" r="2.5"/>
<circle cx="1540.2" cy="1143.9" r="2.5"/>
<circle cx="1577.5" cy="1158.1" r="2.5"/>
<circle cx="1516.4" cy="1143.1" r="2.5"/>
<circle cx="1519.4" cy="1161.5" r="2.5"/>
<circle cx="1518.8" cy="1157.1" r="2.5"/>
<circle cx="1537.8" cy="1083.7" r="2.5"/>
<circle cx="1501.3" cy="1119.6" r="2.5"/>
<circle cx="1535.2" cy="1150.7" r="2.5"/>
<circle cx="1626.4" cy="1123.8" r="2.5"/>
<circle cx="1581.9" cy="1099.3" r="2.5"/>
<circle cx="1617.5" cy="1153.6" r="2.5"/>
<circle cx="1499.8" cy="1127.6" r="2.5"/>
<circle cx="1588.1" cy="1164.7" r="2.5"/>
<circle cx="1556.5" cy="1169.0" r="2.5"/>
<circle cx="1503.3" cy="1093.1" r="2.5"/>
<circle cx="1529.6" cy="1143.8" r="2.5"/>
<circle cx="1510.9" cy="1143.7" r="2.5"/>
<circle cx="1500.2" cy="1163.3" r="2.5"/>
<circle cx="1515.2" cy="1093.5" r="2.5"/>
<circle cx="1494.4" cy="1099.6" r="2.5"/>
<circle cx="1500.2" cy="1113.9" r="2.5"/>
<circle cx="1497.5" cy="1090.2" r="2.5"/>
<circle cx="1488.5" cy="1131.7" r="2.5"/>
<circle cx="1567.2" cy="1126.3" r="2.5"/>
<circle cx="1599.2" cy="1117.9" r="2.5"/>
<circle cx="1494.1" cy="1131.8" r="2.5"/>
<circle cx="1489.5" cy="1112.7" r="2.5"/>
<circle cx="1505.8" cy="1131.4" r="2.5"/>
<circle cx="1558.3" cy="1121.1" r="2.5"/>
<circle cx="1543.0" cy="1126.3" r="2.5"/>
<circle cx="1522.1" cy="1174.2" r="2.5"/>
<circle cx="1524.6" cy="1125.8" r="2.5"/>
<circle cx="1514.1" cy="1160.3" r="2.5"/>
<circle cx="1497.8" cy="1144.9" r="2.5"/>
<circle cx="1521.6" cy="1166.7" r="2.5"/>
<circle cx="1500.6" cy="1106.1" r="2.5"/>
<circle cx="1502.1" cy="1133.1" r="2.5"/>
<circle cx="1579.1" cy="1143.3" r="2.5"/>
<circle cx="1500.5" cy="1095.9" r="2.5"/>
<circle cx="1545.3" cy="1113.7" r="2.5"/>
<circle cx="1571.7" cy="1138.4" r="2.5"/>
<circle cx="1614.7" cy="1187.2" r="2.5"/>
<circle cx="1507.7" cy="1110.6" r="2.5"/>
<circle cx="1505.0" cy="1132.0" r="2.5"/>
<circle cx="1579.1" cy="1142.8" r="2.5"/>
<circle cx="1608.4" cy="1120.4" r="2.5"/>
<circle cx="1538.1" cy="1144.4" r="2.5"/>
<circle cx="1521.1" cy="1129.5" r="2.5"/>
<circle cx="1488.5" cy="1103.0" r="2.5"/>
<circle cx="1527.7" cy="1114.9" r="2.5"/>
<circle cx="1502.2" cy="1139.9" r="2.5"/>
<circle cx="1496.3" cy="1090.6" r="2.5"/>
<circle cx="1501.1" cy="1098.3" r="2.5"/>
<circle cx="1538.1" cy="1085.2" r="2.5"/>
<circle cx="1509.2" cy="1127.5" r="2.5"/>
<circle cx="1528.5" cy="1123.4" r="2.5"/>
<circle cx="1587.8" cy="1110.5" r="2.5"/>
<circle cx="1488.5" cy="1113.5" r="2.5"/>
<circle cx="1538.9" cy="1126.3" r="2.5"/>
<circle cx="1594.7" cy="1138.4" r="2.5"/>
<circle cx="1557.5" cy="1138.8" r="2.5"/>
<circle cx="1542.4" cy="1145.3" r="2.5"/>
<circle cx="1488.5" cy="1138.9" r="2.5"/>
<circle cx="1498.4" cy="1115.4" r="2.5"/>
<circle cx="1549.7" cy="1137.9" r="2.5"/>
<circle cx="1517.3" cy="1160.2" r="2.5"/>
<circle cx="1490.9" cy="1122.8" r="2.5"/>
<circle cx="1502.0" cy="1086.4" r="2.5"/>
<circle cx="1495.3" cy="1092.6" r="2.5"/>
<circle cx="1525.8" cy="1175.2" r="2.5"/>
<circle cx="1491.2" cy="1143.9" r="2.5"/>
<circle cx="1512.2" cy="1108.2" r="2.5"/>
<circle cx="1539.8" cy="1127.7" r="2.5"/>
<circle cx="1566.3" cy="1131.0" r="2.5"/>
<circle cx="1523.9" cy="1130.8" r="2.5"/>
<circle cx="1533.9" cy="1127.5" r="2.5"/>
<circle cx="1514.4" cy="1150.5" r="2.5"/>
<circle cx="1546.9" cy="1102.7" r="2.5"/>
<circle cx="1514.8" cy="1151.2" r="2.5"/>
<circle cx="1512.5" cy="1129.8" r="2.5"/>
<circle cx="1589.1" cy="1099.3" r="2.5"/>
<circle cx="1527.0" cy="1102.6" r="2.5"/>
<circle cx="1562.3" cy="1132.3" r="2.5"/>
<circle cx="1503.5" cy="1125.6" r="2.5"/>
<circle cx="1570.4" cy="1147.0" r="2.5"/>
<circle cx="1524.0" cy="1139.4" r="2.5"/>
<circle cx="1504.7" cy="1131.0" r="2.5"/>
<circle cx="1510.1" cy="1094.8" r="2.5"/>
<circle cx="1488.5" cy="1133.8" r="2.5"/>
<circle cx="1616.6" cy="1125.1" r="2.5"/>
<circle cx="1515.9" cy="1116.7" r="2.5"/>
<circle cx="1511.6" cy="1116.7" r="2.5"/>
<circle cx="1503.0" cy="1131.8" r="2.5"/>
<circle cx="1527.0" cy="1110.7" r="2.5"/>
<circle cx="1504.0" cy="1121.5" r="2.5"/>
<circle cx="1497.4" cy="1122.2" r="2.5"/>
<circle cx="1567.7" cy="1143.6" r="2.5"/>
<circle cx="1518.8" cy="1177.2" r="2.5"/>
<circle cx="1598.9" cy="1119.0" r="2.5"/>
<circle cx="1508.7" cy="1108.0" r="2.5"/>
<circle cx="1531.3" cy="1140.0" r="2.5"/>
<circle cx="1506.3" cy="1129.5" r="2.5"/>
<circle cx="1504.6" cy="1118.5" r="2.5"/>
<circle cx="1500.7" cy="1147.4" r="2.5"/>
<circle cx="1521.0" cy="1110.5" r="2.5"/>
<circle cx="1559.2" cy="1114.7" r="2.5"/>
<circle cx="1516.2" cy="1106.5" r="2.5"/>
<circle cx="1620.9" cy="1116.9" r="2.5"/>
<circle cx="1490.1" cy="1167.8" r="2.5"/>
<circle cx="1514.3" cy="1114.0" r="2.5"/>
<circle cx="1524.6" cy="1137.6" r="2.5"/>
<circle cx="1573.4" cy="1107.0" r="2.5"/>
<circle cx="1488.5" cy="1098.5" r="2.5"/>
<circle cx="1511.2" cy="1106.7" r="2.5"/>
<circle cx="1500.3" cy="1126.4" r="2.5"/>
<circle cx="1494.2" cy="1133.4" r="2.5"/>
<circle cx="1509.2" cy="1126.7" r="2.5"/>
<circle cx="1602.8" cy="1160.6" r="2.5"/>
<circle cx="1511.3" cy="1103.0" r="2.5"/>
<circle cx="1488.5" cy="1156.8" r="2.5"/>
<circle cx="1492.7" cy="1078.7" r="2.5"/>
<circle cx="1508.5" cy="1101.6" r="2.5"/>
<circle cx="1530.5" cy="1096.9" r="2.5"/>
<circle cx="1625.4" cy="1114.3" r="2.5"/>
<circle cx="1542.4" cy="1119.7" r="2.5"/>
<circle cx="1516.6" cy="1156.8" r="2.5"/>
<circle cx="1511.2" cy="1139.4" r="2.5"/>
<circle cx="1497.8" cy="1110.7" r="2.5"/>
<circle cx="1557.6" cy="1135.4" r="2.5"/>
<circle cx="1536.7" cy="1119.7" r="2.5"/>
<circle cx="1537.0" cy="1144.3" r="2.5"/>
<circle cx="1518.5" cy="1144.5" r="2.5"/>
<circle cx="1506.4" cy="1117.9" r="2.5"/>
<circle cx="1510.1" cy="1108.0" r="2.5"/>
<circle cx="1493.4" cy="1123.2" r="2.5"/>
<circle cx="1542.2" cy="1151.7" r="2.5"/>
<circle cx="1492.3" cy="1161.9" r="2.5"/>
<circle cx="1518.7" cy="1079.2" r="2.5"/>
<circle cx="1499.3" cy="1150.6" r="2.5"/>
<circle cx="1532.3" cy="1148.2" r="2.5"/>
<circle cx="1556.3" cy="1147.6" r="2.5"/>
<circle cx="1539.4" cy="1107.9" r="2.5"/>
<circle cx="1500.3" cy="1141.9" r="2.5"/>
<circle cx="1598.6" cy="1122.9" r="2.5"/>
<circle cx="1577.6" cy="1126.3" r="2.5"/>
<circle cx="1513.6" cy="1152.5" r="2.5"/>
<circle cx="1526.4" cy="1123.7" r="2.5"/>
<circle cx="1488.5" cy="1151.5" r="2.5"/>
<circle cx="1507.1" cy="1129.0" r="2.5"/>
<circle cx="1500.1" cy="1107.2" r="2.5"/>
<circle cx="1492.7" cy="1129.1" r="2.5"/>
<circle cx="1507.2" cy="1146.5" r="2.5"/>
<circle cx="1495.7" cy="1133.8" r="2.5"/>
<circle cx="1554.7" cy="1135.2" r="2.5"/>
<circle cx="1520.0" cy="1119.1" r="2.5"/>
<circle cx="1519.8" cy="1180.3" r="2.5"/>
<circle cx="1515.2" cy="1169.4" r="2.5"/>
<circle cx="1523.5" cy="1116.1" r="2.5"/>
<circle cx="1503.1" cy="1127.9" r="2.5"/>
<circle cx="1495.2" cy="1124.1" r="2.5"/>
<circle cx="1506.3" cy="1120.7" r="2.5"/>
<circle cx="1493.7" cy="1128.0" r="2.5"/>
<circle cx="1525.1" cy="1138.4" r="2.5"/>
<circle cx="1517.3" cy="1124.5" r="2.5"/>
<circle cx="1614.9" cy="1122.8" r="2.5"/>
<circle cx="1502.5" cy="1117.5" r="2.5"/>
<circle cx="1504.3" cy="1125.2" r="2.5"/>
<circle cx="1606.4" cy="1161.6" r="2.5"/>
<circle cx="1600.3" cy="1131.2" r="2.5"/>
<circle cx="1504.8" cy="1152.6" r="2.5"/>
<circle cx="1598.7" cy="1152.2" r="2.5"/>
<circle cx="1495.6" cy="1121.2" r="2.5"/>
<circle cx="1537.6" cy="1126.8" r="2.5"/>
<circle cx="1504.9" cy="1100.4" r="2.5"/>
<circle cx="1533.0" cy="1108.5" r="2.5"/>
<circle cx="1488.5" cy="1112.6" r="2.5"/>
<circle cx="1617.9" cy="1146.3" r="2.5"/>
<circle cx="1517.7" cy="1127.6" r="2.5"/>
<circle cx="1512.9" cy="1132.3" r="2.5"/>
<circle cx="1511.3" cy="1086.3" r="2.5"/>
<circle cx="1583.9" cy="1124.2" r="2.5"/>
<circle cx="1520.8" cy="1142.7" r="2.5"/>
<circle cx="1535.8" cy="1148.9" r="2.5"/>
<circle cx="1497.8" cy="1096.1" r="2.5"/>
<circle cx="1548.3" cy="1150.9" r="2.5"/>
<circle cx="1615.6" cy="1129.9" r="2.5"/>
<circle cx="1568.9" cy="1128.9" r="2.5"/>
<circle cx="1548.9" cy="1106.0" r="2.5"/>
<circle cx="1574.0" cy="1154.0" r="2.5"/>
<circle cx="1514.5" cy="1116.1" r="2.5"/>
<circle cx="1552.8" cy="1126.5" r="2.5"/>
<circle cx="1493.3" cy="1105.8" r="2.5"/>
<circle cx="1552.0" cy="1099.5" r="2.5"/>
<circle cx="1488.5" cy="1121.4" r="2.5"/>
<circle cx="1491.4" cy="1129.3" r="2.5"/>
<circle cx="1546.8" cy="1110.1" r="2.5"/>
<circle cx="1498.4" cy="1157.5" r="2.5"/>
<circle cx="1509.7" cy="1121.8" r="2.5"/>
<circle cx="1493.2" cy="1147.0" r="2.5"/>
<circle cx="1585.6" cy="1162.9" r="2.5"/>
<circle cx="1526.3" cy="1164.7" r="2.5"/>
<circle cx="1508.4" cy="1164.3" r="2.5"/>
<circle cx="1569.9" cy="1113.8" r="2.5"/>
<circle cx="1506.2" cy="1105.5" r="2.5"/>
<circle cx="1515.9" cy="1124.4" r="2.5"/>
<circle cx="1491.2" cy="1099.9" r="2.5"/>
<circle cx="1531.4" cy="1127.8" r="2.5"/>
<circle cx="1507.1" cy="1137.2" r="2.5"/>
<circle cx="1546.0" cy="1155.3" r="2.5"/>
<circle cx="1507.1" cy="1107.9" r="2.5"/>
<circle cx="1493.2" cy="1105.2" r="2.5"/>
<circle cx="1525.5" cy="1098.6" r="2.5"/>
<circle cx="1592.1" cy="1154.0" r="2.5"/>
<circle cx="1499.3" cy="1131.3" r="2.5"/>
<circle cx="1530.1" cy="1159.6" r="2.5"/>
<circle cx="1496.2" cy="1097.8" r="2.5"/>
<circle cx="1511.6" cy="1109.7" r="2.5"/>
<circle cx="1488.5" cy="1111.6" r="2.5"/>
<circle cx="1489.4" cy="1123.9" r="2.5"/>
<circle cx="1507.3" cy="1129.0" r="2.5"/>
<circle cx="1527.9" cy="1136.4" r="2.5"/>
<circle cx="1550.5" cy="1105.2" r="2.5"/>
<circle cx="1584.8" cy="1149.1" r="2.5"/>
<circle cx="1510.8" cy="1105.3" r="2.5"/>
<circle cx="1516.6" cy="1119.9" r="2.5"/>
<circle cx="1596.2" cy="1159.0" r="2.5"/>
<circle cx="1535.6" cy="1162.3" r="2.5"/>
<circle cx="1592.2" cy="1153.4" r="2.5"/>
<circle cx="1510.8" cy="1126.8" r="2.5"/>
<circle cx="1522.6" cy="1157.2" r="2.5"/>
<circle cx="1508.0" cy="1111.0" r="2.5"/>
<circle cx="1524.8" cy="1101.1" r="2.5"/>
<circle cx="1610.9" cy="1124.8" r="2.5"/>
<circle cx="1504.6" cy="1164.4" r="2.5"/>
<circle cx="1507.1" cy="1180.0" r="2.5"/>
<circle cx="1504.6" cy="1105.0" r="2.5"/>
<circle cx="1530.3" cy="1093.5" r="2.5"/>
<circle cx="1623.9" cy="1148.1" r="2.5"/>
<circle cx="1526.4" cy="1115.6" r="2.5"/>
<circle cx="1567.4" cy="1138.6" r="2.5"/>
<circle cx="1504.0" cy="1139.9" r="2.5"/>
<circle cx="1488.8" cy="1100.3" r="2.5"/>
<circle cx="1540.7" cy="1142.1" r="2.5"/>
<circle cx="1499.7" cy="1104.8" r="2.5"/>
<circle cx="1489.9" cy="1083.5" r="2.5"/>
<circle cx="1514.3" cy="1129.1" r="2.5"/>
<circle cx="1512.6" cy="1082.6" r="2.5"/>
<circle cx="1553.1" cy="1161.2" r="2.5"/>
<circle cx="1506.8" cy="1104.1" r="2.5"/>
<circle cx="1506.8" cy="1125.2" r="2.5"/>
<circle cx="1489.6" cy="1146.8" r="2.5"/>
<circle cx="1534.8" cy="1127.6" r="2.5"/>
<circle cx="1532.1" cy="1146.8" r="2.5"/>
<circle cx="1528.0" cy="1090.0" r="2.5"/>
<circle cx="1525.1" cy="1163.2" r="2.5"/>
<circle cx="1518.4" cy="1116.4" r="2.5"/>
<circle cx="1496.5" cy="1142.0" r="2.5"/>
<circle cx="1545.6" cy="1097.7" r="2.5"/>
<circle cx="1601.8" cy="1138.7" r="2.5"/>
<circle cx="1510.1" cy="1105.8" r="2.5"/>
<circle cx="1609.5" cy="1138.1" r="2.5"/>
<circle cx="1589.3" cy="1160.6" r="2.5"/>
<circle cx="1553.7" cy="1181.1" r="2.5"/>
<circle cx="1568.5" cy="1090.8" r="2.5"/>
<circle cx="1543.7" cy="1124.2" r="2.5"/>
<circle cx="1500.4" cy="1151.6" r="2.5"/>
<circle cx="1507.2" cy="1132.8" r="2.5"/>
<circle cx="1596.5" cy="1112.7" r="2.5"/>
<circle cx="1531.6" cy="1163.1" r="2.5"/>
<circle cx="1583.3" cy="1081.3" r="2.5"/>
<circle cx="1506.3" cy="1131.2" r="2.5"/>
<circle cx="1506.7" cy="1134.1" r="2.5"/>
<circle cx="1534.1" cy="1098.6" r="2.5"/>
<circle cx="1495.5" cy="1119.3" r="2.5"/>
<circle cx="1513.5" cy="1149.7" r="2.5"/>
<circle cx="1488.5" cy="1102.0" r="2.5"/>
<circle cx="1497.3" cy="1113.9" r="2.5"/>
<circle cx="1518.3" cy="1100.6" r="2.5"/>
<circle cx="1500.7" cy="1146.4" r="2.5"/>
<circle cx="1507.5" cy="1152.0" r="2.5"/>
<circle cx="1588.1" cy="1120.3" r="2.5"/>
<circle cx="1616.1" cy="1148.3" r="2.5"/>
<circle cx="1488.5" cy="1173.9" r="2.5"/>
<circle cx="1504.2" cy="1139.1" r="2.5"/>
<circle cx="1525.7" cy="1113.2" r="2.5"/>
<circle cx="1498.6" cy="1141.7" r="2.5"/>
<circle cx="1488.5" cy="1093.7" r="2.5"/>
<circle cx="1575.4" cy="1145.4" r="2.5"/>
<circle cx="1548.4" cy="1132.8" r="2.5"/>
<circle cx="1550.6" cy="1168.8" r="2.5"/>
<circle cx="1540.5" cy="1148.4" r="2.5"/>
<circle cx="1508.6" cy="1130.4" r="2.5"/>
<circle cx="1567.7" cy="1119.3" r="2.5"/>
<circle cx="1509.4" cy="1121.7" r="2.5"/>
<circle cx="1525.5" cy="1103.1" r="2.5"/>
<circle cx="1517.2" cy="1178.0" r="2.5"/>
<circle cx="1533.2" cy="1128.3" r="2.5"/>
<circle cx="1543.5" cy="1133.5" r="2.5"/>
<circle cx="1533.0" cy="1153.3" r="2.5"/>
<circle cx="1516.9" cy="1128.0" r="2.5"/>
<circle cx="1595.5" cy="1153.5" r="2.5"/>
<circle cx="1496.7" cy="1114.7" r="2.5"/>
<circle cx="1506.0" cy="1133.9" r="2.5"/>
<circle cx="1512.6" cy="1114.7" r="2.5"/>
<circle cx="1500.7" cy="1146.5" r="2.5"/>
<circle cx="1543.3" cy="1100.3" r="2.5"/>
<circle cx="1498.0" cy="1115.5" r="2.5"/>
<circle cx="1529.7" cy="1086.7" r="2.5"/>
<circle cx="1503.6" cy="1128.7" r="2.5"/>
<circle cx="1515.4" cy="1138.6" r="2.5"/>
<circle cx="1498.9" cy="1121.8" r="2.5"/>
<circle cx="1488.5" cy="1134.7" r="2.5"/>
<circle cx="1631.0" cy="1164.5" r="2.5"/>
<circle cx="1500.3" cy="1124.8" r="2.5"/>
<circle cx="1617.1" cy="1140.1" r="2.5"/>
</g>
<path d="M1488.5 1121.84 L1491.66 1121.78 L1494.83 1121.72 L1497.99 1121.66 L1501.16 1121.84 L1504.32 1122.46 L1507.49 1123.08 L1510.65 1123.62 L1513.82 1124.57 L1516.98 1125.71 L1520.15 1126.84 L1523.31 1127.99 L1526.48 1129.35 L1529.64 1130.52 L1532.81 1130.75 L1535.97 1130.41 L1539.14 1130.07 L1542.3 1129.72 L1545.47 1129.38 L1548.63 1129.23 L1551.8 1129.14 L1554.96 1129.05 L1558.13 1128.96 L1561.29 1128.87 L1564.46 1128.78 L1567.62 1128.55 L1570.79 1128.25 L1573.95 1127.96 L1577.12 1127.66 L1580.28 1127.37 L1583.44 1127.07 L1586.61 1126.78 L1589.77 1126.48 L1592.94 1126.19 L1596.1 1125.89 L1599.27 1125.6 L1602.43 1125.3 L1605.6 1124.93 L1608.76 1124.47 L1611.93 1124.02 L1615.09 1123.57 L1618.26 1123.11 L1621.42 1122.66 L1624.59 1122.2 L1627.75 1121.75 L1630.92 1121.29 L1634.08 1120.84 L1637.25 1120.39 L1640.41 1119.93 L1643.58 1119.41 L1646.74 1118.74 L1649.91 1118.07 L1653.07 1117.4 L1656.24 1116.73 L1659.4 1116.07 L1662.57 1115.4 L1665.73 1114.73 L1668.9 1114.06 L1672.06 1113.4 L1675.22 1112.73 L1675.22 1173.49 L1672.06 1172.29 L1668.9 1171.09 L1665.73 1169.89 L1662.57 1168.68 L1659.4 1167.48 L1656.24 1166.28 L1653.07 1165.08 L1649.91 1163.88 L1646.74 1162.67 L1643.58 1161.47 L1640.41 1160.46 L1637.25 1159.56 L1634.08 1158.65 L1630.92 1157.74 L1627.75 1156.83 L1624.59 1155.92 L1621.42 1155.01 L1618.26 1154.11 L1615.09 1153.2 L1611.93 1152.29 L1608.76 1151.38 L1605.6 1150.47 L1602.43 1149.64 L1599.27 1148.89 L1596.1 1148.15 L1592.94 1147.4 L1589.77 1146.65 L1586.61 1145.9 L1583.44 1145.15 L1580.28 1144.4 L1577.12 1143.65 L1573.95 1142.9 L1570.79 1142.15 L1567.62 1141.4 L1564.46 1140.72 L1561.29 1140.18 L1558.13 1139.63 L1554.96 1139.09 L1551.8 1138.54 L1548.63 1138 L1545.47 1137.56 L1542.3 1137.44 L1539.14 1137.33 L1535.97 1137.22 L1532.81 1137.1 L1529.64 1136.43 L1526.48 1134.88 L1523.31 1133.51 L1520.15 1132.37 L1516.98 1131.23 L1513.82 1130.1 L1510.65 1129.14 L1507.49 1128.62 L1504.32 1128.18 L1501.16 1127.74 L1497.99 1127.74 L1494.83 1127.99 L1491.66 1128.23 L1488.5 1128.47Z" fill="#999999" fill-opacity="0.4"/>
<path d="M1488.5 1125.16 L1491.66 1125.01 L1494.83 1124.85 L1497.99 1124.7 L1501.16 1124.79 L1504.32 1125.32 L1507.49 1125.85 L1510.65 1126.38 L1513.82 1127.33 L1516.98 1128.47 L1520.15 1129.6 L1523.31 1130.75 L1526.48 1132.11 L1529.64 1133.48 L1532.81 1133.93 L1535.97 1133.81 L1539.14 1133.7 L1542.3 1133.58 L1545.47 1133.47 L1548.63 1133.61 L1551.8 1133.84 L1554.96 1134.07 L1558.13 1134.3 L1561.29 1134.52 L1564.46 1134.75 L1567.62 1134.98 L1570.79 1135.2 L1573.95 1135.43 L1577.12 1135.66 L1580.28 1135.88 L1583.44 1136.11 L1586.61 1136.34 L1589.77 1136.57 L1592.94 1136.79 L1596.1 1137.02 L1599.27 1137.25 L1602.43 1137.47 L1605.6 1137.7 L1608.76 1137.93 L1611.93 1138.15 L1615.09 1138.38 L1618.26 1138.61 L1621.42 1138.84 L1624.59 1139.06 L1627.75 1139.29 L1630.92 1139.52 L1634.08 1139.74 L1637.25 1139.97 L1640.41 1140.2 L1643.58 1140.44 L1646.74 1140.71 L1649.91 1140.97 L1653.07 1141.24 L1656.24 1141.51 L1659.4 1141.77 L1662.57 1142.04 L1665.73 1142.31 L1668.9 1142.58 L1672.06 1142.84 L1675.22 1143.11" fill="none" stroke="#3366FF" stroke-width="2.6" stroke-linejoin="round"/>
</g>
<rect x="1479.5" y="1020.2" width="204.2" height="179.6" fill="none" stroke="#333" stroke-width="1.1"/>
<text x="1581.7" y="1040.7" font-size="13.3" text-anchor="middle" fill="#000">cor= −0.208</text>
<text x="1581.7" y="1060.1" font-size="13.3" text-anchor="middle" fill="#000">pvalue= 0.00012</text>
<line x1="1476" y1="1074.06" x2="1479.5" y2="1074.06" stroke="#333" stroke-width="1"/>
<text x="1473.5" y="1077.96" font-size="10.8" text-anchor="end" fill="#4D4D4D">2</text>
<line x1="1476" y1="1129.3" x2="1479.5" y2="1129.3" stroke="#333" stroke-width="1"/>
<text x="1473.5" y="1133.2" font-size="10.8" text-anchor="end" fill="#4D4D4D">0</text>
<line x1="1476" y1="1184.54" x2="1479.5" y2="1184.54" stroke="#333" stroke-width="1"/>
<text x="1473.5" y="1188.44" font-size="10.8" text-anchor="end" fill="#4D4D4D">−2</text>
<g clip-path="url(#clipS2x)">
<clipPath id="clipS2x"><rect x="1440" y="1199.8" width="244.2" height="40"/></clipPath>
<line x1="1488.5" y1="1199.8" x2="1488.5" y2="1203.3" stroke="#333" stroke-width="1"/>
<text x="1488.5" y="1214.7" font-size="10.8" text-anchor="middle" fill="#4D4D4D">0.0</text>
<line x1="1527" y1="1199.8" x2="1527" y2="1203.3" stroke="#333" stroke-width="1"/>
<text x="1527" y="1214.7" font-size="10.8" text-anchor="middle" fill="#4D4D4D">0.1</text>
<line x1="1565.5" y1="1199.8" x2="1565.5" y2="1203.3" stroke="#333" stroke-width="1"/>
<text x="1565.5" y="1214.7" font-size="10.8" text-anchor="middle" fill="#4D4D4D">0.2</text>
<line x1="1604" y1="1199.8" x2="1604" y2="1203.3" stroke="#333" stroke-width="1"/>
<text x="1604" y="1214.7" font-size="10.8" text-anchor="middle" fill="#4D4D4D">0.3</text>
<line x1="1642.5" y1="1199.8" x2="1642.5" y2="1203.3" stroke="#333" stroke-width="1"/>
<text x="1642.5" y="1214.7" font-size="10.8" text-anchor="middle" fill="#4D4D4D">0.4</text>
<line x1="1681" y1="1199.8" x2="1681" y2="1203.3" stroke="#333" stroke-width="1"/>
<text x="1681" y="1214.7" font-size="10.8" text-anchor="middle" fill="#4D4D4D">0.5</text>
</g>
<text transform="translate(1455.7 1109.8) rotate(-90)" font-size="13.2" text-anchor="middle" fill="#000">RiskScore</text>
<text x="1581.7" y="1230.1" font-size="13.4" text-anchor="middle" fill="#000">T cells CD8</text>
<text transform="translate(0.34 1990.6) scale(1.2 1)" font-size="76" font-family="'Liberation Serif', 'Times New Roman', serif" fill="#000">E</text>
<path d="M287.1 2416.33 L287.7 2413.19 L288.35 2410.04 L289.04 2406.9 L289.78 2403.75 L290.55 2400.61 L291.38 2397.46 L292.25 2394.32 L293.18 2391.17 L294.16 2388.02 L295.18 2384.88 L296.26 2381.73 L297.42 2378.59 L298.67 2375.44 L299.97 2372.3 L301.28 2369.15 L302.57 2366.01 L303.83 2362.86 L305.07 2359.72 L306.31 2356.57 L307.57 2353.43 L308.85 2350.28 L310.17 2347.14 L311.56 2343.99 L313.01 2340.84 L314.48 2337.7 L315.91 2334.55 L317.27 2331.41 L318.53 2328.26 L319.74 2325.12 L320.9 2321.97 L322.01 2318.83 L323.06 2315.68 L324.03 2312.54 L324.93 2309.39 L325.81 2306.25 L326.63 2303.1 L327.39 2299.96 L328.07 2296.81 L328.68 2293.66 L329.3 2290.52 L329.92 2287.37 L330.47 2284.23 L330.88 2281.08 L331.09 2277.94 L331.08 2274.79 L331.01 2271.65 L330.88 2268.5 L330.71 2265.36 L330.51 2262.21 L330.28 2259.07 L329.89 2255.92 L329.3 2252.77 L328.57 2249.63 L327.79 2246.48 L327.04 2243.34 L326.39 2240.19 L325.77 2237.05 L325.17 2233.9 L324.57 2230.76 L323.97 2227.61 L323.38 2224.47 L322.77 2221.32 L322.16 2218.18 L321.53 2215.03 L320.89 2211.89 L320.22 2208.74 L319.52 2205.59 L318.79 2202.45 L318.03 2199.3 L317.24 2196.16 L316.42 2193.01 L315.58 2189.87 L314.72 2186.72 L313.85 2183.58 L312.95 2180.43 L312.01 2177.29 L311.02 2174.14 L309.98 2171 L308.83 2167.85 L307.58 2164.71 L306.27 2161.56 L304.94 2158.41 L303.62 2155.27 L302.34 2152.12 L300.99 2148.98 L299.62 2145.83 L298.29 2142.69 L297.08 2139.54 L296.06 2136.4 L295.21 2133.25 L294.42 2130.11 L293.67 2126.96 L292.98 2123.82 L292.34 2120.67 L291.77 2117.53 L291.26 2114.38 L290.82 2111.23 L290.46 2108.09 L290.13 2104.94 L289.84 2101.8 L289.58 2098.65 L289.34 2095.51 L289.12 2092.36 L288.91 2089.22 L288.7 2086.07 L288.5 2082.93 L288.29 2079.78 L288.08 2076.64 L287.85 2073.49 L287.62 2070.34 L287.39 2067.2 L287.16 2064.05 L286.93 2060.91 L286.71 2057.76 L286.48 2054.62 L286.26 2051.47 L286.04 2048.33 L285.82 2045.18 L285.6 2042.04 L278.6 2042.04 L278.38 2045.18 L278.16 2048.33 L277.94 2051.47 L277.72 2054.62 L277.49 2057.76 L277.27 2060.91 L277.04 2064.05 L276.81 2067.2 L276.58 2070.34 L276.35 2073.49 L276.12 2076.64 L275.91 2079.78 L275.7 2082.93 L275.5 2086.07 L275.29 2089.22 L275.08 2092.36 L274.86 2095.51 L274.62 2098.65 L274.36 2101.8 L274.07 2104.94 L273.74 2108.09 L273.38 2111.23 L272.94 2114.38 L272.43 2117.53 L271.86 2120.67 L271.22 2123.82 L270.53 2126.96 L269.78 2130.11 L268.99 2133.25 L268.14 2136.4 L267.12 2139.54 L265.91 2142.69 L264.58 2145.83 L263.21 2148.98 L261.86 2152.12 L260.58 2155.27 L259.26 2158.41 L257.93 2161.56 L256.62 2164.71 L255.37 2167.85 L254.22 2171 L253.18 2174.14 L252.19 2177.29 L251.25 2180.43 L250.35 2183.58 L249.48 2186.72 L248.62 2189.87 L247.78 2193.01 L246.96 2196.16 L246.17 2199.3 L245.41 2202.45 L244.68 2205.59 L243.98 2208.74 L243.31 2211.89 L242.67 2215.03 L242.04 2218.18 L241.43 2221.32 L240.82 2224.47 L240.23 2227.61 L239.63 2230.76 L239.03 2233.9 L238.43 2237.05 L237.81 2240.19 L237.16 2243.34 L236.41 2246.48 L235.63 2249.63 L234.9 2252.77 L234.31 2255.92 L233.92 2259.07 L233.69 2262.21 L233.49 2265.36 L233.32 2268.5 L233.19 2271.65 L233.12 2274.79 L233.11 2277.94 L233.32 2281.08 L233.73 2284.23 L234.28 2287.37 L234.9 2290.52 L235.52 2293.66 L236.13 2296.81 L236.81 2299.96 L237.57 2303.1 L238.39 2306.25 L239.27 2309.39 L240.17 2312.54 L241.14 2315.68 L242.19 2318.83 L243.3 2321.97 L244.46 2325.12 L245.67 2328.26 L246.93 2331.41 L248.29 2334.55 L249.72 2337.7 L251.19 2340.84 L252.64 2343.99 L254.03 2347.14 L255.35 2350.28 L256.63 2353.43 L257.89 2356.57 L259.13 2359.72 L260.37 2362.86 L261.63 2366.01 L262.92 2369.15 L264.23 2372.3 L265.53 2375.44 L266.78 2378.59 L267.94 2381.73 L269.02 2384.88 L270.04 2388.02 L271.02 2391.17 L271.95 2394.32 L272.82 2397.46 L273.65 2400.61 L274.42 2403.75 L275.16 2406.9 L275.85 2410.04 L276.5 2413.19 L277.1 2416.33Z" fill="#E4EEF9" stroke="#000" stroke-width="2.7" stroke-linejoin="round"/>
<line x1="282.1" y1="2200.34" x2="282.1" y2="2062.63" stroke="#000" stroke-width="2.7"/>
<line x1="282.1" y1="2299.7" x2="282.1" y2="2416.33" stroke="#000" stroke-width="2.7"/>
<path d="M232.1 2200.34 L332.1 2200.34 L332.1 2236.85 L307.1 2248.85 L332.1 2260.86 L332.1 2299.7 L232.1 2299.7 L232.1 2260.86 L257.1 2248.85 L232.1 2236.85Z" fill="#C6DBEF" stroke="#000" stroke-width="2.7" fill-opacity="0.82" stroke-linejoin="miter"/>
<line x1="257.1" y1="2248.85" x2="307.1" y2="2248.85" stroke="#000" stroke-width="4.2"/>
<path d="M417.5 2406.57 L418.42 2403.73 L419.2 2400.89 L419.74 2398.05 L420.16 2395.21 L420.51 2392.37 L420.84 2389.53 L421.22 2386.69 L421.69 2383.84 L422.3 2381 L423.08 2378.16 L424 2375.32 L425.04 2372.48 L426.18 2369.64 L427.39 2366.8 L428.68 2363.96 L430.21 2361.12 L431.94 2358.27 L433.78 2355.43 L435.64 2352.59 L437.42 2349.75 L439.04 2346.91 L440.64 2344.07 L442.27 2341.23 L443.84 2338.39 L445.28 2335.55 L446.53 2332.71 L447.5 2329.86 L448.22 2327.02 L448.8 2324.18 L449.3 2321.34 L449.78 2318.5 L450.29 2315.66 L450.88 2312.82 L451.56 2309.98 L452.28 2307.14 L453.06 2304.29 L453.9 2301.45 L454.82 2298.61 L455.85 2295.77 L457.06 2292.93 L458.66 2290.09 L460.51 2287.25 L462.46 2284.41 L464.35 2281.57 L466.03 2278.73 L467.39 2275.88 L468.73 2273.04 L470.07 2270.2 L471.29 2267.36 L472.28 2264.52 L472.91 2261.68 L473.1 2258.84 L472.97 2256 L472.69 2253.16 L472.27 2250.31 L471.75 2247.47 L471.15 2244.63 L470.51 2241.79 L469.67 2238.95 L468.49 2236.11 L467.04 2233.27 L465.42 2230.43 L463.71 2227.59 L462 2224.74 L460.28 2221.9 L458.41 2219.06 L456.42 2216.22 L454.36 2213.38 L452.28 2210.54 L450.22 2207.7 L448.18 2204.86 L446.01 2202.02 L444.01 2199.18 L442.44 2196.33 L441.02 2193.49 L439.71 2190.65 L438.52 2187.81 L437.48 2184.97 L436.62 2182.13 L435.96 2179.29 L435.41 2176.45 L434.92 2173.61 L434.48 2170.76 L434.08 2167.92 L433.72 2165.08 L433.39 2162.24 L433.09 2159.4 L432.8 2156.56 L432.52 2153.72 L432.26 2150.88 L432.04 2148.04 L431.84 2145.2 L431.67 2142.35 L431.5 2139.51 L431.34 2136.67 L431.18 2133.83 L431.01 2130.99 L430.82 2128.15 L430.6 2125.31 L430.36 2122.47 L430.07 2119.63 L429.71 2116.78 L429.18 2113.94 L428.48 2111.1 L427.67 2108.26 L426.78 2105.42 L425.86 2102.58 L424.95 2099.74 L424.09 2096.9 L423.33 2094.06 L422.7 2091.21 L422.14 2088.37 L421.6 2085.53 L421.09 2082.69 L420.6 2079.85 L420.15 2077.01 L419.73 2074.17 L419.35 2071.33 L419 2068.49 L407.6 2068.49 L407.25 2071.33 L406.87 2074.17 L406.45 2077.01 L406 2079.85 L405.51 2082.69 L405 2085.53 L404.46 2088.37 L403.9 2091.21 L403.27 2094.06 L402.51 2096.9 L401.65 2099.74 L400.74 2102.58 L399.82 2105.42 L398.93 2108.26 L398.12 2111.1 L397.42 2113.94 L396.89 2116.78 L396.53 2119.63 L396.24 2122.47 L396 2125.31 L395.78 2128.15 L395.59 2130.99 L395.42 2133.83 L395.26 2136.67 L395.1 2139.51 L394.93 2142.35 L394.76 2145.2 L394.56 2148.04 L394.34 2150.88 L394.08 2153.72 L393.8 2156.56 L393.51 2159.4 L393.21 2162.24 L392.88 2165.08 L392.52 2167.92 L392.12 2170.76 L391.68 2173.61 L391.19 2176.45 L390.64 2179.29 L389.98 2182.13 L389.12 2184.97 L388.08 2187.81 L386.89 2190.65 L385.58 2193.49 L384.16 2196.33 L382.59 2199.18 L380.59 2202.02 L378.42 2204.86 L376.38 2207.7 L374.32 2210.54 L372.24 2213.38 L370.18 2216.22 L368.19 2219.06 L366.32 2221.9 L364.6 2224.74 L362.89 2227.59 L361.18 2230.43 L359.56 2233.27 L358.11 2236.11 L356.93 2238.95 L356.09 2241.79 L355.45 2244.63 L354.85 2247.47 L354.33 2250.31 L353.91 2253.16 L353.63 2256 L353.5 2258.84 L353.69 2261.68 L354.32 2264.52 L355.31 2267.36 L356.53 2270.2 L357.87 2273.04 L359.21 2275.88 L360.57 2278.73 L362.25 2281.57 L364.14 2284.41 L366.09 2287.25 L367.94 2290.09 L369.54 2292.93 L370.75 2295.77 L371.78 2298.61 L372.7 2301.45 L373.54 2304.29 L374.32 2307.14 L375.04 2309.98 L375.72 2312.82 L376.31 2315.66 L376.82 2318.5 L377.3 2321.34 L377.8 2324.18 L378.38 2327.02 L379.1 2329.86 L380.07 2332.71 L381.32 2335.55 L382.76 2338.39 L384.33 2341.23 L385.96 2344.07 L387.56 2346.91 L389.18 2349.75 L390.96 2352.59 L392.82 2355.43 L394.66 2358.27 L396.39 2361.12 L397.92 2363.96 L399.21 2366.8 L400.42 2369.64 L401.56 2372.48 L402.6 2375.32 L403.52 2378.16 L404.3 2381 L404.91 2383.84 L405.38 2386.69 L405.76 2389.53 L406.09 2392.37 L406.44 2395.21 L406.86 2398.05 L407.4 2400.89 L408.18 2403.73 L409.1 2406.57Z" fill="#FDE3E0" stroke="#000" stroke-width="2.7" stroke-linejoin="round"/>
<line x1="413.3" y1="2206.2" x2="413.3" y2="2114.75" stroke="#000" stroke-width="2.7"/>
<line x1="413.3" y1="2284.96" x2="413.3" y2="2389.88" stroke="#000" stroke-width="2.7"/>
<path d="M363.3 2206.2 L463.3 2206.2 L463.3 2240.73 L438.3 2250.22 L463.3 2259.71 L463.3 2284.96 L363.3 2284.96 L363.3 2259.71 L388.3 2250.22 L363.3 2240.73Z" fill="#FBC1BC" stroke="#000" stroke-width="2.7" fill-opacity="0.82" stroke-linejoin="miter"/>
<line x1="388.3" y1="2250.22" x2="438.3" y2="2250.22" stroke="#000" stroke-width="4.2"/>
<g fill="#BDD7EE" stroke="#000" stroke-width="1.1">
<circle cx="310.0" cy="2416.3" r="4.3"/>
<circle cx="288.5" cy="2042.0" r="4.3"/>
<circle cx="266.6" cy="2193.7" r="4.3"/>
<circle cx="300.5" cy="2241.0" r="4.3"/>
<circle cx="274.1" cy="2301.3" r="4.3"/>
<circle cx="257.8" cy="2141.4" r="4.3"/>
<circle cx="261.7" cy="2166.7" r="4.3"/>
<circle cx="274.5" cy="2287.0" r="4.3"/>
<circle cx="301.9" cy="2092.1" r="4.3"/>
<circle cx="266.0" cy="2316.9" r="4.3"/>
<circle cx="298.8" cy="2187.7" r="4.3"/>
<circle cx="257.4" cy="2220.5" r="4.3"/>
<circle cx="302.2" cy="2265.8" r="4.3"/>
<circle cx="294.8" cy="2385.2" r="4.3"/>
<circle cx="257.8" cy="2156.2" r="4.3"/>
<circle cx="255.1" cy="2244.8" r="4.3"/>
<circle cx="267.4" cy="2281.8" r="4.3"/>
<circle cx="263.2" cy="2288.9" r="4.3"/>
<circle cx="290.8" cy="2227.4" r="4.3"/>
<circle cx="280.4" cy="2290.4" r="4.3"/>
<circle cx="286.4" cy="2258.5" r="4.3"/>
<circle cx="269.4" cy="2285.6" r="4.3"/>
<circle cx="310.3" cy="2370.7" r="4.3"/>
<circle cx="258.6" cy="2310.9" r="4.3"/>
<circle cx="291.7" cy="2176.6" r="4.3"/>
<circle cx="284.0" cy="2183.9" r="4.3"/>
<circle cx="311.0" cy="2223.8" r="4.3"/>
<circle cx="309.0" cy="2265.9" r="4.3"/>
<circle cx="280.9" cy="2096.7" r="4.3"/>
<circle cx="279.0" cy="2176.9" r="4.3"/>
<circle cx="273.6" cy="2312.1" r="4.3"/>
<circle cx="262.7" cy="2246.1" r="4.3"/>
<circle cx="292.8" cy="2113.5" r="4.3"/>
<circle cx="304.9" cy="2193.5" r="4.3"/>
<circle cx="280.7" cy="2285.9" r="4.3"/>
<circle cx="306.8" cy="2266.0" r="4.3"/>
<circle cx="267.1" cy="2256.5" r="4.3"/>
<circle cx="268.3" cy="2152.9" r="4.3"/>
<circle cx="309.0" cy="2212.4" r="4.3"/>
<circle cx="306.9" cy="2280.2" r="4.3"/>
<circle cx="282.8" cy="2267.6" r="4.3"/>
<circle cx="285.1" cy="2354.7" r="4.3"/>
<circle cx="273.4" cy="2261.6" r="4.3"/>
<circle cx="254.3" cy="2315.8" r="4.3"/>
<circle cx="274.7" cy="2354.4" r="4.3"/>
<circle cx="310.7" cy="2355.1" r="4.3"/>
<circle cx="282.6" cy="2318.9" r="4.3"/>
<circle cx="300.2" cy="2216.1" r="4.3"/>
<circle cx="262.1" cy="2328.0" r="4.3"/>
<circle cx="295.9" cy="2246.0" r="4.3"/>
<circle cx="287.4" cy="2238.5" r="4.3"/>
<circle cx="310.8" cy="2101.3" r="4.3"/>
<circle cx="271.0" cy="2268.4" r="4.3"/>
<circle cx="280.1" cy="2196.6" r="4.3"/>
<circle cx="268.6" cy="2382.3" r="4.3"/>
<circle cx="296.1" cy="2229.1" r="4.3"/>
<circle cx="256.6" cy="2081.6" r="4.3"/>
<circle cx="295.8" cy="2374.8" r="4.3"/>
<circle cx="301.8" cy="2150.0" r="4.3"/>
<circle cx="267.2" cy="2334.3" r="4.3"/>
<circle cx="273.8" cy="2221.9" r="4.3"/>
<circle cx="273.0" cy="2389.3" r="4.3"/>
<circle cx="304.3" cy="2367.7" r="4.3"/>
<circle cx="261.8" cy="2340.4" r="4.3"/>
<circle cx="306.6" cy="2153.2" r="4.3"/>
<circle cx="258.0" cy="2194.2" r="4.3"/>
<circle cx="254.8" cy="2225.1" r="4.3"/>
<circle cx="300.5" cy="2227.9" r="4.3"/>
<circle cx="256.4" cy="2301.5" r="4.3"/>
<circle cx="286.1" cy="2254.4" r="4.3"/>
<circle cx="283.2" cy="2263.7" r="4.3"/>
<circle cx="304.9" cy="2118.6" r="4.3"/>
<circle cx="292.4" cy="2269.2" r="4.3"/>
<circle cx="310.6" cy="2204.0" r="4.3"/>
<circle cx="292.8" cy="2288.1" r="4.3"/>
<circle cx="272.3" cy="2139.6" r="4.3"/>
<circle cx="307.9" cy="2172.8" r="4.3"/>
<circle cx="257.2" cy="2061.3" r="4.3"/>
<circle cx="292.9" cy="2316.3" r="4.3"/>
<circle cx="259.0" cy="2166.3" r="4.3"/>
<circle cx="263.2" cy="2264.6" r="4.3"/>
<circle cx="275.4" cy="2258.2" r="4.3"/>
<circle cx="282.1" cy="2251.6" r="4.3"/>
<circle cx="255.7" cy="2354.9" r="4.3"/>
<circle cx="276.5" cy="2162.1" r="4.3"/>
<circle cx="284.3" cy="2238.1" r="4.3"/>
<circle cx="269.0" cy="2350.0" r="4.3"/>
<circle cx="276.6" cy="2206.1" r="4.3"/>
<circle cx="298.6" cy="2347.2" r="4.3"/>
<circle cx="263.8" cy="2283.5" r="4.3"/>
<circle cx="270.8" cy="2223.2" r="4.3"/>
<circle cx="268.9" cy="2267.0" r="4.3"/>
<circle cx="267.3" cy="2366.0" r="4.3"/>
<circle cx="254.8" cy="2234.2" r="4.3"/>
<circle cx="309.1" cy="2286.4" r="4.3"/>
<circle cx="282.6" cy="2283.5" r="4.3"/>
<circle cx="271.9" cy="2332.4" r="4.3"/>
<circle cx="304.6" cy="2326.8" r="4.3"/>
<circle cx="253.9" cy="2058.8" r="4.3"/>
<circle cx="258.8" cy="2238.1" r="4.3"/>
<circle cx="253.7" cy="2241.9" r="4.3"/>
<circle cx="254.4" cy="2194.8" r="4.3"/>
<circle cx="252.7" cy="2283.1" r="4.3"/>
<circle cx="288.5" cy="2334.8" r="4.3"/>
<circle cx="294.9" cy="2237.5" r="4.3"/>
<circle cx="273.5" cy="2278.9" r="4.3"/>
<circle cx="307.4" cy="2279.2" r="4.3"/>
<circle cx="297.2" cy="2356.4" r="4.3"/>
<circle cx="310.9" cy="2275.7" r="4.3"/>
<circle cx="297.9" cy="2372.3" r="4.3"/>
<circle cx="283.4" cy="2152.9" r="4.3"/>
<circle cx="255.9" cy="2284.8" r="4.3"/>
<circle cx="259.6" cy="2212.1" r="4.3"/>
<circle cx="271.9" cy="2241.7" r="4.3"/>
<circle cx="260.6" cy="2271.9" r="4.3"/>
<circle cx="290.2" cy="2292.1" r="4.3"/>
<circle cx="256.7" cy="2384.4" r="4.3"/>
<circle cx="284.6" cy="2226.7" r="4.3"/>
<circle cx="274.0" cy="2352.1" r="4.3"/>
<circle cx="275.2" cy="2314.5" r="4.3"/>
<circle cx="257.2" cy="2110.2" r="4.3"/>
<circle cx="295.0" cy="2284.6" r="4.3"/>
<circle cx="297.7" cy="2287.3" r="4.3"/>
<circle cx="271.4" cy="2218.4" r="4.3"/>
<circle cx="274.8" cy="2306.6" r="4.3"/>
<circle cx="293.5" cy="2286.1" r="4.3"/>
<circle cx="260.4" cy="2298.6" r="4.3"/>
<circle cx="288.9" cy="2217.0" r="4.3"/>
<circle cx="272.8" cy="2360.7" r="4.3"/>
<circle cx="293.9" cy="2283.6" r="4.3"/>
<circle cx="290.1" cy="2049.3" r="4.3"/>
<circle cx="271.0" cy="2229.9" r="4.3"/>
<circle cx="269.1" cy="2265.0" r="4.3"/>
<circle cx="275.7" cy="2302.4" r="4.3"/>
<circle cx="270.1" cy="2391.4" r="4.3"/>
<circle cx="297.4" cy="2149.1" r="4.3"/>
<circle cx="299.3" cy="2142.6" r="4.3"/>
<circle cx="281.8" cy="2084.4" r="4.3"/>
<circle cx="266.6" cy="2264.1" r="4.3"/>
<circle cx="281.7" cy="2240.6" r="4.3"/>
<circle cx="297.2" cy="2302.5" r="4.3"/>
<circle cx="284.8" cy="2180.7" r="4.3"/>
<circle cx="253.5" cy="2242.9" r="4.3"/>
<circle cx="257.8" cy="2300.8" r="4.3"/>
<circle cx="275.3" cy="2301.2" r="4.3"/>
<circle cx="302.3" cy="2288.5" r="4.3"/>
<circle cx="277.8" cy="2223.0" r="4.3"/>
<circle cx="289.4" cy="2197.9" r="4.3"/>
<circle cx="285.9" cy="2350.6" r="4.3"/>
<circle cx="257.4" cy="2137.2" r="4.3"/>
<circle cx="280.8" cy="2202.4" r="4.3"/>
<circle cx="278.1" cy="2187.9" r="4.3"/>
<circle cx="279.6" cy="2323.4" r="4.3"/>
<circle cx="306.3" cy="2338.0" r="4.3"/>
<circle cx="270.3" cy="2207.3" r="4.3"/>
<circle cx="310.3" cy="2129.6" r="4.3"/>
<circle cx="280.4" cy="2290.5" r="4.3"/>
<circle cx="280.8" cy="2351.9" r="4.3"/>
<circle cx="294.6" cy="2294.6" r="4.3"/>
<circle cx="280.7" cy="2177.7" r="4.3"/>
<circle cx="256.1" cy="2182.1" r="4.3"/>
<circle cx="285.8" cy="2314.6" r="4.3"/>
<circle cx="257.7" cy="2334.6" r="4.3"/>
<circle cx="307.4" cy="2261.0" r="4.3"/>
<circle cx="271.0" cy="2295.8" r="4.3"/>
<circle cx="307.7" cy="2173.4" r="4.3"/>
<circle cx="283.2" cy="2267.0" r="4.3"/>
<circle cx="298.7" cy="2316.4" r="4.3"/>
<circle cx="282.5" cy="2273.8" r="4.3"/>
<circle cx="265.0" cy="2317.3" r="4.3"/>
<circle cx="311.4" cy="2214.9" r="4.3"/>
</g>
<g fill="#F8B7B0" stroke="#000" stroke-width="1.1">
<circle cx="398.8" cy="2406.6" r="4.3"/>
<circle cx="425.3" cy="2068.5" r="4.3"/>
<circle cx="440.5" cy="2180.6" r="4.3"/>
<circle cx="418.3" cy="2289.9" r="4.3"/>
<circle cx="435.5" cy="2221.9" r="4.3"/>
<circle cx="390.2" cy="2260.5" r="4.3"/>
<circle cx="389.1" cy="2148.7" r="4.3"/>
<circle cx="405.4" cy="2244.0" r="4.3"/>
<circle cx="391.5" cy="2079.1" r="4.3"/>
<circle cx="442.4" cy="2302.1" r="4.3"/>
<circle cx="393.8" cy="2337.3" r="4.3"/>
<circle cx="413.1" cy="2280.5" r="4.3"/>
<circle cx="388.2" cy="2197.6" r="4.3"/>
<circle cx="386.3" cy="2248.2" r="4.3"/>
<circle cx="428.3" cy="2131.2" r="4.3"/>
<circle cx="423.2" cy="2077.4" r="4.3"/>
<circle cx="406.8" cy="2132.3" r="4.3"/>
<circle cx="432.7" cy="2322.4" r="4.3"/>
<circle cx="426.8" cy="2239.7" r="4.3"/>
<circle cx="414.7" cy="2212.7" r="4.3"/>
<circle cx="429.2" cy="2134.1" r="4.3"/>
<circle cx="420.5" cy="2326.7" r="4.3"/>
<circle cx="388.7" cy="2235.8" r="4.3"/>
<circle cx="398.6" cy="2357.6" r="4.3"/>
<circle cx="415.4" cy="2208.3" r="4.3"/>
<circle cx="401.7" cy="2242.6" r="4.3"/>
<circle cx="416.8" cy="2332.2" r="4.3"/>
<circle cx="423.0" cy="2335.9" r="4.3"/>
<circle cx="401.8" cy="2250.7" r="4.3"/>
<circle cx="418.8" cy="2255.6" r="4.3"/>
<circle cx="400.6" cy="2248.4" r="4.3"/>
<circle cx="423.8" cy="2097.2" r="4.3"/>
<circle cx="384.5" cy="2095.7" r="4.3"/>
<circle cx="441.0" cy="2290.3" r="4.3"/>
<circle cx="415.3" cy="2348.8" r="4.3"/>
<circle cx="406.0" cy="2291.1" r="4.3"/>
<circle cx="409.7" cy="2185.0" r="4.3"/>
<circle cx="393.5" cy="2297.2" r="4.3"/>
<circle cx="438.0" cy="2327.8" r="4.3"/>
<circle cx="412.3" cy="2237.3" r="4.3"/>
<circle cx="413.0" cy="2220.6" r="4.3"/>
<circle cx="391.0" cy="2319.3" r="4.3"/>
<circle cx="413.3" cy="2355.7" r="4.3"/>
<circle cx="399.8" cy="2322.0" r="4.3"/>
<circle cx="410.3" cy="2303.6" r="4.3"/>
<circle cx="425.3" cy="2277.7" r="4.3"/>
<circle cx="426.2" cy="2244.4" r="4.3"/>
<circle cx="398.5" cy="2137.1" r="4.3"/>
<circle cx="412.8" cy="2279.9" r="4.3"/>
<circle cx="435.9" cy="2231.8" r="4.3"/>
<circle cx="418.7" cy="2226.4" r="4.3"/>
<circle cx="399.4" cy="2293.0" r="4.3"/>
<circle cx="393.3" cy="2245.8" r="4.3"/>
<circle cx="393.9" cy="2091.6" r="4.3"/>
<circle cx="404.4" cy="2073.8" r="4.3"/>
<circle cx="393.3" cy="2266.9" r="4.3"/>
<circle cx="430.2" cy="2180.5" r="4.3"/>
<circle cx="439.9" cy="2282.7" r="4.3"/>
<circle cx="442.4" cy="2189.0" r="4.3"/>
<circle cx="425.2" cy="2274.8" r="4.3"/>
<circle cx="413.6" cy="2197.7" r="4.3"/>
<circle cx="431.1" cy="2347.6" r="4.3"/>
<circle cx="409.7" cy="2312.5" r="4.3"/>
<circle cx="385.9" cy="2232.9" r="4.3"/>
<circle cx="441.0" cy="2308.1" r="4.3"/>
<circle cx="389.7" cy="2289.7" r="4.3"/>
<circle cx="386.8" cy="2223.8" r="4.3"/>
<circle cx="428.5" cy="2290.4" r="4.3"/>
<circle cx="415.8" cy="2285.6" r="4.3"/>
<circle cx="421.1" cy="2182.2" r="4.3"/>
<circle cx="421.5" cy="2334.8" r="4.3"/>
<circle cx="410.0" cy="2365.9" r="4.3"/>
<circle cx="388.0" cy="2177.8" r="4.3"/>
<circle cx="415.4" cy="2143.4" r="4.3"/>
<circle cx="441.9" cy="2223.6" r="4.3"/>
<circle cx="415.2" cy="2233.2" r="4.3"/>
<circle cx="435.2" cy="2148.8" r="4.3"/>
<circle cx="435.9" cy="2249.6" r="4.3"/>
<circle cx="424.8" cy="2335.6" r="4.3"/>
<circle cx="395.8" cy="2275.2" r="4.3"/>
<circle cx="439.1" cy="2264.2" r="4.3"/>
<circle cx="431.7" cy="2168.7" r="4.3"/>
<circle cx="430.6" cy="2236.0" r="4.3"/>
<circle cx="388.1" cy="2352.7" r="4.3"/>
<circle cx="435.4" cy="2227.1" r="4.3"/>
<circle cx="421.1" cy="2173.0" r="4.3"/>
<circle cx="419.6" cy="2345.8" r="4.3"/>
<circle cx="389.4" cy="2134.7" r="4.3"/>
<circle cx="430.1" cy="2353.2" r="4.3"/>
<circle cx="428.2" cy="2220.3" r="4.3"/>
<circle cx="399.5" cy="2276.7" r="4.3"/>
<circle cx="392.0" cy="2254.1" r="4.3"/>
<circle cx="424.2" cy="2318.9" r="4.3"/>
<circle cx="395.3" cy="2319.6" r="4.3"/>
<circle cx="408.5" cy="2292.8" r="4.3"/>
<circle cx="427.3" cy="2191.0" r="4.3"/>
<circle cx="413.0" cy="2175.2" r="4.3"/>
<circle cx="429.4" cy="2193.4" r="4.3"/>
<circle cx="393.8" cy="2282.2" r="4.3"/>
<circle cx="434.2" cy="2281.4" r="4.3"/>
<circle cx="416.8" cy="2263.3" r="4.3"/>
<circle cx="415.5" cy="2324.0" r="4.3"/>
<circle cx="390.3" cy="2273.2" r="4.3"/>
<circle cx="416.7" cy="2246.8" r="4.3"/>
<circle cx="407.3" cy="2290.7" r="4.3"/>
<circle cx="437.6" cy="2321.3" r="4.3"/>
<circle cx="392.3" cy="2344.1" r="4.3"/>
<circle cx="416.0" cy="2262.1" r="4.3"/>
<circle cx="411.0" cy="2249.8" r="4.3"/>
<circle cx="439.8" cy="2288.1" r="4.3"/>
<circle cx="434.8" cy="2395.2" r="4.3"/>
<circle cx="412.6" cy="2259.2" r="4.3"/>
<circle cx="434.8" cy="2114.3" r="4.3"/>
<circle cx="417.0" cy="2241.5" r="4.3"/>
<circle cx="390.8" cy="2258.1" r="4.3"/>
<circle cx="389.6" cy="2262.1" r="4.3"/>
<circle cx="407.6" cy="2283.3" r="4.3"/>
<circle cx="438.3" cy="2239.3" r="4.3"/>
<circle cx="428.5" cy="2314.6" r="4.3"/>
<circle cx="437.0" cy="2148.1" r="4.3"/>
<circle cx="440.0" cy="2262.1" r="4.3"/>
<circle cx="427.8" cy="2225.7" r="4.3"/>
<circle cx="407.2" cy="2353.3" r="4.3"/>
<circle cx="399.3" cy="2276.8" r="4.3"/>
<circle cx="429.8" cy="2325.4" r="4.3"/>
<circle cx="431.0" cy="2316.2" r="4.3"/>
<circle cx="440.2" cy="2230.7" r="4.3"/>
<circle cx="421.3" cy="2227.2" r="4.3"/>
<circle cx="435.3" cy="2232.1" r="4.3"/>
<circle cx="399.8" cy="2284.0" r="4.3"/>
<circle cx="400.4" cy="2166.7" r="4.3"/>
<circle cx="410.7" cy="2197.6" r="4.3"/>
<circle cx="392.7" cy="2238.5" r="4.3"/>
<circle cx="434.1" cy="2275.2" r="4.3"/>
<circle cx="431.7" cy="2209.6" r="4.3"/>
<circle cx="437.3" cy="2296.7" r="4.3"/>
<circle cx="394.1" cy="2304.1" r="4.3"/>
<circle cx="422.5" cy="2372.8" r="4.3"/>
<circle cx="385.4" cy="2208.5" r="4.3"/>
<circle cx="389.8" cy="2322.8" r="4.3"/>
<circle cx="415.4" cy="2283.0" r="4.3"/>
<circle cx="425.8" cy="2257.8" r="4.3"/>
<circle cx="422.3" cy="2258.4" r="4.3"/>
<circle cx="390.5" cy="2190.2" r="4.3"/>
<circle cx="403.1" cy="2330.5" r="4.3"/>
<circle cx="413.2" cy="2233.8" r="4.3"/>
<circle cx="384.3" cy="2251.1" r="4.3"/>
<circle cx="418.3" cy="2306.5" r="4.3"/>
<circle cx="413.2" cy="2287.2" r="4.3"/>
<circle cx="416.6" cy="2272.2" r="4.3"/>
<circle cx="442.6" cy="2334.0" r="4.3"/>
<circle cx="410.5" cy="2359.6" r="4.3"/>
<circle cx="440.8" cy="2324.3" r="4.3"/>
<circle cx="418.3" cy="2270.7" r="4.3"/>
<circle cx="410.6" cy="2166.3" r="4.3"/>
<circle cx="395.5" cy="2290.2" r="4.3"/>
<circle cx="432.1" cy="2182.2" r="4.3"/>
<circle cx="402.5" cy="2154.6" r="4.3"/>
<circle cx="400.2" cy="2306.3" r="4.3"/>
<circle cx="406.1" cy="2181.3" r="4.3"/>
<circle cx="413.8" cy="2259.9" r="4.3"/>
<circle cx="405.4" cy="2251.5" r="4.3"/>
<circle cx="430.0" cy="2198.0" r="4.3"/>
<circle cx="396.5" cy="2256.4" r="4.3"/>
<circle cx="397.4" cy="2230.7" r="4.3"/>
<circle cx="420.4" cy="2326.8" r="4.3"/>
<circle cx="385.1" cy="2353.8" r="4.3"/>
<circle cx="404.8" cy="2171.8" r="4.3"/>
<circle cx="432.8" cy="2249.9" r="4.3"/>
<circle cx="439.1" cy="2359.6" r="4.3"/>
<circle cx="423.4" cy="2203.7" r="4.3"/>
<circle cx="395.1" cy="2203.8" r="4.3"/>
</g>
<line x1="203.7" y1="2023.3" x2="203.7" y2="2435.6" stroke="#000" stroke-width="1.4"/>
<line x1="203" y1="2434.9" x2="491.7" y2="2434.9" stroke="#000" stroke-width="1.4"/>
<line x1="195.2" y1="2047.6" x2="203.7" y2="2047.6" stroke="#333" stroke-width="1.2"/>
<text x="191.2" y="2054.6" font-size="20" text-anchor="end" fill="#4D4D4D">2000</text>
<line x1="195.2" y1="2145.2" x2="203.7" y2="2145.2" stroke="#333" stroke-width="1.2"/>
<text x="191.2" y="2152.2" font-size="20" text-anchor="end" fill="#4D4D4D">1000</text>
<line x1="195.2" y1="2242.8" x2="203.7" y2="2242.8" stroke="#333" stroke-width="1.2"/>
<text x="191.2" y="2249.8" font-size="20" text-anchor="end" fill="#4D4D4D">0</text>
<line x1="195.2" y1="2340.4" x2="203.7" y2="2340.4" stroke="#333" stroke-width="1.2"/>
<text x="191.2" y="2347.4" font-size="20" text-anchor="end" fill="#4D4D4D">−1000</text>
<line x1="282.1" y1="2434.9" x2="282.1" y2="2443.5" stroke="#333" stroke-width="1.2"/>
<text x="282.1" y="2462.5" font-size="19.8" text-anchor="end" fill="#000">HRisk</text>
<line x1="413.3" y1="2434.9" x2="413.3" y2="2443.5" stroke="#333" stroke-width="1.2"/>
<text x="413.3" y="2462.5" font-size="19.8" text-anchor="end" fill="#000">LRisk</text>
<text transform="translate(125.4 2229) rotate(-90)" font-size="20.1" text-anchor="middle" fill="#000">StromalScore</text>
<text x="327.3" y="2416.2" font-size="18.3" text-anchor="middle" fill="#000">Wilcoxon, p = 0.46</text>
<path d="M693.2 2398.73 L694.82 2395.99 L696.41 2393.26 L697.95 2390.52 L699.44 2387.79 L700.87 2385.05 L702.26 2382.32 L703.58 2379.58 L704.84 2376.85 L706.07 2374.11 L707.27 2371.38 L708.47 2368.64 L709.68 2365.91 L710.91 2363.17 L712.13 2360.44 L713.34 2357.7 L714.55 2354.97 L715.77 2352.23 L716.99 2349.5 L718.22 2346.76 L719.48 2344.03 L720.75 2341.29 L722.03 2338.56 L723.29 2335.82 L724.53 2333.08 L725.72 2330.35 L726.86 2327.61 L727.96 2324.88 L729.04 2322.14 L730.09 2319.41 L731.15 2316.67 L732.21 2313.94 L733.31 2311.2 L734.51 2308.47 L735.77 2305.73 L737.02 2303 L738.19 2300.26 L739.19 2297.53 L739.95 2294.79 L740.54 2292.06 L741.12 2289.32 L741.64 2286.59 L742.08 2283.85 L742.4 2281.12 L742.58 2278.38 L742.58 2275.65 L742.47 2272.91 L742.26 2270.18 L741.98 2267.44 L741.64 2264.71 L741.27 2261.97 L740.89 2259.23 L740.43 2256.5 L739.83 2253.76 L739.13 2251.03 L738.35 2248.29 L737.54 2245.56 L736.72 2242.82 L735.9 2240.09 L735.05 2237.35 L734.16 2234.62 L733.22 2231.88 L732.24 2229.15 L731.22 2226.41 L730.17 2223.68 L729.05 2220.94 L727.86 2218.21 L726.61 2215.47 L725.33 2212.74 L724.03 2210 L722.72 2207.27 L721.39 2204.53 L719.95 2201.8 L718.46 2199.06 L716.99 2196.33 L715.58 2193.59 L714.31 2190.86 L713.23 2188.12 L712.24 2185.38 L711.31 2182.65 L710.44 2179.91 L709.64 2177.18 L708.93 2174.44 L708.32 2171.71 L707.8 2168.97 L707.33 2166.24 L706.91 2163.5 L706.52 2160.77 L706.16 2158.03 L705.82 2155.3 L705.49 2152.56 L705.19 2149.83 L704.91 2147.09 L704.66 2144.36 L704.42 2141.62 L704.17 2138.89 L703.92 2136.15 L703.65 2133.42 L703.35 2130.68 L703.02 2127.95 L702.65 2125.21 L702.23 2122.48 L701.77 2119.74 L701.28 2117.01 L700.74 2114.27 L700.18 2111.53 L699.58 2108.8 L698.95 2106.06 L698.29 2103.33 L697.61 2100.59 L696.88 2097.86 L696.08 2095.12 L695.23 2092.39 L694.32 2089.65 L693.36 2086.92 L692.35 2084.18 L691.3 2081.45 L690.2 2078.71 L689.07 2075.98 L687.9 2073.24 L678.1 2073.24 L676.93 2075.98 L675.8 2078.71 L674.7 2081.45 L673.65 2084.18 L672.64 2086.92 L671.68 2089.65 L670.77 2092.39 L669.92 2095.12 L669.12 2097.86 L668.39 2100.59 L667.71 2103.33 L667.05 2106.06 L666.42 2108.8 L665.82 2111.53 L665.26 2114.27 L664.72 2117.01 L664.23 2119.74 L663.77 2122.48 L663.35 2125.21 L662.98 2127.95 L662.65 2130.68 L662.35 2133.42 L662.08 2136.15 L661.83 2138.89 L661.58 2141.62 L661.34 2144.36 L661.09 2147.09 L660.81 2149.83 L660.51 2152.56 L660.18 2155.3 L659.84 2158.03 L659.48 2160.77 L659.09 2163.5 L658.67 2166.24 L658.2 2168.97 L657.68 2171.71 L657.07 2174.44 L656.36 2177.18 L655.56 2179.91 L654.69 2182.65 L653.76 2185.38 L652.77 2188.12 L651.69 2190.86 L650.42 2193.59 L649.01 2196.33 L647.54 2199.06 L646.05 2201.8 L644.61 2204.53 L643.28 2207.27 L641.97 2210 L640.67 2212.74 L639.39 2215.47 L638.14 2218.21 L636.95 2220.94 L635.83 2223.68 L634.78 2226.41 L633.76 2229.15 L632.78 2231.88 L631.84 2234.62 L630.95 2237.35 L630.1 2240.09 L629.28 2242.82 L628.46 2245.56 L627.65 2248.29 L626.87 2251.03 L626.17 2253.76 L625.57 2256.5 L625.11 2259.23 L624.73 2261.97 L624.36 2264.71 L624.02 2267.44 L623.74 2270.18 L623.53 2272.91 L623.42 2275.65 L623.42 2278.38 L623.6 2281.12 L623.92 2283.85 L624.36 2286.59 L624.88 2289.32 L625.46 2292.06 L626.05 2294.79 L626.81 2297.53 L627.81 2300.26 L628.98 2303 L630.23 2305.73 L631.49 2308.47 L632.69 2311.2 L633.79 2313.94 L634.85 2316.67 L635.91 2319.41 L636.96 2322.14 L638.04 2324.88 L639.14 2327.61 L640.28 2330.35 L641.47 2333.08 L642.71 2335.82 L643.97 2338.56 L645.25 2341.29 L646.52 2344.03 L647.78 2346.76 L649.01 2349.5 L650.23 2352.23 L651.45 2354.97 L652.66 2357.7 L653.87 2360.44 L655.09 2363.17 L656.32 2365.91 L657.53 2368.64 L658.73 2371.38 L659.93 2374.11 L661.16 2376.85 L662.42 2379.58 L663.74 2382.32 L665.13 2385.05 L666.56 2387.79 L668.05 2390.52 L669.59 2393.26 L671.18 2395.99 L672.8 2398.73Z" fill="#E4EEF9" stroke="#000" stroke-width="2.7" stroke-linejoin="round"/>
<line x1="683" y1="2209.87" x2="683" y2="2073.24" stroke="#000" stroke-width="2.7"/>
<line x1="683" y1="2307.84" x2="683" y2="2398.73" stroke="#000" stroke-width="2.7"/>
<path d="M633.7 2209.87 L732.3 2209.87 L732.3 2252.78 L707.65 2264.62 L732.3 2276.46 L732.3 2307.84 L633.7 2307.84 L633.7 2276.46 L658.35 2264.62 L633.7 2252.78Z" fill="#C6DBEF" stroke="#000" stroke-width="2.7" fill-opacity="0.82" stroke-linejoin="miter"/>
<line x1="658.35" y1="2264.62" x2="707.65" y2="2264.62" stroke="#000" stroke-width="4.2"/>
<path d="M817.7 2412.78 L818.52 2409.66 L819.38 2406.54 L820.28 2403.42 L821.22 2400.3 L822.21 2397.18 L823.23 2394.06 L824.3 2390.94 L825.41 2387.82 L826.58 2384.7 L827.81 2381.58 L829.16 2378.46 L830.61 2375.35 L832.09 2372.23 L833.56 2369.11 L834.96 2365.99 L836.28 2362.87 L837.59 2359.75 L838.86 2356.63 L840.09 2353.51 L841.27 2350.39 L842.37 2347.27 L843.42 2344.15 L844.44 2341.03 L845.41 2337.91 L846.32 2334.79 L847.16 2331.67 L847.92 2328.55 L848.6 2325.43 L849.21 2322.31 L849.79 2319.19 L850.39 2316.07 L851.03 2312.95 L851.74 2309.84 L852.47 2306.72 L853.24 2303.6 L854.03 2300.48 L854.85 2297.36 L855.69 2294.24 L856.59 2291.12 L857.55 2288 L858.54 2284.88 L859.52 2281.76 L860.45 2278.64 L861.32 2275.52 L862.21 2272.4 L863.09 2269.28 L863.92 2266.16 L864.64 2263.04 L865.21 2259.92 L865.65 2256.8 L866.07 2253.68 L866.45 2250.56 L866.75 2247.44 L866.95 2244.33 L867 2241.21 L866.95 2238.09 L866.84 2234.97 L866.68 2231.85 L866.5 2228.73 L866.3 2225.61 L866.09 2222.49 L865.83 2219.37 L865.5 2216.25 L865.15 2213.13 L864.79 2210.01 L864.45 2206.89 L864.14 2203.77 L863.84 2200.65 L863.53 2197.53 L863.22 2194.41 L862.88 2191.29 L862.52 2188.17 L862.13 2185.05 L861.72 2181.93 L861.27 2178.82 L860.79 2175.7 L860.26 2172.58 L859.68 2169.46 L859.01 2166.34 L858.27 2163.22 L857.46 2160.1 L856.61 2156.98 L855.71 2153.86 L854.77 2150.74 L853.75 2147.62 L852.67 2144.5 L851.53 2141.38 L850.34 2138.26 L849.12 2135.14 L847.82 2132.02 L846.44 2128.9 L845 2125.78 L843.55 2122.66 L842.11 2119.54 L840.68 2116.42 L839.19 2113.3 L837.69 2110.19 L836.21 2107.07 L834.83 2103.95 L833.59 2100.83 L832.52 2097.71 L831.54 2094.59 L830.64 2091.47 L829.76 2088.35 L828.87 2085.23 L827.95 2082.11 L826.97 2078.99 L825.97 2075.87 L824.99 2072.75 L824.05 2069.63 L823.2 2066.51 L822.45 2063.39 L821.74 2060.27 L821.05 2057.15 L820.41 2054.03 L819.8 2050.91 L819.25 2047.79 L818.74 2044.68 L818.3 2041.56 L810.3 2041.56 L809.86 2044.68 L809.35 2047.79 L808.8 2050.91 L808.19 2054.03 L807.55 2057.15 L806.86 2060.27 L806.15 2063.39 L805.4 2066.51 L804.55 2069.63 L803.61 2072.75 L802.63 2075.87 L801.63 2078.99 L800.65 2082.11 L799.73 2085.23 L798.84 2088.35 L797.96 2091.47 L797.06 2094.59 L796.08 2097.71 L795.01 2100.83 L793.77 2103.95 L792.39 2107.07 L790.91 2110.19 L789.41 2113.3 L787.92 2116.42 L786.49 2119.54 L785.05 2122.66 L783.6 2125.78 L782.16 2128.9 L780.78 2132.02 L779.48 2135.14 L778.26 2138.26 L777.07 2141.38 L775.93 2144.5 L774.85 2147.62 L773.83 2150.74 L772.89 2153.86 L771.99 2156.98 L771.14 2160.1 L770.33 2163.22 L769.59 2166.34 L768.92 2169.46 L768.34 2172.58 L767.81 2175.7 L767.33 2178.82 L766.88 2181.93 L766.47 2185.05 L766.08 2188.17 L765.72 2191.29 L765.38 2194.41 L765.07 2197.53 L764.76 2200.65 L764.46 2203.77 L764.15 2206.89 L763.81 2210.01 L763.45 2213.13 L763.1 2216.25 L762.77 2219.37 L762.51 2222.49 L762.3 2225.61 L762.1 2228.73 L761.92 2231.85 L761.76 2234.97 L761.65 2238.09 L761.6 2241.21 L761.65 2244.33 L761.85 2247.44 L762.15 2250.56 L762.53 2253.68 L762.95 2256.8 L763.39 2259.92 L763.96 2263.04 L764.68 2266.16 L765.51 2269.28 L766.39 2272.4 L767.28 2275.52 L768.15 2278.64 L769.08 2281.76 L770.06 2284.88 L771.05 2288 L772.01 2291.12 L772.91 2294.24 L773.75 2297.36 L774.57 2300.48 L775.36 2303.6 L776.13 2306.72 L776.86 2309.84 L777.57 2312.95 L778.21 2316.07 L778.81 2319.19 L779.39 2322.31 L780 2325.43 L780.68 2328.55 L781.44 2331.67 L782.28 2334.79 L783.19 2337.91 L784.16 2341.03 L785.18 2344.15 L786.23 2347.27 L787.33 2350.39 L788.51 2353.51 L789.74 2356.63 L791.01 2359.75 L792.32 2362.87 L793.64 2365.99 L795.04 2369.11 L796.51 2372.23 L797.99 2375.35 L799.44 2378.46 L800.79 2381.58 L802.02 2384.7 L803.19 2387.82 L804.3 2390.94 L805.37 2394.06 L806.39 2397.18 L807.38 2400.3 L808.32 2403.42 L809.22 2406.54 L810.08 2409.66 L810.9 2412.78Z" fill="#FDE3E0" stroke="#000" stroke-width="2.7" stroke-linejoin="round"/>
<line x1="814.3" y1="2165.01" x2="814.3" y2="2047.18" stroke="#000" stroke-width="2.7"/>
<line x1="814.3" y1="2278.67" x2="814.3" y2="2409.58" stroke="#000" stroke-width="2.7"/>
<path d="M765 2165.01 L863.6 2165.01 L863.6 2213.91 L838.95 2227.6 L863.6 2241.3 L863.6 2278.67 L765 2278.67 L765 2241.3 L789.65 2227.6 L765 2213.91Z" fill="#FBC1BC" stroke="#000" stroke-width="2.7" fill-opacity="0.82" stroke-linejoin="miter"/>
<line x1="789.65" y1="2227.6" x2="838.95" y2="2227.6" stroke="#000" stroke-width="4.2"/>
<g fill="#BDD7EE" stroke="#000" stroke-width="1.1">
<circle cx="708.5" cy="2398.7" r="4.3"/>
<circle cx="701.0" cy="2073.2" r="4.3"/>
<circle cx="704.7" cy="2327.8" r="4.3"/>
<circle cx="698.2" cy="2165.8" r="4.3"/>
<circle cx="662.0" cy="2167.0" r="4.3"/>
<circle cx="672.3" cy="2350.1" r="4.3"/>
<circle cx="660.0" cy="2303.4" r="4.3"/>
<circle cx="691.6" cy="2229.5" r="4.3"/>
<circle cx="699.2" cy="2220.0" r="4.3"/>
<circle cx="668.2" cy="2274.6" r="4.3"/>
<circle cx="685.7" cy="2266.5" r="4.3"/>
<circle cx="656.2" cy="2209.9" r="4.3"/>
<circle cx="679.4" cy="2274.5" r="4.3"/>
<circle cx="655.2" cy="2112.4" r="4.3"/>
<circle cx="665.0" cy="2299.3" r="4.3"/>
<circle cx="691.3" cy="2347.5" r="4.3"/>
<circle cx="709.2" cy="2311.1" r="4.3"/>
<circle cx="701.3" cy="2367.7" r="4.3"/>
<circle cx="693.0" cy="2134.6" r="4.3"/>
<circle cx="677.5" cy="2232.4" r="4.3"/>
<circle cx="660.2" cy="2324.3" r="4.3"/>
<circle cx="703.8" cy="2376.4" r="4.3"/>
<circle cx="697.3" cy="2171.9" r="4.3"/>
<circle cx="694.0" cy="2287.3" r="4.3"/>
<circle cx="667.0" cy="2321.1" r="4.3"/>
<circle cx="682.6" cy="2280.6" r="4.3"/>
<circle cx="671.4" cy="2332.8" r="4.3"/>
<circle cx="674.3" cy="2361.4" r="4.3"/>
<circle cx="691.9" cy="2384.4" r="4.3"/>
<circle cx="693.9" cy="2393.3" r="4.3"/>
<circle cx="672.8" cy="2239.1" r="4.3"/>
<circle cx="696.2" cy="2295.3" r="4.3"/>
<circle cx="665.8" cy="2310.3" r="4.3"/>
<circle cx="706.1" cy="2270.7" r="4.3"/>
<circle cx="683.4" cy="2236.4" r="4.3"/>
<circle cx="660.0" cy="2313.6" r="4.3"/>
<circle cx="669.3" cy="2342.4" r="4.3"/>
<circle cx="682.1" cy="2227.4" r="4.3"/>
<circle cx="672.3" cy="2305.3" r="4.3"/>
<circle cx="691.9" cy="2172.0" r="4.3"/>
<circle cx="685.8" cy="2260.7" r="4.3"/>
<circle cx="680.5" cy="2095.4" r="4.3"/>
<circle cx="696.3" cy="2328.0" r="4.3"/>
<circle cx="667.2" cy="2343.1" r="4.3"/>
<circle cx="667.8" cy="2333.9" r="4.3"/>
<circle cx="704.1" cy="2100.4" r="4.3"/>
<circle cx="677.8" cy="2224.7" r="4.3"/>
<circle cx="708.0" cy="2243.4" r="4.3"/>
<circle cx="710.4" cy="2292.9" r="4.3"/>
<circle cx="698.7" cy="2335.9" r="4.3"/>
<circle cx="656.2" cy="2385.8" r="4.3"/>
<circle cx="671.7" cy="2190.3" r="4.3"/>
<circle cx="700.8" cy="2269.3" r="4.3"/>
<circle cx="664.2" cy="2089.2" r="4.3"/>
<circle cx="710.9" cy="2388.5" r="4.3"/>
<circle cx="654.2" cy="2168.6" r="4.3"/>
<circle cx="705.0" cy="2332.4" r="4.3"/>
<circle cx="671.7" cy="2091.2" r="4.3"/>
<circle cx="682.7" cy="2335.9" r="4.3"/>
<circle cx="683.5" cy="2317.1" r="4.3"/>
<circle cx="656.8" cy="2269.7" r="4.3"/>
<circle cx="690.9" cy="2259.1" r="4.3"/>
<circle cx="688.5" cy="2332.5" r="4.3"/>
<circle cx="707.0" cy="2214.1" r="4.3"/>
<circle cx="674.4" cy="2142.4" r="4.3"/>
<circle cx="711.2" cy="2358.7" r="4.3"/>
<circle cx="656.3" cy="2330.1" r="4.3"/>
<circle cx="711.2" cy="2201.9" r="4.3"/>
<circle cx="709.4" cy="2365.9" r="4.3"/>
<circle cx="682.2" cy="2225.4" r="4.3"/>
<circle cx="708.4" cy="2210.1" r="4.3"/>
<circle cx="670.0" cy="2147.7" r="4.3"/>
<circle cx="679.7" cy="2255.0" r="4.3"/>
<circle cx="670.1" cy="2287.5" r="4.3"/>
<circle cx="708.6" cy="2353.6" r="4.3"/>
<circle cx="663.4" cy="2307.8" r="4.3"/>
<circle cx="658.2" cy="2335.5" r="4.3"/>
<circle cx="654.3" cy="2260.0" r="4.3"/>
<circle cx="688.0" cy="2381.9" r="4.3"/>
<circle cx="698.2" cy="2204.9" r="4.3"/>
<circle cx="677.8" cy="2087.3" r="4.3"/>
<circle cx="662.9" cy="2337.5" r="4.3"/>
<circle cx="706.7" cy="2231.6" r="4.3"/>
<circle cx="709.1" cy="2149.1" r="4.3"/>
<circle cx="657.9" cy="2318.0" r="4.3"/>
<circle cx="659.8" cy="2140.7" r="4.3"/>
<circle cx="691.4" cy="2213.8" r="4.3"/>
<circle cx="675.2" cy="2205.0" r="4.3"/>
<circle cx="659.0" cy="2310.7" r="4.3"/>
<circle cx="689.8" cy="2219.3" r="4.3"/>
<circle cx="706.7" cy="2193.3" r="4.3"/>
<circle cx="670.4" cy="2147.9" r="4.3"/>
<circle cx="688.6" cy="2250.2" r="4.3"/>
<circle cx="699.3" cy="2351.8" r="4.3"/>
<circle cx="687.3" cy="2233.4" r="4.3"/>
<circle cx="677.5" cy="2281.7" r="4.3"/>
<circle cx="688.9" cy="2156.4" r="4.3"/>
<circle cx="663.0" cy="2291.7" r="4.3"/>
<circle cx="701.8" cy="2241.3" r="4.3"/>
<circle cx="668.8" cy="2254.7" r="4.3"/>
<circle cx="669.3" cy="2342.6" r="4.3"/>
<circle cx="667.1" cy="2212.2" r="4.3"/>
<circle cx="703.3" cy="2271.5" r="4.3"/>
<circle cx="693.8" cy="2257.2" r="4.3"/>
<circle cx="665.7" cy="2276.3" r="4.3"/>
<circle cx="709.1" cy="2380.3" r="4.3"/>
<circle cx="687.3" cy="2346.2" r="4.3"/>
<circle cx="670.8" cy="2260.9" r="4.3"/>
<circle cx="677.6" cy="2279.2" r="4.3"/>
<circle cx="676.3" cy="2278.6" r="4.3"/>
<circle cx="667.0" cy="2319.3" r="4.3"/>
<circle cx="695.8" cy="2248.6" r="4.3"/>
<circle cx="695.9" cy="2274.0" r="4.3"/>
<circle cx="701.9" cy="2261.0" r="4.3"/>
<circle cx="679.6" cy="2239.4" r="4.3"/>
<circle cx="711.6" cy="2099.9" r="4.3"/>
<circle cx="690.8" cy="2216.0" r="4.3"/>
<circle cx="657.8" cy="2238.7" r="4.3"/>
<circle cx="662.0" cy="2220.5" r="4.3"/>
<circle cx="675.4" cy="2307.9" r="4.3"/>
<circle cx="686.8" cy="2204.9" r="4.3"/>
<circle cx="661.6" cy="2311.0" r="4.3"/>
<circle cx="684.4" cy="2227.8" r="4.3"/>
<circle cx="712.3" cy="2318.1" r="4.3"/>
<circle cx="693.6" cy="2189.6" r="4.3"/>
<circle cx="692.0" cy="2291.5" r="4.3"/>
<circle cx="669.9" cy="2138.2" r="4.3"/>
<circle cx="661.2" cy="2191.6" r="4.3"/>
<circle cx="686.9" cy="2124.4" r="4.3"/>
<circle cx="682.5" cy="2202.3" r="4.3"/>
<circle cx="696.2" cy="2288.8" r="4.3"/>
<circle cx="712.2" cy="2325.9" r="4.3"/>
<circle cx="680.9" cy="2145.0" r="4.3"/>
<circle cx="657.9" cy="2369.4" r="4.3"/>
<circle cx="697.7" cy="2113.1" r="4.3"/>
<circle cx="655.9" cy="2333.3" r="4.3"/>
<circle cx="665.1" cy="2244.4" r="4.3"/>
<circle cx="702.6" cy="2260.2" r="4.3"/>
<circle cx="710.9" cy="2222.3" r="4.3"/>
<circle cx="664.8" cy="2337.4" r="4.3"/>
<circle cx="669.2" cy="2286.1" r="4.3"/>
<circle cx="709.0" cy="2246.6" r="4.3"/>
<circle cx="687.3" cy="2191.5" r="4.3"/>
<circle cx="704.1" cy="2246.4" r="4.3"/>
<circle cx="703.7" cy="2226.6" r="4.3"/>
<circle cx="659.9" cy="2309.3" r="4.3"/>
<circle cx="691.2" cy="2278.9" r="4.3"/>
<circle cx="703.2" cy="2238.6" r="4.3"/>
<circle cx="692.8" cy="2291.1" r="4.3"/>
<circle cx="690.8" cy="2192.7" r="4.3"/>
<circle cx="678.5" cy="2169.8" r="4.3"/>
<circle cx="676.8" cy="2389.6" r="4.3"/>
<circle cx="691.3" cy="2275.5" r="4.3"/>
<circle cx="660.0" cy="2317.1" r="4.3"/>
<circle cx="698.3" cy="2235.2" r="4.3"/>
<circle cx="685.7" cy="2143.0" r="4.3"/>
<circle cx="658.4" cy="2303.9" r="4.3"/>
<circle cx="682.7" cy="2293.9" r="4.3"/>
<circle cx="677.4" cy="2277.0" r="4.3"/>
<circle cx="663.1" cy="2262.5" r="4.3"/>
<circle cx="690.2" cy="2265.9" r="4.3"/>
<circle cx="684.8" cy="2264.1" r="4.3"/>
<circle cx="711.7" cy="2182.4" r="4.3"/>
<circle cx="663.2" cy="2295.4" r="4.3"/>
<circle cx="687.1" cy="2259.9" r="4.3"/>
<circle cx="658.7" cy="2326.0" r="4.3"/>
<circle cx="708.9" cy="2288.4" r="4.3"/>
<circle cx="696.1" cy="2270.1" r="4.3"/>
<circle cx="699.6" cy="2119.2" r="4.3"/>
<circle cx="675.1" cy="2207.2" r="4.3"/>
<circle cx="702.1" cy="2309.7" r="4.3"/>
</g>
<g fill="#F8B7B0" stroke="#000" stroke-width="1.1">
<circle cx="833.3" cy="2412.8" r="4.3"/>
<circle cx="788.7" cy="2041.6" r="4.3"/>
<circle cx="793.7" cy="2302.2" r="4.3"/>
<circle cx="787.4" cy="2332.0" r="4.3"/>
<circle cx="793.5" cy="2260.6" r="4.3"/>
<circle cx="790.4" cy="2170.5" r="4.3"/>
<circle cx="823.8" cy="2175.3" r="4.3"/>
<circle cx="833.9" cy="2251.8" r="4.3"/>
<circle cx="796.9" cy="2197.9" r="4.3"/>
<circle cx="837.4" cy="2150.8" r="4.3"/>
<circle cx="842.1" cy="2355.9" r="4.3"/>
<circle cx="824.1" cy="2223.2" r="4.3"/>
<circle cx="817.1" cy="2169.9" r="4.3"/>
<circle cx="811.2" cy="2150.5" r="4.3"/>
<circle cx="820.3" cy="2301.3" r="4.3"/>
<circle cx="797.8" cy="2235.7" r="4.3"/>
<circle cx="813.0" cy="2262.7" r="4.3"/>
<circle cx="837.1" cy="2288.0" r="4.3"/>
<circle cx="831.7" cy="2158.3" r="4.3"/>
<circle cx="790.7" cy="2218.1" r="4.3"/>
<circle cx="802.9" cy="2217.7" r="4.3"/>
<circle cx="788.4" cy="2287.9" r="4.3"/>
<circle cx="796.0" cy="2184.8" r="4.3"/>
<circle cx="821.2" cy="2358.7" r="4.3"/>
<circle cx="829.3" cy="2083.9" r="4.3"/>
<circle cx="831.2" cy="2231.9" r="4.3"/>
<circle cx="791.8" cy="2310.2" r="4.3"/>
<circle cx="829.4" cy="2240.6" r="4.3"/>
<circle cx="810.3" cy="2180.8" r="4.3"/>
<circle cx="838.2" cy="2150.7" r="4.3"/>
<circle cx="839.9" cy="2136.4" r="4.3"/>
<circle cx="824.5" cy="2167.5" r="4.3"/>
<circle cx="797.0" cy="2259.8" r="4.3"/>
<circle cx="787.2" cy="2279.7" r="4.3"/>
<circle cx="804.9" cy="2184.9" r="4.3"/>
<circle cx="823.9" cy="2241.3" r="4.3"/>
<circle cx="842.9" cy="2223.2" r="4.3"/>
<circle cx="808.7" cy="2138.5" r="4.3"/>
<circle cx="786.0" cy="2337.2" r="4.3"/>
<circle cx="798.9" cy="2366.0" r="4.3"/>
<circle cx="841.9" cy="2291.7" r="4.3"/>
<circle cx="828.0" cy="2255.0" r="4.3"/>
<circle cx="824.5" cy="2279.8" r="4.3"/>
<circle cx="827.4" cy="2127.4" r="4.3"/>
<circle cx="812.9" cy="2242.0" r="4.3"/>
<circle cx="792.5" cy="2265.9" r="4.3"/>
<circle cx="835.8" cy="2260.4" r="4.3"/>
<circle cx="834.5" cy="2206.3" r="4.3"/>
<circle cx="795.0" cy="2237.8" r="4.3"/>
<circle cx="793.5" cy="2333.6" r="4.3"/>
<circle cx="817.4" cy="2232.7" r="4.3"/>
<circle cx="818.9" cy="2173.0" r="4.3"/>
<circle cx="841.7" cy="2168.2" r="4.3"/>
<circle cx="822.5" cy="2073.6" r="4.3"/>
<circle cx="830.5" cy="2253.9" r="4.3"/>
<circle cx="788.6" cy="2145.6" r="4.3"/>
<circle cx="812.3" cy="2197.0" r="4.3"/>
<circle cx="788.3" cy="2352.6" r="4.3"/>
<circle cx="791.5" cy="2186.5" r="4.3"/>
<circle cx="807.8" cy="2068.1" r="4.3"/>
<circle cx="808.6" cy="2284.2" r="4.3"/>
<circle cx="804.9" cy="2254.7" r="4.3"/>
<circle cx="817.3" cy="2280.4" r="4.3"/>
<circle cx="830.1" cy="2177.8" r="4.3"/>
<circle cx="833.1" cy="2123.8" r="4.3"/>
<circle cx="824.0" cy="2289.2" r="4.3"/>
<circle cx="828.6" cy="2256.4" r="4.3"/>
<circle cx="790.2" cy="2160.0" r="4.3"/>
<circle cx="835.8" cy="2129.9" r="4.3"/>
<circle cx="818.7" cy="2080.6" r="4.3"/>
<circle cx="838.9" cy="2163.1" r="4.3"/>
<circle cx="804.5" cy="2179.1" r="4.3"/>
<circle cx="803.4" cy="2281.1" r="4.3"/>
<circle cx="803.1" cy="2287.1" r="4.3"/>
<circle cx="838.9" cy="2263.1" r="4.3"/>
<circle cx="808.9" cy="2175.0" r="4.3"/>
<circle cx="835.1" cy="2220.6" r="4.3"/>
<circle cx="826.5" cy="2246.1" r="4.3"/>
<circle cx="816.3" cy="2251.5" r="4.3"/>
<circle cx="831.0" cy="2203.3" r="4.3"/>
<circle cx="794.7" cy="2191.6" r="4.3"/>
<circle cx="831.3" cy="2218.1" r="4.3"/>
<circle cx="827.4" cy="2071.2" r="4.3"/>
<circle cx="818.1" cy="2118.9" r="4.3"/>
<circle cx="819.5" cy="2235.5" r="4.3"/>
<circle cx="803.5" cy="2273.8" r="4.3"/>
<circle cx="842.2" cy="2243.8" r="4.3"/>
<circle cx="785.8" cy="2349.7" r="4.3"/>
<circle cx="787.1" cy="2231.6" r="4.3"/>
<circle cx="825.8" cy="2330.0" r="4.3"/>
<circle cx="831.7" cy="2142.6" r="4.3"/>
<circle cx="833.9" cy="2253.5" r="4.3"/>
<circle cx="828.3" cy="2292.9" r="4.3"/>
<circle cx="839.8" cy="2245.2" r="4.3"/>
<circle cx="821.8" cy="2287.4" r="4.3"/>
<circle cx="789.2" cy="2336.6" r="4.3"/>
<circle cx="811.8" cy="2228.6" r="4.3"/>
<circle cx="824.2" cy="2243.5" r="4.3"/>
<circle cx="807.0" cy="2291.6" r="4.3"/>
<circle cx="802.0" cy="2265.9" r="4.3"/>
<circle cx="813.6" cy="2274.3" r="4.3"/>
<circle cx="821.6" cy="2133.7" r="4.3"/>
<circle cx="843.2" cy="2266.3" r="4.3"/>
<circle cx="813.0" cy="2265.9" r="4.3"/>
<circle cx="796.2" cy="2290.9" r="4.3"/>
<circle cx="841.7" cy="2159.8" r="4.3"/>
<circle cx="799.1" cy="2199.1" r="4.3"/>
<circle cx="840.1" cy="2171.0" r="4.3"/>
<circle cx="792.3" cy="2277.0" r="4.3"/>
<circle cx="793.1" cy="2315.8" r="4.3"/>
<circle cx="843.4" cy="2299.9" r="4.3"/>
<circle cx="807.7" cy="2147.5" r="4.3"/>
<circle cx="807.8" cy="2349.6" r="4.3"/>
<circle cx="809.2" cy="2067.6" r="4.3"/>
<circle cx="791.0" cy="2233.3" r="4.3"/>
<circle cx="835.1" cy="2195.5" r="4.3"/>
<circle cx="803.2" cy="2116.5" r="4.3"/>
<circle cx="803.7" cy="2152.9" r="4.3"/>
<circle cx="813.0" cy="2235.7" r="4.3"/>
<circle cx="833.1" cy="2343.8" r="4.3"/>
<circle cx="809.6" cy="2214.9" r="4.3"/>
<circle cx="790.3" cy="2247.1" r="4.3"/>
<circle cx="827.1" cy="2185.3" r="4.3"/>
<circle cx="825.1" cy="2318.1" r="4.3"/>
<circle cx="840.7" cy="2252.5" r="4.3"/>
<circle cx="803.0" cy="2313.3" r="4.3"/>
<circle cx="823.9" cy="2103.2" r="4.3"/>
<circle cx="818.4" cy="2243.9" r="4.3"/>
<circle cx="786.0" cy="2376.4" r="4.3"/>
<circle cx="795.5" cy="2361.6" r="4.3"/>
<circle cx="807.6" cy="2193.0" r="4.3"/>
<circle cx="839.6" cy="2282.2" r="4.3"/>
<circle cx="812.0" cy="2127.2" r="4.3"/>
<circle cx="831.8" cy="2233.2" r="4.3"/>
<circle cx="824.4" cy="2216.1" r="4.3"/>
<circle cx="813.7" cy="2210.9" r="4.3"/>
<circle cx="809.3" cy="2157.5" r="4.3"/>
<circle cx="810.1" cy="2228.2" r="4.3"/>
<circle cx="806.6" cy="2370.3" r="4.3"/>
<circle cx="809.2" cy="2148.5" r="4.3"/>
<circle cx="791.8" cy="2151.1" r="4.3"/>
<circle cx="803.0" cy="2340.7" r="4.3"/>
<circle cx="826.9" cy="2202.6" r="4.3"/>
<circle cx="801.5" cy="2311.9" r="4.3"/>
<circle cx="818.7" cy="2236.9" r="4.3"/>
<circle cx="799.9" cy="2264.9" r="4.3"/>
<circle cx="815.0" cy="2146.0" r="4.3"/>
<circle cx="791.1" cy="2261.7" r="4.3"/>
<circle cx="837.8" cy="2079.3" r="4.3"/>
<circle cx="825.2" cy="2084.6" r="4.3"/>
<circle cx="819.6" cy="2193.3" r="4.3"/>
<circle cx="821.2" cy="2190.5" r="4.3"/>
<circle cx="793.9" cy="2324.4" r="4.3"/>
<circle cx="834.1" cy="2319.8" r="4.3"/>
<circle cx="816.6" cy="2285.3" r="4.3"/>
<circle cx="791.8" cy="2241.2" r="4.3"/>
<circle cx="792.8" cy="2254.3" r="4.3"/>
<circle cx="794.6" cy="2305.6" r="4.3"/>
<circle cx="823.8" cy="2138.1" r="4.3"/>
<circle cx="802.7" cy="2333.4" r="4.3"/>
<circle cx="807.1" cy="2267.5" r="4.3"/>
<circle cx="839.3" cy="2146.7" r="4.3"/>
<circle cx="842.0" cy="2095.7" r="4.3"/>
<circle cx="820.6" cy="2189.4" r="4.3"/>
<circle cx="791.6" cy="2256.8" r="4.3"/>
<circle cx="806.2" cy="2168.7" r="4.3"/>
<circle cx="839.9" cy="2104.1" r="4.3"/>
<circle cx="794.1" cy="2386.8" r="4.3"/>
<circle cx="842.2" cy="2310.8" r="4.3"/>
<circle cx="789.4" cy="2260.5" r="4.3"/>
<circle cx="840.1" cy="2334.3" r="4.3"/>
<circle cx="821.2" cy="2268.7" r="4.3"/>
</g>
<line x1="604.5" y1="2023.3" x2="604.5" y2="2435.6" stroke="#000" stroke-width="1.4"/>
<line x1="603.8" y1="2434.9" x2="892.4" y2="2434.9" stroke="#000" stroke-width="1.4"/>
<line x1="596" y1="2043.3" x2="604.5" y2="2043.3" stroke="#333" stroke-width="1.2"/>
<text x="592" y="2050.3" font-size="20" text-anchor="end" fill="#4D4D4D">3000</text>
<line x1="596" y1="2140.2" x2="604.5" y2="2140.2" stroke="#333" stroke-width="1.2"/>
<text x="592" y="2147.2" font-size="20" text-anchor="end" fill="#4D4D4D">2000</text>
<line x1="596" y1="2237.1" x2="604.5" y2="2237.1" stroke="#333" stroke-width="1.2"/>
<text x="592" y="2244.1" font-size="20" text-anchor="end" fill="#4D4D4D">1000</text>
<line x1="596" y1="2334" x2="604.5" y2="2334" stroke="#333" stroke-width="1.2"/>
<text x="592" y="2341" font-size="20" text-anchor="end" fill="#4D4D4D">0</text>
<line x1="596" y1="2430.9" x2="604.5" y2="2430.9" stroke="#333" stroke-width="1.2"/>
<text x="592" y="2437.9" font-size="20" text-anchor="end" fill="#4D4D4D">−1000</text>
<line x1="683" y1="2434.9" x2="683" y2="2443.5" stroke="#333" stroke-width="1.2"/>
<text x="683" y="2462.5" font-size="19.8" text-anchor="end" fill="#000">HRisk</text>
<line x1="814.3" y1="2434.9" x2="814.3" y2="2443.5" stroke="#333" stroke-width="1.2"/>
<text x="814.3" y="2462.5" font-size="19.8" text-anchor="end" fill="#000">LRisk</text>
<text transform="translate(525 2229) rotate(-90)" font-size="20.1" text-anchor="middle" fill="#000">ImmuneScore</text>
<text x="738.2" y="2416.2" font-size="18.3" text-anchor="middle" fill="#000">Wilcoxon, p = 2.7e−05</text>
<path d="M1087.9 2407.54 L1089.05 2404.48 L1090.21 2401.43 L1091.4 2398.38 L1092.6 2395.32 L1093.81 2392.27 L1095.02 2389.21 L1096.25 2386.16 L1097.47 2383.11 L1098.69 2380.05 L1099.89 2377 L1101.11 2373.94 L1102.33 2370.89 L1103.59 2367.83 L1104.87 2364.78 L1106.22 2361.73 L1107.62 2358.67 L1109.04 2355.62 L1110.45 2352.56 L1111.82 2349.51 L1113.13 2346.46 L1114.41 2343.4 L1115.65 2340.35 L1116.87 2337.29 L1118.06 2334.24 L1119.22 2331.19 L1120.34 2328.13 L1121.44 2325.08 L1122.51 2322.02 L1123.55 2318.97 L1124.58 2315.91 L1125.58 2312.86 L1126.58 2309.81 L1127.59 2306.75 L1128.58 2303.7 L1129.54 2300.64 L1130.42 2297.59 L1131.21 2294.54 L1131.92 2291.48 L1132.58 2288.43 L1133.19 2285.37 L1133.77 2282.32 L1134.31 2279.27 L1134.84 2276.21 L1135.41 2273.16 L1136.01 2270.1 L1136.56 2267.05 L1137 2263.99 L1137.26 2260.94 L1137.28 2257.89 L1137.15 2254.83 L1136.9 2251.78 L1136.55 2248.72 L1136.13 2245.67 L1135.65 2242.62 L1135 2239.56 L1133.88 2236.51 L1132.43 2233.45 L1130.81 2230.4 L1129.19 2227.35 L1127.72 2224.29 L1126.43 2221.24 L1125.16 2218.18 L1123.91 2215.13 L1122.68 2212.07 L1121.49 2209.02 L1120.34 2205.97 L1119.22 2202.91 L1118.12 2199.86 L1117.06 2196.8 L1116.02 2193.75 L1115.01 2190.7 L1114.03 2187.64 L1113.08 2184.59 L1112.17 2181.53 L1111.27 2178.48 L1110.38 2175.43 L1109.48 2172.37 L1108.56 2169.32 L1107.66 2166.26 L1106.77 2163.21 L1105.86 2160.15 L1104.93 2157.1 L1103.97 2154.05 L1102.96 2150.99 L1101.88 2147.94 L1100.78 2144.88 L1099.67 2141.83 L1098.59 2138.78 L1097.57 2135.72 L1096.54 2132.67 L1095.47 2129.61 L1094.43 2126.56 L1093.5 2123.51 L1092.72 2120.45 L1092.17 2117.4 L1091.73 2114.34 L1091.33 2111.29 L1090.97 2108.23 L1090.65 2105.18 L1090.36 2102.13 L1090.09 2099.07 L1089.83 2096.02 L1089.59 2092.96 L1089.35 2089.91 L1089.12 2086.86 L1088.88 2083.8 L1088.63 2080.75 L1088.38 2077.69 L1088.14 2074.64 L1087.91 2071.59 L1087.68 2068.53 L1087.46 2065.48 L1087.24 2062.42 L1087.03 2059.37 L1086.83 2056.32 L1086.64 2053.26 L1086.45 2050.21 L1086.27 2047.15 L1086.1 2044.1 L1081.5 2044.1 L1081.33 2047.15 L1081.15 2050.21 L1080.96 2053.26 L1080.77 2056.32 L1080.57 2059.37 L1080.36 2062.42 L1080.14 2065.48 L1079.92 2068.53 L1079.69 2071.59 L1079.46 2074.64 L1079.22 2077.69 L1078.97 2080.75 L1078.72 2083.8 L1078.48 2086.86 L1078.25 2089.91 L1078.01 2092.96 L1077.77 2096.02 L1077.51 2099.07 L1077.24 2102.13 L1076.95 2105.18 L1076.63 2108.23 L1076.27 2111.29 L1075.87 2114.34 L1075.43 2117.4 L1074.88 2120.45 L1074.1 2123.51 L1073.17 2126.56 L1072.13 2129.61 L1071.06 2132.67 L1070.03 2135.72 L1069.01 2138.78 L1067.93 2141.83 L1066.82 2144.88 L1065.72 2147.94 L1064.64 2150.99 L1063.63 2154.05 L1062.67 2157.1 L1061.74 2160.15 L1060.83 2163.21 L1059.94 2166.26 L1059.04 2169.32 L1058.12 2172.37 L1057.22 2175.43 L1056.33 2178.48 L1055.43 2181.53 L1054.52 2184.59 L1053.57 2187.64 L1052.59 2190.7 L1051.58 2193.75 L1050.54 2196.8 L1049.48 2199.86 L1048.38 2202.91 L1047.26 2205.97 L1046.11 2209.02 L1044.92 2212.07 L1043.69 2215.13 L1042.44 2218.18 L1041.17 2221.24 L1039.88 2224.29 L1038.41 2227.35 L1036.79 2230.4 L1035.17 2233.45 L1033.72 2236.51 L1032.6 2239.56 L1031.95 2242.62 L1031.47 2245.67 L1031.05 2248.72 L1030.7 2251.78 L1030.45 2254.83 L1030.32 2257.89 L1030.34 2260.94 L1030.6 2263.99 L1031.04 2267.05 L1031.59 2270.1 L1032.19 2273.16 L1032.76 2276.21 L1033.29 2279.27 L1033.83 2282.32 L1034.41 2285.37 L1035.02 2288.43 L1035.68 2291.48 L1036.39 2294.54 L1037.18 2297.59 L1038.06 2300.64 L1039.02 2303.7 L1040.01 2306.75 L1041.02 2309.81 L1042.02 2312.86 L1043.02 2315.91 L1044.05 2318.97 L1045.09 2322.02 L1046.16 2325.08 L1047.26 2328.13 L1048.38 2331.19 L1049.54 2334.24 L1050.73 2337.29 L1051.95 2340.35 L1053.19 2343.4 L1054.47 2346.46 L1055.78 2349.51 L1057.15 2352.56 L1058.56 2355.62 L1059.98 2358.67 L1061.38 2361.73 L1062.73 2364.78 L1064.01 2367.83 L1065.27 2370.89 L1066.49 2373.94 L1067.71 2377 L1068.91 2380.05 L1070.13 2383.11 L1071.35 2386.16 L1072.58 2389.21 L1073.79 2392.27 L1075 2395.32 L1076.2 2398.38 L1077.39 2401.43 L1078.55 2404.48 L1079.7 2407.54Z" fill="#E4EEF9" stroke="#000" stroke-width="2.7" stroke-linejoin="round"/>
<line x1="1083.8" y1="2208.57" x2="1083.8" y2="2084.71" stroke="#000" stroke-width="2.7"/>
<line x1="1083.8" y1="2305.23" x2="1083.8" y2="2407.54" stroke="#000" stroke-width="2.7"/>
<path d="M1034.2 2208.57 L1133.4 2208.57 L1133.4 2243.77 L1108.6 2255.45 L1133.4 2267.13 L1133.4 2305.23 L1034.2 2305.23 L1034.2 2267.13 L1059 2255.45 L1034.2 2243.77Z" fill="#C6DBEF" stroke="#000" stroke-width="2.7" fill-opacity="0.82" stroke-linejoin="miter"/>
<line x1="1059" y1="2255.45" x2="1108.6" y2="2255.45" stroke="#000" stroke-width="4.2"/>
<path d="M1217.6 2416.34 L1217.67 2413.49 L1217.79 2410.64 L1217.95 2407.8 L1218.15 2404.95 L1218.37 2402.1 L1218.6 2399.26 L1218.9 2396.41 L1219.26 2393.56 L1219.68 2390.72 L1220.15 2387.87 L1220.67 2385.02 L1221.22 2382.18 L1221.88 2379.33 L1222.64 2376.48 L1223.5 2373.64 L1224.43 2370.79 L1225.42 2367.95 L1226.43 2365.1 L1227.53 2362.25 L1228.75 2359.41 L1230.04 2356.56 L1231.39 2353.71 L1232.74 2350.87 L1234.06 2348.02 L1235.35 2345.17 L1236.67 2342.33 L1237.99 2339.48 L1239.31 2336.63 L1240.6 2333.79 L1241.85 2330.94 L1243.05 2328.09 L1244.2 2325.25 L1245.32 2322.4 L1246.43 2319.55 L1247.53 2316.71 L1248.64 2313.86 L1249.77 2311.02 L1250.88 2308.17 L1251.99 2305.32 L1253.11 2302.48 L1254.25 2299.63 L1255.44 2296.78 L1256.7 2293.94 L1258.06 2291.09 L1259.52 2288.24 L1261.01 2285.4 L1262.5 2282.55 L1263.93 2279.7 L1265.26 2276.86 L1266.59 2274.01 L1267.97 2271.16 L1269.31 2268.32 L1270.53 2265.47 L1271.53 2262.63 L1272.22 2259.78 L1272.66 2256.93 L1273.06 2254.09 L1273.41 2251.24 L1273.69 2248.39 L1273.89 2245.55 L1273.99 2242.7 L1273.94 2239.85 L1273.63 2237.01 L1273.13 2234.16 L1272.47 2231.31 L1271.72 2228.47 L1270.94 2225.62 L1270.16 2222.77 L1269.25 2219.93 L1268.19 2217.08 L1267.02 2214.23 L1265.75 2211.39 L1264.42 2208.54 L1263.04 2205.7 L1261.41 2202.85 L1259.55 2200 L1257.61 2197.16 L1255.73 2194.31 L1254.05 2191.46 L1252.72 2188.62 L1251.67 2185.77 L1250.74 2182.92 L1249.9 2180.08 L1249.12 2177.23 L1248.37 2174.38 L1247.62 2171.54 L1246.85 2168.69 L1246.12 2165.84 L1245.42 2163 L1244.72 2160.15 L1244.03 2157.3 L1243.33 2154.46 L1242.63 2151.61 L1241.92 2148.77 L1241.21 2145.92 L1240.5 2143.07 L1239.8 2140.23 L1239.09 2137.38 L1238.38 2134.53 L1237.69 2131.69 L1237 2128.84 L1236.3 2125.99 L1235.59 2123.15 L1234.86 2120.3 L1234.09 2117.45 L1233.26 2114.61 L1232.4 2111.76 L1231.51 2108.91 L1230.62 2106.07 L1229.76 2103.22 L1228.93 2100.38 L1228.13 2097.53 L1227.34 2094.68 L1226.57 2091.84 L1225.81 2088.99 L1225.06 2086.14 L1224.32 2083.3 L1223.6 2080.45 L1222.9 2077.6 L1206.5 2077.6 L1205.8 2080.45 L1205.08 2083.3 L1204.34 2086.14 L1203.59 2088.99 L1202.83 2091.84 L1202.06 2094.68 L1201.27 2097.53 L1200.47 2100.38 L1199.64 2103.22 L1198.78 2106.07 L1197.89 2108.91 L1197 2111.76 L1196.14 2114.61 L1195.31 2117.45 L1194.54 2120.3 L1193.81 2123.15 L1193.1 2125.99 L1192.4 2128.84 L1191.71 2131.69 L1191.02 2134.53 L1190.31 2137.38 L1189.6 2140.23 L1188.9 2143.07 L1188.19 2145.92 L1187.48 2148.77 L1186.77 2151.61 L1186.07 2154.46 L1185.37 2157.3 L1184.68 2160.15 L1183.98 2163 L1183.28 2165.84 L1182.55 2168.69 L1181.78 2171.54 L1181.03 2174.38 L1180.28 2177.23 L1179.5 2180.08 L1178.66 2182.92 L1177.73 2185.77 L1176.68 2188.62 L1175.35 2191.46 L1173.67 2194.31 L1171.79 2197.16 L1169.85 2200 L1167.99 2202.85 L1166.36 2205.7 L1164.98 2208.54 L1163.65 2211.39 L1162.38 2214.23 L1161.21 2217.08 L1160.15 2219.93 L1159.24 2222.77 L1158.46 2225.62 L1157.68 2228.47 L1156.93 2231.31 L1156.27 2234.16 L1155.77 2237.01 L1155.46 2239.85 L1155.41 2242.7 L1155.51 2245.55 L1155.71 2248.39 L1155.99 2251.24 L1156.34 2254.09 L1156.74 2256.93 L1157.18 2259.78 L1157.87 2262.63 L1158.87 2265.47 L1160.09 2268.32 L1161.43 2271.16 L1162.81 2274.01 L1164.14 2276.86 L1165.47 2279.7 L1166.9 2282.55 L1168.39 2285.4 L1169.88 2288.24 L1171.34 2291.09 L1172.7 2293.94 L1173.96 2296.78 L1175.15 2299.63 L1176.29 2302.48 L1177.41 2305.32 L1178.52 2308.17 L1179.63 2311.02 L1180.76 2313.86 L1181.87 2316.71 L1182.97 2319.55 L1184.08 2322.4 L1185.2 2325.25 L1186.35 2328.09 L1187.55 2330.94 L1188.8 2333.79 L1190.09 2336.63 L1191.41 2339.48 L1192.73 2342.33 L1194.05 2345.17 L1195.34 2348.02 L1196.66 2350.87 L1198.01 2353.71 L1199.36 2356.56 L1200.65 2359.41 L1201.87 2362.25 L1202.97 2365.1 L1203.98 2367.95 L1204.97 2370.79 L1205.9 2373.64 L1206.76 2376.48 L1207.52 2379.33 L1208.18 2382.18 L1208.73 2385.02 L1209.25 2387.87 L1209.72 2390.72 L1210.14 2393.56 L1210.5 2396.41 L1210.8 2399.26 L1211.03 2402.1 L1211.25 2404.95 L1211.45 2407.8 L1211.61 2410.64 L1211.73 2413.49 L1211.8 2416.34Z" fill="#FDE3E0" stroke="#000" stroke-width="2.7" stroke-linejoin="round"/>
<line x1="1214.7" y1="2186.44" x2="1214.7" y2="2077.6" stroke="#000" stroke-width="2.7"/>
<line x1="1214.7" y1="2277.05" x2="1214.7" y2="2402.43" stroke="#000" stroke-width="2.7"/>
<path d="M1165.1 2186.44 L1264.3 2186.44 L1264.3 2223.46 L1239.5 2234.38 L1264.3 2245.29 L1264.3 2277.05 L1165.1 2277.05 L1165.1 2245.29 L1189.9 2234.38 L1165.1 2223.46Z" fill="#FBC1BC" stroke="#000" stroke-width="2.7" fill-opacity="0.82" stroke-linejoin="miter"/>
<line x1="1189.9" y1="2234.38" x2="1239.5" y2="2234.38" stroke="#000" stroke-width="4.2"/>
<g fill="#BDD7EE" stroke="#000" stroke-width="1.1">
<circle cx="1064.8" cy="2407.5" r="4.3"/>
<circle cx="1096.6" cy="2044.1" r="4.3"/>
<circle cx="1082.0" cy="2350.3" r="4.3"/>
<circle cx="1091.3" cy="2259.4" r="4.3"/>
<circle cx="1070.3" cy="2279.7" r="4.3"/>
<circle cx="1109.1" cy="2319.7" r="4.3"/>
<circle cx="1065.0" cy="2167.1" r="4.3"/>
<circle cx="1097.6" cy="2253.3" r="4.3"/>
<circle cx="1100.5" cy="2240.1" r="4.3"/>
<circle cx="1093.5" cy="2301.9" r="4.3"/>
<circle cx="1068.8" cy="2250.5" r="4.3"/>
<circle cx="1083.9" cy="2213.8" r="4.3"/>
<circle cx="1055.1" cy="2321.4" r="4.3"/>
<circle cx="1112.7" cy="2306.3" r="4.3"/>
<circle cx="1070.3" cy="2293.6" r="4.3"/>
<circle cx="1056.7" cy="2258.1" r="4.3"/>
<circle cx="1078.3" cy="2268.7" r="4.3"/>
<circle cx="1088.6" cy="2261.7" r="4.3"/>
<circle cx="1085.3" cy="2242.1" r="4.3"/>
<circle cx="1093.0" cy="2199.8" r="4.3"/>
<circle cx="1076.8" cy="2213.5" r="4.3"/>
<circle cx="1095.2" cy="2241.3" r="4.3"/>
<circle cx="1098.6" cy="2195.3" r="4.3"/>
<circle cx="1109.9" cy="2282.9" r="4.3"/>
<circle cx="1059.3" cy="2288.4" r="4.3"/>
<circle cx="1103.4" cy="2316.5" r="4.3"/>
<circle cx="1082.7" cy="2216.2" r="4.3"/>
<circle cx="1060.3" cy="2283.5" r="4.3"/>
<circle cx="1105.2" cy="2283.5" r="4.3"/>
<circle cx="1108.5" cy="2234.9" r="4.3"/>
<circle cx="1061.7" cy="2289.0" r="4.3"/>
<circle cx="1064.9" cy="2226.8" r="4.3"/>
<circle cx="1111.6" cy="2240.0" r="4.3"/>
<circle cx="1106.1" cy="2259.4" r="4.3"/>
<circle cx="1099.8" cy="2234.4" r="4.3"/>
<circle cx="1084.3" cy="2236.0" r="4.3"/>
<circle cx="1076.2" cy="2291.1" r="4.3"/>
<circle cx="1089.8" cy="2230.9" r="4.3"/>
<circle cx="1094.5" cy="2315.8" r="4.3"/>
<circle cx="1085.9" cy="2307.2" r="4.3"/>
<circle cx="1112.3" cy="2250.4" r="4.3"/>
<circle cx="1084.8" cy="2329.6" r="4.3"/>
<circle cx="1080.6" cy="2243.5" r="4.3"/>
<circle cx="1065.3" cy="2176.3" r="4.3"/>
<circle cx="1108.3" cy="2178.2" r="4.3"/>
<circle cx="1082.9" cy="2294.8" r="4.3"/>
<circle cx="1088.8" cy="2332.5" r="4.3"/>
<circle cx="1111.6" cy="2305.2" r="4.3"/>
<circle cx="1105.1" cy="2225.7" r="4.3"/>
<circle cx="1055.5" cy="2249.2" r="4.3"/>
<circle cx="1059.3" cy="2252.6" r="4.3"/>
<circle cx="1088.6" cy="2195.6" r="4.3"/>
<circle cx="1070.4" cy="2378.9" r="4.3"/>
<circle cx="1079.6" cy="2165.5" r="4.3"/>
<circle cx="1056.0" cy="2262.8" r="4.3"/>
<circle cx="1100.8" cy="2274.4" r="4.3"/>
<circle cx="1102.3" cy="2216.0" r="4.3"/>
<circle cx="1074.7" cy="2308.3" r="4.3"/>
<circle cx="1094.3" cy="2150.5" r="4.3"/>
<circle cx="1054.4" cy="2240.3" r="4.3"/>
<circle cx="1075.7" cy="2187.7" r="4.3"/>
<circle cx="1069.1" cy="2353.5" r="4.3"/>
<circle cx="1067.0" cy="2336.1" r="4.3"/>
<circle cx="1077.5" cy="2157.7" r="4.3"/>
<circle cx="1056.7" cy="2350.8" r="4.3"/>
<circle cx="1101.3" cy="2213.1" r="4.3"/>
<circle cx="1072.2" cy="2393.5" r="4.3"/>
<circle cx="1080.6" cy="2307.6" r="4.3"/>
<circle cx="1070.0" cy="2304.2" r="4.3"/>
<circle cx="1077.2" cy="2182.3" r="4.3"/>
<circle cx="1103.6" cy="2296.3" r="4.3"/>
<circle cx="1103.8" cy="2317.4" r="4.3"/>
<circle cx="1101.3" cy="2385.9" r="4.3"/>
<circle cx="1108.0" cy="2300.6" r="4.3"/>
<circle cx="1065.5" cy="2172.9" r="4.3"/>
<circle cx="1112.7" cy="2253.5" r="4.3"/>
<circle cx="1102.8" cy="2378.4" r="4.3"/>
<circle cx="1061.6" cy="2353.7" r="4.3"/>
<circle cx="1099.3" cy="2306.5" r="4.3"/>
<circle cx="1082.6" cy="2204.1" r="4.3"/>
<circle cx="1085.4" cy="2322.0" r="4.3"/>
<circle cx="1055.0" cy="2390.6" r="4.3"/>
<circle cx="1092.5" cy="2071.3" r="4.3"/>
<circle cx="1056.2" cy="2127.5" r="4.3"/>
<circle cx="1093.9" cy="2238.1" r="4.3"/>
<circle cx="1084.9" cy="2318.9" r="4.3"/>
<circle cx="1075.4" cy="2245.0" r="4.3"/>
<circle cx="1095.7" cy="2312.9" r="4.3"/>
<circle cx="1098.1" cy="2231.2" r="4.3"/>
<circle cx="1086.5" cy="2375.4" r="4.3"/>
<circle cx="1087.4" cy="2213.5" r="4.3"/>
<circle cx="1096.1" cy="2163.1" r="4.3"/>
<circle cx="1109.0" cy="2194.6" r="4.3"/>
<circle cx="1092.2" cy="2310.8" r="4.3"/>
<circle cx="1068.2" cy="2354.6" r="4.3"/>
<circle cx="1067.8" cy="2111.6" r="4.3"/>
<circle cx="1109.8" cy="2268.1" r="4.3"/>
<circle cx="1101.1" cy="2211.0" r="4.3"/>
<circle cx="1071.6" cy="2134.6" r="4.3"/>
<circle cx="1095.3" cy="2307.6" r="4.3"/>
<circle cx="1100.3" cy="2063.7" r="4.3"/>
<circle cx="1103.5" cy="2289.8" r="4.3"/>
<circle cx="1097.4" cy="2237.6" r="4.3"/>
<circle cx="1069.5" cy="2200.5" r="4.3"/>
<circle cx="1105.5" cy="2252.1" r="4.3"/>
<circle cx="1094.5" cy="2226.2" r="4.3"/>
<circle cx="1105.4" cy="2160.2" r="4.3"/>
<circle cx="1068.3" cy="2149.6" r="4.3"/>
<circle cx="1103.0" cy="2278.3" r="4.3"/>
<circle cx="1096.3" cy="2385.8" r="4.3"/>
<circle cx="1072.0" cy="2270.0" r="4.3"/>
<circle cx="1099.0" cy="2171.6" r="4.3"/>
<circle cx="1061.3" cy="2384.0" r="4.3"/>
<circle cx="1058.2" cy="2210.3" r="4.3"/>
<circle cx="1101.6" cy="2300.8" r="4.3"/>
<circle cx="1054.9" cy="2212.3" r="4.3"/>
<circle cx="1069.6" cy="2269.0" r="4.3"/>
<circle cx="1056.8" cy="2206.2" r="4.3"/>
<circle cx="1104.1" cy="2232.0" r="4.3"/>
<circle cx="1070.9" cy="2338.5" r="4.3"/>
<circle cx="1096.9" cy="2326.4" r="4.3"/>
<circle cx="1099.6" cy="2258.2" r="4.3"/>
<circle cx="1099.5" cy="2201.1" r="4.3"/>
<circle cx="1066.2" cy="2225.3" r="4.3"/>
<circle cx="1054.7" cy="2232.8" r="4.3"/>
<circle cx="1078.8" cy="2274.1" r="4.3"/>
<circle cx="1076.4" cy="2099.7" r="4.3"/>
<circle cx="1066.9" cy="2122.9" r="4.3"/>
<circle cx="1104.6" cy="2316.8" r="4.3"/>
<circle cx="1099.7" cy="2289.4" r="4.3"/>
<circle cx="1095.1" cy="2251.6" r="4.3"/>
<circle cx="1094.5" cy="2380.4" r="4.3"/>
<circle cx="1091.9" cy="2240.1" r="4.3"/>
<circle cx="1066.0" cy="2275.6" r="4.3"/>
<circle cx="1067.0" cy="2244.0" r="4.3"/>
<circle cx="1080.3" cy="2321.8" r="4.3"/>
<circle cx="1079.9" cy="2066.4" r="4.3"/>
<circle cx="1074.0" cy="2346.2" r="4.3"/>
<circle cx="1056.5" cy="2166.7" r="4.3"/>
<circle cx="1077.4" cy="2297.8" r="4.3"/>
<circle cx="1110.8" cy="2155.6" r="4.3"/>
<circle cx="1058.5" cy="2142.5" r="4.3"/>
<circle cx="1054.4" cy="2285.0" r="4.3"/>
<circle cx="1061.5" cy="2269.5" r="4.3"/>
<circle cx="1065.0" cy="2188.9" r="4.3"/>
<circle cx="1094.3" cy="2278.6" r="4.3"/>
<circle cx="1079.8" cy="2311.8" r="4.3"/>
<circle cx="1106.8" cy="2324.5" r="4.3"/>
<circle cx="1068.3" cy="2352.6" r="4.3"/>
<circle cx="1057.5" cy="2395.1" r="4.3"/>
<circle cx="1112.6" cy="2242.5" r="4.3"/>
<circle cx="1087.1" cy="2080.9" r="4.3"/>
<circle cx="1092.7" cy="2229.9" r="4.3"/>
<circle cx="1103.5" cy="2369.4" r="4.3"/>
<circle cx="1095.8" cy="2200.6" r="4.3"/>
<circle cx="1080.0" cy="2301.6" r="4.3"/>
<circle cx="1076.9" cy="2278.6" r="4.3"/>
<circle cx="1076.0" cy="2226.2" r="4.3"/>
<circle cx="1071.5" cy="2307.7" r="4.3"/>
<circle cx="1112.6" cy="2277.0" r="4.3"/>
<circle cx="1107.8" cy="2212.4" r="4.3"/>
<circle cx="1082.8" cy="2282.7" r="4.3"/>
<circle cx="1067.8" cy="2355.7" r="4.3"/>
<circle cx="1083.0" cy="2171.0" r="4.3"/>
<circle cx="1100.0" cy="2247.9" r="4.3"/>
<circle cx="1068.8" cy="2238.5" r="4.3"/>
<circle cx="1067.4" cy="2241.9" r="4.3"/>
<circle cx="1077.2" cy="2381.6" r="4.3"/>
<circle cx="1079.4" cy="2310.0" r="4.3"/>
<circle cx="1105.8" cy="2319.2" r="4.3"/>
<circle cx="1093.2" cy="2347.1" r="4.3"/>
</g>
<g fill="#F8B7B0" stroke="#000" stroke-width="1.1">
<circle cx="1195.2" cy="2416.3" r="4.3"/>
<circle cx="1192.0" cy="2077.6" r="4.3"/>
<circle cx="1233.6" cy="2321.9" r="4.3"/>
<circle cx="1189.6" cy="2247.0" r="4.3"/>
<circle cx="1237.8" cy="2108.5" r="4.3"/>
<circle cx="1231.5" cy="2316.8" r="4.3"/>
<circle cx="1225.0" cy="2272.0" r="4.3"/>
<circle cx="1242.6" cy="2301.8" r="4.3"/>
<circle cx="1242.8" cy="2272.7" r="4.3"/>
<circle cx="1193.3" cy="2349.1" r="4.3"/>
<circle cx="1207.9" cy="2216.0" r="4.3"/>
<circle cx="1241.7" cy="2342.5" r="4.3"/>
<circle cx="1232.4" cy="2101.2" r="4.3"/>
<circle cx="1218.2" cy="2313.1" r="4.3"/>
<circle cx="1208.5" cy="2278.0" r="4.3"/>
<circle cx="1187.0" cy="2350.9" r="4.3"/>
<circle cx="1243.3" cy="2199.6" r="4.3"/>
<circle cx="1240.4" cy="2258.5" r="4.3"/>
<circle cx="1229.2" cy="2237.6" r="4.3"/>
<circle cx="1227.6" cy="2204.6" r="4.3"/>
<circle cx="1230.4" cy="2355.7" r="4.3"/>
<circle cx="1198.0" cy="2285.3" r="4.3"/>
<circle cx="1197.3" cy="2255.0" r="4.3"/>
<circle cx="1191.8" cy="2332.4" r="4.3"/>
<circle cx="1237.7" cy="2336.6" r="4.3"/>
<circle cx="1213.6" cy="2404.4" r="4.3"/>
<circle cx="1239.2" cy="2203.2" r="4.3"/>
<circle cx="1222.1" cy="2253.8" r="4.3"/>
<circle cx="1192.7" cy="2146.3" r="4.3"/>
<circle cx="1238.5" cy="2316.2" r="4.3"/>
<circle cx="1200.3" cy="2259.9" r="4.3"/>
<circle cx="1240.3" cy="2097.3" r="4.3"/>
<circle cx="1196.0" cy="2300.8" r="4.3"/>
<circle cx="1198.4" cy="2272.4" r="4.3"/>
<circle cx="1226.6" cy="2085.0" r="4.3"/>
<circle cx="1222.1" cy="2145.0" r="4.3"/>
<circle cx="1199.8" cy="2146.7" r="4.3"/>
<circle cx="1194.8" cy="2287.9" r="4.3"/>
<circle cx="1233.9" cy="2139.1" r="4.3"/>
<circle cx="1243.7" cy="2283.3" r="4.3"/>
<circle cx="1243.1" cy="2234.0" r="4.3"/>
<circle cx="1210.3" cy="2206.3" r="4.3"/>
<circle cx="1206.5" cy="2187.1" r="4.3"/>
<circle cx="1242.6" cy="2311.9" r="4.3"/>
<circle cx="1190.3" cy="2153.6" r="4.3"/>
<circle cx="1200.1" cy="2328.3" r="4.3"/>
<circle cx="1189.3" cy="2201.8" r="4.3"/>
<circle cx="1194.7" cy="2173.1" r="4.3"/>
<circle cx="1189.7" cy="2374.9" r="4.3"/>
<circle cx="1210.4" cy="2263.7" r="4.3"/>
<circle cx="1228.7" cy="2245.5" r="4.3"/>
<circle cx="1237.5" cy="2211.5" r="4.3"/>
<circle cx="1226.2" cy="2287.2" r="4.3"/>
<circle cx="1194.1" cy="2152.6" r="4.3"/>
<circle cx="1231.9" cy="2088.0" r="4.3"/>
<circle cx="1222.0" cy="2323.9" r="4.3"/>
<circle cx="1228.9" cy="2106.8" r="4.3"/>
<circle cx="1233.0" cy="2263.3" r="4.3"/>
<circle cx="1211.7" cy="2228.6" r="4.3"/>
<circle cx="1238.5" cy="2258.0" r="4.3"/>
<circle cx="1221.9" cy="2209.3" r="4.3"/>
<circle cx="1231.8" cy="2294.9" r="4.3"/>
<circle cx="1211.6" cy="2181.9" r="4.3"/>
<circle cx="1214.0" cy="2262.9" r="4.3"/>
<circle cx="1239.2" cy="2233.9" r="4.3"/>
<circle cx="1191.5" cy="2101.0" r="4.3"/>
<circle cx="1189.4" cy="2318.4" r="4.3"/>
<circle cx="1227.2" cy="2241.3" r="4.3"/>
<circle cx="1205.4" cy="2126.6" r="4.3"/>
<circle cx="1200.1" cy="2178.5" r="4.3"/>
<circle cx="1190.6" cy="2081.5" r="4.3"/>
<circle cx="1196.5" cy="2202.2" r="4.3"/>
<circle cx="1233.2" cy="2191.2" r="4.3"/>
<circle cx="1234.7" cy="2254.2" r="4.3"/>
<circle cx="1203.2" cy="2282.1" r="4.3"/>
<circle cx="1197.2" cy="2224.5" r="4.3"/>
<circle cx="1199.3" cy="2245.7" r="4.3"/>
<circle cx="1187.2" cy="2273.5" r="4.3"/>
<circle cx="1189.6" cy="2248.6" r="4.3"/>
<circle cx="1201.5" cy="2180.6" r="4.3"/>
<circle cx="1204.4" cy="2107.3" r="4.3"/>
<circle cx="1193.3" cy="2236.6" r="4.3"/>
<circle cx="1233.6" cy="2220.5" r="4.3"/>
<circle cx="1198.9" cy="2097.8" r="4.3"/>
<circle cx="1224.4" cy="2236.1" r="4.3"/>
<circle cx="1220.8" cy="2290.9" r="4.3"/>
<circle cx="1226.1" cy="2256.9" r="4.3"/>
<circle cx="1239.1" cy="2311.6" r="4.3"/>
<circle cx="1238.1" cy="2275.0" r="4.3"/>
<circle cx="1238.6" cy="2239.3" r="4.3"/>
<circle cx="1234.1" cy="2137.7" r="4.3"/>
<circle cx="1221.9" cy="2283.3" r="4.3"/>
<circle cx="1229.0" cy="2162.5" r="4.3"/>
<circle cx="1225.1" cy="2193.0" r="4.3"/>
<circle cx="1222.4" cy="2368.3" r="4.3"/>
<circle cx="1219.9" cy="2231.6" r="4.3"/>
<circle cx="1224.1" cy="2219.4" r="4.3"/>
<circle cx="1231.6" cy="2323.9" r="4.3"/>
<circle cx="1213.9" cy="2123.0" r="4.3"/>
<circle cx="1201.3" cy="2336.7" r="4.3"/>
<circle cx="1239.1" cy="2277.5" r="4.3"/>
<circle cx="1190.9" cy="2142.0" r="4.3"/>
<circle cx="1215.6" cy="2201.9" r="4.3"/>
<circle cx="1198.9" cy="2153.0" r="4.3"/>
<circle cx="1233.8" cy="2247.0" r="4.3"/>
<circle cx="1211.5" cy="2175.5" r="4.3"/>
<circle cx="1239.8" cy="2268.6" r="4.3"/>
<circle cx="1235.0" cy="2251.0" r="4.3"/>
<circle cx="1190.7" cy="2272.8" r="4.3"/>
<circle cx="1186.9" cy="2204.1" r="4.3"/>
<circle cx="1224.1" cy="2288.6" r="4.3"/>
<circle cx="1221.1" cy="2187.7" r="4.3"/>
<circle cx="1203.2" cy="2128.7" r="4.3"/>
<circle cx="1230.5" cy="2223.1" r="4.3"/>
<circle cx="1200.9" cy="2242.2" r="4.3"/>
<circle cx="1212.4" cy="2341.5" r="4.3"/>
<circle cx="1221.8" cy="2257.3" r="4.3"/>
<circle cx="1229.5" cy="2235.8" r="4.3"/>
<circle cx="1208.3" cy="2107.2" r="4.3"/>
<circle cx="1221.0" cy="2254.5" r="4.3"/>
<circle cx="1226.2" cy="2276.7" r="4.3"/>
<circle cx="1242.1" cy="2213.6" r="4.3"/>
<circle cx="1224.7" cy="2232.5" r="4.3"/>
<circle cx="1191.0" cy="2087.4" r="4.3"/>
<circle cx="1240.4" cy="2148.6" r="4.3"/>
<circle cx="1227.0" cy="2229.2" r="4.3"/>
<circle cx="1190.8" cy="2352.9" r="4.3"/>
<circle cx="1214.3" cy="2170.3" r="4.3"/>
<circle cx="1202.8" cy="2219.3" r="4.3"/>
<circle cx="1203.1" cy="2159.3" r="4.3"/>
<circle cx="1201.0" cy="2199.8" r="4.3"/>
<circle cx="1205.2" cy="2300.7" r="4.3"/>
<circle cx="1233.6" cy="2223.8" r="4.3"/>
<circle cx="1205.3" cy="2208.1" r="4.3"/>
<circle cx="1220.1" cy="2263.7" r="4.3"/>
<circle cx="1206.9" cy="2249.2" r="4.3"/>
<circle cx="1234.7" cy="2168.3" r="4.3"/>
<circle cx="1200.4" cy="2206.2" r="4.3"/>
<circle cx="1200.5" cy="2296.2" r="4.3"/>
<circle cx="1193.2" cy="2201.4" r="4.3"/>
<circle cx="1216.0" cy="2220.8" r="4.3"/>
<circle cx="1215.3" cy="2331.4" r="4.3"/>
<circle cx="1212.8" cy="2261.8" r="4.3"/>
<circle cx="1229.4" cy="2111.8" r="4.3"/>
<circle cx="1191.0" cy="2257.0" r="4.3"/>
<circle cx="1229.2" cy="2200.6" r="4.3"/>
<circle cx="1214.5" cy="2366.9" r="4.3"/>
<circle cx="1212.4" cy="2313.4" r="4.3"/>
<circle cx="1208.0" cy="2231.7" r="4.3"/>
<circle cx="1225.4" cy="2336.6" r="4.3"/>
<circle cx="1207.5" cy="2263.4" r="4.3"/>
<circle cx="1213.4" cy="2185.4" r="4.3"/>
<circle cx="1188.7" cy="2285.3" r="4.3"/>
<circle cx="1215.4" cy="2256.4" r="4.3"/>
<circle cx="1213.5" cy="2271.9" r="4.3"/>
<circle cx="1235.0" cy="2303.6" r="4.3"/>
<circle cx="1214.7" cy="2237.0" r="4.3"/>
<circle cx="1202.3" cy="2210.3" r="4.3"/>
<circle cx="1223.2" cy="2295.1" r="4.3"/>
<circle cx="1240.3" cy="2221.3" r="4.3"/>
<circle cx="1233.7" cy="2205.5" r="4.3"/>
<circle cx="1238.1" cy="2260.5" r="4.3"/>
<circle cx="1197.8" cy="2296.9" r="4.3"/>
<circle cx="1227.0" cy="2204.0" r="4.3"/>
<circle cx="1235.5" cy="2307.2" r="4.3"/>
<circle cx="1226.2" cy="2262.1" r="4.3"/>
<circle cx="1229.7" cy="2147.6" r="4.3"/>
<circle cx="1239.1" cy="2337.4" r="4.3"/>
<circle cx="1196.6" cy="2247.0" r="4.3"/>
<circle cx="1218.7" cy="2227.4" r="4.3"/>
<circle cx="1193.7" cy="2312.0" r="4.3"/>
<circle cx="1186.5" cy="2319.5" r="4.3"/>
</g>
<line x1="1005.2" y1="2023.3" x2="1005.2" y2="2435.6" stroke="#000" stroke-width="1.4"/>
<line x1="1004.5" y1="2434.9" x2="1293" y2="2434.9" stroke="#000" stroke-width="1.4"/>
<line x1="996.7" y1="2028.4" x2="1005.2" y2="2028.4" stroke="#333" stroke-width="1.2"/>
<text x="992.7" y="2035.4" font-size="20" text-anchor="end" fill="#4D4D4D">5000</text>
<line x1="996.7" y1="2160.1" x2="1005.2" y2="2160.1" stroke="#333" stroke-width="1.2"/>
<text x="992.7" y="2167.1" font-size="20" text-anchor="end" fill="#4D4D4D">2500</text>
<line x1="996.7" y1="2291.8" x2="1005.2" y2="2291.8" stroke="#333" stroke-width="1.2"/>
<text x="992.7" y="2298.8" font-size="20" text-anchor="end" fill="#4D4D4D">0</text>
<line x1="996.7" y1="2423.5" x2="1005.2" y2="2423.5" stroke="#333" stroke-width="1.2"/>
<text x="992.7" y="2430.5" font-size="20" text-anchor="end" fill="#4D4D4D">−2500</text>
<line x1="1083.8" y1="2434.9" x2="1083.8" y2="2443.5" stroke="#333" stroke-width="1.2"/>
<text x="1083.8" y="2462.5" font-size="19.8" text-anchor="end" fill="#000">HRisk</text>
<line x1="1214.7" y1="2434.9" x2="1214.7" y2="2443.5" stroke="#333" stroke-width="1.2"/>
<text x="1214.7" y="2462.5" font-size="19.8" text-anchor="end" fill="#000">LRisk</text>
<text transform="translate(925 2229) rotate(-90)" font-size="20.1" text-anchor="middle" fill="#000">ESTIMATEScore</text>
<text x="1135.4" y="2416.2" font-size="18.3" text-anchor="middle" fill="#000">Wilcoxon, p = 0.0035</text>
<path d="M1466.6 2415.66 L1466.69 2412.54 L1466.77 2409.42 L1466.86 2406.31 L1466.96 2403.19 L1467.05 2400.08 L1467.15 2396.96 L1467.25 2393.84 L1467.34 2390.73 L1467.44 2387.61 L1467.53 2384.5 L1467.63 2381.38 L1467.74 2378.27 L1467.85 2375.15 L1467.96 2372.03 L1468.08 2368.92 L1468.21 2365.8 L1468.36 2362.69 L1468.51 2359.57 L1468.69 2356.45 L1468.89 2353.34 L1469.1 2350.22 L1469.33 2347.11 L1469.58 2343.99 L1469.83 2340.88 L1470.09 2337.76 L1470.36 2334.64 L1470.63 2331.53 L1470.9 2328.41 L1471.17 2325.3 L1471.43 2322.18 L1471.68 2319.07 L1471.92 2315.95 L1472.17 2312.83 L1472.44 2309.72 L1472.73 2306.6 L1473.07 2303.49 L1473.45 2300.37 L1473.89 2297.25 L1474.51 2294.14 L1475.35 2291.02 L1476.35 2287.91 L1477.45 2284.79 L1478.58 2281.68 L1479.68 2278.56 L1480.86 2275.44 L1482.14 2272.33 L1483.46 2269.21 L1484.75 2266.1 L1485.94 2262.98 L1486.97 2259.86 L1487.87 2256.75 L1488.71 2253.63 L1489.49 2250.52 L1490.24 2247.4 L1490.95 2244.29 L1491.64 2241.17 L1492.25 2238.05 L1492.8 2234.94 L1493.34 2231.82 L1493.93 2228.71 L1494.6 2225.59 L1495.41 2222.47 L1496.4 2219.36 L1497.55 2216.24 L1498.84 2213.13 L1500.25 2210.01 L1501.77 2206.9 L1503.44 2203.78 L1505.55 2200.66 L1507.93 2197.55 L1510.39 2194.43 L1512.71 2191.32 L1514.68 2188.2 L1516.17 2185.08 L1517.51 2181.97 L1518.73 2178.85 L1519.83 2175.74 L1520.79 2172.62 L1521.59 2169.51 L1522.26 2166.39 L1522.92 2163.27 L1523.52 2160.16 L1524.04 2157.04 L1524.41 2153.93 L1524.59 2150.81 L1524.58 2147.7 L1524.5 2144.58 L1524.37 2141.46 L1524.2 2138.35 L1523.99 2135.23 L1523.76 2132.12 L1523.46 2129 L1522.99 2125.88 L1522.37 2122.77 L1521.65 2119.65 L1520.87 2116.54 L1520.07 2113.42 L1519.24 2110.31 L1518.32 2107.19 L1517.32 2104.07 L1516.21 2100.96 L1515.01 2097.84 L1513.7 2094.73 L1512.22 2091.61 L1510.5 2088.49 L1508.59 2085.38 L1506.55 2082.26 L1504.43 2079.15 L1502.28 2076.03 L1499.98 2072.92 L1497.5 2069.8 L1494.92 2066.68 L1492.34 2063.57 L1489.86 2060.45 L1487.56 2057.34 L1485.41 2054.22 L1483.36 2051.1 L1481.39 2047.99 L1479.5 2044.87 L1447.7 2044.87 L1445.81 2047.99 L1443.84 2051.1 L1441.79 2054.22 L1439.64 2057.34 L1437.34 2060.45 L1434.86 2063.57 L1432.28 2066.68 L1429.7 2069.8 L1427.22 2072.92 L1424.92 2076.03 L1422.77 2079.15 L1420.65 2082.26 L1418.61 2085.38 L1416.7 2088.49 L1414.98 2091.61 L1413.5 2094.73 L1412.19 2097.84 L1410.99 2100.96 L1409.88 2104.07 L1408.88 2107.19 L1407.96 2110.31 L1407.13 2113.42 L1406.33 2116.54 L1405.55 2119.65 L1404.83 2122.77 L1404.21 2125.88 L1403.74 2129 L1403.44 2132.12 L1403.21 2135.23 L1403 2138.35 L1402.83 2141.46 L1402.7 2144.58 L1402.62 2147.7 L1402.61 2150.81 L1402.79 2153.93 L1403.16 2157.04 L1403.68 2160.16 L1404.28 2163.27 L1404.94 2166.39 L1405.61 2169.51 L1406.41 2172.62 L1407.37 2175.74 L1408.47 2178.85 L1409.69 2181.97 L1411.03 2185.08 L1412.52 2188.2 L1414.49 2191.32 L1416.81 2194.43 L1419.27 2197.55 L1421.65 2200.66 L1423.76 2203.78 L1425.43 2206.9 L1426.95 2210.01 L1428.36 2213.13 L1429.65 2216.24 L1430.8 2219.36 L1431.79 2222.47 L1432.6 2225.59 L1433.27 2228.71 L1433.86 2231.82 L1434.4 2234.94 L1434.95 2238.05 L1435.56 2241.17 L1436.25 2244.29 L1436.96 2247.4 L1437.71 2250.52 L1438.49 2253.63 L1439.33 2256.75 L1440.23 2259.86 L1441.26 2262.98 L1442.45 2266.1 L1443.74 2269.21 L1445.06 2272.33 L1446.34 2275.44 L1447.52 2278.56 L1448.62 2281.68 L1449.75 2284.79 L1450.85 2287.91 L1451.85 2291.02 L1452.69 2294.14 L1453.31 2297.25 L1453.75 2300.37 L1454.13 2303.49 L1454.47 2306.6 L1454.76 2309.72 L1455.03 2312.83 L1455.28 2315.95 L1455.52 2319.07 L1455.77 2322.18 L1456.03 2325.3 L1456.3 2328.41 L1456.57 2331.53 L1456.84 2334.64 L1457.11 2337.76 L1457.37 2340.88 L1457.62 2343.99 L1457.87 2347.11 L1458.1 2350.22 L1458.31 2353.34 L1458.51 2356.45 L1458.69 2359.57 L1458.84 2362.69 L1458.99 2365.8 L1459.12 2368.92 L1459.24 2372.03 L1459.35 2375.15 L1459.46 2378.27 L1459.57 2381.38 L1459.67 2384.5 L1459.76 2387.61 L1459.86 2390.73 L1459.95 2393.84 L1460.05 2396.96 L1460.15 2400.08 L1460.24 2403.19 L1460.34 2406.31 L1460.43 2409.42 L1460.51 2412.54 L1460.6 2415.66Z" fill="#E4EEF9" stroke="#000" stroke-width="2.7" stroke-linejoin="round"/>
<line x1="1463.6" y1="2108.36" x2="1463.6" y2="2044.87" stroke="#000" stroke-width="2.7"/>
<line x1="1463.6" y1="2201.19" x2="1463.6" y2="2334.03" stroke="#000" stroke-width="2.7"/>
<path d="M1409.1 2108.36 L1518.1 2108.36 L1518.1 2141.42 L1490.85 2152.64 L1518.1 2163.86 L1518.1 2201.19 L1409.1 2201.19 L1409.1 2163.86 L1436.35 2152.64 L1409.1 2141.42Z" fill="#C6DBEF" stroke="#000" stroke-width="2.7" fill-opacity="0.82" stroke-linejoin="miter"/>
<line x1="1436.35" y1="2152.64" x2="1490.85" y2="2152.64" stroke="#000" stroke-width="4.2"/>
<path d="M1614.1 2366.57 L1615.59 2363.85 L1617.01 2361.12 L1618.33 2358.4 L1619.49 2355.67 L1620.43 2352.94 L1621.19 2350.22 L1621.87 2347.49 L1622.49 2344.77 L1623.05 2342.04 L1623.57 2339.32 L1624.05 2336.59 L1624.52 2333.86 L1624.97 2331.14 L1625.42 2328.41 L1625.87 2325.69 L1626.34 2322.96 L1626.8 2320.24 L1627.24 2317.51 L1627.66 2314.78 L1628.08 2312.06 L1628.49 2309.33 L1628.9 2306.61 L1629.3 2303.88 L1629.69 2301.15 L1630.09 2298.43 L1630.48 2295.7 L1630.88 2292.98 L1631.29 2290.25 L1631.69 2287.53 L1632.11 2284.8 L1632.52 2282.07 L1632.94 2279.35 L1633.35 2276.62 L1633.77 2273.9 L1634.18 2271.17 L1634.59 2268.45 L1635 2265.72 L1635.41 2262.99 L1635.81 2260.27 L1636.21 2257.54 L1636.61 2254.82 L1636.99 2252.09 L1637.36 2249.36 L1637.69 2246.64 L1637.98 2243.91 L1638.26 2241.19 L1638.54 2238.46 L1638.83 2235.74 L1639.17 2233.01 L1639.55 2230.28 L1640 2227.56 L1640.53 2224.83 L1641.23 2222.11 L1642.44 2219.38 L1644.05 2216.66 L1645.94 2213.93 L1647.94 2211.2 L1649.91 2208.48 L1651.72 2205.75 L1653.38 2203.03 L1655.09 2200.3 L1656.79 2197.58 L1658.47 2194.85 L1660.08 2192.12 L1661.59 2189.4 L1662.95 2186.67 L1664.25 2183.95 L1665.52 2181.22 L1666.74 2178.49 L1667.87 2175.77 L1668.89 2173.04 L1669.74 2170.32 L1670.42 2167.59 L1671.02 2164.87 L1671.61 2162.14 L1672.14 2159.41 L1672.58 2156.69 L1672.9 2153.96 L1673.08 2151.24 L1673.03 2148.51 L1672.59 2145.79 L1671.8 2143.06 L1670.76 2140.33 L1669.55 2137.61 L1668.27 2134.88 L1666.99 2132.16 L1665.71 2129.43 L1664.21 2126.7 L1662.54 2123.98 L1660.76 2121.25 L1658.94 2118.53 L1657.15 2115.8 L1655.45 2113.08 L1653.83 2110.35 L1652.22 2107.62 L1650.63 2104.9 L1649.04 2102.17 L1647.44 2099.45 L1645.83 2096.72 L1644.2 2094 L1642.55 2091.27 L1640.88 2088.54 L1639.2 2085.82 L1637.51 2083.09 L1635.84 2080.37 L1634.18 2077.64 L1632.54 2074.91 L1630.9 2072.19 L1629.27 2069.46 L1627.64 2066.74 L1626.04 2064.01 L1624.45 2061.29 L1622.9 2058.56 L1621.37 2055.83 L1619.87 2053.11 L1618.39 2050.38 L1616.94 2047.66 L1615.51 2044.93 L1614.1 2042.21 L1601.1 2042.21 L1599.69 2044.93 L1598.26 2047.66 L1596.81 2050.38 L1595.33 2053.11 L1593.83 2055.83 L1592.3 2058.56 L1590.75 2061.29 L1589.16 2064.01 L1587.56 2066.74 L1585.93 2069.46 L1584.3 2072.19 L1582.66 2074.91 L1581.02 2077.64 L1579.36 2080.37 L1577.69 2083.09 L1576 2085.82 L1574.32 2088.54 L1572.65 2091.27 L1571 2094 L1569.37 2096.72 L1567.76 2099.45 L1566.16 2102.17 L1564.57 2104.9 L1562.98 2107.62 L1561.37 2110.35 L1559.75 2113.08 L1558.05 2115.8 L1556.26 2118.53 L1554.44 2121.25 L1552.66 2123.98 L1550.99 2126.7 L1549.49 2129.43 L1548.21 2132.16 L1546.93 2134.88 L1545.65 2137.61 L1544.44 2140.33 L1543.4 2143.06 L1542.61 2145.79 L1542.17 2148.51 L1542.12 2151.24 L1542.3 2153.96 L1542.62 2156.69 L1543.06 2159.41 L1543.59 2162.14 L1544.18 2164.87 L1544.78 2167.59 L1545.46 2170.32 L1546.31 2173.04 L1547.33 2175.77 L1548.46 2178.49 L1549.68 2181.22 L1550.95 2183.95 L1552.25 2186.67 L1553.61 2189.4 L1555.12 2192.12 L1556.73 2194.85 L1558.41 2197.58 L1560.11 2200.3 L1561.82 2203.03 L1563.48 2205.75 L1565.29 2208.48 L1567.26 2211.2 L1569.26 2213.93 L1571.15 2216.66 L1572.76 2219.38 L1573.97 2222.11 L1574.67 2224.83 L1575.2 2227.56 L1575.65 2230.28 L1576.03 2233.01 L1576.37 2235.74 L1576.66 2238.46 L1576.94 2241.19 L1577.22 2243.91 L1577.51 2246.64 L1577.84 2249.36 L1578.21 2252.09 L1578.59 2254.82 L1578.99 2257.54 L1579.39 2260.27 L1579.79 2262.99 L1580.2 2265.72 L1580.61 2268.45 L1581.02 2271.17 L1581.43 2273.9 L1581.85 2276.62 L1582.26 2279.35 L1582.68 2282.07 L1583.09 2284.8 L1583.51 2287.53 L1583.91 2290.25 L1584.32 2292.98 L1584.72 2295.7 L1585.11 2298.43 L1585.51 2301.15 L1585.9 2303.88 L1586.3 2306.61 L1586.71 2309.33 L1587.12 2312.06 L1587.54 2314.78 L1587.96 2317.51 L1588.4 2320.24 L1588.86 2322.96 L1589.33 2325.69 L1589.78 2328.41 L1590.23 2331.14 L1590.68 2333.86 L1591.15 2336.59 L1591.63 2339.32 L1592.15 2342.04 L1592.71 2344.77 L1593.33 2347.49 L1594.01 2350.22 L1594.77 2352.94 L1595.71 2355.67 L1596.87 2358.4 L1598.19 2361.12 L1599.61 2363.85 L1601.1 2366.57Z" fill="#FDE3E0" stroke="#000" stroke-width="2.7" stroke-linejoin="round"/>
<line x1="1607.6" y1="2132.37" x2="1607.6" y2="2042.21" stroke="#000" stroke-width="2.7"/>
<line x1="1607.6" y1="2225.73" x2="1607.6" y2="2366.57" stroke="#000" stroke-width="2.7"/>
<path d="M1553.1 2132.37 L1662.1 2132.37 L1662.1 2160.6 L1634.85 2171.85 L1662.1 2183.09 L1662.1 2225.73 L1553.1 2225.73 L1553.1 2183.09 L1580.35 2171.85 L1553.1 2160.6Z" fill="#FBC1BC" stroke="#000" stroke-width="2.7" fill-opacity="0.82" stroke-linejoin="miter"/>
<line x1="1580.35" y1="2171.85" x2="1634.85" y2="2171.85" stroke="#000" stroke-width="4.2"/>
<g fill="#BDD7EE" stroke="#000" stroke-width="1.1">
<circle cx="1442.2" cy="2415.7" r="4.3"/>
<circle cx="1495.0" cy="2044.9" r="4.3"/>
<circle cx="1476.4" cy="2159.5" r="4.3"/>
<circle cx="1439.8" cy="2117.8" r="4.3"/>
<circle cx="1485.5" cy="2161.5" r="4.3"/>
<circle cx="1443.4" cy="2286.5" r="4.3"/>
<circle cx="1455.6" cy="2175.4" r="4.3"/>
<circle cx="1463.4" cy="2051.5" r="4.3"/>
<circle cx="1493.6" cy="2241.7" r="4.3"/>
<circle cx="1495.3" cy="2101.8" r="4.3"/>
<circle cx="1456.3" cy="2219.7" r="4.3"/>
<circle cx="1480.7" cy="2222.5" r="4.3"/>
<circle cx="1450.5" cy="2324.9" r="4.3"/>
<circle cx="1446.9" cy="2267.5" r="4.3"/>
<circle cx="1474.4" cy="2121.8" r="4.3"/>
<circle cx="1443.9" cy="2057.8" r="4.3"/>
<circle cx="1439.1" cy="2204.8" r="4.3"/>
<circle cx="1438.4" cy="2196.1" r="4.3"/>
<circle cx="1493.1" cy="2271.0" r="4.3"/>
<circle cx="1475.3" cy="2077.6" r="4.3"/>
<circle cx="1456.6" cy="2202.3" r="4.3"/>
<circle cx="1455.4" cy="2075.8" r="4.3"/>
<circle cx="1453.3" cy="2155.6" r="4.3"/>
<circle cx="1487.5" cy="2215.8" r="4.3"/>
<circle cx="1432.6" cy="2120.2" r="4.3"/>
<circle cx="1470.6" cy="2086.3" r="4.3"/>
<circle cx="1472.0" cy="2087.2" r="4.3"/>
<circle cx="1484.7" cy="2266.5" r="4.3"/>
<circle cx="1436.9" cy="2201.7" r="4.3"/>
<circle cx="1492.0" cy="2146.4" r="4.3"/>
<circle cx="1454.3" cy="2257.6" r="4.3"/>
<circle cx="1462.1" cy="2168.8" r="4.3"/>
<circle cx="1465.8" cy="2250.2" r="4.3"/>
<circle cx="1473.0" cy="2307.2" r="4.3"/>
<circle cx="1494.5" cy="2190.9" r="4.3"/>
<circle cx="1479.7" cy="2143.3" r="4.3"/>
<circle cx="1465.6" cy="2047.0" r="4.3"/>
<circle cx="1465.5" cy="2172.0" r="4.3"/>
<circle cx="1481.6" cy="2236.3" r="4.3"/>
<circle cx="1478.4" cy="2253.8" r="4.3"/>
<circle cx="1470.5" cy="2131.7" r="4.3"/>
<circle cx="1438.1" cy="2236.2" r="4.3"/>
<circle cx="1485.6" cy="2203.0" r="4.3"/>
<circle cx="1459.9" cy="2166.5" r="4.3"/>
<circle cx="1485.0" cy="2170.8" r="4.3"/>
<circle cx="1492.0" cy="2188.7" r="4.3"/>
<circle cx="1482.2" cy="2214.5" r="4.3"/>
<circle cx="1458.8" cy="2129.8" r="4.3"/>
<circle cx="1482.4" cy="2159.4" r="4.3"/>
<circle cx="1475.6" cy="2215.1" r="4.3"/>
<circle cx="1476.7" cy="2164.2" r="4.3"/>
<circle cx="1447.6" cy="2180.7" r="4.3"/>
<circle cx="1466.9" cy="2218.4" r="4.3"/>
<circle cx="1459.2" cy="2083.8" r="4.3"/>
<circle cx="1433.9" cy="2234.6" r="4.3"/>
<circle cx="1434.2" cy="2091.2" r="4.3"/>
<circle cx="1493.5" cy="2163.2" r="4.3"/>
<circle cx="1447.8" cy="2150.9" r="4.3"/>
<circle cx="1432.1" cy="2055.0" r="4.3"/>
<circle cx="1445.0" cy="2089.8" r="4.3"/>
<circle cx="1461.1" cy="2135.5" r="4.3"/>
<circle cx="1488.9" cy="2229.6" r="4.3"/>
<circle cx="1460.4" cy="2178.0" r="4.3"/>
<circle cx="1464.5" cy="2173.2" r="4.3"/>
<circle cx="1487.2" cy="2248.8" r="4.3"/>
<circle cx="1466.1" cy="2234.2" r="4.3"/>
<circle cx="1466.2" cy="2073.4" r="4.3"/>
<circle cx="1466.2" cy="2118.1" r="4.3"/>
<circle cx="1480.1" cy="2218.0" r="4.3"/>
<circle cx="1488.2" cy="2116.8" r="4.3"/>
<circle cx="1487.2" cy="2210.4" r="4.3"/>
<circle cx="1435.9" cy="2226.5" r="4.3"/>
<circle cx="1485.9" cy="2228.1" r="4.3"/>
<circle cx="1436.8" cy="2357.9" r="4.3"/>
<circle cx="1446.2" cy="2155.0" r="4.3"/>
<circle cx="1470.5" cy="2072.9" r="4.3"/>
<circle cx="1442.9" cy="2089.3" r="4.3"/>
<circle cx="1481.5" cy="2150.1" r="4.3"/>
<circle cx="1452.5" cy="2075.0" r="4.3"/>
<circle cx="1448.5" cy="2181.5" r="4.3"/>
<circle cx="1463.2" cy="2169.9" r="4.3"/>
<circle cx="1466.2" cy="2090.0" r="4.3"/>
<circle cx="1470.1" cy="2159.2" r="4.3"/>
<circle cx="1493.0" cy="2101.2" r="4.3"/>
<circle cx="1476.2" cy="2236.2" r="4.3"/>
<circle cx="1448.5" cy="2221.0" r="4.3"/>
<circle cx="1489.6" cy="2157.3" r="4.3"/>
<circle cx="1488.5" cy="2263.8" r="4.3"/>
<circle cx="1451.4" cy="2134.2" r="4.3"/>
<circle cx="1437.1" cy="2096.3" r="4.3"/>
<circle cx="1464.4" cy="2105.3" r="4.3"/>
<circle cx="1481.9" cy="2225.9" r="4.3"/>
<circle cx="1446.4" cy="2135.1" r="4.3"/>
<circle cx="1461.6" cy="2083.5" r="4.3"/>
<circle cx="1432.5" cy="2098.0" r="4.3"/>
<circle cx="1466.1" cy="2140.5" r="4.3"/>
<circle cx="1462.7" cy="2252.0" r="4.3"/>
<circle cx="1435.4" cy="2199.9" r="4.3"/>
<circle cx="1471.4" cy="2235.9" r="4.3"/>
<circle cx="1477.0" cy="2138.5" r="4.3"/>
<circle cx="1491.9" cy="2268.7" r="4.3"/>
<circle cx="1461.0" cy="2141.2" r="4.3"/>
<circle cx="1439.2" cy="2240.1" r="4.3"/>
<circle cx="1442.5" cy="2131.2" r="4.3"/>
<circle cx="1435.4" cy="2152.5" r="4.3"/>
<circle cx="1475.8" cy="2250.3" r="4.3"/>
<circle cx="1492.0" cy="2071.0" r="4.3"/>
<circle cx="1444.0" cy="2269.6" r="4.3"/>
<circle cx="1447.0" cy="2109.9" r="4.3"/>
<circle cx="1476.8" cy="2145.9" r="4.3"/>
<circle cx="1461.0" cy="2100.8" r="4.3"/>
<circle cx="1453.1" cy="2414.4" r="4.3"/>
<circle cx="1447.9" cy="2226.4" r="4.3"/>
<circle cx="1437.5" cy="2133.0" r="4.3"/>
<circle cx="1446.1" cy="2150.3" r="4.3"/>
<circle cx="1466.7" cy="2103.0" r="4.3"/>
<circle cx="1481.9" cy="2091.1" r="4.3"/>
<circle cx="1466.0" cy="2231.5" r="4.3"/>
<circle cx="1436.6" cy="2069.9" r="4.3"/>
<circle cx="1433.3" cy="2196.2" r="4.3"/>
<circle cx="1455.1" cy="2129.7" r="4.3"/>
<circle cx="1434.9" cy="2234.7" r="4.3"/>
<circle cx="1489.0" cy="2392.4" r="4.3"/>
<circle cx="1489.3" cy="2269.1" r="4.3"/>
<circle cx="1439.0" cy="2211.1" r="4.3"/>
<circle cx="1474.2" cy="2132.9" r="4.3"/>
<circle cx="1431.4" cy="2147.1" r="4.3"/>
<circle cx="1459.4" cy="2193.0" r="4.3"/>
<circle cx="1435.4" cy="2162.2" r="4.3"/>
<circle cx="1452.9" cy="2271.0" r="4.3"/>
<circle cx="1437.5" cy="2125.5" r="4.3"/>
<circle cx="1447.8" cy="2167.1" r="4.3"/>
<circle cx="1452.3" cy="2155.9" r="4.3"/>
<circle cx="1451.4" cy="2206.7" r="4.3"/>
<circle cx="1469.5" cy="2094.3" r="4.3"/>
<circle cx="1494.0" cy="2262.1" r="4.3"/>
<circle cx="1447.8" cy="2173.1" r="4.3"/>
<circle cx="1472.1" cy="2110.3" r="4.3"/>
<circle cx="1436.6" cy="2077.9" r="4.3"/>
<circle cx="1486.3" cy="2302.0" r="4.3"/>
<circle cx="1481.9" cy="2068.8" r="4.3"/>
<circle cx="1468.3" cy="2156.4" r="4.3"/>
<circle cx="1480.8" cy="2152.6" r="4.3"/>
<circle cx="1447.2" cy="2075.0" r="4.3"/>
<circle cx="1453.9" cy="2073.3" r="4.3"/>
<circle cx="1482.3" cy="2145.4" r="4.3"/>
<circle cx="1483.6" cy="2096.0" r="4.3"/>
<circle cx="1439.3" cy="2182.2" r="4.3"/>
<circle cx="1488.6" cy="2240.1" r="4.3"/>
<circle cx="1436.2" cy="2153.4" r="4.3"/>
<circle cx="1452.5" cy="2357.9" r="4.3"/>
<circle cx="1449.4" cy="2061.1" r="4.3"/>
<circle cx="1453.8" cy="2112.5" r="4.3"/>
<circle cx="1453.4" cy="2373.0" r="4.3"/>
<circle cx="1434.6" cy="2068.4" r="4.3"/>
<circle cx="1441.5" cy="2095.2" r="4.3"/>
<circle cx="1487.1" cy="2188.5" r="4.3"/>
<circle cx="1458.6" cy="2088.1" r="4.3"/>
<circle cx="1449.4" cy="2197.0" r="4.3"/>
<circle cx="1449.0" cy="2153.0" r="4.3"/>
<circle cx="1474.1" cy="2140.3" r="4.3"/>
<circle cx="1486.6" cy="2150.9" r="4.3"/>
<circle cx="1482.1" cy="2152.8" r="4.3"/>
<circle cx="1480.9" cy="2086.6" r="4.3"/>
<circle cx="1480.2" cy="2334.0" r="4.3"/>
<circle cx="1469.9" cy="2074.7" r="4.3"/>
<circle cx="1435.4" cy="2217.6" r="4.3"/>
<circle cx="1492.5" cy="2180.8" r="4.3"/>
<circle cx="1444.0" cy="2087.2" r="4.3"/>
<circle cx="1482.3" cy="2166.3" r="4.3"/>
<circle cx="1434.7" cy="2058.5" r="4.3"/>
</g>
<g fill="#F8B7B0" stroke="#000" stroke-width="1.1">
<circle cx="1586.5" cy="2366.6" r="4.3"/>
<circle cx="1617.6" cy="2042.2" r="4.3"/>
<circle cx="1602.8" cy="2291.7" r="4.3"/>
<circle cx="1621.5" cy="2206.7" r="4.3"/>
<circle cx="1590.9" cy="2241.8" r="4.3"/>
<circle cx="1637.7" cy="2313.0" r="4.3"/>
<circle cx="1599.1" cy="2179.7" r="4.3"/>
<circle cx="1584.1" cy="2097.7" r="4.3"/>
<circle cx="1578.9" cy="2186.6" r="4.3"/>
<circle cx="1636.9" cy="2154.6" r="4.3"/>
<circle cx="1630.7" cy="2169.4" r="4.3"/>
<circle cx="1610.5" cy="2165.5" r="4.3"/>
<circle cx="1578.7" cy="2193.0" r="4.3"/>
<circle cx="1611.4" cy="2289.7" r="4.3"/>
<circle cx="1617.7" cy="2043.8" r="4.3"/>
<circle cx="1633.1" cy="2261.8" r="4.3"/>
<circle cx="1631.3" cy="2208.0" r="4.3"/>
<circle cx="1584.8" cy="2248.2" r="4.3"/>
<circle cx="1602.7" cy="2138.9" r="4.3"/>
<circle cx="1608.4" cy="2109.6" r="4.3"/>
<circle cx="1598.4" cy="2315.6" r="4.3"/>
<circle cx="1600.6" cy="2157.6" r="4.3"/>
<circle cx="1606.9" cy="2298.8" r="4.3"/>
<circle cx="1596.4" cy="2095.1" r="4.3"/>
<circle cx="1594.3" cy="2202.0" r="4.3"/>
<circle cx="1639.9" cy="2130.6" r="4.3"/>
<circle cx="1616.0" cy="2150.9" r="4.3"/>
<circle cx="1591.3" cy="2099.2" r="4.3"/>
<circle cx="1592.5" cy="2169.7" r="4.3"/>
<circle cx="1616.3" cy="2222.2" r="4.3"/>
<circle cx="1581.6" cy="2117.2" r="4.3"/>
<circle cx="1639.9" cy="2206.4" r="4.3"/>
<circle cx="1613.4" cy="2202.8" r="4.3"/>
<circle cx="1590.6" cy="2278.7" r="4.3"/>
<circle cx="1579.5" cy="2246.0" r="4.3"/>
<circle cx="1639.4" cy="2204.8" r="4.3"/>
<circle cx="1632.3" cy="2084.6" r="4.3"/>
<circle cx="1610.6" cy="2083.7" r="4.3"/>
<circle cx="1581.1" cy="2204.7" r="4.3"/>
<circle cx="1580.7" cy="2294.6" r="4.3"/>
<circle cx="1599.6" cy="2235.5" r="4.3"/>
<circle cx="1602.8" cy="2153.8" r="4.3"/>
<circle cx="1596.1" cy="2318.5" r="4.3"/>
<circle cx="1622.3" cy="2168.0" r="4.3"/>
<circle cx="1584.8" cy="2185.9" r="4.3"/>
<circle cx="1636.2" cy="2159.1" r="4.3"/>
<circle cx="1624.5" cy="2287.6" r="4.3"/>
<circle cx="1618.6" cy="2083.2" r="4.3"/>
<circle cx="1610.7" cy="2089.9" r="4.3"/>
<circle cx="1580.6" cy="2290.5" r="4.3"/>
<circle cx="1599.7" cy="2086.8" r="4.3"/>
<circle cx="1590.4" cy="2189.4" r="4.3"/>
<circle cx="1639.4" cy="2302.1" r="4.3"/>
<circle cx="1593.0" cy="2115.6" r="4.3"/>
<circle cx="1629.1" cy="2145.6" r="4.3"/>
<circle cx="1612.7" cy="2225.1" r="4.3"/>
<circle cx="1615.8" cy="2307.1" r="4.3"/>
<circle cx="1630.7" cy="2201.9" r="4.3"/>
<circle cx="1604.6" cy="2291.5" r="4.3"/>
<circle cx="1581.0" cy="2142.7" r="4.3"/>
<circle cx="1580.2" cy="2151.9" r="4.3"/>
<circle cx="1619.1" cy="2164.4" r="4.3"/>
<circle cx="1576.2" cy="2217.7" r="4.3"/>
<circle cx="1581.2" cy="2218.6" r="4.3"/>
<circle cx="1606.5" cy="2207.9" r="4.3"/>
<circle cx="1590.9" cy="2233.4" r="4.3"/>
<circle cx="1614.5" cy="2302.6" r="4.3"/>
<circle cx="1639.1" cy="2189.2" r="4.3"/>
<circle cx="1625.8" cy="2340.0" r="4.3"/>
<circle cx="1604.1" cy="2180.3" r="4.3"/>
<circle cx="1606.4" cy="2199.5" r="4.3"/>
<circle cx="1629.2" cy="2116.2" r="4.3"/>
<circle cx="1588.9" cy="2086.4" r="4.3"/>
<circle cx="1591.4" cy="2149.0" r="4.3"/>
<circle cx="1601.6" cy="2171.4" r="4.3"/>
<circle cx="1624.7" cy="2312.1" r="4.3"/>
<circle cx="1600.8" cy="2178.5" r="4.3"/>
<circle cx="1623.1" cy="2240.3" r="4.3"/>
<circle cx="1638.3" cy="2295.0" r="4.3"/>
<circle cx="1603.7" cy="2156.3" r="4.3"/>
<circle cx="1622.0" cy="2219.0" r="4.3"/>
<circle cx="1583.7" cy="2086.3" r="4.3"/>
<circle cx="1604.5" cy="2318.6" r="4.3"/>
<circle cx="1609.9" cy="2162.4" r="4.3"/>
<circle cx="1599.6" cy="2145.1" r="4.3"/>
<circle cx="1602.6" cy="2154.8" r="4.3"/>
<circle cx="1595.7" cy="2083.3" r="4.3"/>
<circle cx="1583.9" cy="2050.8" r="4.3"/>
<circle cx="1588.8" cy="2215.5" r="4.3"/>
<circle cx="1611.9" cy="2270.8" r="4.3"/>
<circle cx="1630.3" cy="2151.9" r="4.3"/>
<circle cx="1618.1" cy="2166.0" r="4.3"/>
<circle cx="1633.2" cy="2170.7" r="4.3"/>
<circle cx="1634.5" cy="2135.8" r="4.3"/>
<circle cx="1582.6" cy="2251.7" r="4.3"/>
<circle cx="1632.2" cy="2193.7" r="4.3"/>
<circle cx="1613.4" cy="2168.6" r="4.3"/>
<circle cx="1576.7" cy="2162.6" r="4.3"/>
<circle cx="1595.4" cy="2100.0" r="4.3"/>
<circle cx="1627.2" cy="2131.4" r="4.3"/>
<circle cx="1579.8" cy="2235.5" r="4.3"/>
<circle cx="1639.0" cy="2169.7" r="4.3"/>
<circle cx="1622.9" cy="2137.8" r="4.3"/>
<circle cx="1598.3" cy="2072.3" r="4.3"/>
<circle cx="1582.1" cy="2127.9" r="4.3"/>
<circle cx="1633.6" cy="2147.1" r="4.3"/>
<circle cx="1593.4" cy="2110.4" r="4.3"/>
<circle cx="1606.8" cy="2261.8" r="4.3"/>
<circle cx="1587.1" cy="2175.1" r="4.3"/>
<circle cx="1635.3" cy="2330.9" r="4.3"/>
<circle cx="1635.7" cy="2151.0" r="4.3"/>
<circle cx="1621.1" cy="2185.5" r="4.3"/>
<circle cx="1602.2" cy="2270.4" r="4.3"/>
<circle cx="1626.7" cy="2165.6" r="4.3"/>
<circle cx="1586.3" cy="2189.4" r="4.3"/>
<circle cx="1598.3" cy="2185.3" r="4.3"/>
<circle cx="1606.4" cy="2150.9" r="4.3"/>
<circle cx="1579.6" cy="2228.8" r="4.3"/>
<circle cx="1595.6" cy="2161.5" r="4.3"/>
<circle cx="1627.3" cy="2131.6" r="4.3"/>
<circle cx="1629.2" cy="2079.3" r="4.3"/>
<circle cx="1633.4" cy="2268.0" r="4.3"/>
<circle cx="1619.5" cy="2254.1" r="4.3"/>
<circle cx="1599.5" cy="2169.8" r="4.3"/>
<circle cx="1630.0" cy="2259.6" r="4.3"/>
<circle cx="1621.0" cy="2156.6" r="4.3"/>
<circle cx="1630.6" cy="2101.3" r="4.3"/>
<circle cx="1620.3" cy="2183.8" r="4.3"/>
<circle cx="1587.4" cy="2171.6" r="4.3"/>
<circle cx="1637.4" cy="2115.2" r="4.3"/>
<circle cx="1601.8" cy="2090.0" r="4.3"/>
<circle cx="1595.5" cy="2105.4" r="4.3"/>
<circle cx="1639.4" cy="2181.3" r="4.3"/>
<circle cx="1601.0" cy="2234.6" r="4.3"/>
<circle cx="1597.7" cy="2230.4" r="4.3"/>
<circle cx="1606.0" cy="2221.5" r="4.3"/>
<circle cx="1598.4" cy="2183.1" r="4.3"/>
<circle cx="1625.4" cy="2108.5" r="4.3"/>
<circle cx="1582.2" cy="2349.5" r="4.3"/>
<circle cx="1586.2" cy="2049.3" r="4.3"/>
<circle cx="1606.2" cy="2260.9" r="4.3"/>
<circle cx="1635.5" cy="2267.1" r="4.3"/>
<circle cx="1619.2" cy="2197.6" r="4.3"/>
<circle cx="1598.3" cy="2186.6" r="4.3"/>
<circle cx="1626.2" cy="2232.2" r="4.3"/>
<circle cx="1632.1" cy="2168.3" r="4.3"/>
<circle cx="1639.3" cy="2179.4" r="4.3"/>
<circle cx="1615.7" cy="2150.1" r="4.3"/>
<circle cx="1588.0" cy="2147.5" r="4.3"/>
<circle cx="1608.1" cy="2073.0" r="4.3"/>
<circle cx="1621.3" cy="2084.8" r="4.3"/>
<circle cx="1582.5" cy="2182.6" r="4.3"/>
<circle cx="1590.7" cy="2094.8" r="4.3"/>
<circle cx="1584.5" cy="2232.0" r="4.3"/>
<circle cx="1580.8" cy="2071.5" r="4.3"/>
<circle cx="1597.4" cy="2187.0" r="4.3"/>
<circle cx="1610.8" cy="2226.0" r="4.3"/>
<circle cx="1634.1" cy="2183.5" r="4.3"/>
<circle cx="1629.6" cy="2199.1" r="4.3"/>
<circle cx="1626.1" cy="2091.3" r="4.3"/>
<circle cx="1624.2" cy="2277.2" r="4.3"/>
<circle cx="1632.7" cy="2188.6" r="4.3"/>
<circle cx="1602.1" cy="2223.8" r="4.3"/>
<circle cx="1606.6" cy="2089.0" r="4.3"/>
<circle cx="1599.4" cy="2335.8" r="4.3"/>
<circle cx="1587.5" cy="2165.5" r="4.3"/>
<circle cx="1598.3" cy="2119.5" r="4.3"/>
<circle cx="1626.3" cy="2099.3" r="4.3"/>
<circle cx="1602.7" cy="2172.8" r="4.3"/>
<circle cx="1603.4" cy="2128.5" r="4.3"/>
<circle cx="1612.6" cy="2155.5" r="4.3"/>
<circle cx="1625.4" cy="2156.4" r="4.3"/>
</g>
<line x1="1377.3" y1="2023.3" x2="1377.3" y2="2435.6" stroke="#000" stroke-width="1.4"/>
<line x1="1376.6" y1="2434.9" x2="1693.3" y2="2434.9" stroke="#000" stroke-width="1.4"/>
<line x1="1368.8" y1="2024.6" x2="1377.3" y2="2024.6" stroke="#333" stroke-width="1.2"/>
<text x="1364.8" y="2031.6" font-size="20" text-anchor="end" fill="#4D4D4D">1.0</text>
<line x1="1368.8" y1="2131.3" x2="1377.3" y2="2131.3" stroke="#333" stroke-width="1.2"/>
<text x="1364.8" y="2138.3" font-size="20" text-anchor="end" fill="#4D4D4D">0.8</text>
<line x1="1368.8" y1="2238" x2="1377.3" y2="2238" stroke="#333" stroke-width="1.2"/>
<text x="1364.8" y="2245" font-size="20" text-anchor="end" fill="#4D4D4D">0.6</text>
<line x1="1368.8" y1="2344.7" x2="1377.3" y2="2344.7" stroke="#333" stroke-width="1.2"/>
<text x="1364.8" y="2351.7" font-size="20" text-anchor="end" fill="#4D4D4D">0.4</text>
<line x1="1463.6" y1="2434.9" x2="1463.6" y2="2443.5" stroke="#333" stroke-width="1.2"/>
<text x="1463.6" y="2462.5" font-size="19.8" text-anchor="end" fill="#000">HRisk</text>
<line x1="1607.6" y1="2434.9" x2="1607.6" y2="2443.5" stroke="#333" stroke-width="1.2"/>
<text x="1607.6" y="2462.5" font-size="19.8" text-anchor="end" fill="#000">LRisk</text>
<text transform="translate(1327 2229) rotate(-90)" font-size="20.1" text-anchor="middle" fill="#000">TumorPurity</text>
<text x="1515.6" y="2416.2" font-size="18.3" text-anchor="middle" fill="#000">Wilcoxon, p = 0.0035</text>
</svg></body></html>
